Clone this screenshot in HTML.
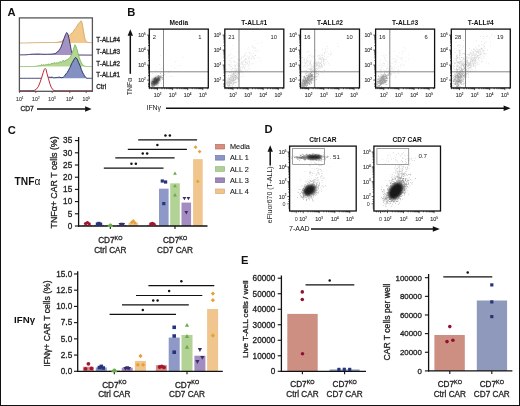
<!DOCTYPE html>
<html><head><meta charset="utf-8"><title>Figure</title><style>html,body{margin:0;padding:0;background:#fff;width:520px;height:406px;overflow:hidden}svg{display:block;will-change:transform;font-family:"Liberation Sans",sans-serif}text{stroke:#222;stroke-width:0.3px}text[font-weight="bold"],text.t{stroke:none}text.p{stroke:#333;stroke-width:0.12px}text.q{stroke-width:0.12px}</style></head><body>
<svg width="520" height="406" viewBox="0 0 520 406" font-family='"Liberation Sans", sans-serif'><defs><filter id="blur1" x="-50%" y="-50%" width="200%" height="200%"><feGaussianBlur stdDeviation="1.3"/></filter></defs><rect x="0.50" y="0.50" width="519.00" height="405.00" fill="#fff" stroke="#111" stroke-width="1" />
<text x="7.60" y="15.80" font-size="11.2" text-anchor="start" font-weight="bold" fill="#111" >A</text>
<clipPath id="clipA"><rect x="19.4" y="17.9" width="73.0" height="73.4"/></clipPath>
<g clip-path="url(#clipA)">
<path d="M18.40,43.10 L19.40,43.10 L20.22,43.08 L21.05,43.06 L21.87,43.04 L22.70,43.02 L23.52,43.00 L24.34,42.98 L25.17,42.96 L25.99,42.94 L26.82,42.92 L27.64,42.90 L28.46,42.88 L29.29,42.86 L30.11,42.84 L30.94,42.82 L31.76,42.80 L32.58,42.78 L33.41,42.76 L34.23,42.74 L35.06,42.72 L35.88,42.70 L36.70,42.68 L37.53,42.66 L38.35,42.64 L39.18,42.62 L40.00,42.60 L40.83,42.59 L41.67,42.59 L42.50,42.58 L43.33,42.58 L44.17,42.57 L45.00,42.57 L45.83,42.56 L46.67,42.56 L47.50,42.55 L48.33,42.54 L49.17,42.54 L50.00,42.53 L50.83,42.53 L51.67,42.52 L52.50,42.52 L53.33,42.51 L54.17,42.51 L55.00,42.50 L56.00,42.40 L57.00,42.30 L58.00,42.20 L59.00,41.97 L60.00,41.48 L61.00,41.74 L61.83,41.18 L62.67,40.33 L63.50,40.00 L64.33,39.23 L65.17,38.64 L66.00,38.00 L66.83,36.85 L67.67,36.14 L68.50,36.04 L69.50,35.15 L70.50,34.78 L71.50,33.20 L72.50,32.46 L73.50,31.16 L74.50,29.31 L75.50,28.46 L76.50,27.08 L77.50,25.07 L78.50,23.67 L79.35,22.78 L80.20,21.81 L81.00,20.72 L81.80,21.80 L82.60,25.45 L83.50,30.67 L84.40,36.31 L85.30,39.96 L86.50,41.80 L88.00,42.50 L88.88,42.54 L89.76,42.58 L90.64,42.62 L91.52,42.66 L92.40,42.70 L93.40,43.10 Z" fill="#f3c98a" stroke="none"/>
<path d="M18.40,43.10 L19.40,43.10 L20.22,43.08 L21.05,43.06 L21.87,43.04 L22.70,43.02 L23.52,43.00 L24.34,42.98 L25.17,42.96 L25.99,42.94 L26.82,42.92 L27.64,42.90 L28.46,42.88 L29.29,42.86 L30.11,42.84 L30.94,42.82 L31.76,42.80 L32.58,42.78 L33.41,42.76 L34.23,42.74 L35.06,42.72 L35.88,42.70 L36.70,42.68 L37.53,42.66 L38.35,42.64 L39.18,42.62 L40.00,42.60 L40.83,42.59 L41.67,42.59 L42.50,42.58 L43.33,42.58 L44.17,42.57 L45.00,42.57 L45.83,42.56 L46.67,42.56 L47.50,42.55 L48.33,42.54 L49.17,42.54 L50.00,42.53 L50.83,42.53 L51.67,42.52 L52.50,42.52 L53.33,42.51 L54.17,42.51 L55.00,42.50 L56.00,42.40 L57.00,42.30 L58.00,42.20 L59.00,41.97 L60.00,41.48 L61.00,41.74 L61.83,41.18 L62.67,40.33 L63.50,40.00 L64.33,39.23 L65.17,38.64 L66.00,38.00 L66.83,36.85 L67.67,36.14 L68.50,36.04 L69.50,35.15 L70.50,34.78 L71.50,33.20 L72.50,32.46 L73.50,31.16 L74.50,29.31 L75.50,28.46 L76.50,27.08 L77.50,25.07 L78.50,23.67 L79.35,22.78 L80.20,21.81 L81.00,20.72 L81.80,21.80 L82.60,25.45 L83.50,30.67 L84.40,36.31 L85.30,39.96 L86.50,41.80 L88.00,42.50 L88.88,42.54 L89.76,42.58 L90.64,42.62 L91.52,42.66 L92.40,42.70 L93.40,43.10" fill="none" stroke="#c9a266" stroke-width="0.8" stroke-linejoin="round"/>
<path d="M18.40,55.10 L19.40,54.90 L20.22,54.89 L21.05,54.88 L21.88,54.86 L22.70,54.85 L23.52,54.84 L24.35,54.83 L25.18,54.81 L26.00,54.80 L26.86,54.71 L27.71,54.63 L28.57,54.54 L29.43,54.46 L30.29,54.37 L31.14,54.29 L32.00,54.20 L32.86,54.17 L33.71,54.14 L34.57,54.11 L35.43,54.09 L36.29,54.06 L37.14,54.03 L38.00,54.00 L38.86,54.04 L39.71,54.09 L40.57,54.13 L41.43,54.17 L42.29,54.21 L43.14,54.26 L44.00,54.30 L44.86,54.29 L45.71,54.27 L46.57,54.26 L47.43,54.24 L48.29,54.23 L49.14,54.21 L50.00,54.20 L50.80,54.12 L51.60,54.04 L52.40,53.96 L53.20,53.88 L54.00,53.80 L55.00,53.64 L56.00,53.20 L57.00,52.23 L58.00,51.25 L59.00,50.70 L60.00,48.89 L61.00,47.10 L62.50,42.88 L64.00,38.56 L65.50,34.56 L66.70,32.55 L67.80,33.80 L69.00,38.46 L70.20,44.44 L71.20,50.13 L72.20,53.60 L73.50,54.60 L74.33,54.73 L75.17,54.87 L76.00,55.00 L93.40,55.10 Z" fill="#a393c4" stroke="none"/>
<path d="M18.40,55.10 L19.40,54.90 L20.22,54.89 L21.05,54.88 L21.88,54.86 L22.70,54.85 L23.52,54.84 L24.35,54.83 L25.18,54.81 L26.00,54.80 L26.86,54.71 L27.71,54.63 L28.57,54.54 L29.43,54.46 L30.29,54.37 L31.14,54.29 L32.00,54.20 L32.86,54.17 L33.71,54.14 L34.57,54.11 L35.43,54.09 L36.29,54.06 L37.14,54.03 L38.00,54.00 L38.86,54.04 L39.71,54.09 L40.57,54.13 L41.43,54.17 L42.29,54.21 L43.14,54.26 L44.00,54.30 L44.86,54.29 L45.71,54.27 L46.57,54.26 L47.43,54.24 L48.29,54.23 L49.14,54.21 L50.00,54.20 L50.80,54.12 L51.60,54.04 L52.40,53.96 L53.20,53.88 L54.00,53.80 L55.00,53.64 L56.00,53.20 L57.00,52.23 L58.00,51.25 L59.00,50.70 L60.00,48.89 L61.00,47.10 L62.50,42.88 L64.00,38.56 L65.50,34.56 L66.70,32.55 L67.80,33.80 L69.00,38.46 L70.20,44.44 L71.20,50.13 L72.20,53.60 L73.50,54.60 L74.33,54.73 L75.17,54.87 L76.00,55.00 L93.40,55.10" fill="none" stroke="#342a60" stroke-width="0.9" stroke-linejoin="round"/>
<path d="M18.40,66.60 L19.40,66.60 L20.01,66.60 L20.62,66.59 L21.22,66.59 L21.83,66.58 L22.44,66.58 L23.05,66.57 L23.66,66.57 L24.27,66.57 L24.88,66.56 L25.48,66.56 L26.09,66.55 L26.70,66.55 L27.31,66.55 L27.92,66.54 L28.52,66.54 L29.13,66.53 L29.74,66.53 L30.35,66.53 L30.96,66.52 L31.57,66.52 L32.17,66.51 L32.78,66.51 L33.39,66.50 L34.00,66.50 L34.67,66.42 L35.33,66.33 L36.00,66.25 L36.67,66.17 L37.33,66.08 L38.00,65.63 L38.67,65.95 L39.33,65.58 L40.00,65.80 L40.67,65.71 L41.33,64.81 L42.00,64.62 L42.67,65.66 L43.33,64.73 L44.00,64.58 L44.67,65.53 L45.33,64.68 L46.00,65.07 L46.67,64.45 L47.33,64.56 L48.00,63.76 L48.67,64.32 L49.33,64.53 L50.00,63.93 L50.67,64.12 L51.33,63.91 L52.00,62.94 L52.67,63.79 L53.33,63.44 L54.00,62.92 L54.67,62.41 L55.33,63.45 L56.00,62.76 L56.67,62.97 L57.33,63.06 L58.00,62.70 L58.67,62.84 L59.33,61.95 L60.00,62.37 L60.67,61.72 L61.33,62.26 L62.00,62.03 L62.60,60.78 L63.20,60.67 L63.80,60.62 L64.40,61.51 L65.00,60.61 L65.62,60.60 L66.25,59.87 L66.88,59.89 L67.50,59.44 L68.17,58.86 L68.83,58.65 L69.50,58.12 L70.35,57.07 L71.20,55.25 L72.00,53.40 L72.80,51.10 L73.40,49.49 L74.00,47.24 L74.90,44.73 L75.90,46.20 L76.55,48.10 L77.20,50.00 L77.90,52.80 L78.60,55.60 L79.30,57.70 L80.00,59.80 L80.80,61.50 L81.60,63.20 L82.40,64.25 L83.20,65.30 L84.10,65.85 L85.00,66.40 L85.62,66.42 L86.23,66.43 L86.85,66.45 L87.47,66.47 L88.08,66.48 L88.70,66.50 L89.32,66.52 L89.93,66.53 L90.55,66.55 L91.17,66.57 L91.78,66.58 L92.40,66.60 L93.40,66.60 Z" fill="#b3d793" stroke="none"/>
<path d="M18.40,66.60 L19.40,66.60 L20.01,66.60 L20.62,66.59 L21.22,66.59 L21.83,66.58 L22.44,66.58 L23.05,66.57 L23.66,66.57 L24.27,66.57 L24.88,66.56 L25.48,66.56 L26.09,66.55 L26.70,66.55 L27.31,66.55 L27.92,66.54 L28.52,66.54 L29.13,66.53 L29.74,66.53 L30.35,66.53 L30.96,66.52 L31.57,66.52 L32.17,66.51 L32.78,66.51 L33.39,66.50 L34.00,66.50 L34.67,66.42 L35.33,66.33 L36.00,66.25 L36.67,66.17 L37.33,66.08 L38.00,65.63 L38.67,65.95 L39.33,65.58 L40.00,65.80 L40.67,65.71 L41.33,64.81 L42.00,64.62 L42.67,65.66 L43.33,64.73 L44.00,64.58 L44.67,65.53 L45.33,64.68 L46.00,65.07 L46.67,64.45 L47.33,64.56 L48.00,63.76 L48.67,64.32 L49.33,64.53 L50.00,63.93 L50.67,64.12 L51.33,63.91 L52.00,62.94 L52.67,63.79 L53.33,63.44 L54.00,62.92 L54.67,62.41 L55.33,63.45 L56.00,62.76 L56.67,62.97 L57.33,63.06 L58.00,62.70 L58.67,62.84 L59.33,61.95 L60.00,62.37 L60.67,61.72 L61.33,62.26 L62.00,62.03 L62.60,60.78 L63.20,60.67 L63.80,60.62 L64.40,61.51 L65.00,60.61 L65.62,60.60 L66.25,59.87 L66.88,59.89 L67.50,59.44 L68.17,58.86 L68.83,58.65 L69.50,58.12 L70.35,57.07 L71.20,55.25 L72.00,53.40 L72.80,51.10 L73.40,49.49 L74.00,47.24 L74.90,44.73 L75.90,46.20 L76.55,48.10 L77.20,50.00 L77.90,52.80 L78.60,55.60 L79.30,57.70 L80.00,59.80 L80.80,61.50 L81.60,63.20 L82.40,64.25 L83.20,65.30 L84.10,65.85 L85.00,66.40 L85.62,66.42 L86.23,66.43 L86.85,66.45 L87.47,66.47 L88.08,66.48 L88.70,66.50 L89.32,66.52 L89.93,66.53 L90.55,66.55 L91.17,66.57 L91.78,66.58 L92.40,66.60 L93.40,66.60" fill="none" stroke="#72b050" stroke-width="0.8" stroke-linejoin="round"/>
<path d="M18.40,78.30 L19.40,78.30 L20.20,78.30 L21.01,78.30 L21.81,78.30 L22.61,78.30 L23.41,78.30 L24.22,78.30 L25.02,78.30 L25.82,78.30 L26.63,78.30 L27.43,78.30 L28.23,78.30 L29.03,78.30 L29.84,78.30 L30.64,78.30 L31.44,78.30 L32.25,78.30 L33.05,78.30 L33.85,78.30 L34.65,78.30 L35.46,78.30 L36.26,78.30 L37.06,78.30 L37.87,78.30 L38.67,78.30 L39.47,78.30 L40.27,78.30 L41.08,78.30 L41.88,78.30 L42.68,78.30 L43.49,78.30 L44.29,78.30 L45.09,78.30 L45.89,78.30 L46.70,78.30 L47.50,78.30 L48.60,77.34 L49.45,77.24 L50.30,77.39 L51.15,77.22 L52.00,77.14 L52.80,77.38 L53.60,77.73 L54.40,77.70 L55.20,77.72 L56.00,77.43 L56.80,77.58 L57.60,77.39 L58.40,77.28 L59.20,77.20 L60.00,77.23 L61.00,77.71 L62.00,77.70 L63.20,77.28 L64.60,75.88 L66.00,73.82 L67.20,72.59 L68.10,70.98 L69.00,69.24 L69.85,67.66 L70.70,66.03 L71.55,63.80 L72.40,62.36 L74.00,59.40 L75.50,57.50 L77.00,58.81 L78.50,62.28 L80.00,65.55 L81.40,69.56 L82.80,72.92 L83.65,74.28 L84.50,75.80 L85.80,77.60 L87.00,78.30 L87.90,78.30 L88.80,78.30 L89.70,78.30 L90.60,78.30 L91.50,78.30 L92.40,78.30 L93.40,78.30 Z" fill="#8590c2" stroke="none"/>
<path d="M18.40,78.30 L19.40,78.30 L20.20,78.30 L21.01,78.30 L21.81,78.30 L22.61,78.30 L23.41,78.30 L24.22,78.30 L25.02,78.30 L25.82,78.30 L26.63,78.30 L27.43,78.30 L28.23,78.30 L29.03,78.30 L29.84,78.30 L30.64,78.30 L31.44,78.30 L32.25,78.30 L33.05,78.30 L33.85,78.30 L34.65,78.30 L35.46,78.30 L36.26,78.30 L37.06,78.30 L37.87,78.30 L38.67,78.30 L39.47,78.30 L40.27,78.30 L41.08,78.30 L41.88,78.30 L42.68,78.30 L43.49,78.30 L44.29,78.30 L45.09,78.30 L45.89,78.30 L46.70,78.30 L47.50,78.30 L48.60,77.34 L49.45,77.24 L50.30,77.39 L51.15,77.22 L52.00,77.14 L52.80,77.38 L53.60,77.73 L54.40,77.70 L55.20,77.72 L56.00,77.43 L56.80,77.58 L57.60,77.39 L58.40,77.28 L59.20,77.20 L60.00,77.23 L61.00,77.71 L62.00,77.70 L63.20,77.28 L64.60,75.88 L66.00,73.82 L67.20,72.59 L68.10,70.98 L69.00,69.24 L69.85,67.66 L70.70,66.03 L71.55,63.80 L72.40,62.36 L74.00,59.40 L75.50,57.50 L77.00,58.81 L78.50,62.28 L80.00,65.55 L81.40,69.56 L82.80,72.92 L83.65,74.28 L84.50,75.80 L85.80,77.60 L87.00,78.30 L87.90,78.30 L88.80,78.30 L89.70,78.30 L90.60,78.30 L91.50,78.30 L92.40,78.30 L93.40,78.30" fill="none" stroke="#1c2862" stroke-width="0.9" stroke-linejoin="round"/>
<path d="M18.40,90.80 L19.40,90.80 L33.00,90.70 L34.80,90.20 L36.60,88.90 L38.30,86.70 L39.80,83.00 L41.50,78.20 L43.20,72.60 L44.30,69.40 L45.10,68.40 L46.00,69.40 L47.00,73.60 L48.40,78.40 L49.80,83.50 L51.20,87.20 L52.60,89.40 L54.00,90.50 L56.00,90.80 L92.40,90.80 L93.40,90.80 Z" fill="#ffffff" stroke="none"/>
<path d="M18.40,90.80 L19.40,90.80 L33.00,90.70 L34.80,90.20 L36.60,88.90 L38.30,86.70 L39.80,83.00 L41.50,78.20 L43.20,72.60 L44.30,69.40 L45.10,68.40 L46.00,69.40 L47.00,73.60 L48.40,78.40 L49.80,83.50 L51.20,87.20 L52.60,89.40 L54.00,90.50 L56.00,90.80 L92.40,90.80 L93.40,90.80" fill="none" stroke="#b82a3a" stroke-width="1.0" stroke-linejoin="round"/>
</g>
<rect x="19.40" y="17.90" width="73.00" height="73.40" fill="none" stroke="#555" stroke-width="1.3" />
<line x1="19.60" y1="91.30" x2="19.60" y2="93.10" stroke="#444" stroke-width="0.8" />
<line x1="35.80" y1="91.30" x2="35.80" y2="93.10" stroke="#444" stroke-width="0.8" />
<line x1="52.20" y1="91.30" x2="52.20" y2="93.10" stroke="#444" stroke-width="0.8" />
<line x1="69.80" y1="91.30" x2="69.80" y2="93.10" stroke="#444" stroke-width="0.8" />
<line x1="86.20" y1="91.30" x2="86.20" y2="93.10" stroke="#444" stroke-width="0.8" />
<text class="p" x="19.80" y="101.00" font-size="5.2" text-anchor="middle" fill="#444">10<tspan font-size="2.86" dy="-2.34">1</tspan></text>
<text class="p" x="35.80" y="101.00" font-size="5.2" text-anchor="middle" fill="#444">10<tspan font-size="2.86" dy="-2.34">2</tspan></text>
<text class="p" x="52.00" y="101.00" font-size="5.2" text-anchor="middle" fill="#444">10<tspan font-size="2.86" dy="-2.34">3</tspan></text>
<text class="p" x="69.60" y="101.00" font-size="5.2" text-anchor="middle" fill="#444">10<tspan font-size="2.86" dy="-2.34">4</tspan></text>
<text class="p" x="86.20" y="101.00" font-size="5.2" text-anchor="middle" fill="#444">10<tspan font-size="2.86" dy="-2.34">5</tspan></text>
<text x="96.30" y="41.80" font-size="6.3" text-anchor="start" font-weight="normal" fill="#333" >T-ALL#4</text>
<text x="96.30" y="53.60" font-size="6.3" text-anchor="start" font-weight="normal" fill="#333" >T-ALL#3</text>
<text x="96.30" y="66.00" font-size="6.3" text-anchor="start" font-weight="normal" fill="#333" >T-ALL#2</text>
<text x="96.30" y="77.40" font-size="6.3" text-anchor="start" font-weight="normal" fill="#333" >T-ALL#1</text>
<text x="96.30" y="88.80" font-size="6.3" text-anchor="start" font-weight="normal" fill="#333" >Ctrl</text>
<text x="20.40" y="111.40" font-size="6.7" text-anchor="start" font-weight="normal" fill="#333" >CD7</text>
<line x1="37.00" y1="109.00" x2="85.60" y2="109.00" stroke="#111" stroke-width="1.5" />
<path d="M91.60,109.00 L85.10,106.30 L85.10,111.70 Z" fill="#111"/>
<text x="127.20" y="16.10" font-size="11.2" text-anchor="start" font-weight="bold" fill="#111" >B</text>
<line x1="130.30" y1="73.80" x2="130.30" y2="35.30" stroke="#111" stroke-width="1.5" />
<path d="M130.30,29.30 L127.60,35.80 L133.00,35.80 Z" fill="#111"/>
<text class="t" transform="translate(131.7,95.2) rotate(-90)" font-size="6.9" fill="#222">TNF&#945;</text>
<text x="146.50" y="109.60" font-size="6.9" text-anchor="start" font-weight="normal" fill="#222" class="t">IFN&#947;</text>
<line x1="166.00" y1="108.20" x2="504.10" y2="108.20" stroke="#111" stroke-width="1.5" />
<path d="M510.60,108.20 L503.60,105.40 L503.60,111.00 Z" fill="#111"/>
<ellipse cx="155.5" cy="81.10000000000001" rx="5.2" ry="3.2" transform="rotate(-45 155.5 81.10000000000001)" fill="#222" opacity="0.75" filter="url(#blur1)"/>
<path fill="#222" fill-opacity="0.5" d="M152.6 83.9h0.7v0.7h-0.7zM158.4 78.1h0.7v0.7h-0.7zM152.3 83.4h0.7v0.7h-0.7zM157.0 81.9h0.7v0.7h-0.7zM152.6 81.0h0.7v0.7h-0.7zM157.6 80.3h0.7v0.7h-0.7zM159.8 79.6h0.7v0.7h-0.7zM155.5 80.6h0.7v0.7h-0.7zM162.5 75.4h0.7v0.7h-0.7zM153.8 80.5h0.7v0.7h-0.7zM156.0 81.0h0.7v0.7h-0.7zM154.9 81.5h0.7v0.7h-0.7zM156.5 81.6h0.7v0.7h-0.7zM158.7 79.1h0.7v0.7h-0.7zM151.1 85.6h0.7v0.7h-0.7zM152.1 83.4h0.7v0.7h-0.7zM152.0 83.8h0.7v0.7h-0.7zM153.8 82.8h0.7v0.7h-0.7zM164.4 74.4h0.7v0.7h-0.7zM158.0 77.0h0.7v0.7h-0.7zM155.1 82.6h0.7v0.7h-0.7zM155.6 81.7h0.7v0.7h-0.7zM156.1 79.0h0.7v0.7h-0.7zM157.3 78.4h0.7v0.7h-0.7zM160.7 76.4h0.7v0.7h-0.7zM157.6 79.6h0.7v0.7h-0.7zM158.3 78.0h0.7v0.7h-0.7zM158.4 78.7h0.7v0.7h-0.7zM159.1 79.5h0.7v0.7h-0.7zM156.2 79.3h0.7v0.7h-0.7zM157.8 80.2h0.7v0.7h-0.7zM160.1 77.0h0.7v0.7h-0.7zM157.2 80.7h0.7v0.7h-0.7zM156.5 80.7h0.7v0.7h-0.7zM156.3 79.5h0.7v0.7h-0.7zM153.2 82.2h0.7v0.7h-0.7zM157.3 82.3h0.7v0.7h-0.7zM158.3 80.8h0.7v0.7h-0.7zM157.8 80.6h0.7v0.7h-0.7zM156.3 81.9h0.7v0.7h-0.7zM160.4 76.9h0.7v0.7h-0.7zM154.0 85.6h0.7v0.7h-0.7zM156.4 82.1h0.7v0.7h-0.7zM158.1 77.2h0.7v0.7h-0.7zM162.1 79.2h0.7v0.7h-0.7zM156.3 81.8h0.7v0.7h-0.7zM156.1 79.1h0.7v0.7h-0.7zM155.5 81.8h0.7v0.7h-0.7zM158.7 79.9h0.7v0.7h-0.7zM156.0 83.1h0.7v0.7h-0.7zM153.8 83.7h0.7v0.7h-0.7zM158.7 78.2h0.7v0.7h-0.7zM151.1 82.8h0.7v0.7h-0.7zM156.4 81.3h0.7v0.7h-0.7zM159.8 76.2h0.7v0.7h-0.7zM155.8 82.0h0.7v0.7h-0.7zM155.4 77.1h0.7v0.7h-0.7zM157.9 83.3h0.7v0.7h-0.7zM158.4 77.4h0.7v0.7h-0.7zM154.7 82.1h0.7v0.7h-0.7zM162.3 77.1h0.7v0.7h-0.7zM156.1 83.4h0.7v0.7h-0.7zM155.6 84.3h0.7v0.7h-0.7zM154.0 81.4h0.7v0.7h-0.7zM157.7 81.9h0.7v0.7h-0.7zM157.5 80.1h0.7v0.7h-0.7zM151.1 83.2h0.7v0.7h-0.7zM154.2 81.2h0.7v0.7h-0.7zM157.3 79.2h0.7v0.7h-0.7zM157.8 79.5h0.7v0.7h-0.7zM154.9 81.8h0.7v0.7h-0.7zM156.9 81.5h0.7v0.7h-0.7zM154.6 81.4h0.7v0.7h-0.7zM152.3 86.3h0.7v0.7h-0.7zM159.6 77.8h0.7v0.7h-0.7zM154.6 79.7h0.7v0.7h-0.7zM156.2 80.9h0.7v0.7h-0.7zM161.5 77.1h0.7v0.7h-0.7zM153.8 78.2h0.7v0.7h-0.7zM159.5 78.5h0.7v0.7h-0.7zM151.6 84.3h0.7v0.7h-0.7zM158.7 79.7h0.7v0.7h-0.7zM155.3 77.6h0.7v0.7h-0.7zM155.5 78.5h0.7v0.7h-0.7zM157.4 76.1h0.7v0.7h-0.7zM153.4 84.8h0.7v0.7h-0.7zM160.1 75.7h0.7v0.7h-0.7zM151.8 85.4h0.7v0.7h-0.7zM158.0 77.5h0.7v0.7h-0.7zM154.0 81.1h0.7v0.7h-0.7zM152.7 82.0h0.7v0.7h-0.7zM159.1 79.6h0.7v0.7h-0.7zM161.1 76.7h0.7v0.7h-0.7zM155.4 79.5h0.7v0.7h-0.7zM155.5 78.9h0.7v0.7h-0.7zM151.2 85.6h0.7v0.7h-0.7zM159.5 79.5h0.7v0.7h-0.7zM159.3 78.7h0.7v0.7h-0.7zM153.9 82.4h0.7v0.7h-0.7zM154.8 79.7h0.7v0.7h-0.7zM151.4 81.7h0.7v0.7h-0.7zM155.8 81.2h0.7v0.7h-0.7zM154.6 84.3h0.7v0.7h-0.7zM156.3 81.6h0.7v0.7h-0.7zM159.0 77.1h0.7v0.7h-0.7zM150.7 86.0h0.7v0.7h-0.7zM154.0 84.5h0.7v0.7h-0.7zM156.7 82.0h0.7v0.7h-0.7zM157.8 75.8h0.7v0.7h-0.7zM157.7 78.3h0.7v0.7h-0.7zM153.8 81.6h0.7v0.7h-0.7zM157.8 80.9h0.7v0.7h-0.7zM158.4 76.1h0.7v0.7h-0.7zM154.3 78.0h0.7v0.7h-0.7zM155.5 82.1h0.7v0.7h-0.7zM153.8 82.8h0.7v0.7h-0.7zM156.4 82.2h0.7v0.7h-0.7zM153.7 81.1h0.7v0.7h-0.7zM153.8 85.4h0.7v0.7h-0.7zM158.6 78.6h0.7v0.7h-0.7zM156.4 80.7h0.7v0.7h-0.7zM156.3 80.1h0.7v0.7h-0.7zM154.9 79.4h0.7v0.7h-0.7zM154.1 85.0h0.7v0.7h-0.7zM157.2 80.0h0.7v0.7h-0.7zM155.2 81.4h0.7v0.7h-0.7zM156.7 79.1h0.7v0.7h-0.7zM156.3 80.9h0.7v0.7h-0.7zM153.9 81.0h0.7v0.7h-0.7zM153.2 81.0h0.7v0.7h-0.7zM158.1 75.1h0.7v0.7h-0.7zM155.1 80.4h0.7v0.7h-0.7zM154.2 82.3h0.7v0.7h-0.7zM158.7 78.8h0.7v0.7h-0.7zM155.4 80.1h0.7v0.7h-0.7zM155.5 82.7h0.7v0.7h-0.7zM154.8 79.7h0.7v0.7h-0.7zM152.5 81.5h0.7v0.7h-0.7zM152.2 85.5h0.7v0.7h-0.7zM156.7 79.8h0.7v0.7h-0.7zM159.6 76.9h0.7v0.7h-0.7zM157.8 80.8h0.7v0.7h-0.7zM151.8 81.2h0.7v0.7h-0.7zM153.4 84.3h0.7v0.7h-0.7zM159.2 76.3h0.7v0.7h-0.7zM158.5 78.2h0.7v0.7h-0.7zM154.8 80.7h0.7v0.7h-0.7zM155.0 78.4h0.7v0.7h-0.7zM153.2 80.7h0.7v0.7h-0.7zM157.1 83.5h0.7v0.7h-0.7zM162.9 75.0h0.7v0.7h-0.7zM151.3 83.6h0.7v0.7h-0.7zM153.4 86.1h0.7v0.7h-0.7zM157.3 78.5h0.7v0.7h-0.7zM158.2 80.0h0.7v0.7h-0.7zM151.6 83.2h0.7v0.7h-0.7zM155.2 81.4h0.7v0.7h-0.7zM156.1 80.1h0.7v0.7h-0.7zM156.3 79.5h0.7v0.7h-0.7zM153.5 85.3h0.7v0.7h-0.7zM156.7 81.0h0.7v0.7h-0.7zM151.7 83.7h0.7v0.7h-0.7zM157.9 77.1h0.7v0.7h-0.7zM158.7 78.1h0.7v0.7h-0.7zM156.8 79.9h0.7v0.7h-0.7zM156.4 82.5h0.7v0.7h-0.7zM154.8 84.4h0.7v0.7h-0.7zM153.8 80.8h0.7v0.7h-0.7zM157.6 77.7h0.7v0.7h-0.7zM154.8 83.2h0.7v0.7h-0.7zM158.9 75.5h0.7v0.7h-0.7zM157.1 83.2h0.7v0.7h-0.7zM158.9 78.2h0.7v0.7h-0.7zM154.2 81.6h0.7v0.7h-0.7zM152.8 82.7h0.7v0.7h-0.7zM155.3 81.0h0.7v0.7h-0.7zM158.9 78.2h0.7v0.7h-0.7zM152.0 85.6h0.7v0.7h-0.7zM153.0 82.2h0.7v0.7h-0.7zM155.5 80.6h0.7v0.7h-0.7zM153.2 82.4h0.7v0.7h-0.7zM161.5 75.6h0.7v0.7h-0.7zM155.4 83.1h0.7v0.7h-0.7zM157.7 80.8h0.7v0.7h-0.7zM158.0 75.8h0.7v0.7h-0.7zM153.6 82.8h0.7v0.7h-0.7zM157.1 82.2h0.7v0.7h-0.7zM157.0 79.6h0.7v0.7h-0.7zM155.9 80.5h0.7v0.7h-0.7zM156.4 81.6h0.7v0.7h-0.7zM154.9 80.2h0.7v0.7h-0.7zM153.6 84.5h0.7v0.7h-0.7zM159.1 80.1h0.7v0.7h-0.7zM158.0 80.7h0.7v0.7h-0.7zM155.8 82.0h0.7v0.7h-0.7zM153.1 82.6h0.7v0.7h-0.7zM153.9 83.6h0.7v0.7h-0.7zM154.3 81.8h0.7v0.7h-0.7zM156.8 82.4h0.7v0.7h-0.7zM153.7 80.8h0.7v0.7h-0.7zM157.9 77.4h0.7v0.7h-0.7zM157.0 79.0h0.7v0.7h-0.7zM155.5 78.0h0.7v0.7h-0.7zM157.7 78.6h0.7v0.7h-0.7zM153.5 86.2h0.7v0.7h-0.7zM157.7 85.5h0.7v0.7h-0.7zM156.9 79.5h0.7v0.7h-0.7zM156.1 83.5h0.7v0.7h-0.7zM155.7 81.7h0.7v0.7h-0.7zM157.1 78.3h0.7v0.7h-0.7zM156.1 79.8h0.7v0.7h-0.7zM152.6 84.8h0.7v0.7h-0.7zM157.5 79.7h0.7v0.7h-0.7zM153.4 79.2h0.7v0.7h-0.7zM157.1 79.8h0.7v0.7h-0.7zM151.4 84.1h0.7v0.7h-0.7zM151.8 83.8h0.7v0.7h-0.7zM156.2 81.2h0.7v0.7h-0.7zM156.4 80.8h0.7v0.7h-0.7zM152.8 82.5h0.7v0.7h-0.7zM154.5 81.5h0.7v0.7h-0.7zM156.5 81.4h0.7v0.7h-0.7zM160.1 73.3h0.7v0.7h-0.7zM156.8 79.8h0.7v0.7h-0.7zM161.7 78.1h0.7v0.7h-0.7zM151.5 84.8h0.7v0.7h-0.7zM154.4 83.6h0.7v0.7h-0.7zM153.1 82.8h0.7v0.7h-0.7zM155.5 81.0h0.7v0.7h-0.7zM154.3 78.9h0.7v0.7h-0.7zM157.0 81.7h0.7v0.7h-0.7zM155.6 79.3h0.7v0.7h-0.7zM156.3 81.5h0.7v0.7h-0.7zM155.3 81.2h0.7v0.7h-0.7zM159.5 76.2h0.7v0.7h-0.7zM154.3 78.7h0.7v0.7h-0.7zM154.0 81.0h0.7v0.7h-0.7zM153.3 81.6h0.7v0.7h-0.7zM160.5 77.1h0.7v0.7h-0.7zM155.5 84.9h0.7v0.7h-0.7zM155.6 78.0h0.7v0.7h-0.7zM156.8 78.5h0.7v0.7h-0.7zM160.1 75.6h0.7v0.7h-0.7zM154.3 79.3h0.7v0.7h-0.7zM156.1 79.0h0.7v0.7h-0.7zM155.6 80.4h0.7v0.7h-0.7zM154.2 83.7h0.7v0.7h-0.7zM158.2 79.2h0.7v0.7h-0.7zM153.5 80.8h0.7v0.7h-0.7zM156.5 84.5h0.7v0.7h-0.7zM154.6 80.4h0.7v0.7h-0.7zM154.0 80.4h0.7v0.7h-0.7zM153.3 82.4h0.7v0.7h-0.7zM159.5 78.1h0.7v0.7h-0.7zM154.5 79.1h0.7v0.7h-0.7zM156.4 80.4h0.7v0.7h-0.7zM152.6 81.4h0.7v0.7h-0.7zM155.7 82.7h0.7v0.7h-0.7zM157.4 80.0h0.7v0.7h-0.7z"/>
<path fill="#777" fill-opacity="0.25" d="M151.7 78.3h0.7v0.7h-0.7zM161.1 68.2h0.7v0.7h-0.7zM171.0 65.7h0.7v0.7h-0.7zM161.1 82.8h0.7v0.7h-0.7zM159.3 64.2h0.7v0.7h-0.7zM152.3 73.1h0.7v0.7h-0.7zM168.6 72.2h0.7v0.7h-0.7zM172.4 76.3h0.7v0.7h-0.7zM177.1 65.9h0.7v0.7h-0.7zM174.2 67.8h0.7v0.7h-0.7zM159.1 78.0h0.7v0.7h-0.7zM164.2 68.4h0.7v0.7h-0.7zM179.8 65.3h0.7v0.7h-0.7zM159.8 71.8h0.7v0.7h-0.7zM182.6 57.1h0.7v0.7h-0.7zM169.7 70.4h0.7v0.7h-0.7zM167.9 71.3h0.7v0.7h-0.7zM159.8 69.3h0.7v0.7h-0.7zM162.4 68.4h0.7v0.7h-0.7zM170.3 76.1h0.7v0.7h-0.7zM156.5 77.9h0.7v0.7h-0.7zM155.8 70.3h0.7v0.7h-0.7zM161.8 71.9h0.7v0.7h-0.7zM160.2 55.2h0.7v0.7h-0.7zM175.0 61.5h0.7v0.7h-0.7z"/>
<line x1="163.50" y1="29.10" x2="163.50" y2="87.90" stroke="#666" stroke-width="0.8" />
<line x1="149.30" y1="71.80" x2="208.30" y2="71.80" stroke="#666" stroke-width="0.8" />
<rect x="149.30" y="29.10" width="59.00" height="58.80" fill="none" stroke="#111" stroke-width="1.3" />
<text class="p" x="141.90" y="37.10" font-size="5.3" text-anchor="middle" fill="#333">10<tspan font-size="2.92" dy="-2.38">5</tspan></text>
<text class="p" x="141.90" y="52.10" font-size="5.3" text-anchor="middle" fill="#333">10<tspan font-size="2.92" dy="-2.38">4</tspan></text>
<text class="p" x="141.90" y="67.10" font-size="5.3" text-anchor="middle" fill="#333">10<tspan font-size="2.92" dy="-2.38">3</tspan></text>
<text class="p" x="141.90" y="82.10" font-size="5.3" text-anchor="middle" fill="#333">10<tspan font-size="2.92" dy="-2.38">2</tspan></text>
<text class="p" x="157.50" y="97.30" font-size="5.4" text-anchor="middle" fill="#333">10<tspan font-size="2.97" dy="-2.43">2</tspan></text>
<text class="p" x="172.60" y="97.30" font-size="5.4" text-anchor="middle" fill="#333">10<tspan font-size="2.97" dy="-2.43">3</tspan></text>
<text class="p" x="187.70" y="97.30" font-size="5.4" text-anchor="middle" fill="#333">10<tspan font-size="2.97" dy="-2.43">4</tspan></text>
<text class="p" x="202.80" y="97.30" font-size="5.4" text-anchor="middle" fill="#333">10<tspan font-size="2.97" dy="-2.43">5</tspan></text>
<text x="178.80" y="24.80" font-size="6.6" text-anchor="middle" font-weight="bold" fill="#111" >Media</text>
<text x="152.80" y="38.90" font-size="5.8" text-anchor="start" font-weight="normal" fill="#222" class="t">2</text>
<text x="201.50" y="38.90" font-size="5.8" text-anchor="end" font-weight="normal" fill="#222" class="t">1</text>
<path fill="#444" fill-opacity="0.3" d="M234.6 82.1h0.7v0.7h-0.7zM229.1 79.0h0.7v0.7h-0.7zM233.2 84.3h0.7v0.7h-0.7zM233.3 75.5h0.7v0.7h-0.7zM229.2 81.5h0.7v0.7h-0.7zM235.3 77.8h0.7v0.7h-0.7zM230.6 80.1h0.7v0.7h-0.7zM232.5 77.3h0.7v0.7h-0.7zM231.9 80.7h0.7v0.7h-0.7zM237.7 76.1h0.7v0.7h-0.7zM235.3 74.7h0.7v0.7h-0.7zM234.9 78.5h0.7v0.7h-0.7zM230.0 81.1h0.7v0.7h-0.7zM235.1 76.9h0.7v0.7h-0.7zM235.5 82.2h0.7v0.7h-0.7zM237.6 81.1h0.7v0.7h-0.7zM227.4 83.8h0.7v0.7h-0.7zM229.5 84.3h0.7v0.7h-0.7zM232.2 80.4h0.7v0.7h-0.7zM233.6 77.1h0.7v0.7h-0.7zM232.3 77.6h0.7v0.7h-0.7zM239.3 73.9h0.7v0.7h-0.7zM232.0 74.6h0.7v0.7h-0.7zM226.7 80.7h0.7v0.7h-0.7zM234.7 80.4h0.7v0.7h-0.7zM232.9 77.4h0.7v0.7h-0.7zM238.5 72.7h0.7v0.7h-0.7zM228.9 83.3h0.7v0.7h-0.7zM228.4 83.0h0.7v0.7h-0.7zM235.4 77.5h0.7v0.7h-0.7zM233.4 79.1h0.7v0.7h-0.7zM229.5 72.0h0.7v0.7h-0.7zM227.6 82.6h0.7v0.7h-0.7zM226.1 81.9h0.7v0.7h-0.7zM232.7 83.5h0.7v0.7h-0.7zM227.1 81.4h0.7v0.7h-0.7zM232.7 81.0h0.7v0.7h-0.7zM229.0 85.0h0.7v0.7h-0.7zM231.2 81.6h0.7v0.7h-0.7zM237.8 78.3h0.7v0.7h-0.7zM232.4 76.6h0.7v0.7h-0.7zM229.6 77.1h0.7v0.7h-0.7zM239.1 70.7h0.7v0.7h-0.7zM236.5 76.0h0.7v0.7h-0.7zM234.9 75.6h0.7v0.7h-0.7zM229.9 82.7h0.7v0.7h-0.7zM233.3 77.7h0.7v0.7h-0.7zM237.7 78.5h0.7v0.7h-0.7zM232.4 76.1h0.7v0.7h-0.7zM232.4 78.7h0.7v0.7h-0.7zM231.7 82.5h0.7v0.7h-0.7zM229.9 82.0h0.7v0.7h-0.7zM234.8 79.2h0.7v0.7h-0.7zM240.1 69.5h0.7v0.7h-0.7zM231.7 76.5h0.7v0.7h-0.7zM226.1 82.7h0.7v0.7h-0.7zM234.2 78.7h0.7v0.7h-0.7zM235.2 73.2h0.7v0.7h-0.7zM235.4 74.8h0.7v0.7h-0.7zM227.6 84.4h0.7v0.7h-0.7zM233.6 76.6h0.7v0.7h-0.7zM229.0 81.2h0.7v0.7h-0.7zM231.9 79.4h0.7v0.7h-0.7zM228.3 75.2h0.7v0.7h-0.7zM236.6 77.5h0.7v0.7h-0.7zM227.4 78.0h0.7v0.7h-0.7zM229.4 80.2h0.7v0.7h-0.7zM233.4 78.0h0.7v0.7h-0.7zM233.1 79.8h0.7v0.7h-0.7zM235.7 78.0h0.7v0.7h-0.7zM236.4 81.7h0.7v0.7h-0.7zM230.8 79.3h0.7v0.7h-0.7zM228.7 81.2h0.7v0.7h-0.7zM229.3 81.6h0.7v0.7h-0.7zM233.0 80.8h0.7v0.7h-0.7zM227.7 85.8h0.7v0.7h-0.7zM230.7 80.3h0.7v0.7h-0.7zM230.0 75.0h0.7v0.7h-0.7zM232.8 74.0h0.7v0.7h-0.7zM235.8 77.5h0.7v0.7h-0.7zM237.4 78.3h0.7v0.7h-0.7zM234.4 82.5h0.7v0.7h-0.7zM231.7 84.7h0.7v0.7h-0.7zM231.4 81.0h0.7v0.7h-0.7zM229.4 83.1h0.7v0.7h-0.7zM234.2 76.9h0.7v0.7h-0.7zM227.3 82.7h0.7v0.7h-0.7zM233.4 78.5h0.7v0.7h-0.7zM228.3 79.9h0.7v0.7h-0.7zM230.9 72.6h0.7v0.7h-0.7zM229.7 85.6h0.7v0.7h-0.7zM227.2 82.2h0.7v0.7h-0.7zM237.9 78.2h0.7v0.7h-0.7zM235.1 77.4h0.7v0.7h-0.7zM232.9 79.9h0.7v0.7h-0.7zM237.7 78.6h0.7v0.7h-0.7zM232.0 76.4h0.7v0.7h-0.7zM231.3 79.8h0.7v0.7h-0.7zM229.4 78.8h0.7v0.7h-0.7zM228.2 81.8h0.7v0.7h-0.7zM229.7 82.5h0.7v0.7h-0.7zM235.5 78.6h0.7v0.7h-0.7zM231.9 84.6h0.7v0.7h-0.7zM234.2 74.0h0.7v0.7h-0.7zM229.3 82.1h0.7v0.7h-0.7zM228.7 84.2h0.7v0.7h-0.7zM235.3 79.4h0.7v0.7h-0.7zM226.1 83.8h0.7v0.7h-0.7zM236.6 73.5h0.7v0.7h-0.7zM227.6 78.9h0.7v0.7h-0.7zM228.3 76.9h0.7v0.7h-0.7zM230.1 76.6h0.7v0.7h-0.7zM232.0 86.5h0.7v0.7h-0.7zM228.1 85.0h0.7v0.7h-0.7zM236.0 70.3h0.7v0.7h-0.7zM232.2 79.6h0.7v0.7h-0.7zM230.6 83.1h0.7v0.7h-0.7zM230.2 82.0h0.7v0.7h-0.7zM230.4 80.4h0.7v0.7h-0.7zM231.6 76.6h0.7v0.7h-0.7zM238.8 80.2h0.7v0.7h-0.7zM231.1 78.4h0.7v0.7h-0.7zM229.2 85.3h0.7v0.7h-0.7zM230.6 78.5h0.7v0.7h-0.7zM234.8 77.2h0.7v0.7h-0.7zM231.6 85.9h0.7v0.7h-0.7zM234.9 81.7h0.7v0.7h-0.7zM233.3 82.8h0.7v0.7h-0.7zM231.2 83.2h0.7v0.7h-0.7zM235.6 76.3h0.7v0.7h-0.7zM227.2 84.4h0.7v0.7h-0.7zM231.4 82.0h0.7v0.7h-0.7zM229.7 82.9h0.7v0.7h-0.7zM235.3 84.9h0.7v0.7h-0.7zM238.2 77.0h0.7v0.7h-0.7zM237.0 74.7h0.7v0.7h-0.7zM236.0 77.7h0.7v0.7h-0.7zM236.6 77.9h0.7v0.7h-0.7zM231.0 78.3h0.7v0.7h-0.7zM236.3 77.2h0.7v0.7h-0.7zM234.4 79.7h0.7v0.7h-0.7zM230.5 81.9h0.7v0.7h-0.7zM233.5 73.3h0.7v0.7h-0.7zM230.7 80.4h0.7v0.7h-0.7zM233.2 81.9h0.7v0.7h-0.7zM229.4 80.7h0.7v0.7h-0.7zM234.0 72.9h0.7v0.7h-0.7zM238.5 72.8h0.7v0.7h-0.7zM236.5 77.3h0.7v0.7h-0.7zM238.6 78.8h0.7v0.7h-0.7zM231.7 74.8h0.7v0.7h-0.7zM232.3 80.6h0.7v0.7h-0.7zM233.8 74.9h0.7v0.7h-0.7zM228.8 79.4h0.7v0.7h-0.7zM232.8 76.6h0.7v0.7h-0.7zM231.4 83.0h0.7v0.7h-0.7zM230.3 84.9h0.7v0.7h-0.7zM232.9 78.5h0.7v0.7h-0.7zM235.7 78.9h0.7v0.7h-0.7zM230.8 78.8h0.7v0.7h-0.7zM231.6 81.0h0.7v0.7h-0.7zM235.9 78.1h0.7v0.7h-0.7zM229.6 77.3h0.7v0.7h-0.7zM232.7 80.5h0.7v0.7h-0.7zM235.9 75.7h0.7v0.7h-0.7zM227.2 85.4h0.7v0.7h-0.7zM231.2 76.6h0.7v0.7h-0.7zM237.7 78.8h0.7v0.7h-0.7zM232.0 80.6h0.7v0.7h-0.7zM229.1 84.6h0.7v0.7h-0.7zM230.3 79.5h0.7v0.7h-0.7zM230.7 77.1h0.7v0.7h-0.7zM235.5 82.6h0.7v0.7h-0.7zM234.5 72.0h0.7v0.7h-0.7zM230.7 78.7h0.7v0.7h-0.7zM233.1 72.6h0.7v0.7h-0.7zM235.3 77.1h0.7v0.7h-0.7zM239.7 72.3h0.7v0.7h-0.7zM231.9 79.4h0.7v0.7h-0.7zM228.8 85.1h0.7v0.7h-0.7zM227.1 79.7h0.7v0.7h-0.7zM230.5 79.3h0.7v0.7h-0.7zM235.8 75.7h0.7v0.7h-0.7zM233.6 77.4h0.7v0.7h-0.7zM236.4 77.0h0.7v0.7h-0.7zM232.7 74.4h0.7v0.7h-0.7zM234.3 76.4h0.7v0.7h-0.7zM235.0 79.4h0.7v0.7h-0.7zM233.8 82.1h0.7v0.7h-0.7zM233.2 76.4h0.7v0.7h-0.7zM232.4 80.1h0.7v0.7h-0.7zM227.6 84.4h0.7v0.7h-0.7zM237.1 77.3h0.7v0.7h-0.7zM232.2 81.0h0.7v0.7h-0.7zM235.7 75.8h0.7v0.7h-0.7zM235.2 75.5h0.7v0.7h-0.7zM233.7 80.3h0.7v0.7h-0.7zM227.2 84.8h0.7v0.7h-0.7zM232.6 74.4h0.7v0.7h-0.7zM230.2 79.0h0.7v0.7h-0.7zM228.6 83.2h0.7v0.7h-0.7zM229.0 81.8h0.7v0.7h-0.7zM227.9 81.6h0.7v0.7h-0.7zM238.3 77.0h0.7v0.7h-0.7zM226.2 80.6h0.7v0.7h-0.7zM231.3 75.3h0.7v0.7h-0.7zM235.3 77.6h0.7v0.7h-0.7zM231.6 80.2h0.7v0.7h-0.7zM229.4 78.0h0.7v0.7h-0.7zM232.6 81.4h0.7v0.7h-0.7z"/>
<path fill="#666" fill-opacity="0.22" d="M236.8 72.0h0.7v0.7h-0.7zM249.2 68.1h0.7v0.7h-0.7zM230.7 71.4h0.7v0.7h-0.7zM233.8 70.6h0.7v0.7h-0.7zM239.7 60.3h0.7v0.7h-0.7zM243.0 56.6h0.7v0.7h-0.7zM245.1 57.4h0.7v0.7h-0.7zM243.2 66.1h0.7v0.7h-0.7zM240.0 63.5h0.7v0.7h-0.7zM234.9 65.4h0.7v0.7h-0.7zM253.0 58.1h0.7v0.7h-0.7zM255.5 54.6h0.7v0.7h-0.7zM243.6 60.3h0.7v0.7h-0.7zM239.0 59.4h0.7v0.7h-0.7zM248.7 64.1h0.7v0.7h-0.7zM252.6 63.1h0.7v0.7h-0.7zM232.9 59.8h0.7v0.7h-0.7zM247.0 61.8h0.7v0.7h-0.7zM233.3 67.9h0.7v0.7h-0.7zM247.3 69.7h0.7v0.7h-0.7zM244.4 59.1h0.7v0.7h-0.7zM247.6 65.8h0.7v0.7h-0.7zM231.6 78.4h0.7v0.7h-0.7zM233.3 72.9h0.7v0.7h-0.7zM244.8 62.6h0.7v0.7h-0.7zM229.1 78.6h0.7v0.7h-0.7zM229.7 79.7h0.7v0.7h-0.7zM225.8 76.9h0.7v0.7h-0.7zM237.1 65.5h0.7v0.7h-0.7zM242.6 65.7h0.7v0.7h-0.7zM255.3 55.3h0.7v0.7h-0.7zM249.6 51.9h0.7v0.7h-0.7zM249.3 62.9h0.7v0.7h-0.7zM251.7 63.7h0.7v0.7h-0.7zM233.8 65.2h0.7v0.7h-0.7zM234.8 68.0h0.7v0.7h-0.7zM251.9 45.2h0.7v0.7h-0.7zM241.2 71.0h0.7v0.7h-0.7zM239.6 59.3h0.7v0.7h-0.7zM233.9 75.2h0.7v0.7h-0.7zM246.7 59.7h0.7v0.7h-0.7zM243.5 71.0h0.7v0.7h-0.7zM238.1 79.1h0.7v0.7h-0.7zM233.0 83.3h0.7v0.7h-0.7zM229.4 83.5h0.7v0.7h-0.7zM240.9 57.5h0.7v0.7h-0.7zM241.8 68.0h0.7v0.7h-0.7zM245.4 62.3h0.7v0.7h-0.7zM239.4 65.5h0.7v0.7h-0.7zM241.6 71.8h0.7v0.7h-0.7zM244.6 66.3h0.7v0.7h-0.7zM242.3 72.1h0.7v0.7h-0.7zM259.9 60.6h0.7v0.7h-0.7zM231.2 70.0h0.7v0.7h-0.7zM232.5 71.5h0.7v0.7h-0.7zM256.4 49.8h0.7v0.7h-0.7zM241.6 64.0h0.7v0.7h-0.7zM225.7 73.1h0.7v0.7h-0.7zM235.0 66.5h0.7v0.7h-0.7zM238.0 65.8h0.7v0.7h-0.7zM239.0 58.7h0.7v0.7h-0.7zM248.9 61.2h0.7v0.7h-0.7zM235.0 68.5h0.7v0.7h-0.7zM233.8 61.8h0.7v0.7h-0.7zM246.1 58.6h0.7v0.7h-0.7zM249.3 66.3h0.7v0.7h-0.7zM230.0 69.4h0.7v0.7h-0.7zM244.9 59.1h0.7v0.7h-0.7zM235.4 68.6h0.7v0.7h-0.7zM244.2 55.4h0.7v0.7h-0.7zM241.4 71.3h0.7v0.7h-0.7zM236.3 67.9h0.7v0.7h-0.7zM244.3 68.0h0.7v0.7h-0.7zM248.7 61.4h0.7v0.7h-0.7zM253.8 50.6h0.7v0.7h-0.7zM254.0 57.1h0.7v0.7h-0.7zM238.3 60.3h0.7v0.7h-0.7zM253.3 56.0h0.7v0.7h-0.7zM245.3 70.4h0.7v0.7h-0.7zM237.6 73.1h0.7v0.7h-0.7zM247.9 68.5h0.7v0.7h-0.7zM243.5 73.7h0.7v0.7h-0.7zM236.6 69.5h0.7v0.7h-0.7zM235.6 65.4h0.7v0.7h-0.7zM254.6 55.0h0.7v0.7h-0.7zM240.6 67.2h0.7v0.7h-0.7zM242.0 56.6h0.7v0.7h-0.7zM237.2 71.3h0.7v0.7h-0.7zM231.0 73.7h0.7v0.7h-0.7zM237.6 63.3h0.7v0.7h-0.7zM229.9 72.4h0.7v0.7h-0.7zM242.6 67.3h0.7v0.7h-0.7zM228.3 78.1h0.7v0.7h-0.7zM245.6 52.1h0.7v0.7h-0.7zM229.8 78.9h0.7v0.7h-0.7zM246.6 63.7h0.7v0.7h-0.7zM253.8 58.1h0.7v0.7h-0.7zM252.0 55.8h0.7v0.7h-0.7zM240.9 60.9h0.7v0.7h-0.7zM241.7 63.0h0.7v0.7h-0.7zM236.0 73.7h0.7v0.7h-0.7zM243.8 60.8h0.7v0.7h-0.7zM242.6 66.2h0.7v0.7h-0.7zM244.4 58.9h0.7v0.7h-0.7zM246.1 58.5h0.7v0.7h-0.7zM243.4 60.7h0.7v0.7h-0.7zM257.3 43.0h0.7v0.7h-0.7zM249.1 53.0h0.7v0.7h-0.7zM254.0 47.1h0.7v0.7h-0.7zM246.7 59.7h0.7v0.7h-0.7zM248.5 51.8h0.7v0.7h-0.7zM238.2 70.8h0.7v0.7h-0.7zM247.7 56.3h0.7v0.7h-0.7zM235.1 71.5h0.7v0.7h-0.7zM237.2 63.4h0.7v0.7h-0.7zM239.2 75.1h0.7v0.7h-0.7zM245.4 59.5h0.7v0.7h-0.7zM245.6 53.6h0.7v0.7h-0.7zM235.9 69.8h0.7v0.7h-0.7zM237.7 65.1h0.7v0.7h-0.7zM240.7 76.0h0.7v0.7h-0.7zM240.4 68.5h0.7v0.7h-0.7zM254.5 39.8h0.7v0.7h-0.7zM238.2 73.1h0.7v0.7h-0.7zM228.7 74.5h0.7v0.7h-0.7zM251.6 56.7h0.7v0.7h-0.7zM242.6 76.0h0.7v0.7h-0.7zM230.4 77.6h0.7v0.7h-0.7zM245.7 62.3h0.7v0.7h-0.7zM238.7 72.5h0.7v0.7h-0.7zM244.4 67.3h0.7v0.7h-0.7zM249.0 61.9h0.7v0.7h-0.7zM255.2 50.5h0.7v0.7h-0.7zM239.4 60.0h0.7v0.7h-0.7zM237.8 69.2h0.7v0.7h-0.7zM253.3 47.8h0.7v0.7h-0.7zM244.7 55.1h0.7v0.7h-0.7zM248.1 47.4h0.7v0.7h-0.7zM253.5 52.9h0.7v0.7h-0.7zM258.9 50.7h0.7v0.7h-0.7zM233.3 70.4h0.7v0.7h-0.7zM235.4 72.5h0.7v0.7h-0.7zM251.0 58.2h0.7v0.7h-0.7zM238.4 66.6h0.7v0.7h-0.7zM255.2 47.8h0.7v0.7h-0.7zM246.9 55.6h0.7v0.7h-0.7zM234.5 75.5h0.7v0.7h-0.7zM227.9 86.8h0.7v0.7h-0.7zM254.8 47.9h0.7v0.7h-0.7zM231.9 73.2h0.7v0.7h-0.7zM238.4 64.2h0.7v0.7h-0.7zM249.5 71.5h0.7v0.7h-0.7zM240.1 70.6h0.7v0.7h-0.7zM237.6 68.9h0.7v0.7h-0.7zM236.4 69.4h0.7v0.7h-0.7zM242.3 62.7h0.7v0.7h-0.7zM242.7 60.4h0.7v0.7h-0.7zM244.0 54.1h0.7v0.7h-0.7zM245.3 61.0h0.7v0.7h-0.7zM245.0 61.8h0.7v0.7h-0.7zM240.3 66.9h0.7v0.7h-0.7zM237.7 68.8h0.7v0.7h-0.7zM242.9 56.7h0.7v0.7h-0.7zM259.3 57.2h0.7v0.7h-0.7zM228.7 86.2h0.7v0.7h-0.7zM244.7 65.8h0.7v0.7h-0.7zM252.6 52.5h0.7v0.7h-0.7zM244.0 68.2h0.7v0.7h-0.7zM235.3 69.9h0.7v0.7h-0.7zM241.4 67.4h0.7v0.7h-0.7zM233.0 72.6h0.7v0.7h-0.7zM235.8 75.2h0.7v0.7h-0.7zM236.6 73.9h0.7v0.7h-0.7zM241.2 62.7h0.7v0.7h-0.7zM247.5 62.9h0.7v0.7h-0.7zM238.7 73.4h0.7v0.7h-0.7zM252.3 45.9h0.7v0.7h-0.7zM247.7 49.2h0.7v0.7h-0.7zM241.6 69.8h0.7v0.7h-0.7zM245.5 64.3h0.7v0.7h-0.7zM240.4 70.0h0.7v0.7h-0.7zM231.9 84.5h0.7v0.7h-0.7zM228.5 75.6h0.7v0.7h-0.7zM236.0 64.3h0.7v0.7h-0.7zM249.8 54.6h0.7v0.7h-0.7zM235.4 70.7h0.7v0.7h-0.7zM247.3 63.2h0.7v0.7h-0.7zM237.5 70.4h0.7v0.7h-0.7zM242.2 64.4h0.7v0.7h-0.7zM235.5 72.1h0.7v0.7h-0.7zM228.8 82.0h0.7v0.7h-0.7zM248.2 58.1h0.7v0.7h-0.7zM237.1 58.8h0.7v0.7h-0.7zM238.9 72.6h0.7v0.7h-0.7zM227.7 81.7h0.7v0.7h-0.7zM235.6 80.9h0.7v0.7h-0.7zM245.3 68.9h0.7v0.7h-0.7zM239.5 66.1h0.7v0.7h-0.7zM234.2 80.5h0.7v0.7h-0.7zM238.7 68.8h0.7v0.7h-0.7zM231.6 75.4h0.7v0.7h-0.7zM233.1 73.9h0.7v0.7h-0.7zM251.1 53.6h0.7v0.7h-0.7zM233.1 74.8h0.7v0.7h-0.7zM241.5 61.5h0.7v0.7h-0.7zM228.2 78.3h0.7v0.7h-0.7zM244.4 64.2h0.7v0.7h-0.7zM251.4 58.7h0.7v0.7h-0.7zM244.2 55.7h0.7v0.7h-0.7zM239.4 66.3h0.7v0.7h-0.7zM235.3 75.2h0.7v0.7h-0.7zM237.8 71.9h0.7v0.7h-0.7zM237.1 71.9h0.7v0.7h-0.7zM249.6 60.7h0.7v0.7h-0.7zM248.7 59.6h0.7v0.7h-0.7zM229.7 81.4h0.7v0.7h-0.7zM238.5 62.5h0.7v0.7h-0.7zM252.6 55.5h0.7v0.7h-0.7zM239.0 60.3h0.7v0.7h-0.7zM249.5 57.7h0.7v0.7h-0.7zM233.4 76.4h0.7v0.7h-0.7zM249.1 62.7h0.7v0.7h-0.7zM248.3 64.7h0.7v0.7h-0.7zM232.1 68.8h0.7v0.7h-0.7zM245.5 69.0h0.7v0.7h-0.7zM261.3 42.1h0.7v0.7h-0.7zM241.2 62.5h0.7v0.7h-0.7zM241.5 62.1h0.7v0.7h-0.7zM242.7 64.0h0.7v0.7h-0.7zM248.4 59.6h0.7v0.7h-0.7zM257.1 57.0h0.7v0.7h-0.7zM246.1 59.4h0.7v0.7h-0.7zM245.6 58.1h0.7v0.7h-0.7zM242.4 62.1h0.7v0.7h-0.7zM248.4 57.0h0.7v0.7h-0.7zM241.5 70.8h0.7v0.7h-0.7zM242.9 64.0h0.7v0.7h-0.7zM230.8 76.0h0.7v0.7h-0.7zM249.9 57.5h0.7v0.7h-0.7zM237.8 72.0h0.7v0.7h-0.7zM257.4 52.4h0.7v0.7h-0.7zM239.0 63.8h0.7v0.7h-0.7zM241.3 57.7h0.7v0.7h-0.7zM235.5 66.4h0.7v0.7h-0.7zM252.5 46.8h0.7v0.7h-0.7zM241.0 62.4h0.7v0.7h-0.7zM230.6 77.5h0.7v0.7h-0.7zM249.3 56.4h0.7v0.7h-0.7zM238.0 68.7h0.7v0.7h-0.7zM246.3 62.5h0.7v0.7h-0.7zM238.5 64.8h0.7v0.7h-0.7zM241.1 58.3h0.7v0.7h-0.7zM238.7 73.8h0.7v0.7h-0.7zM241.8 63.9h0.7v0.7h-0.7zM232.0 67.8h0.7v0.7h-0.7z"/>
<path fill="#777" fill-opacity="0.2" d="M228.0 64.3h0.7v0.7h-0.7zM232.8 57.4h0.7v0.7h-0.7zM229.8 75.0h0.7v0.7h-0.7zM229.0 64.6h0.7v0.7h-0.7zM229.6 67.9h0.7v0.7h-0.7zM233.9 73.7h0.7v0.7h-0.7zM235.4 56.3h0.7v0.7h-0.7zM230.0 58.5h0.7v0.7h-0.7zM230.3 65.7h0.7v0.7h-0.7zM231.5 57.3h0.7v0.7h-0.7zM229.6 85.6h0.7v0.7h-0.7zM227.3 82.6h0.7v0.7h-0.7zM228.1 54.8h0.7v0.7h-0.7zM230.5 60.3h0.7v0.7h-0.7zM231.3 57.9h0.7v0.7h-0.7zM230.5 66.2h0.7v0.7h-0.7zM234.5 66.6h0.7v0.7h-0.7zM234.7 64.6h0.7v0.7h-0.7zM238.2 40.6h0.7v0.7h-0.7zM230.5 65.7h0.7v0.7h-0.7zM231.2 66.3h0.7v0.7h-0.7zM232.6 74.8h0.7v0.7h-0.7zM231.2 62.5h0.7v0.7h-0.7zM228.7 64.6h0.7v0.7h-0.7zM230.5 66.5h0.7v0.7h-0.7zM230.7 66.2h0.7v0.7h-0.7zM230.1 53.2h0.7v0.7h-0.7zM229.7 58.0h0.7v0.7h-0.7zM234.6 61.8h0.7v0.7h-0.7zM232.6 71.3h0.7v0.7h-0.7zM233.3 61.5h0.7v0.7h-0.7zM232.4 45.1h0.7v0.7h-0.7zM233.8 56.7h0.7v0.7h-0.7zM226.0 68.9h0.7v0.7h-0.7zM230.5 49.8h0.7v0.7h-0.7zM233.6 73.8h0.7v0.7h-0.7zM231.6 58.0h0.7v0.7h-0.7zM233.3 78.7h0.7v0.7h-0.7zM229.0 60.5h0.7v0.7h-0.7zM229.5 64.4h0.7v0.7h-0.7zM231.8 67.7h0.7v0.7h-0.7zM230.4 66.5h0.7v0.7h-0.7zM237.8 51.8h0.7v0.7h-0.7zM230.7 62.0h0.7v0.7h-0.7zM230.4 61.2h0.7v0.7h-0.7zM230.7 66.9h0.7v0.7h-0.7zM230.6 64.0h0.7v0.7h-0.7zM231.4 69.6h0.7v0.7h-0.7zM227.2 57.3h0.7v0.7h-0.7zM231.2 54.2h0.7v0.7h-0.7zM232.7 65.0h0.7v0.7h-0.7zM234.2 71.1h0.7v0.7h-0.7zM228.1 79.5h0.7v0.7h-0.7zM232.3 67.9h0.7v0.7h-0.7zM229.2 55.4h0.7v0.7h-0.7zM234.4 66.3h0.7v0.7h-0.7zM226.6 69.0h0.7v0.7h-0.7zM232.9 47.9h0.7v0.7h-0.7zM229.4 65.1h0.7v0.7h-0.7zM235.4 75.5h0.7v0.7h-0.7zM229.4 54.9h0.7v0.7h-0.7zM236.0 62.4h0.7v0.7h-0.7zM230.1 75.4h0.7v0.7h-0.7zM233.5 61.6h0.7v0.7h-0.7zM234.7 61.0h0.7v0.7h-0.7zM234.5 70.1h0.7v0.7h-0.7zM232.5 54.8h0.7v0.7h-0.7zM231.2 77.5h0.7v0.7h-0.7zM235.4 71.0h0.7v0.7h-0.7zM229.1 72.3h0.7v0.7h-0.7zM229.4 63.6h0.7v0.7h-0.7zM233.3 78.1h0.7v0.7h-0.7zM229.4 65.6h0.7v0.7h-0.7zM227.5 56.4h0.7v0.7h-0.7zM234.6 68.6h0.7v0.7h-0.7zM234.8 75.1h0.7v0.7h-0.7zM237.2 68.2h0.7v0.7h-0.7zM228.4 60.4h0.7v0.7h-0.7z"/>
<line x1="239.00" y1="29.10" x2="239.00" y2="87.90" stroke="#666" stroke-width="0.8" />
<line x1="224.80" y1="71.80" x2="283.80" y2="71.80" stroke="#666" stroke-width="0.8" />
<rect x="224.80" y="29.10" width="59.00" height="58.80" fill="none" stroke="#111" stroke-width="1.3" />
<text class="p" x="217.40" y="37.10" font-size="5.3" text-anchor="middle" fill="#333">10<tspan font-size="2.92" dy="-2.38">5</tspan></text>
<text class="p" x="217.40" y="52.10" font-size="5.3" text-anchor="middle" fill="#333">10<tspan font-size="2.92" dy="-2.38">4</tspan></text>
<text class="p" x="217.40" y="67.10" font-size="5.3" text-anchor="middle" fill="#333">10<tspan font-size="2.92" dy="-2.38">3</tspan></text>
<text class="p" x="217.40" y="82.10" font-size="5.3" text-anchor="middle" fill="#333">10<tspan font-size="2.92" dy="-2.38">2</tspan></text>
<text class="p" x="233.00" y="97.30" font-size="5.4" text-anchor="middle" fill="#333">10<tspan font-size="2.97" dy="-2.43">2</tspan></text>
<text class="p" x="248.10" y="97.30" font-size="5.4" text-anchor="middle" fill="#333">10<tspan font-size="2.97" dy="-2.43">3</tspan></text>
<text class="p" x="263.20" y="97.30" font-size="5.4" text-anchor="middle" fill="#333">10<tspan font-size="2.97" dy="-2.43">4</tspan></text>
<text class="p" x="278.30" y="97.30" font-size="5.4" text-anchor="middle" fill="#333">10<tspan font-size="2.97" dy="-2.43">5</tspan></text>
<text x="254.30" y="24.80" font-size="6.6" text-anchor="middle" font-weight="bold" fill="#111" >T-ALL#1</text>
<text x="228.30" y="38.90" font-size="5.8" text-anchor="start" font-weight="normal" fill="#222" class="t">21</text>
<text x="277.00" y="38.90" font-size="5.8" text-anchor="end" font-weight="normal" fill="#222" class="t">10</text>
<path fill="#222" fill-opacity="0.45" d="M308.3 78.8h0.7v0.7h-0.7zM318.4 74.2h0.7v0.7h-0.7zM307.2 81.3h0.7v0.7h-0.7zM304.7 79.4h0.7v0.7h-0.7zM308.3 77.9h0.7v0.7h-0.7zM309.3 77.9h0.7v0.7h-0.7zM303.5 76.3h0.7v0.7h-0.7zM306.2 79.7h0.7v0.7h-0.7zM309.7 75.7h0.7v0.7h-0.7zM305.7 82.7h0.7v0.7h-0.7zM309.1 75.6h0.7v0.7h-0.7zM311.8 75.1h0.7v0.7h-0.7zM310.6 76.8h0.7v0.7h-0.7zM305.1 77.6h0.7v0.7h-0.7zM304.3 86.5h0.7v0.7h-0.7zM311.1 76.2h0.7v0.7h-0.7zM310.4 82.1h0.7v0.7h-0.7zM305.5 79.5h0.7v0.7h-0.7zM310.4 78.9h0.7v0.7h-0.7zM313.9 76.9h0.7v0.7h-0.7zM302.5 82.9h0.7v0.7h-0.7zM302.4 85.4h0.7v0.7h-0.7zM308.9 77.6h0.7v0.7h-0.7zM303.4 85.1h0.7v0.7h-0.7zM305.2 85.0h0.7v0.7h-0.7zM303.1 81.8h0.7v0.7h-0.7zM304.6 78.5h0.7v0.7h-0.7zM315.9 79.3h0.7v0.7h-0.7zM304.3 84.2h0.7v0.7h-0.7zM310.3 76.9h0.7v0.7h-0.7zM305.3 81.9h0.7v0.7h-0.7zM308.1 78.3h0.7v0.7h-0.7zM303.6 81.5h0.7v0.7h-0.7zM305.0 83.7h0.7v0.7h-0.7zM306.8 80.9h0.7v0.7h-0.7zM305.2 79.7h0.7v0.7h-0.7zM306.1 79.8h0.7v0.7h-0.7zM309.7 76.8h0.7v0.7h-0.7zM308.7 76.2h0.7v0.7h-0.7zM302.2 82.7h0.7v0.7h-0.7zM311.9 76.6h0.7v0.7h-0.7zM304.6 79.5h0.7v0.7h-0.7zM307.8 74.3h0.7v0.7h-0.7zM310.4 78.3h0.7v0.7h-0.7zM304.5 79.7h0.7v0.7h-0.7zM308.9 82.7h0.7v0.7h-0.7zM304.1 82.9h0.7v0.7h-0.7zM314.8 76.9h0.7v0.7h-0.7zM305.5 82.2h0.7v0.7h-0.7zM307.0 82.2h0.7v0.7h-0.7zM307.9 78.1h0.7v0.7h-0.7zM306.3 81.8h0.7v0.7h-0.7zM304.3 82.2h0.7v0.7h-0.7zM303.5 86.3h0.7v0.7h-0.7zM312.1 74.3h0.7v0.7h-0.7zM309.6 79.0h0.7v0.7h-0.7zM307.0 79.5h0.7v0.7h-0.7zM307.6 82.9h0.7v0.7h-0.7zM302.4 86.3h0.7v0.7h-0.7zM305.8 77.7h0.7v0.7h-0.7zM306.5 82.5h0.7v0.7h-0.7zM306.4 81.5h0.7v0.7h-0.7zM305.5 79.6h0.7v0.7h-0.7zM310.2 75.4h0.7v0.7h-0.7zM310.1 79.2h0.7v0.7h-0.7zM305.7 80.4h0.7v0.7h-0.7zM305.7 81.0h0.7v0.7h-0.7zM306.5 80.1h0.7v0.7h-0.7zM307.9 77.8h0.7v0.7h-0.7zM304.7 81.2h0.7v0.7h-0.7zM306.7 79.9h0.7v0.7h-0.7zM303.1 85.5h0.7v0.7h-0.7zM309.2 83.3h0.7v0.7h-0.7zM309.8 76.0h0.7v0.7h-0.7zM304.4 81.6h0.7v0.7h-0.7zM306.2 82.3h0.7v0.7h-0.7zM308.6 76.1h0.7v0.7h-0.7zM304.5 76.7h0.7v0.7h-0.7zM308.6 78.7h0.7v0.7h-0.7zM306.7 77.4h0.7v0.7h-0.7zM305.3 79.6h0.7v0.7h-0.7zM307.1 80.8h0.7v0.7h-0.7zM304.7 83.0h0.7v0.7h-0.7zM308.9 81.8h0.7v0.7h-0.7zM309.4 75.6h0.7v0.7h-0.7zM314.5 76.1h0.7v0.7h-0.7zM304.2 77.1h0.7v0.7h-0.7zM307.2 78.8h0.7v0.7h-0.7zM308.4 79.9h0.7v0.7h-0.7zM309.4 76.9h0.7v0.7h-0.7zM302.6 79.7h0.7v0.7h-0.7zM311.5 75.5h0.7v0.7h-0.7zM311.3 74.2h0.7v0.7h-0.7zM304.8 79.4h0.7v0.7h-0.7zM306.0 82.8h0.7v0.7h-0.7zM313.5 78.1h0.7v0.7h-0.7zM306.3 81.1h0.7v0.7h-0.7zM305.9 82.0h0.7v0.7h-0.7zM303.7 83.1h0.7v0.7h-0.7zM308.2 82.2h0.7v0.7h-0.7zM303.8 83.5h0.7v0.7h-0.7zM307.6 77.4h0.7v0.7h-0.7zM309.6 77.7h0.7v0.7h-0.7zM314.3 77.1h0.7v0.7h-0.7zM304.2 81.7h0.7v0.7h-0.7zM308.2 80.8h0.7v0.7h-0.7zM305.8 82.3h0.7v0.7h-0.7zM316.6 76.6h0.7v0.7h-0.7zM307.2 78.7h0.7v0.7h-0.7zM305.3 81.2h0.7v0.7h-0.7zM304.8 83.9h0.7v0.7h-0.7zM310.2 76.0h0.7v0.7h-0.7zM302.0 84.4h0.7v0.7h-0.7zM311.3 78.6h0.7v0.7h-0.7zM308.3 75.2h0.7v0.7h-0.7zM304.8 83.4h0.7v0.7h-0.7zM307.9 79.6h0.7v0.7h-0.7zM308.5 81.7h0.7v0.7h-0.7zM306.9 78.1h0.7v0.7h-0.7zM301.9 84.1h0.7v0.7h-0.7zM306.0 80.3h0.7v0.7h-0.7zM310.3 76.1h0.7v0.7h-0.7zM305.7 82.9h0.7v0.7h-0.7zM303.6 76.1h0.7v0.7h-0.7zM304.8 84.0h0.7v0.7h-0.7zM304.6 81.0h0.7v0.7h-0.7zM306.0 86.5h0.7v0.7h-0.7zM307.0 78.1h0.7v0.7h-0.7zM301.6 82.8h0.7v0.7h-0.7zM302.5 81.3h0.7v0.7h-0.7zM306.8 83.9h0.7v0.7h-0.7zM302.9 86.8h0.7v0.7h-0.7zM304.4 80.8h0.7v0.7h-0.7zM305.0 82.1h0.7v0.7h-0.7zM306.4 79.6h0.7v0.7h-0.7zM304.3 80.4h0.7v0.7h-0.7zM306.8 78.7h0.7v0.7h-0.7zM304.3 77.7h0.7v0.7h-0.7zM306.7 81.8h0.7v0.7h-0.7zM303.2 85.6h0.7v0.7h-0.7zM306.5 80.8h0.7v0.7h-0.7zM310.8 83.3h0.7v0.7h-0.7zM304.6 81.6h0.7v0.7h-0.7zM309.1 80.3h0.7v0.7h-0.7zM304.5 82.0h0.7v0.7h-0.7zM309.9 79.9h0.7v0.7h-0.7zM306.4 83.6h0.7v0.7h-0.7zM301.6 84.9h0.7v0.7h-0.7zM304.4 80.8h0.7v0.7h-0.7zM309.3 83.7h0.7v0.7h-0.7zM308.1 79.8h0.7v0.7h-0.7zM312.1 79.0h0.7v0.7h-0.7zM304.4 79.9h0.7v0.7h-0.7zM301.6 85.6h0.7v0.7h-0.7zM307.2 85.1h0.7v0.7h-0.7zM305.7 81.4h0.7v0.7h-0.7zM304.2 85.0h0.7v0.7h-0.7zM310.8 82.5h0.7v0.7h-0.7zM310.0 76.5h0.7v0.7h-0.7zM310.7 75.2h0.7v0.7h-0.7zM304.6 81.2h0.7v0.7h-0.7zM313.6 73.9h0.7v0.7h-0.7zM303.4 83.3h0.7v0.7h-0.7zM310.6 79.5h0.7v0.7h-0.7zM308.5 76.8h0.7v0.7h-0.7zM305.4 85.0h0.7v0.7h-0.7zM307.0 78.4h0.7v0.7h-0.7zM305.5 85.1h0.7v0.7h-0.7zM312.4 77.9h0.7v0.7h-0.7zM304.0 87.0h0.7v0.7h-0.7zM304.6 82.1h0.7v0.7h-0.7zM308.1 79.5h0.7v0.7h-0.7zM306.1 85.5h0.7v0.7h-0.7zM307.8 75.7h0.7v0.7h-0.7zM304.8 85.5h0.7v0.7h-0.7zM306.2 77.9h0.7v0.7h-0.7zM309.7 79.9h0.7v0.7h-0.7zM306.9 82.0h0.7v0.7h-0.7zM305.5 81.8h0.7v0.7h-0.7zM308.6 77.6h0.7v0.7h-0.7zM310.8 74.8h0.7v0.7h-0.7zM313.6 76.2h0.7v0.7h-0.7zM308.0 76.2h0.7v0.7h-0.7zM309.3 76.4h0.7v0.7h-0.7zM308.4 79.4h0.7v0.7h-0.7zM307.3 78.6h0.7v0.7h-0.7zM305.6 82.2h0.7v0.7h-0.7zM306.9 82.8h0.7v0.7h-0.7zM304.9 82.3h0.7v0.7h-0.7zM305.2 79.5h0.7v0.7h-0.7zM309.4 76.4h0.7v0.7h-0.7zM301.4 85.8h0.7v0.7h-0.7zM305.1 83.2h0.7v0.7h-0.7zM308.5 80.8h0.7v0.7h-0.7zM307.0 84.7h0.7v0.7h-0.7zM303.3 86.0h0.7v0.7h-0.7zM306.3 81.6h0.7v0.7h-0.7zM305.4 83.8h0.7v0.7h-0.7zM308.4 78.2h0.7v0.7h-0.7zM307.0 81.7h0.7v0.7h-0.7zM308.7 78.1h0.7v0.7h-0.7zM310.1 79.1h0.7v0.7h-0.7zM305.1 80.6h0.7v0.7h-0.7zM301.6 86.0h0.7v0.7h-0.7zM311.8 77.0h0.7v0.7h-0.7zM304.2 77.3h0.7v0.7h-0.7zM302.8 83.1h0.7v0.7h-0.7zM304.7 81.4h0.7v0.7h-0.7zM304.1 81.8h0.7v0.7h-0.7zM306.1 81.5h0.7v0.7h-0.7zM307.1 80.8h0.7v0.7h-0.7zM304.2 81.4h0.7v0.7h-0.7zM302.8 81.6h0.7v0.7h-0.7zM306.7 81.8h0.7v0.7h-0.7zM302.4 80.6h0.7v0.7h-0.7zM305.1 78.2h0.7v0.7h-0.7zM305.9 80.5h0.7v0.7h-0.7zM304.4 86.6h0.7v0.7h-0.7zM305.4 82.1h0.7v0.7h-0.7zM307.8 80.4h0.7v0.7h-0.7zM304.6 83.0h0.7v0.7h-0.7zM306.7 79.0h0.7v0.7h-0.7zM305.2 85.0h0.7v0.7h-0.7zM310.3 73.2h0.7v0.7h-0.7zM305.3 83.2h0.7v0.7h-0.7zM305.4 82.2h0.7v0.7h-0.7zM305.7 85.8h0.7v0.7h-0.7zM309.1 78.4h0.7v0.7h-0.7zM311.4 79.3h0.7v0.7h-0.7zM312.2 75.6h0.7v0.7h-0.7zM301.9 85.9h0.7v0.7h-0.7zM306.9 75.4h0.7v0.7h-0.7zM307.0 78.0h0.7v0.7h-0.7zM305.2 81.8h0.7v0.7h-0.7zM302.2 87.0h0.7v0.7h-0.7zM302.5 83.3h0.7v0.7h-0.7zM306.8 79.0h0.7v0.7h-0.7zM304.2 84.5h0.7v0.7h-0.7zM301.5 83.8h0.7v0.7h-0.7zM312.0 74.8h0.7v0.7h-0.7zM301.7 82.3h0.7v0.7h-0.7zM302.9 80.6h0.7v0.7h-0.7zM303.8 84.0h0.7v0.7h-0.7zM306.8 77.4h0.7v0.7h-0.7zM310.9 74.9h0.7v0.7h-0.7zM311.5 75.9h0.7v0.7h-0.7zM303.6 81.1h0.7v0.7h-0.7zM311.3 77.7h0.7v0.7h-0.7zM306.5 75.8h0.7v0.7h-0.7zM306.6 79.6h0.7v0.7h-0.7zM305.4 79.0h0.7v0.7h-0.7zM303.4 84.2h0.7v0.7h-0.7zM308.5 79.7h0.7v0.7h-0.7zM307.1 82.0h0.7v0.7h-0.7zM305.5 80.9h0.7v0.7h-0.7zM307.7 80.3h0.7v0.7h-0.7zM305.6 73.4h0.7v0.7h-0.7zM306.5 76.9h0.7v0.7h-0.7zM310.4 81.5h0.7v0.7h-0.7zM307.4 80.6h0.7v0.7h-0.7zM306.0 75.0h0.7v0.7h-0.7zM312.6 75.9h0.7v0.7h-0.7zM307.8 82.8h0.7v0.7h-0.7zM301.4 82.4h0.7v0.7h-0.7zM307.1 83.8h0.7v0.7h-0.7zM306.1 82.5h0.7v0.7h-0.7zM303.6 81.4h0.7v0.7h-0.7zM307.0 82.8h0.7v0.7h-0.7zM304.4 83.1h0.7v0.7h-0.7zM305.6 82.9h0.7v0.7h-0.7zM305.2 85.4h0.7v0.7h-0.7zM303.2 79.7h0.7v0.7h-0.7zM310.8 75.6h0.7v0.7h-0.7zM308.8 81.0h0.7v0.7h-0.7zM305.1 81.1h0.7v0.7h-0.7zM301.7 84.1h0.7v0.7h-0.7zM307.3 76.8h0.7v0.7h-0.7zM306.7 81.0h0.7v0.7h-0.7zM309.6 80.6h0.7v0.7h-0.7zM303.0 80.6h0.7v0.7h-0.7zM306.7 81.5h0.7v0.7h-0.7zM309.3 78.9h0.7v0.7h-0.7zM309.2 76.8h0.7v0.7h-0.7zM312.6 75.9h0.7v0.7h-0.7zM303.4 80.9h0.7v0.7h-0.7zM305.5 82.5h0.7v0.7h-0.7zM310.2 75.5h0.7v0.7h-0.7zM304.1 84.0h0.7v0.7h-0.7zM309.9 80.4h0.7v0.7h-0.7zM307.4 76.5h0.7v0.7h-0.7zM304.7 77.1h0.7v0.7h-0.7zM304.2 85.5h0.7v0.7h-0.7zM311.7 76.2h0.7v0.7h-0.7zM308.5 83.0h0.7v0.7h-0.7zM303.0 78.8h0.7v0.7h-0.7zM304.3 75.7h0.7v0.7h-0.7zM308.7 78.6h0.7v0.7h-0.7zM305.5 81.2h0.7v0.7h-0.7zM308.1 79.3h0.7v0.7h-0.7zM302.4 84.9h0.7v0.7h-0.7zM304.7 82.4h0.7v0.7h-0.7zM304.2 81.9h0.7v0.7h-0.7zM305.4 84.1h0.7v0.7h-0.7zM303.8 79.6h0.7v0.7h-0.7zM308.7 73.2h0.7v0.7h-0.7zM308.4 78.8h0.7v0.7h-0.7zM304.9 81.6h0.7v0.7h-0.7zM305.4 78.3h0.7v0.7h-0.7zM308.7 76.3h0.7v0.7h-0.7zM306.7 79.6h0.7v0.7h-0.7zM303.9 80.2h0.7v0.7h-0.7zM307.3 78.7h0.7v0.7h-0.7zM310.8 79.9h0.7v0.7h-0.7zM304.9 84.2h0.7v0.7h-0.7zM302.1 79.5h0.7v0.7h-0.7zM310.0 73.3h0.7v0.7h-0.7zM303.9 82.9h0.7v0.7h-0.7zM309.3 76.4h0.7v0.7h-0.7zM311.2 74.6h0.7v0.7h-0.7zM311.0 78.5h0.7v0.7h-0.7zM306.8 79.4h0.7v0.7h-0.7zM303.1 85.5h0.7v0.7h-0.7zM302.4 82.9h0.7v0.7h-0.7zM308.7 80.2h0.7v0.7h-0.7zM308.6 77.1h0.7v0.7h-0.7zM302.1 83.8h0.7v0.7h-0.7zM305.8 83.8h0.7v0.7h-0.7zM307.6 78.2h0.7v0.7h-0.7zM309.7 76.1h0.7v0.7h-0.7zM303.3 79.5h0.7v0.7h-0.7zM303.0 77.4h0.7v0.7h-0.7zM316.6 73.0h0.7v0.7h-0.7zM310.2 81.2h0.7v0.7h-0.7zM304.5 83.2h0.7v0.7h-0.7zM312.4 80.3h0.7v0.7h-0.7zM309.7 76.1h0.7v0.7h-0.7zM304.3 81.9h0.7v0.7h-0.7zM311.5 75.0h0.7v0.7h-0.7zM308.6 82.3h0.7v0.7h-0.7zM309.1 78.7h0.7v0.7h-0.7zM304.3 83.8h0.7v0.7h-0.7zM305.4 82.2h0.7v0.7h-0.7zM304.8 80.0h0.7v0.7h-0.7zM304.9 78.5h0.7v0.7h-0.7zM309.5 74.4h0.7v0.7h-0.7zM307.7 78.3h0.7v0.7h-0.7zM308.1 74.6h0.7v0.7h-0.7zM306.5 80.5h0.7v0.7h-0.7zM311.1 80.3h0.7v0.7h-0.7zM307.7 79.4h0.7v0.7h-0.7zM306.6 83.2h0.7v0.7h-0.7zM310.8 79.3h0.7v0.7h-0.7zM310.5 73.5h0.7v0.7h-0.7zM309.6 84.0h0.7v0.7h-0.7zM306.9 78.5h0.7v0.7h-0.7zM311.1 72.1h0.7v0.7h-0.7zM310.5 74.5h0.7v0.7h-0.7zM308.2 76.1h0.7v0.7h-0.7zM311.5 77.4h0.7v0.7h-0.7zM304.6 81.6h0.7v0.7h-0.7zM311.1 81.8h0.7v0.7h-0.7zM307.4 79.3h0.7v0.7h-0.7zM311.6 77.6h0.7v0.7h-0.7zM301.4 84.8h0.7v0.7h-0.7zM312.0 78.3h0.7v0.7h-0.7zM307.6 82.6h0.7v0.7h-0.7zM303.6 82.5h0.7v0.7h-0.7zM306.7 83.4h0.7v0.7h-0.7zM308.3 79.7h0.7v0.7h-0.7zM310.9 81.6h0.7v0.7h-0.7zM308.1 78.3h0.7v0.7h-0.7zM312.5 69.8h0.7v0.7h-0.7zM303.0 83.9h0.7v0.7h-0.7zM304.7 78.6h0.7v0.7h-0.7zM306.1 85.3h0.7v0.7h-0.7zM307.1 82.8h0.7v0.7h-0.7zM309.4 78.9h0.7v0.7h-0.7z"/>
<path fill="#555" fill-opacity="0.25" d="M313.5 69.0h0.7v0.7h-0.7zM313.7 73.2h0.7v0.7h-0.7zM313.6 62.1h0.7v0.7h-0.7zM316.8 65.3h0.7v0.7h-0.7zM313.0 71.0h0.7v0.7h-0.7zM316.1 73.3h0.7v0.7h-0.7zM319.1 65.0h0.7v0.7h-0.7zM309.3 68.7h0.7v0.7h-0.7zM316.2 73.9h0.7v0.7h-0.7zM314.8 68.1h0.7v0.7h-0.7zM318.2 57.9h0.7v0.7h-0.7zM312.3 73.5h0.7v0.7h-0.7zM320.6 61.7h0.7v0.7h-0.7zM317.1 67.6h0.7v0.7h-0.7zM320.0 57.9h0.7v0.7h-0.7zM318.5 57.3h0.7v0.7h-0.7zM308.1 79.6h0.7v0.7h-0.7zM319.1 58.2h0.7v0.7h-0.7zM320.4 58.0h0.7v0.7h-0.7zM313.9 68.0h0.7v0.7h-0.7zM315.3 72.3h0.7v0.7h-0.7zM319.0 66.3h0.7v0.7h-0.7zM319.0 66.9h0.7v0.7h-0.7zM310.1 69.5h0.7v0.7h-0.7zM311.2 74.6h0.7v0.7h-0.7zM312.7 82.5h0.7v0.7h-0.7zM308.8 68.9h0.7v0.7h-0.7zM319.9 70.9h0.7v0.7h-0.7zM318.0 69.7h0.7v0.7h-0.7zM324.5 58.7h0.7v0.7h-0.7zM304.5 75.9h0.7v0.7h-0.7zM321.2 55.1h0.7v0.7h-0.7zM314.7 70.0h0.7v0.7h-0.7zM312.3 74.7h0.7v0.7h-0.7zM318.6 76.8h0.7v0.7h-0.7zM318.8 61.6h0.7v0.7h-0.7zM310.6 68.5h0.7v0.7h-0.7zM321.2 59.5h0.7v0.7h-0.7zM314.0 73.2h0.7v0.7h-0.7zM309.4 72.3h0.7v0.7h-0.7zM301.6 75.9h0.7v0.7h-0.7zM310.5 74.9h0.7v0.7h-0.7zM322.9 60.7h0.7v0.7h-0.7zM316.3 68.0h0.7v0.7h-0.7zM322.1 66.1h0.7v0.7h-0.7zM316.4 61.9h0.7v0.7h-0.7zM320.8 64.7h0.7v0.7h-0.7zM323.1 60.4h0.7v0.7h-0.7zM328.2 53.8h0.7v0.7h-0.7zM325.7 58.7h0.7v0.7h-0.7zM310.9 66.7h0.7v0.7h-0.7zM313.4 77.2h0.7v0.7h-0.7zM320.2 66.9h0.7v0.7h-0.7zM318.4 62.3h0.7v0.7h-0.7zM310.1 73.2h0.7v0.7h-0.7zM326.6 51.8h0.7v0.7h-0.7zM311.5 78.8h0.7v0.7h-0.7zM311.4 70.1h0.7v0.7h-0.7zM315.2 61.9h0.7v0.7h-0.7zM316.0 61.2h0.7v0.7h-0.7zM320.7 62.9h0.7v0.7h-0.7zM330.5 54.8h0.7v0.7h-0.7zM324.1 53.0h0.7v0.7h-0.7zM313.6 71.4h0.7v0.7h-0.7zM326.7 48.5h0.7v0.7h-0.7zM321.4 65.2h0.7v0.7h-0.7zM325.2 62.1h0.7v0.7h-0.7zM314.9 65.9h0.7v0.7h-0.7zM305.8 78.4h0.7v0.7h-0.7zM313.2 80.5h0.7v0.7h-0.7zM310.2 74.7h0.7v0.7h-0.7zM303.5 77.6h0.7v0.7h-0.7zM316.3 71.3h0.7v0.7h-0.7zM324.6 58.8h0.7v0.7h-0.7zM306.7 78.8h0.7v0.7h-0.7zM318.1 67.9h0.7v0.7h-0.7zM309.6 79.4h0.7v0.7h-0.7zM315.1 71.9h0.7v0.7h-0.7zM323.4 63.3h0.7v0.7h-0.7zM316.5 77.9h0.7v0.7h-0.7zM316.2 65.7h0.7v0.7h-0.7zM315.3 75.7h0.7v0.7h-0.7zM315.3 70.7h0.7v0.7h-0.7zM322.9 58.2h0.7v0.7h-0.7zM302.4 82.2h0.7v0.7h-0.7zM316.1 64.2h0.7v0.7h-0.7zM320.6 66.1h0.7v0.7h-0.7zM307.5 78.3h0.7v0.7h-0.7zM313.1 62.7h0.7v0.7h-0.7zM317.7 65.6h0.7v0.7h-0.7zM309.3 76.6h0.7v0.7h-0.7zM317.9 62.6h0.7v0.7h-0.7zM317.3 71.4h0.7v0.7h-0.7zM309.5 75.7h0.7v0.7h-0.7zM314.5 80.4h0.7v0.7h-0.7zM301.5 85.1h0.7v0.7h-0.7zM312.4 70.5h0.7v0.7h-0.7zM327.8 55.9h0.7v0.7h-0.7zM330.2 51.4h0.7v0.7h-0.7zM317.0 64.0h0.7v0.7h-0.7zM309.7 73.9h0.7v0.7h-0.7zM312.5 71.9h0.7v0.7h-0.7zM313.3 78.9h0.7v0.7h-0.7zM307.5 77.2h0.7v0.7h-0.7zM336.7 42.9h0.7v0.7h-0.7zM304.0 76.3h0.7v0.7h-0.7zM317.8 69.2h0.7v0.7h-0.7zM323.5 58.8h0.7v0.7h-0.7zM303.3 77.6h0.7v0.7h-0.7zM323.2 62.8h0.7v0.7h-0.7zM324.3 70.2h0.7v0.7h-0.7zM318.4 66.7h0.7v0.7h-0.7zM305.8 73.0h0.7v0.7h-0.7zM314.8 71.1h0.7v0.7h-0.7zM318.6 62.5h0.7v0.7h-0.7zM306.4 72.8h0.7v0.7h-0.7zM306.4 80.0h0.7v0.7h-0.7zM317.6 73.6h0.7v0.7h-0.7zM315.0 73.5h0.7v0.7h-0.7zM311.7 67.8h0.7v0.7h-0.7zM309.8 81.3h0.7v0.7h-0.7zM321.5 64.6h0.7v0.7h-0.7zM337.8 46.1h0.7v0.7h-0.7zM318.8 66.3h0.7v0.7h-0.7zM312.9 82.2h0.7v0.7h-0.7zM325.0 51.5h0.7v0.7h-0.7zM311.7 73.8h0.7v0.7h-0.7zM320.0 56.7h0.7v0.7h-0.7zM314.0 68.9h0.7v0.7h-0.7zM316.9 62.6h0.7v0.7h-0.7zM305.9 66.9h0.7v0.7h-0.7zM316.8 68.5h0.7v0.7h-0.7zM321.5 66.2h0.7v0.7h-0.7zM313.2 77.1h0.7v0.7h-0.7zM313.5 66.5h0.7v0.7h-0.7zM310.9 69.5h0.7v0.7h-0.7zM316.2 65.4h0.7v0.7h-0.7zM309.5 75.7h0.7v0.7h-0.7zM326.5 57.4h0.7v0.7h-0.7zM310.9 69.3h0.7v0.7h-0.7zM314.0 62.9h0.7v0.7h-0.7zM313.6 70.1h0.7v0.7h-0.7zM327.4 61.2h0.7v0.7h-0.7zM321.7 58.2h0.7v0.7h-0.7zM319.2 58.5h0.7v0.7h-0.7zM316.7 68.9h0.7v0.7h-0.7zM309.1 84.3h0.7v0.7h-0.7zM318.5 55.3h0.7v0.7h-0.7zM318.4 63.1h0.7v0.7h-0.7zM314.5 71.3h0.7v0.7h-0.7zM317.2 55.8h0.7v0.7h-0.7zM306.4 80.7h0.7v0.7h-0.7zM323.6 69.8h0.7v0.7h-0.7zM327.1 46.2h0.7v0.7h-0.7zM319.9 53.9h0.7v0.7h-0.7zM325.8 59.2h0.7v0.7h-0.7zM306.5 86.9h0.7v0.7h-0.7zM319.0 54.9h0.7v0.7h-0.7zM316.6 63.2h0.7v0.7h-0.7zM315.3 65.8h0.7v0.7h-0.7zM324.1 52.3h0.7v0.7h-0.7zM316.7 76.0h0.7v0.7h-0.7zM308.7 75.6h0.7v0.7h-0.7zM315.9 64.0h0.7v0.7h-0.7zM319.0 65.0h0.7v0.7h-0.7zM307.9 84.3h0.7v0.7h-0.7zM320.0 62.7h0.7v0.7h-0.7zM310.0 69.2h0.7v0.7h-0.7zM323.1 59.8h0.7v0.7h-0.7zM317.7 64.8h0.7v0.7h-0.7zM318.8 64.1h0.7v0.7h-0.7zM319.8 62.8h0.7v0.7h-0.7zM320.3 66.7h0.7v0.7h-0.7zM313.7 65.3h0.7v0.7h-0.7zM307.9 71.5h0.7v0.7h-0.7zM307.6 80.0h0.7v0.7h-0.7zM314.2 77.2h0.7v0.7h-0.7zM330.5 53.5h0.7v0.7h-0.7zM303.7 77.5h0.7v0.7h-0.7zM314.0 61.8h0.7v0.7h-0.7zM312.7 72.1h0.7v0.7h-0.7zM311.3 68.1h0.7v0.7h-0.7zM309.2 83.2h0.7v0.7h-0.7zM313.4 65.8h0.7v0.7h-0.7zM311.9 76.3h0.7v0.7h-0.7zM309.7 76.0h0.7v0.7h-0.7zM319.6 67.8h0.7v0.7h-0.7zM324.3 56.6h0.7v0.7h-0.7zM322.4 57.2h0.7v0.7h-0.7zM311.7 77.7h0.7v0.7h-0.7zM320.3 63.3h0.7v0.7h-0.7zM306.2 79.9h0.7v0.7h-0.7zM310.1 68.5h0.7v0.7h-0.7zM310.0 74.6h0.7v0.7h-0.7zM315.7 64.7h0.7v0.7h-0.7zM321.8 65.0h0.7v0.7h-0.7zM310.3 69.6h0.7v0.7h-0.7zM319.4 56.4h0.7v0.7h-0.7zM312.2 67.9h0.7v0.7h-0.7zM315.0 69.5h0.7v0.7h-0.7zM314.8 74.4h0.7v0.7h-0.7zM316.1 65.7h0.7v0.7h-0.7zM306.0 80.8h0.7v0.7h-0.7zM318.2 72.7h0.7v0.7h-0.7zM309.3 74.1h0.7v0.7h-0.7zM314.1 68.9h0.7v0.7h-0.7zM314.6 60.1h0.7v0.7h-0.7zM320.3 66.6h0.7v0.7h-0.7zM322.4 72.7h0.7v0.7h-0.7zM312.3 70.9h0.7v0.7h-0.7zM314.6 78.7h0.7v0.7h-0.7zM302.4 83.1h0.7v0.7h-0.7zM304.2 65.7h0.7v0.7h-0.7zM322.0 57.2h0.7v0.7h-0.7zM312.9 64.5h0.7v0.7h-0.7zM318.8 59.1h0.7v0.7h-0.7zM323.7 54.9h0.7v0.7h-0.7zM309.1 74.7h0.7v0.7h-0.7zM314.7 76.0h0.7v0.7h-0.7zM315.3 61.9h0.7v0.7h-0.7zM310.6 69.8h0.7v0.7h-0.7zM319.6 65.9h0.7v0.7h-0.7zM313.7 74.1h0.7v0.7h-0.7zM310.8 71.8h0.7v0.7h-0.7zM315.8 75.5h0.7v0.7h-0.7zM313.8 67.8h0.7v0.7h-0.7zM307.2 79.5h0.7v0.7h-0.7zM310.4 74.6h0.7v0.7h-0.7zM305.2 74.0h0.7v0.7h-0.7zM321.9 54.9h0.7v0.7h-0.7zM313.9 69.8h0.7v0.7h-0.7zM307.5 82.5h0.7v0.7h-0.7zM325.0 48.7h0.7v0.7h-0.7zM304.4 82.9h0.7v0.7h-0.7zM305.4 75.8h0.7v0.7h-0.7zM315.4 71.5h0.7v0.7h-0.7zM312.9 70.9h0.7v0.7h-0.7zM309.1 80.8h0.7v0.7h-0.7zM311.0 74.0h0.7v0.7h-0.7zM310.9 72.9h0.7v0.7h-0.7zM313.3 69.2h0.7v0.7h-0.7zM307.4 79.9h0.7v0.7h-0.7zM324.4 60.5h0.7v0.7h-0.7zM319.6 68.2h0.7v0.7h-0.7zM321.0 64.1h0.7v0.7h-0.7zM316.0 71.9h0.7v0.7h-0.7zM315.0 63.5h0.7v0.7h-0.7zM314.7 59.1h0.7v0.7h-0.7zM314.5 71.0h0.7v0.7h-0.7zM323.2 61.3h0.7v0.7h-0.7zM321.0 62.6h0.7v0.7h-0.7zM307.3 68.7h0.7v0.7h-0.7zM307.7 68.5h0.7v0.7h-0.7zM318.9 63.5h0.7v0.7h-0.7zM318.5 65.4h0.7v0.7h-0.7zM321.8 67.2h0.7v0.7h-0.7zM310.0 71.9h0.7v0.7h-0.7zM310.8 64.3h0.7v0.7h-0.7zM319.2 70.4h0.7v0.7h-0.7zM314.5 66.4h0.7v0.7h-0.7zM322.1 49.5h0.7v0.7h-0.7zM315.7 68.4h0.7v0.7h-0.7zM310.5 79.9h0.7v0.7h-0.7zM321.3 61.0h0.7v0.7h-0.7zM313.9 67.5h0.7v0.7h-0.7zM310.9 65.7h0.7v0.7h-0.7zM324.2 64.8h0.7v0.7h-0.7zM320.1 57.9h0.7v0.7h-0.7zM329.1 64.8h0.7v0.7h-0.7zM315.8 63.0h0.7v0.7h-0.7zM308.4 76.9h0.7v0.7h-0.7zM308.1 74.9h0.7v0.7h-0.7zM322.1 53.8h0.7v0.7h-0.7zM328.5 63.3h0.7v0.7h-0.7zM305.8 70.1h0.7v0.7h-0.7zM312.5 65.6h0.7v0.7h-0.7zM312.7 57.5h0.7v0.7h-0.7zM312.9 79.6h0.7v0.7h-0.7zM306.7 75.1h0.7v0.7h-0.7zM304.1 82.3h0.7v0.7h-0.7zM312.9 80.3h0.7v0.7h-0.7zM315.9 65.6h0.7v0.7h-0.7zM318.4 62.6h0.7v0.7h-0.7zM305.1 79.5h0.7v0.7h-0.7zM313.3 70.9h0.7v0.7h-0.7zM317.1 63.7h0.7v0.7h-0.7zM317.5 74.9h0.7v0.7h-0.7zM306.7 85.3h0.7v0.7h-0.7zM312.8 66.6h0.7v0.7h-0.7zM331.5 53.2h0.7v0.7h-0.7zM324.1 63.8h0.7v0.7h-0.7zM302.7 80.9h0.7v0.7h-0.7zM310.8 65.6h0.7v0.7h-0.7zM302.1 81.5h0.7v0.7h-0.7zM318.6 66.9h0.7v0.7h-0.7zM312.4 66.9h0.7v0.7h-0.7zM307.6 72.8h0.7v0.7h-0.7zM307.3 74.9h0.7v0.7h-0.7zM314.3 64.5h0.7v0.7h-0.7zM312.9 66.6h0.7v0.7h-0.7zM314.5 71.5h0.7v0.7h-0.7zM315.7 70.1h0.7v0.7h-0.7zM302.9 78.2h0.7v0.7h-0.7zM316.4 70.3h0.7v0.7h-0.7zM303.3 80.6h0.7v0.7h-0.7zM322.9 59.8h0.7v0.7h-0.7zM313.8 71.8h0.7v0.7h-0.7zM316.2 70.7h0.7v0.7h-0.7zM315.0 69.2h0.7v0.7h-0.7zM309.0 73.4h0.7v0.7h-0.7zM323.3 59.3h0.7v0.7h-0.7zM313.3 67.5h0.7v0.7h-0.7zM320.0 59.2h0.7v0.7h-0.7zM320.9 57.9h0.7v0.7h-0.7zM307.1 77.1h0.7v0.7h-0.7zM315.4 69.5h0.7v0.7h-0.7zM321.9 59.6h0.7v0.7h-0.7zM317.6 61.2h0.7v0.7h-0.7zM323.3 63.6h0.7v0.7h-0.7zM318.3 66.2h0.7v0.7h-0.7z"/>
<path fill="#666" fill-opacity="0.22" d="M309.2 61.7h0.7v0.7h-0.7zM309.7 62.8h0.7v0.7h-0.7zM305.3 71.4h0.7v0.7h-0.7zM311.5 81.2h0.7v0.7h-0.7zM309.3 63.4h0.7v0.7h-0.7zM309.9 70.2h0.7v0.7h-0.7zM302.4 62.3h0.7v0.7h-0.7zM305.3 72.8h0.7v0.7h-0.7zM308.6 68.6h0.7v0.7h-0.7zM310.8 68.7h0.7v0.7h-0.7zM303.7 59.6h0.7v0.7h-0.7zM309.9 61.2h0.7v0.7h-0.7zM305.7 71.4h0.7v0.7h-0.7zM309.9 61.6h0.7v0.7h-0.7zM306.7 72.1h0.7v0.7h-0.7zM306.6 57.9h0.7v0.7h-0.7zM309.8 75.4h0.7v0.7h-0.7zM304.0 59.1h0.7v0.7h-0.7zM309.8 64.4h0.7v0.7h-0.7zM309.8 68.4h0.7v0.7h-0.7zM315.0 50.5h0.7v0.7h-0.7zM309.1 57.6h0.7v0.7h-0.7zM301.6 57.1h0.7v0.7h-0.7zM305.8 70.6h0.7v0.7h-0.7zM306.9 56.8h0.7v0.7h-0.7zM304.7 65.1h0.7v0.7h-0.7zM309.1 55.2h0.7v0.7h-0.7zM307.9 64.7h0.7v0.7h-0.7zM306.6 60.8h0.7v0.7h-0.7zM306.5 58.9h0.7v0.7h-0.7zM304.8 62.5h0.7v0.7h-0.7zM306.6 60.4h0.7v0.7h-0.7zM303.8 70.2h0.7v0.7h-0.7zM315.4 62.8h0.7v0.7h-0.7zM314.0 56.0h0.7v0.7h-0.7zM302.3 57.3h0.7v0.7h-0.7zM306.6 65.5h0.7v0.7h-0.7zM313.5 55.8h0.7v0.7h-0.7zM307.4 71.7h0.7v0.7h-0.7zM308.0 76.5h0.7v0.7h-0.7zM310.2 76.7h0.7v0.7h-0.7zM310.5 65.8h0.7v0.7h-0.7zM308.2 54.9h0.7v0.7h-0.7zM308.0 65.4h0.7v0.7h-0.7zM307.0 61.0h0.7v0.7h-0.7zM306.7 74.5h0.7v0.7h-0.7zM307.2 65.9h0.7v0.7h-0.7zM308.8 51.6h0.7v0.7h-0.7zM306.4 61.5h0.7v0.7h-0.7zM305.2 63.5h0.7v0.7h-0.7zM310.1 61.0h0.7v0.7h-0.7zM305.7 63.2h0.7v0.7h-0.7zM310.4 54.7h0.7v0.7h-0.7zM304.1 62.1h0.7v0.7h-0.7zM305.7 71.4h0.7v0.7h-0.7zM306.9 63.8h0.7v0.7h-0.7zM306.3 50.9h0.7v0.7h-0.7zM309.1 64.7h0.7v0.7h-0.7zM306.9 56.7h0.7v0.7h-0.7zM310.4 73.5h0.7v0.7h-0.7zM310.3 63.1h0.7v0.7h-0.7zM304.3 58.4h0.7v0.7h-0.7zM303.7 60.2h0.7v0.7h-0.7zM312.6 55.7h0.7v0.7h-0.7zM311.0 56.0h0.7v0.7h-0.7zM307.9 50.5h0.7v0.7h-0.7zM307.3 51.8h0.7v0.7h-0.7zM307.6 61.1h0.7v0.7h-0.7zM309.6 74.0h0.7v0.7h-0.7zM305.6 66.6h0.7v0.7h-0.7zM306.3 59.6h0.7v0.7h-0.7zM307.6 56.9h0.7v0.7h-0.7zM309.8 60.4h0.7v0.7h-0.7zM310.1 62.3h0.7v0.7h-0.7zM307.8 59.7h0.7v0.7h-0.7zM304.7 63.7h0.7v0.7h-0.7zM310.6 54.3h0.7v0.7h-0.7zM306.2 62.2h0.7v0.7h-0.7zM305.3 63.1h0.7v0.7h-0.7zM311.3 71.3h0.7v0.7h-0.7zM308.0 61.9h0.7v0.7h-0.7zM311.0 60.5h0.7v0.7h-0.7zM310.1 63.5h0.7v0.7h-0.7zM303.0 66.3h0.7v0.7h-0.7zM307.4 72.1h0.7v0.7h-0.7zM306.1 70.1h0.7v0.7h-0.7z"/>
<line x1="314.70" y1="29.10" x2="314.70" y2="87.90" stroke="#666" stroke-width="0.8" />
<line x1="300.50" y1="71.80" x2="359.50" y2="71.80" stroke="#666" stroke-width="0.8" />
<rect x="300.50" y="29.10" width="59.00" height="58.80" fill="none" stroke="#111" stroke-width="1.3" />
<text class="p" x="293.10" y="37.10" font-size="5.3" text-anchor="middle" fill="#333">10<tspan font-size="2.92" dy="-2.38">5</tspan></text>
<text class="p" x="293.10" y="52.10" font-size="5.3" text-anchor="middle" fill="#333">10<tspan font-size="2.92" dy="-2.38">4</tspan></text>
<text class="p" x="293.10" y="67.10" font-size="5.3" text-anchor="middle" fill="#333">10<tspan font-size="2.92" dy="-2.38">3</tspan></text>
<text class="p" x="293.10" y="82.10" font-size="5.3" text-anchor="middle" fill="#333">10<tspan font-size="2.92" dy="-2.38">2</tspan></text>
<text class="p" x="308.70" y="97.30" font-size="5.4" text-anchor="middle" fill="#333">10<tspan font-size="2.97" dy="-2.43">2</tspan></text>
<text class="p" x="323.80" y="97.30" font-size="5.4" text-anchor="middle" fill="#333">10<tspan font-size="2.97" dy="-2.43">3</tspan></text>
<text class="p" x="338.90" y="97.30" font-size="5.4" text-anchor="middle" fill="#333">10<tspan font-size="2.97" dy="-2.43">4</tspan></text>
<text class="p" x="354.00" y="97.30" font-size="5.4" text-anchor="middle" fill="#333">10<tspan font-size="2.97" dy="-2.43">5</tspan></text>
<text x="330.00" y="24.80" font-size="6.6" text-anchor="middle" font-weight="bold" fill="#111" >T-ALL#2</text>
<text x="304.00" y="38.90" font-size="5.8" text-anchor="start" font-weight="normal" fill="#222" class="t">16</text>
<text x="352.70" y="38.90" font-size="5.8" text-anchor="end" font-weight="normal" fill="#222" class="t">10</text>
<path fill="#222" fill-opacity="0.42" d="M388.5 73.0h0.7v0.7h-0.7zM382.6 79.0h0.7v0.7h-0.7zM378.8 80.6h0.7v0.7h-0.7zM379.9 81.2h0.7v0.7h-0.7zM382.8 82.4h0.7v0.7h-0.7zM382.2 82.9h0.7v0.7h-0.7zM382.9 79.7h0.7v0.7h-0.7zM380.8 78.2h0.7v0.7h-0.7zM376.4 83.4h0.7v0.7h-0.7zM380.9 81.6h0.7v0.7h-0.7zM382.5 76.3h0.7v0.7h-0.7zM379.2 78.8h0.7v0.7h-0.7zM384.6 78.0h0.7v0.7h-0.7zM381.8 77.7h0.7v0.7h-0.7zM377.4 81.3h0.7v0.7h-0.7zM381.1 81.8h0.7v0.7h-0.7zM376.6 84.3h0.7v0.7h-0.7zM378.7 80.7h0.7v0.7h-0.7zM380.3 79.9h0.7v0.7h-0.7zM382.8 81.8h0.7v0.7h-0.7zM382.4 78.2h0.7v0.7h-0.7zM382.7 80.5h0.7v0.7h-0.7zM384.1 79.3h0.7v0.7h-0.7zM380.1 83.6h0.7v0.7h-0.7zM380.9 83.1h0.7v0.7h-0.7zM382.3 76.6h0.7v0.7h-0.7zM381.5 81.7h0.7v0.7h-0.7zM382.7 75.6h0.7v0.7h-0.7zM382.7 77.9h0.7v0.7h-0.7zM385.9 84.1h0.7v0.7h-0.7zM384.7 79.4h0.7v0.7h-0.7zM387.4 77.4h0.7v0.7h-0.7zM378.3 75.7h0.7v0.7h-0.7zM384.2 72.5h0.7v0.7h-0.7zM381.6 77.9h0.7v0.7h-0.7zM384.7 78.0h0.7v0.7h-0.7zM382.0 81.1h0.7v0.7h-0.7zM379.5 82.1h0.7v0.7h-0.7zM388.8 73.1h0.7v0.7h-0.7zM381.9 81.4h0.7v0.7h-0.7zM379.7 81.3h0.7v0.7h-0.7zM381.5 83.3h0.7v0.7h-0.7zM384.4 76.9h0.7v0.7h-0.7zM384.3 73.4h0.7v0.7h-0.7zM380.3 78.6h0.7v0.7h-0.7zM379.5 77.0h0.7v0.7h-0.7zM380.1 79.8h0.7v0.7h-0.7zM380.7 83.7h0.7v0.7h-0.7zM382.2 76.6h0.7v0.7h-0.7zM385.1 80.6h0.7v0.7h-0.7zM379.6 84.7h0.7v0.7h-0.7zM382.8 77.8h0.7v0.7h-0.7zM382.8 79.3h0.7v0.7h-0.7zM377.9 81.5h0.7v0.7h-0.7zM382.0 83.6h0.7v0.7h-0.7zM378.2 83.1h0.7v0.7h-0.7zM381.5 80.2h0.7v0.7h-0.7zM377.6 86.3h0.7v0.7h-0.7zM385.6 82.1h0.7v0.7h-0.7zM383.0 83.5h0.7v0.7h-0.7zM383.2 82.0h0.7v0.7h-0.7zM380.4 81.7h0.7v0.7h-0.7zM380.5 78.2h0.7v0.7h-0.7zM380.1 78.2h0.7v0.7h-0.7zM377.9 81.6h0.7v0.7h-0.7zM387.2 79.7h0.7v0.7h-0.7zM384.1 76.4h0.7v0.7h-0.7zM382.4 75.9h0.7v0.7h-0.7zM379.5 80.4h0.7v0.7h-0.7zM380.3 83.5h0.7v0.7h-0.7zM379.9 83.8h0.7v0.7h-0.7zM376.4 86.1h0.7v0.7h-0.7zM377.6 83.4h0.7v0.7h-0.7zM381.5 82.7h0.7v0.7h-0.7zM383.5 80.2h0.7v0.7h-0.7zM381.1 86.0h0.7v0.7h-0.7zM380.1 81.4h0.7v0.7h-0.7zM380.0 81.7h0.7v0.7h-0.7zM378.4 81.2h0.7v0.7h-0.7zM383.2 77.8h0.7v0.7h-0.7zM383.0 77.8h0.7v0.7h-0.7zM386.1 77.1h0.7v0.7h-0.7zM387.2 78.1h0.7v0.7h-0.7zM381.1 83.3h0.7v0.7h-0.7zM385.3 82.2h0.7v0.7h-0.7zM386.0 80.0h0.7v0.7h-0.7zM377.8 85.3h0.7v0.7h-0.7zM381.3 81.7h0.7v0.7h-0.7zM385.6 75.8h0.7v0.7h-0.7zM385.8 84.2h0.7v0.7h-0.7zM383.3 78.4h0.7v0.7h-0.7zM386.0 78.1h0.7v0.7h-0.7zM384.9 81.7h0.7v0.7h-0.7zM376.7 84.4h0.7v0.7h-0.7zM376.6 81.6h0.7v0.7h-0.7zM383.5 75.9h0.7v0.7h-0.7zM379.2 80.6h0.7v0.7h-0.7zM382.5 80.7h0.7v0.7h-0.7zM383.0 78.1h0.7v0.7h-0.7zM379.1 83.1h0.7v0.7h-0.7zM378.7 79.9h0.7v0.7h-0.7zM383.8 76.8h0.7v0.7h-0.7zM378.6 85.3h0.7v0.7h-0.7zM381.4 74.4h0.7v0.7h-0.7zM390.6 73.7h0.7v0.7h-0.7zM383.8 81.0h0.7v0.7h-0.7zM382.5 74.8h0.7v0.7h-0.7zM384.7 79.1h0.7v0.7h-0.7zM380.7 76.4h0.7v0.7h-0.7zM379.5 81.4h0.7v0.7h-0.7zM380.7 81.5h0.7v0.7h-0.7zM380.2 83.9h0.7v0.7h-0.7zM383.5 75.9h0.7v0.7h-0.7zM379.5 82.8h0.7v0.7h-0.7zM379.7 85.3h0.7v0.7h-0.7zM379.7 82.1h0.7v0.7h-0.7zM383.4 76.0h0.7v0.7h-0.7zM385.5 77.2h0.7v0.7h-0.7zM379.2 79.9h0.7v0.7h-0.7zM386.3 77.0h0.7v0.7h-0.7zM380.6 81.5h0.7v0.7h-0.7zM383.3 77.0h0.7v0.7h-0.7zM380.8 81.5h0.7v0.7h-0.7zM384.7 79.0h0.7v0.7h-0.7zM386.8 76.4h0.7v0.7h-0.7zM380.4 77.3h0.7v0.7h-0.7zM381.3 82.2h0.7v0.7h-0.7zM380.7 80.4h0.7v0.7h-0.7zM378.3 80.8h0.7v0.7h-0.7zM380.0 81.0h0.7v0.7h-0.7zM384.9 79.6h0.7v0.7h-0.7zM384.4 81.7h0.7v0.7h-0.7zM380.0 85.0h0.7v0.7h-0.7zM381.6 76.7h0.7v0.7h-0.7zM379.5 81.4h0.7v0.7h-0.7zM381.3 82.8h0.7v0.7h-0.7zM377.6 83.1h0.7v0.7h-0.7zM382.3 77.8h0.7v0.7h-0.7zM382.3 79.8h0.7v0.7h-0.7zM382.6 76.3h0.7v0.7h-0.7zM383.1 78.5h0.7v0.7h-0.7zM378.7 76.1h0.7v0.7h-0.7zM380.8 79.7h0.7v0.7h-0.7zM389.0 72.2h0.7v0.7h-0.7zM386.2 80.7h0.7v0.7h-0.7zM382.8 80.2h0.7v0.7h-0.7zM383.0 75.3h0.7v0.7h-0.7zM386.0 76.6h0.7v0.7h-0.7zM379.1 81.9h0.7v0.7h-0.7zM377.7 78.5h0.7v0.7h-0.7zM383.3 83.5h0.7v0.7h-0.7zM381.5 79.5h0.7v0.7h-0.7zM382.5 78.3h0.7v0.7h-0.7zM381.8 81.2h0.7v0.7h-0.7zM380.7 79.7h0.7v0.7h-0.7zM381.6 80.4h0.7v0.7h-0.7zM383.6 74.9h0.7v0.7h-0.7zM377.8 81.3h0.7v0.7h-0.7zM383.0 75.8h0.7v0.7h-0.7zM385.3 81.8h0.7v0.7h-0.7zM379.0 84.9h0.7v0.7h-0.7zM384.1 80.0h0.7v0.7h-0.7zM379.5 78.5h0.7v0.7h-0.7zM382.7 78.1h0.7v0.7h-0.7zM383.5 74.6h0.7v0.7h-0.7zM382.7 80.9h0.7v0.7h-0.7zM379.0 80.1h0.7v0.7h-0.7zM377.7 82.4h0.7v0.7h-0.7zM383.5 74.2h0.7v0.7h-0.7zM381.2 84.3h0.7v0.7h-0.7zM383.9 75.1h0.7v0.7h-0.7zM388.4 74.3h0.7v0.7h-0.7zM384.3 81.0h0.7v0.7h-0.7zM380.2 82.7h0.7v0.7h-0.7zM381.8 79.1h0.7v0.7h-0.7zM381.6 83.0h0.7v0.7h-0.7zM384.3 76.7h0.7v0.7h-0.7zM383.8 81.9h0.7v0.7h-0.7zM381.6 81.2h0.7v0.7h-0.7zM382.4 75.5h0.7v0.7h-0.7zM384.0 81.8h0.7v0.7h-0.7zM378.1 79.2h0.7v0.7h-0.7zM380.6 81.3h0.7v0.7h-0.7zM383.9 78.0h0.7v0.7h-0.7zM381.3 77.5h0.7v0.7h-0.7zM382.1 77.6h0.7v0.7h-0.7zM384.4 80.2h0.7v0.7h-0.7zM377.7 85.2h0.7v0.7h-0.7zM377.9 85.9h0.7v0.7h-0.7zM384.6 83.5h0.7v0.7h-0.7zM382.3 79.8h0.7v0.7h-0.7zM385.1 74.5h0.7v0.7h-0.7zM381.1 79.5h0.7v0.7h-0.7zM381.0 76.1h0.7v0.7h-0.7zM385.9 76.4h0.7v0.7h-0.7zM383.2 78.7h0.7v0.7h-0.7zM380.4 84.3h0.7v0.7h-0.7zM378.7 79.4h0.7v0.7h-0.7zM377.3 85.7h0.7v0.7h-0.7zM379.0 80.4h0.7v0.7h-0.7zM380.6 82.4h0.7v0.7h-0.7zM384.5 78.7h0.7v0.7h-0.7zM381.2 81.7h0.7v0.7h-0.7zM378.6 82.5h0.7v0.7h-0.7zM386.6 75.1h0.7v0.7h-0.7zM378.4 77.9h0.7v0.7h-0.7zM381.4 81.9h0.7v0.7h-0.7zM379.8 80.3h0.7v0.7h-0.7zM385.0 78.0h0.7v0.7h-0.7zM383.4 77.9h0.7v0.7h-0.7zM385.3 80.1h0.7v0.7h-0.7zM380.7 79.0h0.7v0.7h-0.7zM389.3 72.2h0.7v0.7h-0.7zM378.1 75.5h0.7v0.7h-0.7zM383.4 79.1h0.7v0.7h-0.7zM380.9 76.3h0.7v0.7h-0.7zM381.3 78.1h0.7v0.7h-0.7zM377.5 82.0h0.7v0.7h-0.7zM382.2 79.3h0.7v0.7h-0.7zM379.6 83.3h0.7v0.7h-0.7zM382.0 78.8h0.7v0.7h-0.7zM383.1 80.0h0.7v0.7h-0.7zM384.2 80.7h0.7v0.7h-0.7zM383.6 77.2h0.7v0.7h-0.7zM385.4 80.4h0.7v0.7h-0.7zM379.5 84.8h0.7v0.7h-0.7zM381.5 77.4h0.7v0.7h-0.7zM381.1 76.9h0.7v0.7h-0.7zM384.8 74.6h0.7v0.7h-0.7zM385.9 75.0h0.7v0.7h-0.7zM380.8 84.0h0.7v0.7h-0.7zM382.4 75.2h0.7v0.7h-0.7zM380.8 75.7h0.7v0.7h-0.7zM383.4 76.2h0.7v0.7h-0.7zM381.0 80.2h0.7v0.7h-0.7zM376.5 84.3h0.7v0.7h-0.7zM386.9 74.3h0.7v0.7h-0.7zM379.5 82.5h0.7v0.7h-0.7zM385.1 75.5h0.7v0.7h-0.7zM381.9 80.9h0.7v0.7h-0.7zM384.6 76.0h0.7v0.7h-0.7zM389.1 80.9h0.7v0.7h-0.7zM377.0 80.9h0.7v0.7h-0.7zM382.5 77.9h0.7v0.7h-0.7zM379.7 81.4h0.7v0.7h-0.7zM379.0 80.2h0.7v0.7h-0.7zM382.0 78.8h0.7v0.7h-0.7zM382.5 82.4h0.7v0.7h-0.7zM384.9 78.3h0.7v0.7h-0.7zM387.8 75.2h0.7v0.7h-0.7zM384.2 83.4h0.7v0.7h-0.7zM382.0 82.2h0.7v0.7h-0.7zM379.9 79.8h0.7v0.7h-0.7zM382.0 81.2h0.7v0.7h-0.7zM382.5 81.4h0.7v0.7h-0.7zM382.4 79.5h0.7v0.7h-0.7zM379.5 81.3h0.7v0.7h-0.7zM381.6 80.2h0.7v0.7h-0.7zM378.0 85.9h0.7v0.7h-0.7zM384.9 78.8h0.7v0.7h-0.7zM379.9 84.3h0.7v0.7h-0.7zM380.7 80.2h0.7v0.7h-0.7zM383.3 77.7h0.7v0.7h-0.7zM381.8 78.8h0.7v0.7h-0.7zM383.3 80.3h0.7v0.7h-0.7zM383.7 80.1h0.7v0.7h-0.7zM382.5 80.7h0.7v0.7h-0.7zM383.9 76.2h0.7v0.7h-0.7zM377.8 82.9h0.7v0.7h-0.7zM382.0 79.4h0.7v0.7h-0.7zM386.1 78.6h0.7v0.7h-0.7zM385.4 78.1h0.7v0.7h-0.7zM377.2 79.5h0.7v0.7h-0.7zM384.8 78.3h0.7v0.7h-0.7zM380.0 84.7h0.7v0.7h-0.7zM386.8 78.0h0.7v0.7h-0.7zM385.5 77.0h0.7v0.7h-0.7zM378.5 77.9h0.7v0.7h-0.7zM384.9 74.1h0.7v0.7h-0.7zM380.2 81.4h0.7v0.7h-0.7zM383.3 74.3h0.7v0.7h-0.7zM380.8 78.7h0.7v0.7h-0.7zM386.0 77.0h0.7v0.7h-0.7zM379.5 86.2h0.7v0.7h-0.7zM382.0 82.1h0.7v0.7h-0.7zM382.5 79.3h0.7v0.7h-0.7zM383.8 77.0h0.7v0.7h-0.7zM377.2 81.4h0.7v0.7h-0.7zM383.4 78.1h0.7v0.7h-0.7zM384.8 80.2h0.7v0.7h-0.7zM382.1 82.9h0.7v0.7h-0.7zM382.7 80.5h0.7v0.7h-0.7zM380.6 80.6h0.7v0.7h-0.7zM381.3 83.3h0.7v0.7h-0.7zM386.4 80.1h0.7v0.7h-0.7zM382.3 79.6h0.7v0.7h-0.7zM382.3 78.4h0.7v0.7h-0.7zM381.5 79.5h0.7v0.7h-0.7zM381.4 74.2h0.7v0.7h-0.7zM381.5 82.1h0.7v0.7h-0.7zM382.0 78.6h0.7v0.7h-0.7zM385.9 75.1h0.7v0.7h-0.7zM389.9 73.2h0.7v0.7h-0.7zM384.4 82.3h0.7v0.7h-0.7zM383.7 79.4h0.7v0.7h-0.7zM379.3 81.4h0.7v0.7h-0.7zM382.2 82.5h0.7v0.7h-0.7zM378.0 81.0h0.7v0.7h-0.7zM381.2 78.9h0.7v0.7h-0.7zM383.4 74.9h0.7v0.7h-0.7zM383.0 76.8h0.7v0.7h-0.7zM380.4 80.9h0.7v0.7h-0.7zM377.2 84.2h0.7v0.7h-0.7zM388.1 74.5h0.7v0.7h-0.7zM378.7 86.1h0.7v0.7h-0.7zM386.6 71.7h0.7v0.7h-0.7zM380.4 79.0h0.7v0.7h-0.7zM382.0 79.8h0.7v0.7h-0.7zM378.4 81.2h0.7v0.7h-0.7zM384.9 75.7h0.7v0.7h-0.7zM382.2 81.6h0.7v0.7h-0.7zM386.8 78.1h0.7v0.7h-0.7zM382.2 77.4h0.7v0.7h-0.7zM382.3 83.4h0.7v0.7h-0.7zM382.9 82.7h0.7v0.7h-0.7zM380.0 83.4h0.7v0.7h-0.7zM380.7 79.0h0.7v0.7h-0.7zM379.6 84.7h0.7v0.7h-0.7zM383.3 78.8h0.7v0.7h-0.7zM380.7 83.0h0.7v0.7h-0.7zM380.1 84.2h0.7v0.7h-0.7zM382.5 78.3h0.7v0.7h-0.7zM380.9 78.0h0.7v0.7h-0.7zM378.2 81.2h0.7v0.7h-0.7zM380.0 80.4h0.7v0.7h-0.7zM379.2 80.1h0.7v0.7h-0.7zM382.5 76.2h0.7v0.7h-0.7zM381.8 80.7h0.7v0.7h-0.7zM385.1 81.1h0.7v0.7h-0.7zM386.0 80.0h0.7v0.7h-0.7zM383.9 80.1h0.7v0.7h-0.7zM381.1 80.3h0.7v0.7h-0.7zM381.2 78.0h0.7v0.7h-0.7zM385.1 76.3h0.7v0.7h-0.7zM382.7 77.4h0.7v0.7h-0.7zM377.9 85.6h0.7v0.7h-0.7zM381.9 76.0h0.7v0.7h-0.7zM383.6 81.5h0.7v0.7h-0.7zM380.6 82.8h0.7v0.7h-0.7zM385.6 80.9h0.7v0.7h-0.7zM383.5 81.2h0.7v0.7h-0.7zM386.6 77.7h0.7v0.7h-0.7z"/>
<path fill="#666" fill-opacity="0.2" d="M402.6 60.4h0.7v0.7h-0.7zM396.1 68.4h0.7v0.7h-0.7zM383.9 64.5h0.7v0.7h-0.7zM381.6 77.0h0.7v0.7h-0.7zM399.1 61.9h0.7v0.7h-0.7zM379.7 84.5h0.7v0.7h-0.7zM377.8 75.4h0.7v0.7h-0.7zM386.0 72.9h0.7v0.7h-0.7zM399.4 52.5h0.7v0.7h-0.7zM388.0 71.7h0.7v0.7h-0.7zM381.3 74.8h0.7v0.7h-0.7zM392.1 59.2h0.7v0.7h-0.7zM380.1 75.9h0.7v0.7h-0.7zM388.8 70.6h0.7v0.7h-0.7zM408.3 58.8h0.7v0.7h-0.7zM394.2 61.1h0.7v0.7h-0.7zM398.0 57.6h0.7v0.7h-0.7zM403.2 64.6h0.7v0.7h-0.7zM389.1 66.9h0.7v0.7h-0.7zM380.5 69.0h0.7v0.7h-0.7zM396.4 60.3h0.7v0.7h-0.7zM378.4 76.1h0.7v0.7h-0.7zM398.4 71.2h0.7v0.7h-0.7zM391.1 65.7h0.7v0.7h-0.7zM384.2 70.1h0.7v0.7h-0.7zM394.9 71.5h0.7v0.7h-0.7zM400.5 58.6h0.7v0.7h-0.7zM397.7 66.6h0.7v0.7h-0.7zM394.2 51.2h0.7v0.7h-0.7zM390.1 66.7h0.7v0.7h-0.7zM401.2 57.8h0.7v0.7h-0.7zM394.2 66.5h0.7v0.7h-0.7zM400.7 64.1h0.7v0.7h-0.7zM398.8 69.8h0.7v0.7h-0.7zM398.3 66.2h0.7v0.7h-0.7zM388.5 70.1h0.7v0.7h-0.7zM407.9 54.3h0.7v0.7h-0.7zM394.7 64.2h0.7v0.7h-0.7zM388.3 52.9h0.7v0.7h-0.7zM404.3 50.3h0.7v0.7h-0.7zM383.9 80.8h0.7v0.7h-0.7zM386.1 61.1h0.7v0.7h-0.7zM395.5 59.6h0.7v0.7h-0.7zM389.8 66.1h0.7v0.7h-0.7zM395.7 76.5h0.7v0.7h-0.7zM380.6 80.7h0.7v0.7h-0.7zM385.1 70.3h0.7v0.7h-0.7zM387.2 75.2h0.7v0.7h-0.7zM392.6 69.6h0.7v0.7h-0.7zM396.4 55.5h0.7v0.7h-0.7zM402.2 56.8h0.7v0.7h-0.7zM396.1 62.5h0.7v0.7h-0.7zM392.7 69.8h0.7v0.7h-0.7zM392.0 72.9h0.7v0.7h-0.7zM392.3 67.0h0.7v0.7h-0.7zM380.0 74.1h0.7v0.7h-0.7zM403.2 47.3h0.7v0.7h-0.7zM385.1 70.2h0.7v0.7h-0.7zM399.9 67.4h0.7v0.7h-0.7zM391.1 68.0h0.7v0.7h-0.7zM389.3 66.2h0.7v0.7h-0.7zM386.7 68.3h0.7v0.7h-0.7zM389.4 69.3h0.7v0.7h-0.7zM385.5 75.5h0.7v0.7h-0.7zM390.3 71.1h0.7v0.7h-0.7zM379.7 72.7h0.7v0.7h-0.7zM391.3 68.9h0.7v0.7h-0.7zM389.2 77.7h0.7v0.7h-0.7zM388.9 77.3h0.7v0.7h-0.7zM401.8 62.9h0.7v0.7h-0.7zM394.2 68.2h0.7v0.7h-0.7zM389.4 62.5h0.7v0.7h-0.7zM386.4 67.7h0.7v0.7h-0.7zM387.3 66.4h0.7v0.7h-0.7zM382.0 75.5h0.7v0.7h-0.7zM402.0 53.9h0.7v0.7h-0.7zM380.7 70.0h0.7v0.7h-0.7zM380.2 75.4h0.7v0.7h-0.7zM394.8 77.2h0.7v0.7h-0.7zM381.1 67.5h0.7v0.7h-0.7zM389.2 68.2h0.7v0.7h-0.7zM403.5 65.0h0.7v0.7h-0.7zM385.2 60.6h0.7v0.7h-0.7zM395.2 61.7h0.7v0.7h-0.7zM401.5 58.5h0.7v0.7h-0.7zM389.4 62.1h0.7v0.7h-0.7zM390.2 74.7h0.7v0.7h-0.7zM384.1 74.2h0.7v0.7h-0.7zM385.9 76.8h0.7v0.7h-0.7zM390.1 71.3h0.7v0.7h-0.7zM393.1 60.9h0.7v0.7h-0.7zM381.4 82.6h0.7v0.7h-0.7zM387.8 64.3h0.7v0.7h-0.7zM385.4 81.4h0.7v0.7h-0.7zM391.3 73.6h0.7v0.7h-0.7zM391.3 74.9h0.7v0.7h-0.7zM388.1 69.6h0.7v0.7h-0.7zM397.6 73.0h0.7v0.7h-0.7zM391.9 63.1h0.7v0.7h-0.7zM398.8 73.3h0.7v0.7h-0.7zM379.8 71.8h0.7v0.7h-0.7zM395.8 61.4h0.7v0.7h-0.7zM393.0 70.0h0.7v0.7h-0.7zM401.9 51.6h0.7v0.7h-0.7zM386.3 71.0h0.7v0.7h-0.7zM394.0 61.0h0.7v0.7h-0.7zM390.9 63.4h0.7v0.7h-0.7zM397.6 69.5h0.7v0.7h-0.7zM384.5 76.1h0.7v0.7h-0.7zM382.4 76.8h0.7v0.7h-0.7zM379.2 78.4h0.7v0.7h-0.7zM400.0 65.6h0.7v0.7h-0.7zM387.8 78.2h0.7v0.7h-0.7zM394.0 73.6h0.7v0.7h-0.7zM386.4 64.9h0.7v0.7h-0.7zM388.5 71.4h0.7v0.7h-0.7zM389.4 70.3h0.7v0.7h-0.7zM402.4 51.8h0.7v0.7h-0.7zM395.1 71.6h0.7v0.7h-0.7zM395.0 75.0h0.7v0.7h-0.7zM388.2 70.8h0.7v0.7h-0.7zM388.4 67.9h0.7v0.7h-0.7zM405.1 48.4h0.7v0.7h-0.7zM386.1 68.7h0.7v0.7h-0.7zM390.9 66.0h0.7v0.7h-0.7zM395.8 66.8h0.7v0.7h-0.7zM405.2 61.3h0.7v0.7h-0.7zM383.5 64.7h0.7v0.7h-0.7zM387.5 67.1h0.7v0.7h-0.7zM388.7 77.0h0.7v0.7h-0.7zM393.5 58.0h0.7v0.7h-0.7zM384.4 81.9h0.7v0.7h-0.7zM381.1 79.7h0.7v0.7h-0.7zM397.5 55.7h0.7v0.7h-0.7zM380.3 78.0h0.7v0.7h-0.7zM393.0 71.7h0.7v0.7h-0.7zM395.2 58.6h0.7v0.7h-0.7zM405.2 57.4h0.7v0.7h-0.7zM391.8 68.2h0.7v0.7h-0.7zM378.6 72.9h0.7v0.7h-0.7z"/>
<path fill="#777" fill-opacity="0.2" d="M380.2 66.2h0.7v0.7h-0.7zM385.5 58.9h0.7v0.7h-0.7zM386.9 70.8h0.7v0.7h-0.7zM384.4 66.4h0.7v0.7h-0.7zM386.4 68.9h0.7v0.7h-0.7zM384.9 54.7h0.7v0.7h-0.7zM383.6 79.1h0.7v0.7h-0.7zM384.5 58.7h0.7v0.7h-0.7zM381.9 75.7h0.7v0.7h-0.7zM389.1 60.9h0.7v0.7h-0.7zM386.0 55.0h0.7v0.7h-0.7zM383.2 74.8h0.7v0.7h-0.7zM378.8 68.9h0.7v0.7h-0.7zM380.6 64.3h0.7v0.7h-0.7zM383.2 62.6h0.7v0.7h-0.7zM381.1 69.9h0.7v0.7h-0.7zM384.1 63.1h0.7v0.7h-0.7zM377.3 52.1h0.7v0.7h-0.7zM380.1 69.2h0.7v0.7h-0.7zM380.6 69.5h0.7v0.7h-0.7zM381.9 66.5h0.7v0.7h-0.7zM387.5 62.7h0.7v0.7h-0.7zM381.0 55.0h0.7v0.7h-0.7zM383.3 69.3h0.7v0.7h-0.7zM388.1 60.9h0.7v0.7h-0.7zM377.8 67.5h0.7v0.7h-0.7zM383.5 63.3h0.7v0.7h-0.7zM380.6 70.0h0.7v0.7h-0.7zM380.6 72.3h0.7v0.7h-0.7zM382.2 67.8h0.7v0.7h-0.7zM384.7 57.8h0.7v0.7h-0.7zM383.1 59.9h0.7v0.7h-0.7zM381.4 72.6h0.7v0.7h-0.7zM385.6 65.8h0.7v0.7h-0.7zM383.9 71.1h0.7v0.7h-0.7zM381.2 77.3h0.7v0.7h-0.7zM380.3 63.6h0.7v0.7h-0.7zM379.7 59.1h0.7v0.7h-0.7zM383.5 77.6h0.7v0.7h-0.7zM382.2 63.3h0.7v0.7h-0.7zM379.7 61.9h0.7v0.7h-0.7zM389.4 74.9h0.7v0.7h-0.7zM379.4 65.2h0.7v0.7h-0.7zM385.0 73.8h0.7v0.7h-0.7zM380.7 64.4h0.7v0.7h-0.7zM384.7 54.9h0.7v0.7h-0.7zM389.8 75.4h0.7v0.7h-0.7zM376.7 72.8h0.7v0.7h-0.7zM381.8 65.3h0.7v0.7h-0.7zM379.7 61.4h0.7v0.7h-0.7zM383.3 54.7h0.7v0.7h-0.7zM380.5 69.9h0.7v0.7h-0.7zM377.8 65.4h0.7v0.7h-0.7zM383.6 56.3h0.7v0.7h-0.7zM382.9 64.9h0.7v0.7h-0.7zM380.8 60.4h0.7v0.7h-0.7zM384.5 57.1h0.7v0.7h-0.7zM383.8 63.1h0.7v0.7h-0.7z"/>
<line x1="389.80" y1="29.10" x2="389.80" y2="87.90" stroke="#666" stroke-width="0.8" />
<line x1="375.60" y1="71.80" x2="434.60" y2="71.80" stroke="#666" stroke-width="0.8" />
<rect x="375.60" y="29.10" width="59.00" height="58.80" fill="none" stroke="#111" stroke-width="1.3" />
<text class="p" x="368.20" y="37.10" font-size="5.3" text-anchor="middle" fill="#333">10<tspan font-size="2.92" dy="-2.38">5</tspan></text>
<text class="p" x="368.20" y="52.10" font-size="5.3" text-anchor="middle" fill="#333">10<tspan font-size="2.92" dy="-2.38">4</tspan></text>
<text class="p" x="368.20" y="67.10" font-size="5.3" text-anchor="middle" fill="#333">10<tspan font-size="2.92" dy="-2.38">3</tspan></text>
<text class="p" x="368.20" y="82.10" font-size="5.3" text-anchor="middle" fill="#333">10<tspan font-size="2.92" dy="-2.38">2</tspan></text>
<text class="p" x="383.80" y="97.30" font-size="5.4" text-anchor="middle" fill="#333">10<tspan font-size="2.97" dy="-2.43">2</tspan></text>
<text class="p" x="398.90" y="97.30" font-size="5.4" text-anchor="middle" fill="#333">10<tspan font-size="2.97" dy="-2.43">3</tspan></text>
<text class="p" x="414.00" y="97.30" font-size="5.4" text-anchor="middle" fill="#333">10<tspan font-size="2.97" dy="-2.43">4</tspan></text>
<text class="p" x="429.10" y="97.30" font-size="5.4" text-anchor="middle" fill="#333">10<tspan font-size="2.97" dy="-2.43">5</tspan></text>
<text x="405.10" y="24.80" font-size="6.6" text-anchor="middle" font-weight="bold" fill="#111" >T-ALL#3</text>
<text x="379.10" y="38.90" font-size="5.8" text-anchor="start" font-weight="normal" fill="#222" class="t">16</text>
<text x="427.80" y="38.90" font-size="5.8" text-anchor="end" font-weight="normal" fill="#222" class="t">6</text>
<path fill="#333" fill-opacity="0.4" d="M456.2 72.0h0.7v0.7h-0.7zM459.6 83.7h0.7v0.7h-0.7zM462.9 79.3h0.7v0.7h-0.7zM461.1 82.1h0.7v0.7h-0.7zM456.8 72.3h0.7v0.7h-0.7zM459.6 77.5h0.7v0.7h-0.7zM457.5 74.4h0.7v0.7h-0.7zM463.0 79.0h0.7v0.7h-0.7zM459.0 76.0h0.7v0.7h-0.7zM456.4 83.2h0.7v0.7h-0.7zM454.5 80.1h0.7v0.7h-0.7zM464.2 68.3h0.7v0.7h-0.7zM459.3 78.7h0.7v0.7h-0.7zM454.5 74.5h0.7v0.7h-0.7zM462.5 63.4h0.7v0.7h-0.7zM459.6 75.0h0.7v0.7h-0.7zM457.4 69.3h0.7v0.7h-0.7zM461.3 79.3h0.7v0.7h-0.7zM458.9 80.1h0.7v0.7h-0.7zM452.5 83.4h0.7v0.7h-0.7zM459.7 77.2h0.7v0.7h-0.7zM458.2 73.3h0.7v0.7h-0.7zM458.0 84.8h0.7v0.7h-0.7zM457.4 85.4h0.7v0.7h-0.7zM455.7 76.9h0.7v0.7h-0.7zM458.8 74.0h0.7v0.7h-0.7zM457.8 81.7h0.7v0.7h-0.7zM454.4 79.2h0.7v0.7h-0.7zM459.7 75.2h0.7v0.7h-0.7zM456.9 80.6h0.7v0.7h-0.7zM454.8 82.1h0.7v0.7h-0.7zM468.3 74.6h0.7v0.7h-0.7zM456.2 72.3h0.7v0.7h-0.7zM453.2 80.7h0.7v0.7h-0.7zM454.8 83.4h0.7v0.7h-0.7zM458.4 82.1h0.7v0.7h-0.7zM456.9 83.3h0.7v0.7h-0.7zM463.2 70.9h0.7v0.7h-0.7zM457.4 78.6h0.7v0.7h-0.7zM457.5 84.5h0.7v0.7h-0.7zM456.5 75.6h0.7v0.7h-0.7zM452.5 75.6h0.7v0.7h-0.7zM457.4 83.4h0.7v0.7h-0.7zM458.0 75.0h0.7v0.7h-0.7zM457.2 75.1h0.7v0.7h-0.7zM461.8 76.7h0.7v0.7h-0.7zM463.5 78.1h0.7v0.7h-0.7zM460.3 72.8h0.7v0.7h-0.7zM459.8 75.7h0.7v0.7h-0.7zM455.7 81.3h0.7v0.7h-0.7zM464.2 76.9h0.7v0.7h-0.7zM465.8 76.6h0.7v0.7h-0.7zM452.6 80.2h0.7v0.7h-0.7zM465.3 76.6h0.7v0.7h-0.7zM458.3 76.6h0.7v0.7h-0.7zM458.6 80.5h0.7v0.7h-0.7zM456.3 79.9h0.7v0.7h-0.7zM459.1 73.2h0.7v0.7h-0.7zM457.0 76.3h0.7v0.7h-0.7zM455.6 76.5h0.7v0.7h-0.7zM455.6 76.9h0.7v0.7h-0.7zM464.8 73.5h0.7v0.7h-0.7zM459.4 74.3h0.7v0.7h-0.7zM458.6 80.7h0.7v0.7h-0.7zM464.2 82.8h0.7v0.7h-0.7zM458.4 84.5h0.7v0.7h-0.7zM457.8 82.6h0.7v0.7h-0.7zM457.7 73.0h0.7v0.7h-0.7zM460.3 76.1h0.7v0.7h-0.7zM457.6 80.6h0.7v0.7h-0.7zM454.0 79.6h0.7v0.7h-0.7zM457.0 77.1h0.7v0.7h-0.7zM459.9 78.2h0.7v0.7h-0.7zM460.2 70.8h0.7v0.7h-0.7zM458.2 81.8h0.7v0.7h-0.7zM455.9 86.3h0.7v0.7h-0.7zM457.8 75.7h0.7v0.7h-0.7zM456.5 82.6h0.7v0.7h-0.7zM462.1 74.1h0.7v0.7h-0.7zM460.3 76.0h0.7v0.7h-0.7zM454.7 76.9h0.7v0.7h-0.7zM460.9 75.0h0.7v0.7h-0.7zM458.7 86.2h0.7v0.7h-0.7zM461.9 74.5h0.7v0.7h-0.7zM457.0 81.0h0.7v0.7h-0.7zM455.3 84.3h0.7v0.7h-0.7zM455.4 79.3h0.7v0.7h-0.7zM461.2 79.9h0.7v0.7h-0.7zM464.9 72.1h0.7v0.7h-0.7zM460.1 72.3h0.7v0.7h-0.7zM456.3 82.2h0.7v0.7h-0.7zM456.2 73.7h0.7v0.7h-0.7zM458.2 80.9h0.7v0.7h-0.7zM462.9 80.7h0.7v0.7h-0.7zM461.1 73.2h0.7v0.7h-0.7zM453.5 77.5h0.7v0.7h-0.7zM460.2 81.6h0.7v0.7h-0.7zM461.4 83.6h0.7v0.7h-0.7zM460.9 81.4h0.7v0.7h-0.7zM458.9 77.0h0.7v0.7h-0.7zM457.5 79.2h0.7v0.7h-0.7zM453.7 81.5h0.7v0.7h-0.7zM461.8 74.9h0.7v0.7h-0.7zM462.7 71.7h0.7v0.7h-0.7zM459.6 74.3h0.7v0.7h-0.7zM462.0 79.5h0.7v0.7h-0.7zM461.6 80.2h0.7v0.7h-0.7zM459.9 82.8h0.7v0.7h-0.7zM458.7 67.3h0.7v0.7h-0.7zM458.5 81.0h0.7v0.7h-0.7zM457.7 83.9h0.7v0.7h-0.7zM456.9 80.6h0.7v0.7h-0.7zM454.8 80.1h0.7v0.7h-0.7zM456.5 77.0h0.7v0.7h-0.7zM455.1 76.5h0.7v0.7h-0.7zM457.8 78.5h0.7v0.7h-0.7zM456.8 86.0h0.7v0.7h-0.7zM453.8 79.9h0.7v0.7h-0.7zM452.9 81.2h0.7v0.7h-0.7zM457.2 71.1h0.7v0.7h-0.7zM459.2 68.7h0.7v0.7h-0.7zM455.8 79.0h0.7v0.7h-0.7zM458.5 72.5h0.7v0.7h-0.7zM459.3 79.7h0.7v0.7h-0.7zM455.7 76.6h0.7v0.7h-0.7zM461.4 87.0h0.7v0.7h-0.7zM458.2 75.8h0.7v0.7h-0.7zM458.8 86.8h0.7v0.7h-0.7zM453.9 83.7h0.7v0.7h-0.7zM457.7 73.1h0.7v0.7h-0.7zM457.0 74.3h0.7v0.7h-0.7zM456.9 86.4h0.7v0.7h-0.7zM461.9 81.0h0.7v0.7h-0.7zM458.4 76.2h0.7v0.7h-0.7zM465.8 73.5h0.7v0.7h-0.7zM459.5 82.6h0.7v0.7h-0.7zM457.3 81.5h0.7v0.7h-0.7zM457.7 80.6h0.7v0.7h-0.7zM461.3 70.4h0.7v0.7h-0.7zM458.2 76.2h0.7v0.7h-0.7zM457.1 81.2h0.7v0.7h-0.7zM463.5 65.4h0.7v0.7h-0.7zM464.4 71.7h0.7v0.7h-0.7zM454.6 77.8h0.7v0.7h-0.7zM458.5 79.2h0.7v0.7h-0.7zM461.5 75.8h0.7v0.7h-0.7zM456.6 86.6h0.7v0.7h-0.7zM454.7 78.3h0.7v0.7h-0.7zM456.2 81.7h0.7v0.7h-0.7zM459.6 80.5h0.7v0.7h-0.7zM464.4 73.7h0.7v0.7h-0.7zM463.8 75.1h0.7v0.7h-0.7zM460.8 81.2h0.7v0.7h-0.7zM464.7 69.6h0.7v0.7h-0.7zM466.4 64.1h0.7v0.7h-0.7zM457.2 78.5h0.7v0.7h-0.7zM457.7 85.4h0.7v0.7h-0.7zM461.4 84.3h0.7v0.7h-0.7zM453.5 79.1h0.7v0.7h-0.7zM460.2 80.0h0.7v0.7h-0.7zM455.6 74.8h0.7v0.7h-0.7zM457.0 75.6h0.7v0.7h-0.7zM455.6 75.6h0.7v0.7h-0.7zM464.8 72.2h0.7v0.7h-0.7zM456.0 68.4h0.7v0.7h-0.7zM454.4 79.1h0.7v0.7h-0.7zM456.9 80.3h0.7v0.7h-0.7zM465.2 66.2h0.7v0.7h-0.7zM460.5 80.5h0.7v0.7h-0.7zM462.9 75.1h0.7v0.7h-0.7zM460.6 82.1h0.7v0.7h-0.7zM463.5 76.1h0.7v0.7h-0.7zM453.4 78.7h0.7v0.7h-0.7zM457.1 77.7h0.7v0.7h-0.7zM462.3 70.8h0.7v0.7h-0.7zM459.8 75.5h0.7v0.7h-0.7zM458.6 85.2h0.7v0.7h-0.7zM461.9 73.4h0.7v0.7h-0.7zM458.0 83.5h0.7v0.7h-0.7zM458.0 83.7h0.7v0.7h-0.7zM463.0 73.6h0.7v0.7h-0.7zM460.1 86.5h0.7v0.7h-0.7zM460.4 74.0h0.7v0.7h-0.7zM463.1 75.2h0.7v0.7h-0.7zM457.0 81.5h0.7v0.7h-0.7zM460.9 74.4h0.7v0.7h-0.7zM459.3 80.9h0.7v0.7h-0.7zM461.1 76.5h0.7v0.7h-0.7zM455.1 81.4h0.7v0.7h-0.7zM459.5 78.9h0.7v0.7h-0.7zM461.5 78.1h0.7v0.7h-0.7zM452.7 85.3h0.7v0.7h-0.7zM461.5 68.7h0.7v0.7h-0.7zM460.7 81.1h0.7v0.7h-0.7zM459.7 80.4h0.7v0.7h-0.7zM455.1 83.6h0.7v0.7h-0.7zM459.9 73.7h0.7v0.7h-0.7zM460.4 82.0h0.7v0.7h-0.7zM459.4 79.3h0.7v0.7h-0.7zM460.6 78.4h0.7v0.7h-0.7zM458.1 77.0h0.7v0.7h-0.7zM458.5 85.5h0.7v0.7h-0.7zM456.3 69.0h0.7v0.7h-0.7zM460.8 71.9h0.7v0.7h-0.7zM454.7 82.9h0.7v0.7h-0.7zM458.7 79.3h0.7v0.7h-0.7zM456.0 77.4h0.7v0.7h-0.7zM460.1 81.4h0.7v0.7h-0.7zM460.9 81.6h0.7v0.7h-0.7zM461.1 75.3h0.7v0.7h-0.7zM459.9 78.0h0.7v0.7h-0.7zM462.4 73.7h0.7v0.7h-0.7zM456.5 81.0h0.7v0.7h-0.7zM458.2 77.8h0.7v0.7h-0.7zM457.4 86.2h0.7v0.7h-0.7zM457.0 76.9h0.7v0.7h-0.7zM463.0 74.9h0.7v0.7h-0.7zM456.8 76.7h0.7v0.7h-0.7zM458.0 77.8h0.7v0.7h-0.7zM457.2 78.8h0.7v0.7h-0.7zM458.9 72.5h0.7v0.7h-0.7zM454.6 79.3h0.7v0.7h-0.7zM458.0 77.6h0.7v0.7h-0.7zM458.1 79.2h0.7v0.7h-0.7zM456.9 78.4h0.7v0.7h-0.7zM464.8 74.4h0.7v0.7h-0.7zM456.4 83.6h0.7v0.7h-0.7zM459.5 74.1h0.7v0.7h-0.7zM463.7 63.8h0.7v0.7h-0.7zM459.9 79.4h0.7v0.7h-0.7zM460.6 77.2h0.7v0.7h-0.7zM459.4 71.1h0.7v0.7h-0.7zM462.8 83.3h0.7v0.7h-0.7zM452.1 85.9h0.7v0.7h-0.7zM455.5 82.8h0.7v0.7h-0.7zM461.3 71.6h0.7v0.7h-0.7zM454.6 83.9h0.7v0.7h-0.7zM457.5 74.8h0.7v0.7h-0.7zM453.6 80.9h0.7v0.7h-0.7zM455.1 83.2h0.7v0.7h-0.7zM457.5 86.8h0.7v0.7h-0.7zM456.6 77.5h0.7v0.7h-0.7zM459.6 81.4h0.7v0.7h-0.7zM454.3 78.5h0.7v0.7h-0.7zM454.4 75.9h0.7v0.7h-0.7zM457.4 80.7h0.7v0.7h-0.7zM455.4 76.1h0.7v0.7h-0.7zM458.9 79.8h0.7v0.7h-0.7zM455.3 77.5h0.7v0.7h-0.7zM456.9 78.0h0.7v0.7h-0.7zM452.8 82.9h0.7v0.7h-0.7zM456.0 81.2h0.7v0.7h-0.7zM460.5 78.8h0.7v0.7h-0.7zM463.3 78.1h0.7v0.7h-0.7zM462.0 74.5h0.7v0.7h-0.7zM460.3 82.4h0.7v0.7h-0.7zM461.1 74.6h0.7v0.7h-0.7zM457.4 76.2h0.7v0.7h-0.7zM457.6 83.1h0.7v0.7h-0.7zM458.4 79.6h0.7v0.7h-0.7zM457.6 85.2h0.7v0.7h-0.7zM456.0 75.3h0.7v0.7h-0.7zM457.1 74.5h0.7v0.7h-0.7zM462.8 84.5h0.7v0.7h-0.7zM457.6 79.5h0.7v0.7h-0.7zM459.1 80.9h0.7v0.7h-0.7zM457.2 75.8h0.7v0.7h-0.7zM460.3 83.0h0.7v0.7h-0.7zM454.9 75.6h0.7v0.7h-0.7zM455.3 76.8h0.7v0.7h-0.7zM460.1 75.7h0.7v0.7h-0.7zM456.4 85.3h0.7v0.7h-0.7zM453.8 79.1h0.7v0.7h-0.7zM462.8 79.5h0.7v0.7h-0.7zM461.2 76.0h0.7v0.7h-0.7zM458.7 76.3h0.7v0.7h-0.7zM461.5 80.0h0.7v0.7h-0.7zM462.1 73.7h0.7v0.7h-0.7zM458.0 81.2h0.7v0.7h-0.7zM462.6 72.1h0.7v0.7h-0.7zM460.6 76.7h0.7v0.7h-0.7zM457.9 76.2h0.7v0.7h-0.7zM460.3 80.2h0.7v0.7h-0.7zM455.0 82.6h0.7v0.7h-0.7zM463.2 69.4h0.7v0.7h-0.7zM460.5 78.8h0.7v0.7h-0.7zM460.8 73.2h0.7v0.7h-0.7zM459.7 79.5h0.7v0.7h-0.7zM460.5 74.3h0.7v0.7h-0.7zM467.7 71.6h0.7v0.7h-0.7zM461.7 78.0h0.7v0.7h-0.7zM460.6 77.3h0.7v0.7h-0.7zM462.5 73.3h0.7v0.7h-0.7zM464.4 76.7h0.7v0.7h-0.7zM464.1 66.9h0.7v0.7h-0.7zM455.9 81.1h0.7v0.7h-0.7zM458.4 72.7h0.7v0.7h-0.7zM461.8 77.6h0.7v0.7h-0.7zM453.2 77.2h0.7v0.7h-0.7zM455.6 77.8h0.7v0.7h-0.7zM458.8 78.9h0.7v0.7h-0.7zM460.5 80.0h0.7v0.7h-0.7zM455.4 74.5h0.7v0.7h-0.7zM461.7 69.0h0.7v0.7h-0.7zM456.3 75.2h0.7v0.7h-0.7zM459.4 75.1h0.7v0.7h-0.7zM457.7 81.2h0.7v0.7h-0.7zM458.4 80.4h0.7v0.7h-0.7zM459.0 81.5h0.7v0.7h-0.7zM454.8 68.9h0.7v0.7h-0.7zM454.2 76.1h0.7v0.7h-0.7zM455.8 79.7h0.7v0.7h-0.7zM457.1 73.7h0.7v0.7h-0.7zM459.9 76.6h0.7v0.7h-0.7zM461.3 77.0h0.7v0.7h-0.7zM454.0 79.2h0.7v0.7h-0.7zM457.0 82.6h0.7v0.7h-0.7zM456.3 80.6h0.7v0.7h-0.7zM462.3 70.6h0.7v0.7h-0.7zM459.3 81.8h0.7v0.7h-0.7zM459.6 79.6h0.7v0.7h-0.7zM459.1 78.4h0.7v0.7h-0.7zM457.3 75.9h0.7v0.7h-0.7zM455.9 75.8h0.7v0.7h-0.7zM457.6 85.4h0.7v0.7h-0.7zM455.4 80.7h0.7v0.7h-0.7zM457.2 84.4h0.7v0.7h-0.7zM458.1 83.7h0.7v0.7h-0.7zM461.5 82.6h0.7v0.7h-0.7zM458.3 79.6h0.7v0.7h-0.7zM460.9 70.4h0.7v0.7h-0.7zM456.9 83.6h0.7v0.7h-0.7zM461.7 69.9h0.7v0.7h-0.7zM460.9 75.5h0.7v0.7h-0.7zM457.0 69.8h0.7v0.7h-0.7z"/>
<path fill="#555" fill-opacity="0.28" d="M460.4 75.4h0.7v0.7h-0.7zM472.7 56.9h0.7v0.7h-0.7zM469.6 64.0h0.7v0.7h-0.7zM470.1 62.6h0.7v0.7h-0.7zM474.9 63.2h0.7v0.7h-0.7zM482.3 49.7h0.7v0.7h-0.7zM463.0 73.0h0.7v0.7h-0.7zM466.6 60.8h0.7v0.7h-0.7zM483.9 53.7h0.7v0.7h-0.7zM466.2 64.0h0.7v0.7h-0.7zM472.7 60.7h0.7v0.7h-0.7zM473.2 58.4h0.7v0.7h-0.7zM453.4 67.5h0.7v0.7h-0.7zM477.5 56.2h0.7v0.7h-0.7zM471.8 64.6h0.7v0.7h-0.7zM469.3 64.7h0.7v0.7h-0.7zM462.1 60.5h0.7v0.7h-0.7zM467.1 65.6h0.7v0.7h-0.7zM466.1 56.8h0.7v0.7h-0.7zM465.0 62.9h0.7v0.7h-0.7zM475.1 50.2h0.7v0.7h-0.7zM460.3 67.7h0.7v0.7h-0.7zM470.3 68.2h0.7v0.7h-0.7zM472.8 51.1h0.7v0.7h-0.7zM460.4 80.2h0.7v0.7h-0.7zM470.7 60.1h0.7v0.7h-0.7zM472.6 63.1h0.7v0.7h-0.7zM483.5 50.1h0.7v0.7h-0.7zM462.9 63.4h0.7v0.7h-0.7zM477.3 55.0h0.7v0.7h-0.7zM470.6 64.3h0.7v0.7h-0.7zM460.6 80.5h0.7v0.7h-0.7zM467.0 63.9h0.7v0.7h-0.7zM466.9 66.0h0.7v0.7h-0.7zM466.2 63.9h0.7v0.7h-0.7zM474.5 65.3h0.7v0.7h-0.7zM475.4 50.2h0.7v0.7h-0.7zM466.0 74.0h0.7v0.7h-0.7zM469.2 63.7h0.7v0.7h-0.7zM467.4 73.4h0.7v0.7h-0.7zM465.4 64.0h0.7v0.7h-0.7zM477.9 45.5h0.7v0.7h-0.7zM465.3 81.1h0.7v0.7h-0.7zM469.1 65.2h0.7v0.7h-0.7zM452.3 78.4h0.7v0.7h-0.7zM460.6 67.0h0.7v0.7h-0.7zM462.4 69.9h0.7v0.7h-0.7zM466.6 71.0h0.7v0.7h-0.7zM475.1 59.2h0.7v0.7h-0.7zM481.0 48.7h0.7v0.7h-0.7zM477.5 57.8h0.7v0.7h-0.7zM458.4 63.2h0.7v0.7h-0.7zM485.1 53.9h0.7v0.7h-0.7zM470.2 57.5h0.7v0.7h-0.7zM453.8 75.7h0.7v0.7h-0.7zM469.9 71.2h0.7v0.7h-0.7zM466.2 65.0h0.7v0.7h-0.7zM468.1 69.9h0.7v0.7h-0.7zM482.3 60.9h0.7v0.7h-0.7zM469.3 67.1h0.7v0.7h-0.7zM460.8 67.1h0.7v0.7h-0.7zM466.1 70.6h0.7v0.7h-0.7zM485.8 53.0h0.7v0.7h-0.7zM481.2 48.1h0.7v0.7h-0.7zM472.0 55.0h0.7v0.7h-0.7zM482.9 47.6h0.7v0.7h-0.7zM465.7 60.6h0.7v0.7h-0.7zM471.7 69.2h0.7v0.7h-0.7zM469.2 62.4h0.7v0.7h-0.7zM465.3 73.3h0.7v0.7h-0.7zM470.4 64.8h0.7v0.7h-0.7zM469.9 63.3h0.7v0.7h-0.7zM475.5 60.9h0.7v0.7h-0.7zM457.2 74.5h0.7v0.7h-0.7zM467.7 67.2h0.7v0.7h-0.7zM479.8 48.8h0.7v0.7h-0.7zM463.7 60.4h0.7v0.7h-0.7zM464.3 74.6h0.7v0.7h-0.7zM464.1 75.5h0.7v0.7h-0.7zM469.9 61.3h0.7v0.7h-0.7zM470.5 59.0h0.7v0.7h-0.7zM472.6 59.9h0.7v0.7h-0.7zM453.8 73.5h0.7v0.7h-0.7zM473.7 57.1h0.7v0.7h-0.7zM481.4 44.3h0.7v0.7h-0.7zM469.4 67.4h0.7v0.7h-0.7zM473.2 62.7h0.7v0.7h-0.7zM456.8 80.8h0.7v0.7h-0.7zM466.5 62.6h0.7v0.7h-0.7zM473.3 64.7h0.7v0.7h-0.7zM476.7 51.6h0.7v0.7h-0.7zM472.5 51.4h0.7v0.7h-0.7zM476.5 51.3h0.7v0.7h-0.7zM462.5 73.8h0.7v0.7h-0.7zM471.5 56.4h0.7v0.7h-0.7zM474.9 67.7h0.7v0.7h-0.7zM457.2 75.6h0.7v0.7h-0.7zM470.4 63.3h0.7v0.7h-0.7zM470.7 67.5h0.7v0.7h-0.7zM475.9 57.4h0.7v0.7h-0.7zM477.8 52.5h0.7v0.7h-0.7zM484.6 48.4h0.7v0.7h-0.7zM467.6 67.9h0.7v0.7h-0.7zM461.2 64.3h0.7v0.7h-0.7zM463.3 76.8h0.7v0.7h-0.7zM474.8 53.9h0.7v0.7h-0.7zM468.4 63.8h0.7v0.7h-0.7zM463.4 66.0h0.7v0.7h-0.7zM461.1 63.0h0.7v0.7h-0.7zM462.5 76.6h0.7v0.7h-0.7zM474.1 57.0h0.7v0.7h-0.7zM472.1 53.9h0.7v0.7h-0.7zM472.4 59.1h0.7v0.7h-0.7zM465.5 68.8h0.7v0.7h-0.7zM468.3 75.9h0.7v0.7h-0.7zM461.4 69.4h0.7v0.7h-0.7zM472.0 59.8h0.7v0.7h-0.7zM483.7 50.1h0.7v0.7h-0.7zM454.3 73.5h0.7v0.7h-0.7zM466.3 69.4h0.7v0.7h-0.7zM477.1 50.6h0.7v0.7h-0.7zM470.5 61.9h0.7v0.7h-0.7zM483.0 50.6h0.7v0.7h-0.7zM466.6 63.3h0.7v0.7h-0.7zM473.5 49.3h0.7v0.7h-0.7zM461.7 64.7h0.7v0.7h-0.7zM457.4 78.0h0.7v0.7h-0.7zM454.4 85.7h0.7v0.7h-0.7zM458.6 68.6h0.7v0.7h-0.7zM491.0 34.6h0.7v0.7h-0.7zM465.2 66.2h0.7v0.7h-0.7zM471.0 65.5h0.7v0.7h-0.7zM468.3 67.9h0.7v0.7h-0.7zM473.3 52.5h0.7v0.7h-0.7zM478.0 58.0h0.7v0.7h-0.7zM468.6 62.3h0.7v0.7h-0.7zM469.8 63.3h0.7v0.7h-0.7zM466.4 60.2h0.7v0.7h-0.7zM475.7 57.1h0.7v0.7h-0.7zM473.2 66.1h0.7v0.7h-0.7zM461.3 73.2h0.7v0.7h-0.7zM468.2 65.4h0.7v0.7h-0.7zM463.7 75.5h0.7v0.7h-0.7zM458.3 71.7h0.7v0.7h-0.7zM470.6 63.0h0.7v0.7h-0.7zM470.4 52.9h0.7v0.7h-0.7zM457.4 62.1h0.7v0.7h-0.7zM464.5 76.2h0.7v0.7h-0.7zM466.6 73.1h0.7v0.7h-0.7zM477.1 51.9h0.7v0.7h-0.7zM463.0 69.2h0.7v0.7h-0.7zM481.5 48.7h0.7v0.7h-0.7zM466.2 70.0h0.7v0.7h-0.7zM472.9 59.8h0.7v0.7h-0.7zM480.1 51.5h0.7v0.7h-0.7zM470.4 57.6h0.7v0.7h-0.7zM476.5 48.4h0.7v0.7h-0.7zM476.2 51.6h0.7v0.7h-0.7zM478.9 50.0h0.7v0.7h-0.7zM480.8 61.7h0.7v0.7h-0.7zM463.2 81.1h0.7v0.7h-0.7zM461.1 69.0h0.7v0.7h-0.7zM461.2 70.1h0.7v0.7h-0.7zM471.6 61.5h0.7v0.7h-0.7zM485.1 53.9h0.7v0.7h-0.7zM468.2 64.9h0.7v0.7h-0.7zM459.5 77.1h0.7v0.7h-0.7zM456.8 65.5h0.7v0.7h-0.7zM456.8 86.4h0.7v0.7h-0.7zM474.3 58.3h0.7v0.7h-0.7zM457.1 75.2h0.7v0.7h-0.7zM456.4 80.4h0.7v0.7h-0.7zM469.2 63.0h0.7v0.7h-0.7zM459.9 77.2h0.7v0.7h-0.7zM469.0 66.8h0.7v0.7h-0.7zM463.4 63.6h0.7v0.7h-0.7zM490.2 41.7h0.7v0.7h-0.7zM468.5 65.0h0.7v0.7h-0.7zM473.3 64.6h0.7v0.7h-0.7zM461.3 73.4h0.7v0.7h-0.7zM475.5 59.4h0.7v0.7h-0.7zM457.3 79.6h0.7v0.7h-0.7zM478.3 59.6h0.7v0.7h-0.7zM458.6 80.0h0.7v0.7h-0.7zM467.0 61.8h0.7v0.7h-0.7zM467.1 59.8h0.7v0.7h-0.7zM470.2 61.1h0.7v0.7h-0.7zM465.3 73.1h0.7v0.7h-0.7zM467.0 70.6h0.7v0.7h-0.7zM463.7 66.3h0.7v0.7h-0.7zM473.7 55.0h0.7v0.7h-0.7zM461.4 57.0h0.7v0.7h-0.7zM483.4 56.1h0.7v0.7h-0.7zM473.5 64.5h0.7v0.7h-0.7zM483.7 57.9h0.7v0.7h-0.7zM465.5 72.9h0.7v0.7h-0.7zM474.0 57.8h0.7v0.7h-0.7zM480.8 55.9h0.7v0.7h-0.7zM473.5 59.7h0.7v0.7h-0.7zM469.3 63.8h0.7v0.7h-0.7zM467.7 66.1h0.7v0.7h-0.7zM478.5 51.1h0.7v0.7h-0.7zM483.2 51.4h0.7v0.7h-0.7zM470.6 73.4h0.7v0.7h-0.7zM473.5 59.5h0.7v0.7h-0.7zM458.4 81.2h0.7v0.7h-0.7zM489.4 37.5h0.7v0.7h-0.7zM471.5 66.1h0.7v0.7h-0.7zM478.7 45.5h0.7v0.7h-0.7zM472.6 58.9h0.7v0.7h-0.7zM477.7 56.2h0.7v0.7h-0.7zM476.5 48.7h0.7v0.7h-0.7zM458.2 78.0h0.7v0.7h-0.7zM454.2 81.2h0.7v0.7h-0.7zM466.0 75.4h0.7v0.7h-0.7zM475.8 62.8h0.7v0.7h-0.7zM466.3 70.6h0.7v0.7h-0.7zM469.1 64.6h0.7v0.7h-0.7zM479.8 57.5h0.7v0.7h-0.7zM463.0 61.7h0.7v0.7h-0.7zM459.0 76.0h0.7v0.7h-0.7zM476.1 40.5h0.7v0.7h-0.7zM458.4 79.4h0.7v0.7h-0.7zM475.5 46.7h0.7v0.7h-0.7zM466.3 62.1h0.7v0.7h-0.7zM473.4 52.1h0.7v0.7h-0.7zM468.5 54.2h0.7v0.7h-0.7zM470.2 64.2h0.7v0.7h-0.7zM471.7 52.2h0.7v0.7h-0.7zM471.9 60.6h0.7v0.7h-0.7zM458.4 77.3h0.7v0.7h-0.7zM478.7 60.0h0.7v0.7h-0.7zM462.5 76.4h0.7v0.7h-0.7zM468.4 67.9h0.7v0.7h-0.7zM477.1 62.4h0.7v0.7h-0.7zM467.0 63.6h0.7v0.7h-0.7zM481.5 58.2h0.7v0.7h-0.7zM468.0 77.3h0.7v0.7h-0.7zM484.6 46.6h0.7v0.7h-0.7zM471.9 62.5h0.7v0.7h-0.7zM473.5 53.6h0.7v0.7h-0.7zM473.2 59.7h0.7v0.7h-0.7zM467.9 68.5h0.7v0.7h-0.7zM482.5 52.3h0.7v0.7h-0.7zM475.8 58.3h0.7v0.7h-0.7zM464.8 58.2h0.7v0.7h-0.7zM470.9 57.3h0.7v0.7h-0.7zM475.0 64.4h0.7v0.7h-0.7zM474.1 49.5h0.7v0.7h-0.7zM468.8 57.5h0.7v0.7h-0.7zM465.5 54.3h0.7v0.7h-0.7zM465.7 64.2h0.7v0.7h-0.7zM470.3 60.5h0.7v0.7h-0.7zM476.4 56.3h0.7v0.7h-0.7zM468.5 57.6h0.7v0.7h-0.7zM461.4 67.9h0.7v0.7h-0.7zM478.8 49.0h0.7v0.7h-0.7zM456.3 85.6h0.7v0.7h-0.7zM472.8 54.1h0.7v0.7h-0.7zM472.1 59.7h0.7v0.7h-0.7zM475.9 52.1h0.7v0.7h-0.7zM461.3 73.5h0.7v0.7h-0.7zM470.3 70.6h0.7v0.7h-0.7zM466.7 57.0h0.7v0.7h-0.7zM478.6 63.7h0.7v0.7h-0.7zM465.1 67.1h0.7v0.7h-0.7zM470.5 64.6h0.7v0.7h-0.7zM475.7 62.2h0.7v0.7h-0.7zM469.5 53.9h0.7v0.7h-0.7zM494.1 35.8h0.7v0.7h-0.7zM457.3 66.6h0.7v0.7h-0.7zM478.0 51.0h0.7v0.7h-0.7zM475.2 51.0h0.7v0.7h-0.7zM469.9 52.0h0.7v0.7h-0.7zM477.8 51.0h0.7v0.7h-0.7zM471.9 61.3h0.7v0.7h-0.7zM466.2 58.3h0.7v0.7h-0.7zM472.3 57.1h0.7v0.7h-0.7zM480.2 36.2h0.7v0.7h-0.7zM465.6 66.8h0.7v0.7h-0.7zM468.0 62.0h0.7v0.7h-0.7zM473.6 48.7h0.7v0.7h-0.7zM455.9 84.3h0.7v0.7h-0.7zM458.0 81.3h0.7v0.7h-0.7zM465.6 75.3h0.7v0.7h-0.7zM475.2 60.5h0.7v0.7h-0.7zM455.2 83.8h0.7v0.7h-0.7zM471.1 58.8h0.7v0.7h-0.7zM453.4 81.0h0.7v0.7h-0.7zM478.7 53.1h0.7v0.7h-0.7zM477.2 63.8h0.7v0.7h-0.7zM473.4 66.2h0.7v0.7h-0.7zM468.1 66.1h0.7v0.7h-0.7zM478.0 55.3h0.7v0.7h-0.7zM480.9 54.0h0.7v0.7h-0.7zM468.9 54.0h0.7v0.7h-0.7zM457.4 74.4h0.7v0.7h-0.7zM474.2 54.4h0.7v0.7h-0.7zM465.2 64.8h0.7v0.7h-0.7zM457.2 56.7h0.7v0.7h-0.7zM462.9 76.6h0.7v0.7h-0.7zM488.2 63.6h0.7v0.7h-0.7zM475.3 58.8h0.7v0.7h-0.7zM457.0 79.8h0.7v0.7h-0.7zM465.8 65.6h0.7v0.7h-0.7zM467.2 63.2h0.7v0.7h-0.7zM458.4 85.9h0.7v0.7h-0.7zM468.4 63.7h0.7v0.7h-0.7zM469.8 67.0h0.7v0.7h-0.7zM475.8 65.2h0.7v0.7h-0.7zM467.8 72.8h0.7v0.7h-0.7zM452.9 75.0h0.7v0.7h-0.7zM469.0 63.5h0.7v0.7h-0.7zM462.4 63.9h0.7v0.7h-0.7zM478.8 55.2h0.7v0.7h-0.7zM485.8 62.4h0.7v0.7h-0.7zM454.9 72.9h0.7v0.7h-0.7zM461.5 64.7h0.7v0.7h-0.7zM470.5 60.7h0.7v0.7h-0.7zM462.2 76.6h0.7v0.7h-0.7zM460.6 82.2h0.7v0.7h-0.7zM465.3 75.4h0.7v0.7h-0.7zM459.2 71.1h0.7v0.7h-0.7zM483.2 38.3h0.7v0.7h-0.7zM476.9 54.9h0.7v0.7h-0.7zM464.7 66.6h0.7v0.7h-0.7zM471.5 53.0h0.7v0.7h-0.7zM459.1 73.4h0.7v0.7h-0.7zM465.5 69.4h0.7v0.7h-0.7zM456.7 77.4h0.7v0.7h-0.7zM474.9 59.5h0.7v0.7h-0.7zM465.6 75.9h0.7v0.7h-0.7zM465.1 69.1h0.7v0.7h-0.7zM468.9 64.6h0.7v0.7h-0.7zM459.9 72.2h0.7v0.7h-0.7zM459.3 77.4h0.7v0.7h-0.7zM462.9 66.3h0.7v0.7h-0.7zM467.5 61.6h0.7v0.7h-0.7zM464.8 62.3h0.7v0.7h-0.7zM471.4 50.0h0.7v0.7h-0.7zM465.4 66.9h0.7v0.7h-0.7zM468.7 62.9h0.7v0.7h-0.7zM474.5 59.5h0.7v0.7h-0.7zM471.5 55.4h0.7v0.7h-0.7zM466.7 58.9h0.7v0.7h-0.7zM468.3 63.4h0.7v0.7h-0.7zM477.7 52.4h0.7v0.7h-0.7zM478.9 57.2h0.7v0.7h-0.7zM475.9 51.9h0.7v0.7h-0.7zM467.0 63.1h0.7v0.7h-0.7zM473.0 63.8h0.7v0.7h-0.7zM480.7 53.8h0.7v0.7h-0.7zM478.8 54.0h0.7v0.7h-0.7zM467.2 62.0h0.7v0.7h-0.7zM480.7 51.8h0.7v0.7h-0.7zM469.4 53.7h0.7v0.7h-0.7zM461.6 68.1h0.7v0.7h-0.7zM458.9 67.4h0.7v0.7h-0.7zM468.6 64.2h0.7v0.7h-0.7zM475.5 55.0h0.7v0.7h-0.7zM487.0 49.7h0.7v0.7h-0.7zM459.7 81.6h0.7v0.7h-0.7zM470.4 57.4h0.7v0.7h-0.7zM470.4 59.4h0.7v0.7h-0.7zM478.6 49.5h0.7v0.7h-0.7zM478.7 53.0h0.7v0.7h-0.7zM467.3 60.3h0.7v0.7h-0.7zM469.0 64.8h0.7v0.7h-0.7zM465.6 51.8h0.7v0.7h-0.7zM466.7 66.4h0.7v0.7h-0.7zM474.3 59.9h0.7v0.7h-0.7zM468.9 58.4h0.7v0.7h-0.7zM452.9 81.3h0.7v0.7h-0.7zM468.2 62.4h0.7v0.7h-0.7zM481.1 47.9h0.7v0.7h-0.7zM470.7 63.0h0.7v0.7h-0.7zM474.5 55.0h0.7v0.7h-0.7zM462.3 69.3h0.7v0.7h-0.7zM468.8 57.4h0.7v0.7h-0.7zM460.7 60.0h0.7v0.7h-0.7zM475.6 60.3h0.7v0.7h-0.7zM467.3 54.1h0.7v0.7h-0.7zM474.8 53.2h0.7v0.7h-0.7zM464.3 61.0h0.7v0.7h-0.7zM472.5 57.1h0.7v0.7h-0.7zM473.9 60.0h0.7v0.7h-0.7zM463.7 76.8h0.7v0.7h-0.7zM464.1 64.8h0.7v0.7h-0.7zM477.5 56.6h0.7v0.7h-0.7zM472.8 59.1h0.7v0.7h-0.7zM476.5 52.9h0.7v0.7h-0.7zM463.1 65.4h0.7v0.7h-0.7zM483.8 45.5h0.7v0.7h-0.7zM464.5 61.6h0.7v0.7h-0.7zM463.9 66.0h0.7v0.7h-0.7zM456.6 66.2h0.7v0.7h-0.7zM477.9 57.4h0.7v0.7h-0.7zM458.9 73.2h0.7v0.7h-0.7zM480.5 51.6h0.7v0.7h-0.7zM465.8 66.9h0.7v0.7h-0.7zM464.4 78.9h0.7v0.7h-0.7zM459.2 65.9h0.7v0.7h-0.7zM485.2 41.8h0.7v0.7h-0.7zM487.4 35.5h0.7v0.7h-0.7zM480.7 47.7h0.7v0.7h-0.7zM466.9 65.1h0.7v0.7h-0.7zM478.2 51.8h0.7v0.7h-0.7zM466.6 70.6h0.7v0.7h-0.7zM469.7 52.7h0.7v0.7h-0.7zM468.0 67.4h0.7v0.7h-0.7zM465.7 68.1h0.7v0.7h-0.7zM456.2 68.5h0.7v0.7h-0.7zM465.4 68.5h0.7v0.7h-0.7zM474.2 56.9h0.7v0.7h-0.7zM473.4 65.4h0.7v0.7h-0.7zM465.9 61.4h0.7v0.7h-0.7zM474.6 61.1h0.7v0.7h-0.7zM485.8 36.1h0.7v0.7h-0.7zM469.8 71.3h0.7v0.7h-0.7zM473.1 48.8h0.7v0.7h-0.7zM471.4 61.0h0.7v0.7h-0.7zM478.8 57.5h0.7v0.7h-0.7zM474.9 69.7h0.7v0.7h-0.7zM469.5 69.0h0.7v0.7h-0.7zM481.4 60.5h0.7v0.7h-0.7zM470.4 66.3h0.7v0.7h-0.7zM467.5 68.3h0.7v0.7h-0.7zM482.5 55.4h0.7v0.7h-0.7zM475.4 59.6h0.7v0.7h-0.7zM479.9 53.8h0.7v0.7h-0.7zM490.0 45.4h0.7v0.7h-0.7zM474.9 61.3h0.7v0.7h-0.7zM484.1 43.0h0.7v0.7h-0.7zM473.7 56.7h0.7v0.7h-0.7zM473.9 62.7h0.7v0.7h-0.7zM463.6 75.1h0.7v0.7h-0.7zM480.1 54.5h0.7v0.7h-0.7zM476.8 55.8h0.7v0.7h-0.7zM463.0 67.6h0.7v0.7h-0.7zM466.5 56.2h0.7v0.7h-0.7zM462.6 65.0h0.7v0.7h-0.7zM460.6 74.9h0.7v0.7h-0.7zM472.6 70.7h0.7v0.7h-0.7zM469.5 55.6h0.7v0.7h-0.7zM455.6 79.4h0.7v0.7h-0.7zM479.5 52.1h0.7v0.7h-0.7zM480.6 53.3h0.7v0.7h-0.7zM470.7 64.2h0.7v0.7h-0.7zM463.4 66.4h0.7v0.7h-0.7zM470.7 55.8h0.7v0.7h-0.7zM471.3 59.4h0.7v0.7h-0.7zM481.8 48.6h0.7v0.7h-0.7zM475.9 57.7h0.7v0.7h-0.7zM483.4 44.9h0.7v0.7h-0.7zM483.3 53.1h0.7v0.7h-0.7zM461.1 73.5h0.7v0.7h-0.7zM470.9 58.1h0.7v0.7h-0.7zM464.3 64.2h0.7v0.7h-0.7zM481.4 41.0h0.7v0.7h-0.7zM474.2 56.6h0.7v0.7h-0.7zM477.5 57.7h0.7v0.7h-0.7zM473.5 61.8h0.7v0.7h-0.7zM455.6 73.4h0.7v0.7h-0.7zM469.1 48.0h0.7v0.7h-0.7zM463.5 64.8h0.7v0.7h-0.7zM480.3 50.4h0.7v0.7h-0.7zM466.0 63.8h0.7v0.7h-0.7zM470.0 62.6h0.7v0.7h-0.7zM474.0 61.8h0.7v0.7h-0.7zM460.2 78.3h0.7v0.7h-0.7zM463.0 72.5h0.7v0.7h-0.7zM458.8 75.8h0.7v0.7h-0.7zM483.1 36.0h0.7v0.7h-0.7zM470.5 67.4h0.7v0.7h-0.7zM458.6 77.0h0.7v0.7h-0.7zM466.0 69.1h0.7v0.7h-0.7zM475.9 54.0h0.7v0.7h-0.7zM468.6 55.3h0.7v0.7h-0.7zM475.8 57.6h0.7v0.7h-0.7zM455.8 73.6h0.7v0.7h-0.7zM475.0 56.8h0.7v0.7h-0.7zM483.9 52.8h0.7v0.7h-0.7zM472.6 58.3h0.7v0.7h-0.7zM464.3 70.2h0.7v0.7h-0.7zM467.6 69.6h0.7v0.7h-0.7zM461.5 73.2h0.7v0.7h-0.7zM469.3 67.4h0.7v0.7h-0.7zM461.0 67.7h0.7v0.7h-0.7zM464.3 67.8h0.7v0.7h-0.7zM453.4 79.8h0.7v0.7h-0.7zM470.2 65.3h0.7v0.7h-0.7zM464.5 68.9h0.7v0.7h-0.7zM470.0 66.7h0.7v0.7h-0.7zM481.2 48.8h0.7v0.7h-0.7zM458.9 76.1h0.7v0.7h-0.7zM458.2 76.1h0.7v0.7h-0.7zM465.0 63.2h0.7v0.7h-0.7zM471.0 54.3h0.7v0.7h-0.7zM465.7 62.1h0.7v0.7h-0.7zM475.3 66.5h0.7v0.7h-0.7zM464.8 73.5h0.7v0.7h-0.7zM477.2 49.4h0.7v0.7h-0.7zM458.8 72.5h0.7v0.7h-0.7zM465.3 76.1h0.7v0.7h-0.7zM465.1 75.9h0.7v0.7h-0.7z"/>
<path fill="#555" fill-opacity="0.28" d="M454.3 62.8h0.7v0.7h-0.7zM452.9 72.4h0.7v0.7h-0.7zM468.2 63.7h0.7v0.7h-0.7zM457.2 45.3h0.7v0.7h-0.7zM459.5 55.2h0.7v0.7h-0.7zM460.8 49.0h0.7v0.7h-0.7zM462.6 75.2h0.7v0.7h-0.7zM454.0 66.2h0.7v0.7h-0.7zM463.0 67.7h0.7v0.7h-0.7zM460.0 61.0h0.7v0.7h-0.7zM459.6 62.6h0.7v0.7h-0.7zM456.9 57.5h0.7v0.7h-0.7zM460.7 76.5h0.7v0.7h-0.7zM459.2 51.9h0.7v0.7h-0.7zM460.0 75.3h0.7v0.7h-0.7zM455.9 58.3h0.7v0.7h-0.7zM457.7 68.9h0.7v0.7h-0.7zM456.8 61.4h0.7v0.7h-0.7zM462.4 61.0h0.7v0.7h-0.7zM459.0 63.9h0.7v0.7h-0.7zM457.9 74.1h0.7v0.7h-0.7zM459.2 59.0h0.7v0.7h-0.7zM459.7 53.7h0.7v0.7h-0.7zM463.0 46.2h0.7v0.7h-0.7zM457.4 73.2h0.7v0.7h-0.7zM456.7 58.1h0.7v0.7h-0.7zM463.3 57.8h0.7v0.7h-0.7zM460.5 59.3h0.7v0.7h-0.7zM458.4 81.2h0.7v0.7h-0.7zM457.8 69.2h0.7v0.7h-0.7zM457.9 77.6h0.7v0.7h-0.7zM458.3 65.4h0.7v0.7h-0.7zM464.3 73.9h0.7v0.7h-0.7zM460.6 62.8h0.7v0.7h-0.7zM456.8 70.9h0.7v0.7h-0.7zM463.0 40.2h0.7v0.7h-0.7zM454.1 63.2h0.7v0.7h-0.7zM457.2 70.8h0.7v0.7h-0.7zM464.0 64.4h0.7v0.7h-0.7zM454.1 57.9h0.7v0.7h-0.7zM462.1 46.9h0.7v0.7h-0.7zM463.9 59.2h0.7v0.7h-0.7zM461.0 66.0h0.7v0.7h-0.7zM457.6 57.6h0.7v0.7h-0.7zM456.4 66.5h0.7v0.7h-0.7zM461.0 68.0h0.7v0.7h-0.7zM455.6 42.2h0.7v0.7h-0.7zM456.4 50.4h0.7v0.7h-0.7zM463.1 83.6h0.7v0.7h-0.7zM459.3 47.2h0.7v0.7h-0.7zM454.7 62.6h0.7v0.7h-0.7zM461.1 64.7h0.7v0.7h-0.7zM468.3 65.2h0.7v0.7h-0.7zM455.8 70.9h0.7v0.7h-0.7zM458.9 50.8h0.7v0.7h-0.7zM467.7 57.6h0.7v0.7h-0.7zM457.8 61.1h0.7v0.7h-0.7zM459.6 50.3h0.7v0.7h-0.7zM463.9 62.9h0.7v0.7h-0.7zM456.1 55.6h0.7v0.7h-0.7zM460.2 64.4h0.7v0.7h-0.7zM458.3 43.9h0.7v0.7h-0.7zM456.4 70.3h0.7v0.7h-0.7zM458.8 61.4h0.7v0.7h-0.7zM459.1 65.9h0.7v0.7h-0.7zM459.4 57.5h0.7v0.7h-0.7zM459.7 70.0h0.7v0.7h-0.7zM461.0 57.1h0.7v0.7h-0.7zM456.8 74.9h0.7v0.7h-0.7zM456.2 60.3h0.7v0.7h-0.7zM462.3 53.4h0.7v0.7h-0.7zM453.0 65.5h0.7v0.7h-0.7zM457.8 66.2h0.7v0.7h-0.7zM459.5 67.6h0.7v0.7h-0.7zM460.5 45.1h0.7v0.7h-0.7zM459.2 63.0h0.7v0.7h-0.7zM459.0 62.0h0.7v0.7h-0.7zM456.4 56.5h0.7v0.7h-0.7zM457.5 56.8h0.7v0.7h-0.7zM455.8 48.4h0.7v0.7h-0.7zM456.7 84.4h0.7v0.7h-0.7zM465.7 58.7h0.7v0.7h-0.7zM453.7 68.7h0.7v0.7h-0.7zM461.5 57.3h0.7v0.7h-0.7zM459.1 52.6h0.7v0.7h-0.7zM458.8 79.8h0.7v0.7h-0.7zM457.6 46.2h0.7v0.7h-0.7zM461.8 65.0h0.7v0.7h-0.7zM462.5 63.4h0.7v0.7h-0.7zM455.8 57.8h0.7v0.7h-0.7zM455.4 63.1h0.7v0.7h-0.7zM461.9 62.3h0.7v0.7h-0.7zM458.5 50.0h0.7v0.7h-0.7zM461.0 61.3h0.7v0.7h-0.7zM459.0 62.8h0.7v0.7h-0.7zM457.0 65.2h0.7v0.7h-0.7zM453.9 66.3h0.7v0.7h-0.7zM462.8 58.8h0.7v0.7h-0.7zM463.0 76.2h0.7v0.7h-0.7zM463.7 53.7h0.7v0.7h-0.7zM459.2 71.8h0.7v0.7h-0.7zM458.9 74.1h0.7v0.7h-0.7zM462.9 53.1h0.7v0.7h-0.7zM453.8 59.7h0.7v0.7h-0.7zM460.5 69.2h0.7v0.7h-0.7zM459.9 62.0h0.7v0.7h-0.7zM462.0 64.5h0.7v0.7h-0.7zM457.8 76.7h0.7v0.7h-0.7zM460.3 70.5h0.7v0.7h-0.7zM456.0 59.5h0.7v0.7h-0.7zM457.6 68.7h0.7v0.7h-0.7zM454.1 47.9h0.7v0.7h-0.7zM462.4 71.7h0.7v0.7h-0.7zM454.7 52.3h0.7v0.7h-0.7zM460.2 62.9h0.7v0.7h-0.7zM460.8 61.0h0.7v0.7h-0.7zM453.3 61.8h0.7v0.7h-0.7zM459.5 61.1h0.7v0.7h-0.7zM455.2 71.6h0.7v0.7h-0.7zM462.2 70.7h0.7v0.7h-0.7zM463.3 58.3h0.7v0.7h-0.7zM460.1 51.5h0.7v0.7h-0.7zM464.9 53.6h0.7v0.7h-0.7zM461.5 54.6h0.7v0.7h-0.7zM456.5 54.8h0.7v0.7h-0.7zM460.3 81.0h0.7v0.7h-0.7zM457.0 63.4h0.7v0.7h-0.7zM464.1 68.3h0.7v0.7h-0.7zM458.2 62.4h0.7v0.7h-0.7zM455.6 59.1h0.7v0.7h-0.7zM456.0 61.8h0.7v0.7h-0.7zM455.1 62.6h0.7v0.7h-0.7zM457.2 64.2h0.7v0.7h-0.7zM462.7 64.0h0.7v0.7h-0.7zM457.7 61.7h0.7v0.7h-0.7zM461.6 62.2h0.7v0.7h-0.7zM460.3 65.5h0.7v0.7h-0.7zM454.2 63.0h0.7v0.7h-0.7zM463.1 65.4h0.7v0.7h-0.7zM457.2 55.4h0.7v0.7h-0.7zM463.6 58.7h0.7v0.7h-0.7zM455.8 64.7h0.7v0.7h-0.7zM454.5 36.7h0.7v0.7h-0.7zM454.2 63.6h0.7v0.7h-0.7zM458.4 65.2h0.7v0.7h-0.7zM460.3 66.0h0.7v0.7h-0.7zM458.8 54.6h0.7v0.7h-0.7zM460.6 67.5h0.7v0.7h-0.7zM460.2 38.2h0.7v0.7h-0.7zM463.9 56.8h0.7v0.7h-0.7zM464.5 53.9h0.7v0.7h-0.7zM459.2 58.4h0.7v0.7h-0.7zM457.8 62.0h0.7v0.7h-0.7zM459.2 49.9h0.7v0.7h-0.7zM458.8 72.6h0.7v0.7h-0.7zM458.9 44.7h0.7v0.7h-0.7zM459.2 50.7h0.7v0.7h-0.7zM459.8 53.1h0.7v0.7h-0.7zM457.5 57.5h0.7v0.7h-0.7zM456.2 55.9h0.7v0.7h-0.7zM457.5 62.3h0.7v0.7h-0.7zM459.5 56.8h0.7v0.7h-0.7zM458.4 49.6h0.7v0.7h-0.7zM466.7 60.7h0.7v0.7h-0.7zM464.0 53.1h0.7v0.7h-0.7zM464.2 67.1h0.7v0.7h-0.7zM460.3 61.4h0.7v0.7h-0.7zM459.0 55.3h0.7v0.7h-0.7zM459.4 63.5h0.7v0.7h-0.7zM458.5 65.4h0.7v0.7h-0.7zM452.3 62.7h0.7v0.7h-0.7z"/>
<line x1="465.50" y1="29.10" x2="465.50" y2="87.90" stroke="#666" stroke-width="0.8" />
<line x1="451.30" y1="71.80" x2="510.30" y2="71.80" stroke="#666" stroke-width="0.8" />
<rect x="451.30" y="29.10" width="59.00" height="58.80" fill="none" stroke="#111" stroke-width="1.3" />
<text class="p" x="443.90" y="37.10" font-size="5.3" text-anchor="middle" fill="#333">10<tspan font-size="2.92" dy="-2.38">5</tspan></text>
<text class="p" x="443.90" y="52.10" font-size="5.3" text-anchor="middle" fill="#333">10<tspan font-size="2.92" dy="-2.38">4</tspan></text>
<text class="p" x="443.90" y="67.10" font-size="5.3" text-anchor="middle" fill="#333">10<tspan font-size="2.92" dy="-2.38">3</tspan></text>
<text class="p" x="443.90" y="82.10" font-size="5.3" text-anchor="middle" fill="#333">10<tspan font-size="2.92" dy="-2.38">2</tspan></text>
<text class="p" x="459.50" y="97.30" font-size="5.4" text-anchor="middle" fill="#333">10<tspan font-size="2.97" dy="-2.43">2</tspan></text>
<text class="p" x="474.60" y="97.30" font-size="5.4" text-anchor="middle" fill="#333">10<tspan font-size="2.97" dy="-2.43">3</tspan></text>
<text class="p" x="489.70" y="97.30" font-size="5.4" text-anchor="middle" fill="#333">10<tspan font-size="2.97" dy="-2.43">4</tspan></text>
<text class="p" x="504.80" y="97.30" font-size="5.4" text-anchor="middle" fill="#333">10<tspan font-size="2.97" dy="-2.43">5</tspan></text>
<text x="480.80" y="24.80" font-size="6.6" text-anchor="middle" font-weight="bold" fill="#111" >T-ALL#4</text>
<text x="454.80" y="38.90" font-size="5.8" text-anchor="start" font-weight="normal" fill="#222" class="t">28</text>
<text x="503.50" y="38.90" font-size="5.8" text-anchor="end" font-weight="normal" fill="#222" class="t">19</text>
<text x="7.80" y="133.60" font-size="11.2" text-anchor="start" font-weight="bold" fill="#111" >C</text>
<text x="14.60" y="184.80" font-size="10.2" text-anchor="start" font-weight="bold" fill="#111" >TNF<tspan font-weight="normal">&#945;</tspan></text>
<text x="14.10" y="323.30" font-size="9.7" text-anchor="start" font-weight="bold" fill="#111" >IFN&#947;</text>
<line x1="78.60" y1="137.00" x2="78.60" y2="226.60" stroke="#111" stroke-width="1.3" />
<line x1="74.90" y1="226.00" x2="78.60" y2="226.00" stroke="#111" stroke-width="1.1" />
<text x="72.20" y="228.80" font-size="8.2" text-anchor="end" font-weight="normal" fill="#222" >0</text>
<line x1="74.90" y1="213.80" x2="78.60" y2="213.80" stroke="#111" stroke-width="1.1" />
<text x="72.20" y="216.60" font-size="8.2" text-anchor="end" font-weight="normal" fill="#222" >5</text>
<line x1="74.90" y1="201.60" x2="78.60" y2="201.60" stroke="#111" stroke-width="1.1" />
<text x="72.20" y="204.40" font-size="8.2" text-anchor="end" font-weight="normal" fill="#222" >10</text>
<line x1="74.90" y1="189.40" x2="78.60" y2="189.40" stroke="#111" stroke-width="1.1" />
<text x="72.20" y="192.20" font-size="8.2" text-anchor="end" font-weight="normal" fill="#222" >15</text>
<line x1="74.90" y1="177.20" x2="78.60" y2="177.20" stroke="#111" stroke-width="1.1" />
<text x="72.20" y="180.00" font-size="8.2" text-anchor="end" font-weight="normal" fill="#222" >20</text>
<line x1="74.90" y1="165.00" x2="78.60" y2="165.00" stroke="#111" stroke-width="1.1" />
<text x="72.20" y="167.80" font-size="8.2" text-anchor="end" font-weight="normal" fill="#222" >25</text>
<line x1="74.90" y1="152.80" x2="78.60" y2="152.80" stroke="#111" stroke-width="1.1" />
<text x="72.20" y="155.60" font-size="8.2" text-anchor="end" font-weight="normal" fill="#222" >30</text>
<line x1="74.90" y1="140.60" x2="78.60" y2="140.60" stroke="#111" stroke-width="1.1" />
<text x="72.20" y="143.40" font-size="8.2" text-anchor="end" font-weight="normal" fill="#222" >35</text>
<text transform="translate(56.9,182.4) rotate(-90)" font-size="8.8" text-anchor="middle" fill="#222">TNF&#945;+ CAR T cells (%)</text>
<rect x="82.60" y="225.02" width="9.60" height="0.98" fill="#da8f88" stroke="none" stroke-width="1" />
<rect x="147.60" y="224.78" width="9.60" height="1.22" fill="#da8f88" stroke="none" stroke-width="1" />
<rect x="94.20" y="224.90" width="9.60" height="1.10" fill="#8e99c7" stroke="none" stroke-width="1" />
<rect x="159.00" y="188.67" width="9.60" height="37.33" fill="#8e99c7" stroke="none" stroke-width="1" />
<rect x="105.50" y="225.39" width="9.60" height="0.61" fill="#b2d395" stroke="none" stroke-width="1" />
<rect x="170.20" y="183.30" width="9.60" height="42.70" fill="#b2d395" stroke="none" stroke-width="1" />
<rect x="117.00" y="225.02" width="9.60" height="0.98" fill="#a38dc0" stroke="none" stroke-width="1" />
<rect x="181.50" y="202.58" width="9.60" height="23.42" fill="#a38dc0" stroke="none" stroke-width="1" />
<rect x="128.50" y="222.58" width="9.60" height="3.42" fill="#f0c68e" stroke="none" stroke-width="1" />
<rect x="193.10" y="159.14" width="9.60" height="66.86" fill="#f0c68e" stroke="none" stroke-width="1" />
<line x1="78.00" y1="226.00" x2="207.50" y2="226.00" stroke="#111" stroke-width="1.3" />
<line x1="110.30" y1="226.00" x2="110.30" y2="229.00" stroke="#111" stroke-width="1.1" />
<line x1="175.00" y1="226.00" x2="175.00" y2="229.00" stroke="#111" stroke-width="1.1" />
<circle cx="85.60" cy="223.60" r="1.70" fill="#a1182f"/>
<circle cx="87.40" cy="222.60" r="1.70" fill="#a1182f"/>
<circle cx="89.20" cy="224.00" r="1.70" fill="#a1182f"/>
<rect x="95.80" y="222.40" width="3.20" height="3.20" fill="#26357a"/>
<rect x="97.40" y="221.80" width="3.20" height="3.20" fill="#26357a"/>
<rect x="99.00" y="222.60" width="3.20" height="3.20" fill="#26357a"/>
<path d="M109.20,223.50 L111.10,226.92 L107.30,226.92 Z" fill="#6aaa4b"/>
<path d="M110.30,223.10 L112.20,226.52 L108.40,226.52 Z" fill="#6aaa4b"/>
<path d="M111.40,223.50 L113.30,226.92 L109.50,226.92 Z" fill="#6aaa4b"/>
<path d="M120.40,226.50 L122.30,223.08 L118.50,223.08 Z" fill="#3f2b6c"/>
<path d="M121.80,226.20 L123.70,222.78 L119.90,222.78 Z" fill="#3f2b6c"/>
<path d="M123.20,226.50 L125.10,223.08 L121.30,223.08 Z" fill="#3f2b6c"/>
<path d="M131.70,220.50 L133.60,222.40 L131.70,224.30 L129.80,222.40 Z" fill="#e5a23a"/>
<path d="M133.30,219.10 L135.20,221.00 L133.30,222.90 L131.40,221.00 Z" fill="#e5a23a"/>
<path d="M134.90,220.90 L136.80,222.80 L134.90,224.70 L133.00,222.80 Z" fill="#e5a23a"/>
<circle cx="150.80" cy="224.00" r="1.70" fill="#a1182f"/>
<circle cx="152.40" cy="223.40" r="1.70" fill="#a1182f"/>
<circle cx="154.00" cy="224.20" r="1.70" fill="#a1182f"/>
<rect x="160.70" y="179.40" width="3.20" height="3.20" fill="#26357a"/>
<rect x="164.00" y="180.40" width="3.20" height="3.20" fill="#26357a"/>
<rect x="162.20" y="202.00" width="3.20" height="3.20" fill="#26357a"/>
<path d="M175.00,171.40 L176.90,174.82 L173.10,174.82 Z" fill="#6aaa4b"/>
<path d="M175.00,183.90 L176.90,187.32 L173.10,187.32 Z" fill="#6aaa4b"/>
<path d="M175.00,193.10 L176.90,196.52 L173.10,196.52 Z" fill="#6aaa4b"/>
<path d="M184.40,200.30 L186.30,196.88 L182.50,196.88 Z" fill="#3f2b6c"/>
<path d="M188.40,200.30 L190.30,196.88 L186.50,196.88 Z" fill="#3f2b6c"/>
<path d="M186.30,214.40 L188.20,210.98 L184.40,210.98 Z" fill="#3f2b6c"/>
<path d="M195.60,145.30 L197.50,147.20 L195.60,149.10 L193.70,147.20 Z" fill="#e5a23a"/>
<path d="M199.60,149.70 L201.50,151.60 L199.60,153.50 L197.70,151.60 Z" fill="#e5a23a"/>
<path d="M197.80,179.50 L199.70,181.40 L197.80,183.30 L195.90,181.40 Z" fill="#e5a23a"/>
<line x1="103.80" y1="168.10" x2="163.50" y2="168.10" stroke="#111" stroke-width="1.2" />
<circle cx="131.45" cy="163.70" r="1.25" fill="#111"/>
<circle cx="135.85" cy="163.70" r="1.25" fill="#111"/>
<line x1="115.30" y1="157.80" x2="174.60" y2="157.80" stroke="#111" stroke-width="1.2" />
<circle cx="142.75" cy="153.40" r="1.25" fill="#111"/>
<circle cx="147.15" cy="153.40" r="1.25" fill="#111"/>
<line x1="127.80" y1="149.30" x2="186.90" y2="149.30" stroke="#111" stroke-width="1.2" />
<circle cx="157.35" cy="144.90" r="1.25" fill="#111"/>
<line x1="138.20" y1="139.80" x2="197.10" y2="139.80" stroke="#111" stroke-width="1.2" />
<circle cx="165.45" cy="135.40" r="1.25" fill="#111"/>
<circle cx="169.85" cy="135.40" r="1.25" fill="#111"/>
<rect x="215.60" y="144.40" width="9.00" height="4.60" fill="#d98d80" stroke="#b86f62" stroke-width="0.7" />
<text x="230.00" y="149.30" font-size="7.3" text-anchor="start" font-weight="normal" fill="#222" class="q">Media</text>
<rect x="215.60" y="155.50" width="9.00" height="4.60" fill="#8c96c6" stroke="#6c77aa" stroke-width="0.7" />
<text x="230.00" y="160.40" font-size="7.3" text-anchor="start" font-weight="normal" fill="#222" class="q">ALL 1</text>
<rect x="215.60" y="166.70" width="9.00" height="4.60" fill="#b0d098" stroke="#8fb877" stroke-width="0.7" />
<text x="230.00" y="171.60" font-size="7.3" text-anchor="start" font-weight="normal" fill="#222" class="q">ALL 2</text>
<rect x="215.60" y="177.90" width="9.00" height="4.60" fill="#9c88ba" stroke="#7a6699" stroke-width="0.7" />
<text x="230.00" y="182.80" font-size="7.3" text-anchor="start" font-weight="normal" fill="#222" class="q">ALL 3</text>
<rect x="215.60" y="189.00" width="9.00" height="4.60" fill="#f0c490" stroke="#e0a970" stroke-width="0.7" />
<text x="230.00" y="193.90" font-size="7.3" text-anchor="start" font-weight="normal" fill="#222" class="q">ALL 4</text>
<text x="110.30" y="242.90" font-size="8.2" text-anchor="middle" fill="#222">CD7<tspan font-size="5.41" dy="-3.12">KO</tspan></text>
<text x="110.30" y="252.90" font-size="8.2" text-anchor="middle" font-weight="normal" fill="#333" >Ctrl CAR</text>
<text x="175.00" y="242.90" font-size="8.2" text-anchor="middle" fill="#222">CD7<tspan font-size="5.41" dy="-3.12">KO</tspan></text>
<text x="175.00" y="252.90" font-size="8.2" text-anchor="middle" font-weight="normal" fill="#333" >CD7 CAR</text>
<line x1="77.70" y1="271.20" x2="77.70" y2="371.90" stroke="#111" stroke-width="1.3" />
<line x1="74.00" y1="371.30" x2="77.70" y2="371.30" stroke="#111" stroke-width="1.1" />
<text x="72.20" y="374.10" font-size="8.2" text-anchor="end" font-weight="normal" fill="#222" >0.0</text>
<line x1="74.00" y1="355.07" x2="77.70" y2="355.07" stroke="#111" stroke-width="1.1" />
<text x="72.20" y="357.88" font-size="8.2" text-anchor="end" font-weight="normal" fill="#222" >2.5</text>
<line x1="74.00" y1="338.85" x2="77.70" y2="338.85" stroke="#111" stroke-width="1.1" />
<text x="72.20" y="341.65" font-size="8.2" text-anchor="end" font-weight="normal" fill="#222" >5.0</text>
<line x1="74.00" y1="322.62" x2="77.70" y2="322.62" stroke="#111" stroke-width="1.1" />
<text x="72.20" y="325.43" font-size="8.2" text-anchor="end" font-weight="normal" fill="#222" >7.5</text>
<line x1="74.00" y1="306.40" x2="77.70" y2="306.40" stroke="#111" stroke-width="1.1" />
<text x="72.20" y="309.20" font-size="8.2" text-anchor="end" font-weight="normal" fill="#222" >10.0</text>
<line x1="74.00" y1="290.18" x2="77.70" y2="290.18" stroke="#111" stroke-width="1.1" />
<text x="72.20" y="292.98" font-size="8.2" text-anchor="end" font-weight="normal" fill="#222" >12.5</text>
<line x1="74.00" y1="273.95" x2="77.70" y2="273.95" stroke="#111" stroke-width="1.1" />
<text x="72.20" y="276.75" font-size="8.2" text-anchor="end" font-weight="normal" fill="#222" >15.0</text>
<text transform="translate(49.8,323.6) rotate(-90)" font-size="8.6" text-anchor="middle" fill="#222">IFN&#947;+ CAR T cells (%)</text>
<rect x="82.90" y="366.76" width="11.00" height="4.54" fill="#da8f88" stroke="none" stroke-width="1" />
<rect x="155.90" y="365.13" width="11.00" height="6.17" fill="#da8f88" stroke="none" stroke-width="1" />
<rect x="95.80" y="367.41" width="11.00" height="3.89" fill="#8e99c7" stroke="none" stroke-width="1" />
<rect x="168.70" y="337.55" width="11.00" height="33.75" fill="#8e99c7" stroke="none" stroke-width="1" />
<rect x="108.80" y="370.33" width="11.00" height="0.97" fill="#b2d395" stroke="none" stroke-width="1" />
<rect x="181.50" y="334.96" width="11.00" height="36.34" fill="#b2d395" stroke="none" stroke-width="1" />
<rect x="121.70" y="367.73" width="11.00" height="3.57" fill="#a38dc0" stroke="none" stroke-width="1" />
<rect x="194.40" y="355.72" width="11.00" height="15.58" fill="#a38dc0" stroke="none" stroke-width="1" />
<rect x="134.90" y="360.92" width="11.00" height="10.38" fill="#f0c68e" stroke="none" stroke-width="1" />
<rect x="207.10" y="309.00" width="11.00" height="62.30" fill="#f0c68e" stroke="none" stroke-width="1" />
<line x1="77.10" y1="371.30" x2="222.80" y2="371.30" stroke="#111" stroke-width="1.3" />
<line x1="114.30" y1="371.30" x2="114.30" y2="374.30" stroke="#111" stroke-width="1.1" />
<line x1="187.00" y1="371.30" x2="187.00" y2="374.30" stroke="#111" stroke-width="1.1" />
<circle cx="88.40" cy="363.80" r="1.90" fill="#a1182f"/>
<circle cx="85.60" cy="368.80" r="1.90" fill="#a1182f"/>
<circle cx="91.40" cy="368.40" r="1.90" fill="#a1182f"/>
<rect x="97.61" y="365.81" width="3.58" height="3.58" fill="#26357a"/>
<rect x="99.51" y="364.61" width="3.58" height="3.58" fill="#26357a"/>
<rect x="101.41" y="366.21" width="3.58" height="3.58" fill="#26357a"/>
<path d="M113.20,368.47 L115.33,372.30 L111.07,372.30 Z" fill="#6aaa4b"/>
<path d="M114.30,368.07 L116.43,371.90 L112.17,371.90 Z" fill="#6aaa4b"/>
<path d="M115.40,368.47 L117.53,372.30 L113.27,372.30 Z" fill="#6aaa4b"/>
<path d="M125.40,370.73 L127.53,366.90 L123.27,366.90 Z" fill="#3f2b6c"/>
<path d="M127.20,370.13 L129.33,366.30 L125.07,366.30 Z" fill="#3f2b6c"/>
<path d="M129.00,370.73 L131.13,366.90 L126.87,366.90 Z" fill="#3f2b6c"/>
<path d="M140.50,353.87 L142.63,356.00 L140.50,358.13 L138.37,356.00 Z" fill="#e5a23a"/>
<path d="M137.80,362.67 L139.93,364.80 L137.80,366.93 L135.67,364.80 Z" fill="#e5a23a"/>
<path d="M143.10,362.67 L145.23,364.80 L143.10,366.93 L140.97,364.80 Z" fill="#e5a23a"/>
<circle cx="159.60" cy="367.00" r="1.90" fill="#a1182f"/>
<circle cx="161.80" cy="366.40" r="1.90" fill="#a1182f"/>
<circle cx="164.00" cy="367.40" r="1.90" fill="#a1182f"/>
<rect x="172.41" y="325.51" width="3.58" height="3.58" fill="#26357a"/>
<rect x="172.41" y="334.21" width="3.58" height="3.58" fill="#26357a"/>
<rect x="172.41" y="350.41" width="3.58" height="3.58" fill="#26357a"/>
<path d="M187.00,322.97 L189.13,326.80 L184.87,326.80 Z" fill="#6aaa4b"/>
<path d="M187.00,334.07 L189.13,337.90 L184.87,337.90 Z" fill="#6aaa4b"/>
<path d="M187.00,344.87 L189.13,348.70 L184.87,348.70 Z" fill="#6aaa4b"/>
<path d="M199.90,351.93 L202.03,348.10 L197.77,348.10 Z" fill="#3f2b6c"/>
<path d="M197.40,363.93 L199.53,360.10 L195.27,360.10 Z" fill="#3f2b6c"/>
<path d="M202.30,359.73 L204.43,355.90 L200.17,355.90 Z" fill="#3f2b6c"/>
<path d="M212.90,291.47 L215.03,293.60 L212.90,295.73 L210.77,293.60 Z" fill="#e5a23a"/>
<path d="M212.90,298.07 L215.03,300.20 L212.90,302.33 L210.77,300.20 Z" fill="#e5a23a"/>
<path d="M212.90,333.37 L215.03,335.50 L212.90,337.63 L210.77,335.50 Z" fill="#e5a23a"/>
<line x1="109.60" y1="314.40" x2="176.00" y2="314.40" stroke="#111" stroke-width="1.2" />
<circle cx="142.80" cy="310.00" r="1.25" fill="#111"/>
<line x1="122.00" y1="304.90" x2="188.80" y2="304.90" stroke="#111" stroke-width="1.2" />
<circle cx="153.20" cy="300.50" r="1.25" fill="#111"/>
<circle cx="157.60" cy="300.50" r="1.25" fill="#111"/>
<line x1="136.00" y1="295.50" x2="202.30" y2="295.50" stroke="#111" stroke-width="1.2" />
<circle cx="169.15" cy="291.10" r="1.25" fill="#111"/>
<line x1="148.40" y1="285.60" x2="214.30" y2="285.60" stroke="#111" stroke-width="1.2" />
<circle cx="181.35" cy="281.20" r="1.25" fill="#111"/>
<text x="114.30" y="387.50" font-size="8.2" text-anchor="middle" fill="#222">CD7<tspan font-size="5.41" dy="-3.12">KO</tspan></text>
<text x="114.30" y="397.30" font-size="8.2" text-anchor="middle" font-weight="normal" fill="#333" >Ctrl CAR</text>
<text x="187.00" y="387.50" font-size="8.2" text-anchor="middle" fill="#222">CD7<tspan font-size="5.41" dy="-3.12">KO</tspan></text>
<text x="187.00" y="397.30" font-size="8.2" text-anchor="middle" font-weight="normal" fill="#333" >CD7 CAR</text>
<text x="264.60" y="133.40" font-size="11.2" text-anchor="start" font-weight="bold" fill="#111" >D</text>
<line x1="270.20" y1="165.60" x2="270.20" y2="151.20" stroke="#111" stroke-width="1.5" />
<path d="M270.20,145.20 L267.50,151.70 L272.90,151.70 Z" fill="#111"/>
<text class="t" transform="translate(272.1,223.2) rotate(-90)" font-size="7.0" fill="#222">eFluor670 (T-ALL)</text>
<text x="289.00" y="231.00" font-size="7.0" text-anchor="start" font-weight="normal" fill="#111" class="t">7-AAD</text>
<line x1="311.00" y1="229.00" x2="433.30" y2="229.00" stroke="#111" stroke-width="1.5" />
<path d="M439.80,229.00 L432.80,226.20 L432.80,231.80 Z" fill="#111"/>
<ellipse cx="314.1" cy="157.0" rx="7.5" ry="2.0" fill="#000" opacity="0.85" filter="url(#blur1)"/>
<path fill="#111" fill-opacity="0.45" d="M308.7 156.6h0.7v0.7h-0.7zM325.4 156.4h0.7v0.7h-0.7zM303.4 157.4h0.7v0.7h-0.7zM313.0 157.9h0.7v0.7h-0.7zM309.9 158.9h0.7v0.7h-0.7zM315.8 160.4h0.7v0.7h-0.7zM315.7 157.4h0.7v0.7h-0.7zM320.8 158.2h0.7v0.7h-0.7zM307.6 158.1h0.7v0.7h-0.7zM308.2 158.6h0.7v0.7h-0.7zM308.7 157.5h0.7v0.7h-0.7zM307.5 157.5h0.7v0.7h-0.7zM320.7 158.6h0.7v0.7h-0.7zM308.3 155.3h0.7v0.7h-0.7zM316.5 156.1h0.7v0.7h-0.7zM307.5 157.9h0.7v0.7h-0.7zM304.7 158.1h0.7v0.7h-0.7zM318.8 157.1h0.7v0.7h-0.7zM306.7 156.7h0.7v0.7h-0.7zM321.4 157.3h0.7v0.7h-0.7zM319.8 157.1h0.7v0.7h-0.7zM313.0 157.3h0.7v0.7h-0.7zM313.0 157.4h0.7v0.7h-0.7zM317.4 158.6h0.7v0.7h-0.7zM311.3 155.8h0.7v0.7h-0.7zM308.2 155.8h0.7v0.7h-0.7zM299.8 157.0h0.7v0.7h-0.7zM307.5 159.4h0.7v0.7h-0.7zM308.8 155.2h0.7v0.7h-0.7zM314.6 157.0h0.7v0.7h-0.7zM317.5 157.2h0.7v0.7h-0.7zM323.7 156.1h0.7v0.7h-0.7zM313.7 156.4h0.7v0.7h-0.7zM309.3 154.8h0.7v0.7h-0.7zM316.0 154.9h0.7v0.7h-0.7zM314.5 157.6h0.7v0.7h-0.7zM314.7 154.9h0.7v0.7h-0.7zM317.2 156.1h0.7v0.7h-0.7zM314.6 156.5h0.7v0.7h-0.7zM324.1 156.3h0.7v0.7h-0.7zM310.9 157.4h0.7v0.7h-0.7zM303.4 156.4h0.7v0.7h-0.7zM310.9 157.4h0.7v0.7h-0.7zM310.1 159.4h0.7v0.7h-0.7zM324.0 158.6h0.7v0.7h-0.7zM312.1 157.9h0.7v0.7h-0.7zM325.0 159.4h0.7v0.7h-0.7zM316.4 156.3h0.7v0.7h-0.7zM319.3 158.1h0.7v0.7h-0.7zM312.8 156.9h0.7v0.7h-0.7zM304.2 155.1h0.7v0.7h-0.7zM304.6 157.4h0.7v0.7h-0.7zM313.6 156.1h0.7v0.7h-0.7zM310.8 158.9h0.7v0.7h-0.7zM305.1 156.5h0.7v0.7h-0.7zM305.0 159.6h0.7v0.7h-0.7zM310.0 158.9h0.7v0.7h-0.7zM316.9 156.2h0.7v0.7h-0.7zM316.1 157.3h0.7v0.7h-0.7zM315.2 157.3h0.7v0.7h-0.7zM316.1 157.8h0.7v0.7h-0.7zM307.6 158.0h0.7v0.7h-0.7zM307.5 155.3h0.7v0.7h-0.7zM309.9 155.9h0.7v0.7h-0.7zM308.2 155.6h0.7v0.7h-0.7zM317.3 158.2h0.7v0.7h-0.7zM308.3 158.8h0.7v0.7h-0.7zM311.7 156.0h0.7v0.7h-0.7zM306.0 157.6h0.7v0.7h-0.7zM311.6 157.4h0.7v0.7h-0.7zM330.0 158.3h0.7v0.7h-0.7zM311.7 155.6h0.7v0.7h-0.7zM309.7 156.1h0.7v0.7h-0.7zM308.5 153.9h0.7v0.7h-0.7zM313.1 155.6h0.7v0.7h-0.7zM325.6 156.7h0.7v0.7h-0.7zM317.9 157.5h0.7v0.7h-0.7zM307.5 157.3h0.7v0.7h-0.7zM309.6 156.5h0.7v0.7h-0.7zM311.9 154.4h0.7v0.7h-0.7zM320.6 157.8h0.7v0.7h-0.7zM311.2 158.8h0.7v0.7h-0.7zM306.2 153.7h0.7v0.7h-0.7zM313.7 155.9h0.7v0.7h-0.7zM311.7 156.3h0.7v0.7h-0.7zM310.7 155.7h0.7v0.7h-0.7zM311.7 158.0h0.7v0.7h-0.7zM314.3 159.3h0.7v0.7h-0.7zM315.7 157.5h0.7v0.7h-0.7zM313.3 157.7h0.7v0.7h-0.7zM311.1 155.3h0.7v0.7h-0.7zM305.5 154.6h0.7v0.7h-0.7zM310.5 157.1h0.7v0.7h-0.7zM314.8 158.5h0.7v0.7h-0.7zM309.2 154.2h0.7v0.7h-0.7zM307.8 156.9h0.7v0.7h-0.7zM300.4 155.3h0.7v0.7h-0.7zM305.2 159.6h0.7v0.7h-0.7zM318.6 156.0h0.7v0.7h-0.7zM309.0 157.1h0.7v0.7h-0.7zM313.4 157.2h0.7v0.7h-0.7zM304.9 155.7h0.7v0.7h-0.7zM320.2 156.9h0.7v0.7h-0.7zM318.2 156.9h0.7v0.7h-0.7zM313.5 157.3h0.7v0.7h-0.7zM310.3 158.6h0.7v0.7h-0.7zM317.1 156.9h0.7v0.7h-0.7zM313.0 159.1h0.7v0.7h-0.7zM306.2 158.1h0.7v0.7h-0.7zM318.9 159.1h0.7v0.7h-0.7zM320.9 155.9h0.7v0.7h-0.7zM317.1 156.5h0.7v0.7h-0.7zM317.1 157.2h0.7v0.7h-0.7zM317.5 156.1h0.7v0.7h-0.7zM313.2 157.7h0.7v0.7h-0.7zM315.4 158.2h0.7v0.7h-0.7zM323.2 155.8h0.7v0.7h-0.7zM312.6 154.8h0.7v0.7h-0.7zM315.9 159.1h0.7v0.7h-0.7zM313.3 158.6h0.7v0.7h-0.7zM324.5 157.6h0.7v0.7h-0.7zM317.7 158.3h0.7v0.7h-0.7zM307.6 155.4h0.7v0.7h-0.7zM309.7 155.9h0.7v0.7h-0.7zM315.8 154.0h0.7v0.7h-0.7zM299.7 154.6h0.7v0.7h-0.7zM313.3 156.6h0.7v0.7h-0.7zM310.9 156.5h0.7v0.7h-0.7zM309.0 155.9h0.7v0.7h-0.7zM313.2 156.7h0.7v0.7h-0.7zM313.8 156.9h0.7v0.7h-0.7zM312.5 157.0h0.7v0.7h-0.7zM324.5 159.7h0.7v0.7h-0.7zM318.9 154.5h0.7v0.7h-0.7zM315.7 158.8h0.7v0.7h-0.7zM314.8 155.0h0.7v0.7h-0.7zM310.1 160.4h0.7v0.7h-0.7zM310.9 155.0h0.7v0.7h-0.7zM310.8 158.3h0.7v0.7h-0.7zM312.5 155.4h0.7v0.7h-0.7zM298.7 157.2h0.7v0.7h-0.7zM301.7 158.2h0.7v0.7h-0.7zM319.2 157.5h0.7v0.7h-0.7zM311.9 156.8h0.7v0.7h-0.7zM310.5 156.0h0.7v0.7h-0.7zM306.2 155.7h0.7v0.7h-0.7zM321.5 159.4h0.7v0.7h-0.7zM312.3 157.7h0.7v0.7h-0.7zM310.1 157.2h0.7v0.7h-0.7zM320.3 158.3h0.7v0.7h-0.7zM318.2 157.9h0.7v0.7h-0.7zM317.1 156.1h0.7v0.7h-0.7zM316.6 154.7h0.7v0.7h-0.7zM313.3 157.4h0.7v0.7h-0.7zM314.7 154.5h0.7v0.7h-0.7zM317.8 155.4h0.7v0.7h-0.7zM297.0 156.8h0.7v0.7h-0.7zM311.5 154.8h0.7v0.7h-0.7zM313.8 156.8h0.7v0.7h-0.7zM311.7 155.3h0.7v0.7h-0.7zM316.7 157.1h0.7v0.7h-0.7zM310.5 155.4h0.7v0.7h-0.7zM307.5 156.6h0.7v0.7h-0.7zM300.8 155.9h0.7v0.7h-0.7zM319.6 156.8h0.7v0.7h-0.7zM311.8 156.4h0.7v0.7h-0.7zM317.0 158.3h0.7v0.7h-0.7zM313.5 156.4h0.7v0.7h-0.7zM316.3 158.2h0.7v0.7h-0.7zM311.0 157.7h0.7v0.7h-0.7zM315.5 158.1h0.7v0.7h-0.7zM313.1 156.2h0.7v0.7h-0.7zM312.9 156.5h0.7v0.7h-0.7zM312.1 158.9h0.7v0.7h-0.7zM317.4 157.1h0.7v0.7h-0.7zM314.6 157.8h0.7v0.7h-0.7zM314.8 156.5h0.7v0.7h-0.7zM309.6 154.2h0.7v0.7h-0.7zM312.4 159.6h0.7v0.7h-0.7zM307.7 159.0h0.7v0.7h-0.7zM307.2 156.4h0.7v0.7h-0.7zM319.1 155.7h0.7v0.7h-0.7zM308.8 158.5h0.7v0.7h-0.7zM310.7 158.0h0.7v0.7h-0.7zM327.2 155.7h0.7v0.7h-0.7zM319.4 159.4h0.7v0.7h-0.7zM311.9 156.8h0.7v0.7h-0.7zM317.1 157.9h0.7v0.7h-0.7zM321.4 155.3h0.7v0.7h-0.7zM312.1 158.4h0.7v0.7h-0.7zM315.8 156.6h0.7v0.7h-0.7zM317.0 157.8h0.7v0.7h-0.7zM307.0 154.6h0.7v0.7h-0.7zM312.8 156.9h0.7v0.7h-0.7zM313.5 157.6h0.7v0.7h-0.7zM307.1 156.2h0.7v0.7h-0.7zM319.4 156.2h0.7v0.7h-0.7zM305.2 155.7h0.7v0.7h-0.7zM315.7 159.6h0.7v0.7h-0.7zM319.3 155.1h0.7v0.7h-0.7zM312.8 156.2h0.7v0.7h-0.7zM317.5 157.4h0.7v0.7h-0.7zM311.3 156.1h0.7v0.7h-0.7zM320.1 155.1h0.7v0.7h-0.7zM309.8 155.6h0.7v0.7h-0.7zM318.5 158.9h0.7v0.7h-0.7zM315.4 158.3h0.7v0.7h-0.7zM312.6 155.2h0.7v0.7h-0.7zM313.2 159.7h0.7v0.7h-0.7zM309.4 158.2h0.7v0.7h-0.7zM303.5 157.8h0.7v0.7h-0.7zM320.4 157.4h0.7v0.7h-0.7zM301.4 157.2h0.7v0.7h-0.7zM306.9 158.3h0.7v0.7h-0.7zM314.1 156.9h0.7v0.7h-0.7zM313.9 155.6h0.7v0.7h-0.7zM310.6 158.0h0.7v0.7h-0.7zM314.4 159.5h0.7v0.7h-0.7zM316.6 160.2h0.7v0.7h-0.7zM307.2 156.9h0.7v0.7h-0.7zM313.7 155.3h0.7v0.7h-0.7zM314.6 156.5h0.7v0.7h-0.7zM311.6 156.7h0.7v0.7h-0.7zM314.6 158.2h0.7v0.7h-0.7zM310.2 158.0h0.7v0.7h-0.7zM303.1 156.1h0.7v0.7h-0.7zM305.9 157.8h0.7v0.7h-0.7zM313.0 156.1h0.7v0.7h-0.7zM313.4 157.0h0.7v0.7h-0.7zM304.4 158.8h0.7v0.7h-0.7zM312.6 158.2h0.7v0.7h-0.7zM319.8 160.1h0.7v0.7h-0.7zM313.9 156.6h0.7v0.7h-0.7zM308.8 156.8h0.7v0.7h-0.7zM316.3 157.1h0.7v0.7h-0.7zM309.9 155.5h0.7v0.7h-0.7zM310.3 158.7h0.7v0.7h-0.7zM316.9 157.6h0.7v0.7h-0.7zM321.2 158.4h0.7v0.7h-0.7zM305.1 158.4h0.7v0.7h-0.7zM308.9 158.2h0.7v0.7h-0.7zM308.0 156.5h0.7v0.7h-0.7zM302.2 156.3h0.7v0.7h-0.7zM315.7 157.4h0.7v0.7h-0.7zM319.0 157.2h0.7v0.7h-0.7zM317.7 158.0h0.7v0.7h-0.7zM316.0 158.3h0.7v0.7h-0.7zM310.1 159.1h0.7v0.7h-0.7zM318.2 154.0h0.7v0.7h-0.7zM299.8 157.6h0.7v0.7h-0.7zM315.6 156.1h0.7v0.7h-0.7zM327.1 156.6h0.7v0.7h-0.7zM317.6 158.8h0.7v0.7h-0.7zM308.9 155.3h0.7v0.7h-0.7zM310.9 156.0h0.7v0.7h-0.7zM316.9 155.2h0.7v0.7h-0.7zM318.4 160.1h0.7v0.7h-0.7zM311.9 156.6h0.7v0.7h-0.7zM315.7 157.2h0.7v0.7h-0.7zM307.1 155.2h0.7v0.7h-0.7zM323.4 155.9h0.7v0.7h-0.7zM313.2 157.8h0.7v0.7h-0.7zM317.2 157.7h0.7v0.7h-0.7zM306.9 157.6h0.7v0.7h-0.7zM315.7 155.4h0.7v0.7h-0.7zM316.1 154.6h0.7v0.7h-0.7zM312.8 155.4h0.7v0.7h-0.7zM305.8 157.9h0.7v0.7h-0.7zM303.5 157.5h0.7v0.7h-0.7zM317.5 155.4h0.7v0.7h-0.7zM311.9 158.7h0.7v0.7h-0.7zM309.1 157.2h0.7v0.7h-0.7zM317.3 157.9h0.7v0.7h-0.7zM320.8 156.3h0.7v0.7h-0.7zM324.7 158.0h0.7v0.7h-0.7zM310.8 155.3h0.7v0.7h-0.7zM317.3 157.0h0.7v0.7h-0.7zM308.6 158.3h0.7v0.7h-0.7zM318.2 158.3h0.7v0.7h-0.7zM305.5 155.8h0.7v0.7h-0.7zM304.4 157.1h0.7v0.7h-0.7zM320.6 158.6h0.7v0.7h-0.7zM320.0 155.1h0.7v0.7h-0.7zM312.6 156.0h0.7v0.7h-0.7zM311.6 157.4h0.7v0.7h-0.7zM314.7 154.5h0.7v0.7h-0.7zM319.6 156.3h0.7v0.7h-0.7zM315.6 154.6h0.7v0.7h-0.7zM313.7 157.3h0.7v0.7h-0.7zM323.5 154.6h0.7v0.7h-0.7zM310.3 155.2h0.7v0.7h-0.7zM302.7 158.6h0.7v0.7h-0.7zM311.7 157.4h0.7v0.7h-0.7zM312.8 156.6h0.7v0.7h-0.7zM310.3 155.2h0.7v0.7h-0.7zM317.0 157.9h0.7v0.7h-0.7zM310.6 159.3h0.7v0.7h-0.7zM313.0 155.9h0.7v0.7h-0.7zM315.2 158.0h0.7v0.7h-0.7zM304.5 157.7h0.7v0.7h-0.7zM317.1 156.6h0.7v0.7h-0.7zM317.1 158.5h0.7v0.7h-0.7zM303.3 158.0h0.7v0.7h-0.7zM308.1 155.6h0.7v0.7h-0.7zM313.7 156.2h0.7v0.7h-0.7zM312.9 156.2h0.7v0.7h-0.7zM304.5 157.2h0.7v0.7h-0.7zM309.3 156.8h0.7v0.7h-0.7zM307.4 157.3h0.7v0.7h-0.7zM311.1 158.3h0.7v0.7h-0.7zM308.6 157.5h0.7v0.7h-0.7zM306.6 154.2h0.7v0.7h-0.7zM315.7 156.7h0.7v0.7h-0.7zM312.8 158.3h0.7v0.7h-0.7zM304.5 155.9h0.7v0.7h-0.7zM306.2 156.2h0.7v0.7h-0.7zM327.4 157.0h0.7v0.7h-0.7zM313.6 156.1h0.7v0.7h-0.7zM312.3 156.6h0.7v0.7h-0.7zM320.9 156.3h0.7v0.7h-0.7zM317.7 156.4h0.7v0.7h-0.7zM311.0 156.0h0.7v0.7h-0.7zM315.5 156.6h0.7v0.7h-0.7zM317.0 157.1h0.7v0.7h-0.7zM308.3 155.6h0.7v0.7h-0.7zM315.3 155.2h0.7v0.7h-0.7zM314.8 154.0h0.7v0.7h-0.7zM314.7 157.2h0.7v0.7h-0.7zM311.3 157.7h0.7v0.7h-0.7zM303.0 156.3h0.7v0.7h-0.7zM315.0 158.4h0.7v0.7h-0.7zM312.1 157.2h0.7v0.7h-0.7zM311.7 158.0h0.7v0.7h-0.7zM306.1 153.8h0.7v0.7h-0.7zM318.4 157.6h0.7v0.7h-0.7zM303.9 157.4h0.7v0.7h-0.7zM321.0 159.6h0.7v0.7h-0.7zM310.8 158.7h0.7v0.7h-0.7zM305.6 157.9h0.7v0.7h-0.7zM318.2 155.8h0.7v0.7h-0.7zM304.1 159.7h0.7v0.7h-0.7zM318.9 159.9h0.7v0.7h-0.7zM310.0 156.1h0.7v0.7h-0.7zM324.1 156.8h0.7v0.7h-0.7zM301.2 156.9h0.7v0.7h-0.7zM316.1 157.6h0.7v0.7h-0.7zM297.8 157.4h0.7v0.7h-0.7zM299.4 160.0h0.7v0.7h-0.7zM303.7 156.0h0.7v0.7h-0.7zM312.7 156.3h0.7v0.7h-0.7zM319.1 156.1h0.7v0.7h-0.7zM314.6 157.5h0.7v0.7h-0.7zM314.4 155.4h0.7v0.7h-0.7zM322.8 155.9h0.7v0.7h-0.7zM306.1 156.6h0.7v0.7h-0.7zM313.3 153.4h0.7v0.7h-0.7zM309.6 158.5h0.7v0.7h-0.7zM313.4 157.3h0.7v0.7h-0.7zM317.5 157.5h0.7v0.7h-0.7zM303.2 155.3h0.7v0.7h-0.7zM312.1 153.6h0.7v0.7h-0.7zM311.7 159.5h0.7v0.7h-0.7zM309.6 158.1h0.7v0.7h-0.7zM292.7 155.8h0.7v0.7h-0.7zM310.1 157.1h0.7v0.7h-0.7zM306.9 158.3h0.7v0.7h-0.7zM310.7 156.3h0.7v0.7h-0.7zM311.3 157.8h0.7v0.7h-0.7zM306.1 156.9h0.7v0.7h-0.7zM309.1 158.4h0.7v0.7h-0.7zM312.3 155.2h0.7v0.7h-0.7zM311.5 155.7h0.7v0.7h-0.7zM314.8 156.7h0.7v0.7h-0.7zM314.5 157.3h0.7v0.7h-0.7zM306.8 157.1h0.7v0.7h-0.7zM312.3 157.1h0.7v0.7h-0.7zM312.6 156.6h0.7v0.7h-0.7zM301.5 154.5h0.7v0.7h-0.7zM312.0 158.7h0.7v0.7h-0.7zM316.9 156.1h0.7v0.7h-0.7zM313.5 156.8h0.7v0.7h-0.7zM302.7 156.0h0.7v0.7h-0.7zM300.8 157.1h0.7v0.7h-0.7zM323.5 156.7h0.7v0.7h-0.7zM303.0 157.3h0.7v0.7h-0.7zM317.9 155.7h0.7v0.7h-0.7zM316.0 157.3h0.7v0.7h-0.7zM309.8 156.6h0.7v0.7h-0.7zM320.8 159.9h0.7v0.7h-0.7zM294.1 157.0h0.7v0.7h-0.7zM317.6 155.1h0.7v0.7h-0.7zM308.3 157.5h0.7v0.7h-0.7zM316.0 157.4h0.7v0.7h-0.7zM303.9 157.0h0.7v0.7h-0.7zM316.0 158.2h0.7v0.7h-0.7zM303.8 159.0h0.7v0.7h-0.7zM308.7 159.4h0.7v0.7h-0.7zM303.4 154.6h0.7v0.7h-0.7zM311.2 158.0h0.7v0.7h-0.7zM307.5 157.1h0.7v0.7h-0.7zM300.2 155.1h0.7v0.7h-0.7zM308.2 156.8h0.7v0.7h-0.7zM320.1 157.6h0.7v0.7h-0.7zM311.3 157.1h0.7v0.7h-0.7zM304.9 158.7h0.7v0.7h-0.7zM308.3 156.2h0.7v0.7h-0.7zM328.5 156.1h0.7v0.7h-0.7zM316.3 157.2h0.7v0.7h-0.7zM307.9 156.2h0.7v0.7h-0.7zM314.6 159.3h0.7v0.7h-0.7zM317.8 156.1h0.7v0.7h-0.7zM319.8 156.6h0.7v0.7h-0.7zM307.1 155.9h0.7v0.7h-0.7zM315.8 154.3h0.7v0.7h-0.7zM305.3 157.0h0.7v0.7h-0.7zM315.2 154.6h0.7v0.7h-0.7zM310.2 156.4h0.7v0.7h-0.7zM316.0 157.9h0.7v0.7h-0.7zM317.5 157.3h0.7v0.7h-0.7zM310.1 157.5h0.7v0.7h-0.7zM317.4 158.5h0.7v0.7h-0.7zM315.4 156.4h0.7v0.7h-0.7zM311.0 155.7h0.7v0.7h-0.7zM326.0 157.2h0.7v0.7h-0.7zM317.4 158.0h0.7v0.7h-0.7zM317.0 157.1h0.7v0.7h-0.7zM308.6 158.0h0.7v0.7h-0.7zM296.5 156.6h0.7v0.7h-0.7zM307.1 156.1h0.7v0.7h-0.7zM315.4 155.8h0.7v0.7h-0.7zM310.1 155.7h0.7v0.7h-0.7zM312.1 156.4h0.7v0.7h-0.7zM316.4 158.8h0.7v0.7h-0.7zM311.8 155.8h0.7v0.7h-0.7zM320.1 157.5h0.7v0.7h-0.7zM316.8 157.8h0.7v0.7h-0.7zM315.9 154.8h0.7v0.7h-0.7zM313.3 156.4h0.7v0.7h-0.7zM311.9 156.7h0.7v0.7h-0.7zM321.9 156.8h0.7v0.7h-0.7zM313.8 154.5h0.7v0.7h-0.7zM316.5 155.0h0.7v0.7h-0.7zM314.1 156.8h0.7v0.7h-0.7zM320.3 158.0h0.7v0.7h-0.7zM320.1 158.6h0.7v0.7h-0.7zM303.4 158.1h0.7v0.7h-0.7zM318.1 158.0h0.7v0.7h-0.7zM310.2 154.9h0.7v0.7h-0.7zM314.0 157.9h0.7v0.7h-0.7zM318.2 155.1h0.7v0.7h-0.7zM310.9 157.0h0.7v0.7h-0.7zM310.1 154.9h0.7v0.7h-0.7zM302.5 154.2h0.7v0.7h-0.7zM304.7 155.2h0.7v0.7h-0.7zM312.2 158.1h0.7v0.7h-0.7zM334.4 156.4h0.7v0.7h-0.7zM318.6 158.1h0.7v0.7h-0.7zM308.9 155.4h0.7v0.7h-0.7zM307.8 157.8h0.7v0.7h-0.7zM315.0 156.7h0.7v0.7h-0.7zM320.5 158.1h0.7v0.7h-0.7zM318.0 157.1h0.7v0.7h-0.7zM303.7 156.3h0.7v0.7h-0.7zM311.7 158.8h0.7v0.7h-0.7zM305.9 155.0h0.7v0.7h-0.7zM298.4 157.5h0.7v0.7h-0.7zM299.4 157.9h0.7v0.7h-0.7zM304.4 158.3h0.7v0.7h-0.7zM309.9 158.8h0.7v0.7h-0.7zM312.1 156.5h0.7v0.7h-0.7zM312.5 156.5h0.7v0.7h-0.7zM312.9 156.3h0.7v0.7h-0.7zM312.4 158.1h0.7v0.7h-0.7zM311.4 158.8h0.7v0.7h-0.7zM305.6 159.0h0.7v0.7h-0.7zM304.5 158.5h0.7v0.7h-0.7zM309.1 158.5h0.7v0.7h-0.7zM307.3 156.4h0.7v0.7h-0.7zM314.0 155.2h0.7v0.7h-0.7zM303.8 156.4h0.7v0.7h-0.7zM312.8 158.1h0.7v0.7h-0.7zM318.6 155.6h0.7v0.7h-0.7zM291.5 158.0h0.7v0.7h-0.7zM320.9 156.3h0.7v0.7h-0.7zM316.4 157.9h0.7v0.7h-0.7zM306.1 158.0h0.7v0.7h-0.7zM310.2 158.4h0.7v0.7h-0.7zM314.3 156.6h0.7v0.7h-0.7zM318.4 157.8h0.7v0.7h-0.7zM317.8 157.1h0.7v0.7h-0.7zM312.2 159.2h0.7v0.7h-0.7zM315.0 158.5h0.7v0.7h-0.7zM318.2 155.6h0.7v0.7h-0.7zM309.1 157.5h0.7v0.7h-0.7zM321.8 156.3h0.7v0.7h-0.7zM310.4 156.1h0.7v0.7h-0.7zM312.8 159.6h0.7v0.7h-0.7zM317.6 154.9h0.7v0.7h-0.7zM308.9 158.9h0.7v0.7h-0.7zM317.1 154.5h0.7v0.7h-0.7zM311.6 156.5h0.7v0.7h-0.7zM316.7 157.3h0.7v0.7h-0.7zM313.7 155.9h0.7v0.7h-0.7zM318.5 157.4h0.7v0.7h-0.7zM315.3 158.1h0.7v0.7h-0.7zM310.2 155.5h0.7v0.7h-0.7zM305.2 156.6h0.7v0.7h-0.7zM325.5 156.3h0.7v0.7h-0.7zM309.1 157.0h0.7v0.7h-0.7zM311.0 156.3h0.7v0.7h-0.7zM314.8 157.0h0.7v0.7h-0.7zM301.1 157.9h0.7v0.7h-0.7zM301.7 157.0h0.7v0.7h-0.7zM302.7 156.6h0.7v0.7h-0.7zM302.4 156.7h0.7v0.7h-0.7zM309.2 157.8h0.7v0.7h-0.7zM315.1 154.8h0.7v0.7h-0.7zM314.4 155.1h0.7v0.7h-0.7zM314.2 155.4h0.7v0.7h-0.7zM307.3 155.3h0.7v0.7h-0.7zM310.7 157.2h0.7v0.7h-0.7zM320.5 155.0h0.7v0.7h-0.7zM309.2 158.2h0.7v0.7h-0.7zM322.8 159.0h0.7v0.7h-0.7zM317.8 157.6h0.7v0.7h-0.7zM323.9 157.4h0.7v0.7h-0.7zM308.8 154.9h0.7v0.7h-0.7zM304.0 156.1h0.7v0.7h-0.7zM314.2 156.7h0.7v0.7h-0.7zM311.7 157.6h0.7v0.7h-0.7zM309.8 157.1h0.7v0.7h-0.7zM306.8 155.6h0.7v0.7h-0.7zM310.0 154.6h0.7v0.7h-0.7zM313.7 157.1h0.7v0.7h-0.7zM305.3 157.5h0.7v0.7h-0.7zM310.8 155.9h0.7v0.7h-0.7zM318.9 156.4h0.7v0.7h-0.7zM303.1 157.1h0.7v0.7h-0.7zM320.4 155.9h0.7v0.7h-0.7zM315.0 156.5h0.7v0.7h-0.7zM313.1 157.2h0.7v0.7h-0.7zM304.3 155.8h0.7v0.7h-0.7zM314.9 158.7h0.7v0.7h-0.7zM314.2 158.7h0.7v0.7h-0.7zM324.2 156.7h0.7v0.7h-0.7zM311.7 157.5h0.7v0.7h-0.7zM312.4 158.6h0.7v0.7h-0.7zM308.6 158.2h0.7v0.7h-0.7zM298.9 156.7h0.7v0.7h-0.7zM308.4 158.1h0.7v0.7h-0.7z"/>
<path fill="#222" fill-opacity="0.4" d="M306.5 157.0h0.7v0.7h-0.7zM299.3 156.8h0.7v0.7h-0.7zM296.9 158.5h0.7v0.7h-0.7zM299.8 157.3h0.7v0.7h-0.7zM303.3 158.9h0.7v0.7h-0.7zM303.4 158.2h0.7v0.7h-0.7zM297.2 158.4h0.7v0.7h-0.7zM302.6 156.6h0.7v0.7h-0.7zM297.2 157.8h0.7v0.7h-0.7zM296.0 156.6h0.7v0.7h-0.7zM296.3 157.9h0.7v0.7h-0.7zM297.0 157.3h0.7v0.7h-0.7zM301.5 158.3h0.7v0.7h-0.7zM303.4 158.0h0.7v0.7h-0.7zM301.7 156.0h0.7v0.7h-0.7zM299.5 158.2h0.7v0.7h-0.7zM302.5 157.1h0.7v0.7h-0.7zM301.9 157.4h0.7v0.7h-0.7zM300.1 157.2h0.7v0.7h-0.7zM296.5 156.1h0.7v0.7h-0.7zM294.9 157.1h0.7v0.7h-0.7zM309.6 156.0h0.7v0.7h-0.7zM301.4 158.3h0.7v0.7h-0.7zM302.9 157.6h0.7v0.7h-0.7zM300.9 157.8h0.7v0.7h-0.7zM298.6 157.2h0.7v0.7h-0.7zM299.9 157.5h0.7v0.7h-0.7zM300.6 156.8h0.7v0.7h-0.7zM304.0 157.9h0.7v0.7h-0.7zM298.6 156.3h0.7v0.7h-0.7zM295.5 157.1h0.7v0.7h-0.7zM299.0 156.7h0.7v0.7h-0.7zM302.6 156.4h0.7v0.7h-0.7zM304.2 156.1h0.7v0.7h-0.7zM301.9 156.6h0.7v0.7h-0.7zM294.0 157.2h0.7v0.7h-0.7zM298.9 157.3h0.7v0.7h-0.7zM301.6 157.1h0.7v0.7h-0.7zM295.8 157.5h0.7v0.7h-0.7zM303.4 158.0h0.7v0.7h-0.7zM294.2 156.6h0.7v0.7h-0.7zM297.3 157.0h0.7v0.7h-0.7zM291.5 156.6h0.7v0.7h-0.7zM295.2 156.2h0.7v0.7h-0.7zM304.9 157.5h0.7v0.7h-0.7zM300.1 157.9h0.7v0.7h-0.7zM298.5 157.8h0.7v0.7h-0.7zM301.7 157.7h0.7v0.7h-0.7zM299.9 158.0h0.7v0.7h-0.7zM300.0 157.1h0.7v0.7h-0.7zM300.0 157.7h0.7v0.7h-0.7zM297.1 157.4h0.7v0.7h-0.7zM297.1 157.3h0.7v0.7h-0.7zM300.9 158.3h0.7v0.7h-0.7zM306.1 158.1h0.7v0.7h-0.7zM296.4 157.1h0.7v0.7h-0.7zM291.5 156.8h0.7v0.7h-0.7zM296.1 157.4h0.7v0.7h-0.7zM300.3 158.2h0.7v0.7h-0.7zM300.3 156.3h0.7v0.7h-0.7zM298.4 159.1h0.7v0.7h-0.7zM301.8 158.0h0.7v0.7h-0.7zM300.9 155.6h0.7v0.7h-0.7zM299.1 157.4h0.7v0.7h-0.7zM296.2 157.1h0.7v0.7h-0.7zM302.8 157.5h0.7v0.7h-0.7zM300.3 157.3h0.7v0.7h-0.7zM300.5 157.8h0.7v0.7h-0.7zM300.5 156.7h0.7v0.7h-0.7zM297.5 156.3h0.7v0.7h-0.7zM303.3 157.5h0.7v0.7h-0.7zM304.2 158.4h0.7v0.7h-0.7zM296.3 157.5h0.7v0.7h-0.7zM302.1 156.0h0.7v0.7h-0.7zM301.0 157.5h0.7v0.7h-0.7zM298.3 158.0h0.7v0.7h-0.7zM296.2 157.7h0.7v0.7h-0.7zM304.7 157.2h0.7v0.7h-0.7zM304.3 157.1h0.7v0.7h-0.7zM300.1 158.4h0.7v0.7h-0.7zM302.1 158.3h0.7v0.7h-0.7zM304.6 158.8h0.7v0.7h-0.7zM297.2 159.0h0.7v0.7h-0.7zM300.0 157.9h0.7v0.7h-0.7zM299.8 158.9h0.7v0.7h-0.7zM302.3 156.2h0.7v0.7h-0.7zM297.8 157.2h0.7v0.7h-0.7zM299.7 157.6h0.7v0.7h-0.7zM301.3 157.2h0.7v0.7h-0.7zM299.6 157.4h0.7v0.7h-0.7z"/>
<path fill="#444" fill-opacity="0.3" d="M319.1 182.0h0.7v0.7h-0.7zM318.8 184.2h0.7v0.7h-0.7zM310.4 173.5h0.7v0.7h-0.7zM309.3 172.2h0.7v0.7h-0.7zM321.1 175.2h0.7v0.7h-0.7zM309.7 172.3h0.7v0.7h-0.7zM321.1 164.3h0.7v0.7h-0.7zM311.8 181.2h0.7v0.7h-0.7zM321.6 182.3h0.7v0.7h-0.7zM311.8 167.9h0.7v0.7h-0.7zM308.5 182.2h0.7v0.7h-0.7zM315.8 184.5h0.7v0.7h-0.7zM319.3 181.9h0.7v0.7h-0.7zM309.0 170.7h0.7v0.7h-0.7zM314.7 179.3h0.7v0.7h-0.7zM310.4 188.0h0.7v0.7h-0.7zM305.5 179.9h0.7v0.7h-0.7zM309.6 181.7h0.7v0.7h-0.7zM317.4 172.1h0.7v0.7h-0.7zM316.5 184.6h0.7v0.7h-0.7zM310.6 172.2h0.7v0.7h-0.7zM309.1 175.9h0.7v0.7h-0.7zM309.0 165.2h0.7v0.7h-0.7zM318.2 164.7h0.7v0.7h-0.7zM301.5 186.1h0.7v0.7h-0.7zM307.3 183.1h0.7v0.7h-0.7zM320.3 164.8h0.7v0.7h-0.7zM307.6 187.4h0.7v0.7h-0.7zM304.7 171.2h0.7v0.7h-0.7zM309.7 172.0h0.7v0.7h-0.7zM321.2 171.1h0.7v0.7h-0.7zM304.2 191.8h0.7v0.7h-0.7zM317.8 172.8h0.7v0.7h-0.7zM324.4 177.5h0.7v0.7h-0.7zM318.6 169.0h0.7v0.7h-0.7zM314.4 187.5h0.7v0.7h-0.7zM318.1 172.3h0.7v0.7h-0.7zM306.9 183.5h0.7v0.7h-0.7zM315.6 183.1h0.7v0.7h-0.7zM318.5 180.7h0.7v0.7h-0.7zM314.9 178.9h0.7v0.7h-0.7zM312.2 180.0h0.7v0.7h-0.7zM316.9 177.7h0.7v0.7h-0.7zM310.4 181.4h0.7v0.7h-0.7zM313.8 168.7h0.7v0.7h-0.7zM314.8 180.8h0.7v0.7h-0.7zM312.0 189.2h0.7v0.7h-0.7zM316.4 183.1h0.7v0.7h-0.7zM318.2 160.9h0.7v0.7h-0.7zM304.3 184.6h0.7v0.7h-0.7zM312.1 173.1h0.7v0.7h-0.7zM317.4 177.1h0.7v0.7h-0.7zM316.0 168.1h0.7v0.7h-0.7zM322.1 155.4h0.7v0.7h-0.7zM320.0 169.2h0.7v0.7h-0.7zM319.0 174.0h0.7v0.7h-0.7zM316.1 185.9h0.7v0.7h-0.7zM310.9 161.7h0.7v0.7h-0.7zM310.7 159.7h0.7v0.7h-0.7zM310.6 171.6h0.7v0.7h-0.7zM316.9 169.7h0.7v0.7h-0.7zM316.2 163.3h0.7v0.7h-0.7zM315.9 173.4h0.7v0.7h-0.7zM319.7 190.4h0.7v0.7h-0.7zM318.4 180.5h0.7v0.7h-0.7zM309.5 173.4h0.7v0.7h-0.7zM324.6 158.1h0.7v0.7h-0.7zM313.0 180.2h0.7v0.7h-0.7zM319.8 169.1h0.7v0.7h-0.7zM314.6 180.1h0.7v0.7h-0.7zM321.9 172.9h0.7v0.7h-0.7zM313.2 186.1h0.7v0.7h-0.7zM320.2 169.2h0.7v0.7h-0.7zM316.6 174.2h0.7v0.7h-0.7zM315.1 163.2h0.7v0.7h-0.7zM315.9 174.8h0.7v0.7h-0.7zM307.6 179.2h0.7v0.7h-0.7zM309.5 173.7h0.7v0.7h-0.7zM312.9 192.9h0.7v0.7h-0.7zM320.8 164.8h0.7v0.7h-0.7zM321.4 170.1h0.7v0.7h-0.7zM322.0 177.7h0.7v0.7h-0.7zM321.8 180.0h0.7v0.7h-0.7zM312.4 173.0h0.7v0.7h-0.7zM315.8 177.7h0.7v0.7h-0.7zM321.3 191.1h0.7v0.7h-0.7zM316.2 190.6h0.7v0.7h-0.7zM317.9 179.4h0.7v0.7h-0.7zM309.5 179.8h0.7v0.7h-0.7zM318.6 172.7h0.7v0.7h-0.7zM310.9 178.4h0.7v0.7h-0.7zM321.1 179.9h0.7v0.7h-0.7zM311.2 185.1h0.7v0.7h-0.7zM313.8 173.4h0.7v0.7h-0.7zM322.5 175.8h0.7v0.7h-0.7zM315.7 175.4h0.7v0.7h-0.7zM297.6 191.8h0.7v0.7h-0.7zM322.9 152.2h0.7v0.7h-0.7zM300.2 179.7h0.7v0.7h-0.7zM320.4 175.9h0.7v0.7h-0.7zM317.8 168.3h0.7v0.7h-0.7zM309.0 181.8h0.7v0.7h-0.7zM307.3 189.1h0.7v0.7h-0.7zM318.5 173.1h0.7v0.7h-0.7zM310.2 190.4h0.7v0.7h-0.7zM314.2 162.5h0.7v0.7h-0.7zM309.5 163.4h0.7v0.7h-0.7zM319.0 165.0h0.7v0.7h-0.7zM314.1 179.3h0.7v0.7h-0.7zM321.5 161.1h0.7v0.7h-0.7zM318.0 170.6h0.7v0.7h-0.7zM313.7 159.2h0.7v0.7h-0.7zM314.9 177.4h0.7v0.7h-0.7zM316.4 179.8h0.7v0.7h-0.7zM310.3 165.6h0.7v0.7h-0.7zM318.1 163.8h0.7v0.7h-0.7zM329.2 165.9h0.7v0.7h-0.7zM303.1 188.1h0.7v0.7h-0.7zM313.8 170.9h0.7v0.7h-0.7zM311.7 175.1h0.7v0.7h-0.7zM306.5 188.2h0.7v0.7h-0.7zM321.4 173.1h0.7v0.7h-0.7zM310.5 180.5h0.7v0.7h-0.7zM320.8 176.5h0.7v0.7h-0.7zM313.4 179.6h0.7v0.7h-0.7zM307.8 186.0h0.7v0.7h-0.7zM323.1 178.0h0.7v0.7h-0.7zM320.0 177.5h0.7v0.7h-0.7zM307.3 190.7h0.7v0.7h-0.7zM321.6 164.8h0.7v0.7h-0.7z"/>
<ellipse cx="309.40000000000003" cy="190.2" rx="6.4" ry="4.6" transform="rotate(-35 309.40000000000003 190.2)" fill="#000" opacity="0.85" filter="url(#blur1)"/>
<path fill="#111" fill-opacity="0.4" d="M314.0 188.0h0.7v0.7h-0.7zM308.1 185.1h0.7v0.7h-0.7zM309.8 191.4h0.7v0.7h-0.7zM307.7 189.8h0.7v0.7h-0.7zM302.9 197.5h0.7v0.7h-0.7zM310.9 188.4h0.7v0.7h-0.7zM312.0 190.5h0.7v0.7h-0.7zM309.8 189.4h0.7v0.7h-0.7zM309.7 191.7h0.7v0.7h-0.7zM313.0 192.0h0.7v0.7h-0.7zM311.2 192.8h0.7v0.7h-0.7zM308.7 184.9h0.7v0.7h-0.7zM303.0 195.6h0.7v0.7h-0.7zM302.3 189.9h0.7v0.7h-0.7zM309.4 193.5h0.7v0.7h-0.7zM300.5 189.3h0.7v0.7h-0.7zM305.9 188.8h0.7v0.7h-0.7zM309.4 193.0h0.7v0.7h-0.7zM312.0 199.2h0.7v0.7h-0.7zM316.1 182.9h0.7v0.7h-0.7zM302.9 191.6h0.7v0.7h-0.7zM308.0 194.5h0.7v0.7h-0.7zM312.1 192.1h0.7v0.7h-0.7zM309.4 191.8h0.7v0.7h-0.7zM311.1 188.8h0.7v0.7h-0.7zM311.9 184.3h0.7v0.7h-0.7zM313.5 190.9h0.7v0.7h-0.7zM321.8 185.5h0.7v0.7h-0.7zM302.7 190.3h0.7v0.7h-0.7zM308.5 187.7h0.7v0.7h-0.7zM304.0 190.7h0.7v0.7h-0.7zM303.3 196.4h0.7v0.7h-0.7zM302.8 194.6h0.7v0.7h-0.7zM313.6 190.2h0.7v0.7h-0.7zM315.2 189.5h0.7v0.7h-0.7zM313.1 185.7h0.7v0.7h-0.7zM304.0 190.2h0.7v0.7h-0.7zM309.9 193.4h0.7v0.7h-0.7zM304.1 189.8h0.7v0.7h-0.7zM305.9 194.2h0.7v0.7h-0.7zM306.8 195.0h0.7v0.7h-0.7zM307.7 188.0h0.7v0.7h-0.7zM306.2 185.2h0.7v0.7h-0.7zM297.9 192.1h0.7v0.7h-0.7zM306.0 198.7h0.7v0.7h-0.7zM311.1 192.6h0.7v0.7h-0.7zM309.8 189.2h0.7v0.7h-0.7zM303.0 187.9h0.7v0.7h-0.7zM315.4 186.2h0.7v0.7h-0.7zM307.3 193.6h0.7v0.7h-0.7zM308.3 189.6h0.7v0.7h-0.7zM317.9 188.4h0.7v0.7h-0.7zM307.7 189.3h0.7v0.7h-0.7zM306.3 192.6h0.7v0.7h-0.7zM311.7 187.3h0.7v0.7h-0.7zM308.3 184.9h0.7v0.7h-0.7zM308.1 193.1h0.7v0.7h-0.7zM305.2 191.3h0.7v0.7h-0.7zM306.3 189.6h0.7v0.7h-0.7zM310.6 186.3h0.7v0.7h-0.7zM314.2 193.0h0.7v0.7h-0.7zM314.4 185.2h0.7v0.7h-0.7zM301.2 191.1h0.7v0.7h-0.7zM309.9 189.8h0.7v0.7h-0.7zM308.6 190.5h0.7v0.7h-0.7zM307.8 193.0h0.7v0.7h-0.7zM303.3 193.7h0.7v0.7h-0.7zM311.5 187.4h0.7v0.7h-0.7zM325.0 185.5h0.7v0.7h-0.7zM310.5 185.5h0.7v0.7h-0.7zM310.4 190.6h0.7v0.7h-0.7zM314.1 186.8h0.7v0.7h-0.7zM314.1 183.8h0.7v0.7h-0.7zM309.5 183.9h0.7v0.7h-0.7zM309.3 192.8h0.7v0.7h-0.7zM302.8 195.0h0.7v0.7h-0.7zM311.3 183.9h0.7v0.7h-0.7zM305.2 189.8h0.7v0.7h-0.7zM311.5 194.3h0.7v0.7h-0.7zM306.5 187.8h0.7v0.7h-0.7zM307.7 181.2h0.7v0.7h-0.7zM311.3 188.9h0.7v0.7h-0.7zM308.1 195.4h0.7v0.7h-0.7zM308.1 188.0h0.7v0.7h-0.7zM313.6 187.0h0.7v0.7h-0.7zM309.5 189.0h0.7v0.7h-0.7zM309.2 191.0h0.7v0.7h-0.7zM310.7 185.6h0.7v0.7h-0.7zM314.9 186.8h0.7v0.7h-0.7zM307.6 193.8h0.7v0.7h-0.7zM307.4 192.6h0.7v0.7h-0.7zM314.1 191.6h0.7v0.7h-0.7zM307.6 194.4h0.7v0.7h-0.7zM308.5 187.8h0.7v0.7h-0.7zM305.9 192.6h0.7v0.7h-0.7zM306.6 195.8h0.7v0.7h-0.7zM312.9 191.0h0.7v0.7h-0.7zM314.2 191.8h0.7v0.7h-0.7zM306.2 200.0h0.7v0.7h-0.7zM303.3 193.0h0.7v0.7h-0.7zM301.7 192.0h0.7v0.7h-0.7zM307.6 186.1h0.7v0.7h-0.7zM311.7 189.8h0.7v0.7h-0.7zM309.4 186.6h0.7v0.7h-0.7zM315.3 187.3h0.7v0.7h-0.7zM312.5 183.9h0.7v0.7h-0.7zM315.4 186.9h0.7v0.7h-0.7zM313.5 187.3h0.7v0.7h-0.7zM309.2 192.0h0.7v0.7h-0.7zM309.3 197.6h0.7v0.7h-0.7zM308.7 189.6h0.7v0.7h-0.7zM314.0 189.2h0.7v0.7h-0.7zM305.6 190.7h0.7v0.7h-0.7zM312.6 189.4h0.7v0.7h-0.7zM314.2 184.5h0.7v0.7h-0.7zM310.8 187.2h0.7v0.7h-0.7zM308.0 188.7h0.7v0.7h-0.7zM306.0 199.7h0.7v0.7h-0.7zM310.2 192.7h0.7v0.7h-0.7zM311.1 196.5h0.7v0.7h-0.7zM307.2 186.7h0.7v0.7h-0.7zM312.2 186.1h0.7v0.7h-0.7zM315.7 184.9h0.7v0.7h-0.7zM308.5 193.0h0.7v0.7h-0.7zM305.0 190.9h0.7v0.7h-0.7zM310.9 184.7h0.7v0.7h-0.7zM309.1 185.6h0.7v0.7h-0.7zM308.8 196.1h0.7v0.7h-0.7zM315.3 187.5h0.7v0.7h-0.7zM308.7 188.0h0.7v0.7h-0.7zM312.8 191.5h0.7v0.7h-0.7zM303.8 189.1h0.7v0.7h-0.7zM304.2 192.8h0.7v0.7h-0.7zM310.5 190.4h0.7v0.7h-0.7zM312.1 191.4h0.7v0.7h-0.7zM309.5 192.1h0.7v0.7h-0.7zM307.4 193.6h0.7v0.7h-0.7zM313.8 181.3h0.7v0.7h-0.7zM316.3 187.5h0.7v0.7h-0.7zM312.5 189.3h0.7v0.7h-0.7zM315.9 187.8h0.7v0.7h-0.7zM311.2 187.8h0.7v0.7h-0.7zM309.5 191.7h0.7v0.7h-0.7zM305.4 191.1h0.7v0.7h-0.7zM307.1 191.4h0.7v0.7h-0.7zM313.5 189.3h0.7v0.7h-0.7zM314.9 186.0h0.7v0.7h-0.7zM308.0 190.1h0.7v0.7h-0.7zM305.7 192.9h0.7v0.7h-0.7zM306.5 188.7h0.7v0.7h-0.7zM310.5 187.2h0.7v0.7h-0.7zM309.3 189.9h0.7v0.7h-0.7zM313.9 193.5h0.7v0.7h-0.7zM311.6 187.1h0.7v0.7h-0.7zM312.8 197.4h0.7v0.7h-0.7zM307.9 189.9h0.7v0.7h-0.7zM314.8 187.9h0.7v0.7h-0.7zM307.9 194.7h0.7v0.7h-0.7zM305.6 194.9h0.7v0.7h-0.7zM305.9 193.2h0.7v0.7h-0.7zM309.0 187.4h0.7v0.7h-0.7zM312.8 183.9h0.7v0.7h-0.7zM311.7 188.7h0.7v0.7h-0.7zM313.7 184.4h0.7v0.7h-0.7zM313.2 195.8h0.7v0.7h-0.7zM306.8 191.1h0.7v0.7h-0.7zM313.3 201.4h0.7v0.7h-0.7zM310.4 187.4h0.7v0.7h-0.7zM310.3 189.3h0.7v0.7h-0.7zM307.4 186.3h0.7v0.7h-0.7zM315.7 182.4h0.7v0.7h-0.7zM308.5 183.9h0.7v0.7h-0.7zM299.9 195.5h0.7v0.7h-0.7zM303.3 194.8h0.7v0.7h-0.7zM309.4 186.6h0.7v0.7h-0.7zM312.2 184.2h0.7v0.7h-0.7zM312.4 193.0h0.7v0.7h-0.7zM303.8 192.7h0.7v0.7h-0.7zM315.8 188.9h0.7v0.7h-0.7zM303.9 195.6h0.7v0.7h-0.7zM309.4 190.9h0.7v0.7h-0.7zM303.5 193.4h0.7v0.7h-0.7zM310.3 185.6h0.7v0.7h-0.7zM311.2 188.1h0.7v0.7h-0.7zM312.4 191.6h0.7v0.7h-0.7zM305.5 186.7h0.7v0.7h-0.7zM314.6 190.2h0.7v0.7h-0.7zM306.4 194.8h0.7v0.7h-0.7zM311.4 190.7h0.7v0.7h-0.7zM306.9 188.7h0.7v0.7h-0.7zM314.3 187.8h0.7v0.7h-0.7zM307.8 192.6h0.7v0.7h-0.7zM304.4 191.3h0.7v0.7h-0.7zM309.0 199.5h0.7v0.7h-0.7zM302.2 192.5h0.7v0.7h-0.7zM306.2 185.3h0.7v0.7h-0.7zM318.0 192.5h0.7v0.7h-0.7zM307.3 189.7h0.7v0.7h-0.7zM308.2 190.0h0.7v0.7h-0.7zM307.7 191.5h0.7v0.7h-0.7zM313.8 189.8h0.7v0.7h-0.7zM313.2 183.9h0.7v0.7h-0.7zM316.1 185.4h0.7v0.7h-0.7zM305.2 188.5h0.7v0.7h-0.7zM311.5 189.0h0.7v0.7h-0.7zM304.2 191.5h0.7v0.7h-0.7zM317.9 187.7h0.7v0.7h-0.7zM307.8 187.9h0.7v0.7h-0.7zM310.7 185.9h0.7v0.7h-0.7zM308.6 186.1h0.7v0.7h-0.7zM312.6 185.9h0.7v0.7h-0.7zM315.4 191.2h0.7v0.7h-0.7zM310.1 194.5h0.7v0.7h-0.7zM315.6 185.7h0.7v0.7h-0.7zM316.7 190.4h0.7v0.7h-0.7zM314.0 187.7h0.7v0.7h-0.7zM309.3 194.1h0.7v0.7h-0.7zM308.1 190.4h0.7v0.7h-0.7zM312.9 184.9h0.7v0.7h-0.7zM303.2 196.2h0.7v0.7h-0.7zM313.5 195.2h0.7v0.7h-0.7zM312.4 186.0h0.7v0.7h-0.7zM312.9 191.4h0.7v0.7h-0.7zM313.6 191.4h0.7v0.7h-0.7zM312.6 192.3h0.7v0.7h-0.7zM306.3 193.0h0.7v0.7h-0.7zM304.9 189.7h0.7v0.7h-0.7zM312.8 186.4h0.7v0.7h-0.7zM303.4 189.9h0.7v0.7h-0.7zM312.1 192.9h0.7v0.7h-0.7zM311.5 193.1h0.7v0.7h-0.7zM300.3 193.1h0.7v0.7h-0.7zM312.9 188.2h0.7v0.7h-0.7zM311.9 186.6h0.7v0.7h-0.7zM309.4 194.9h0.7v0.7h-0.7zM306.1 199.4h0.7v0.7h-0.7zM310.3 189.4h0.7v0.7h-0.7zM318.2 186.3h0.7v0.7h-0.7zM313.4 192.6h0.7v0.7h-0.7zM307.1 190.3h0.7v0.7h-0.7zM309.2 189.8h0.7v0.7h-0.7zM306.6 194.6h0.7v0.7h-0.7zM310.8 186.3h0.7v0.7h-0.7zM308.3 194.4h0.7v0.7h-0.7zM305.3 190.8h0.7v0.7h-0.7zM316.0 191.6h0.7v0.7h-0.7zM310.1 192.1h0.7v0.7h-0.7zM311.6 198.2h0.7v0.7h-0.7zM314.6 190.6h0.7v0.7h-0.7zM306.7 190.1h0.7v0.7h-0.7zM310.0 187.9h0.7v0.7h-0.7zM310.1 190.5h0.7v0.7h-0.7zM308.7 189.5h0.7v0.7h-0.7zM304.8 188.5h0.7v0.7h-0.7zM318.2 192.5h0.7v0.7h-0.7zM311.8 191.7h0.7v0.7h-0.7zM310.4 187.2h0.7v0.7h-0.7zM310.6 184.5h0.7v0.7h-0.7zM309.6 186.7h0.7v0.7h-0.7zM308.7 194.3h0.7v0.7h-0.7zM308.8 189.9h0.7v0.7h-0.7zM312.2 190.7h0.7v0.7h-0.7zM316.1 189.6h0.7v0.7h-0.7zM314.4 187.7h0.7v0.7h-0.7zM307.2 194.2h0.7v0.7h-0.7zM314.2 184.5h0.7v0.7h-0.7zM303.8 190.4h0.7v0.7h-0.7zM314.4 185.9h0.7v0.7h-0.7zM311.5 196.5h0.7v0.7h-0.7zM311.6 189.9h0.7v0.7h-0.7zM310.8 192.9h0.7v0.7h-0.7zM302.4 189.7h0.7v0.7h-0.7zM309.2 197.4h0.7v0.7h-0.7zM317.9 186.9h0.7v0.7h-0.7zM311.5 185.3h0.7v0.7h-0.7zM307.1 191.6h0.7v0.7h-0.7zM307.2 192.7h0.7v0.7h-0.7zM308.4 191.6h0.7v0.7h-0.7zM313.7 187.8h0.7v0.7h-0.7zM311.2 190.5h0.7v0.7h-0.7zM307.8 191.2h0.7v0.7h-0.7zM307.7 188.2h0.7v0.7h-0.7zM307.0 188.6h0.7v0.7h-0.7zM302.8 197.2h0.7v0.7h-0.7zM300.5 195.5h0.7v0.7h-0.7zM306.3 186.2h0.7v0.7h-0.7zM308.8 186.0h0.7v0.7h-0.7zM306.9 195.9h0.7v0.7h-0.7zM312.5 189.7h0.7v0.7h-0.7zM312.1 182.9h0.7v0.7h-0.7zM316.7 188.4h0.7v0.7h-0.7zM306.6 191.9h0.7v0.7h-0.7zM314.2 186.2h0.7v0.7h-0.7zM309.5 197.9h0.7v0.7h-0.7zM315.4 190.2h0.7v0.7h-0.7zM308.4 184.9h0.7v0.7h-0.7zM305.9 192.0h0.7v0.7h-0.7zM310.7 195.5h0.7v0.7h-0.7zM308.4 190.6h0.7v0.7h-0.7zM307.1 185.8h0.7v0.7h-0.7zM310.6 185.9h0.7v0.7h-0.7zM307.0 186.7h0.7v0.7h-0.7zM310.3 187.2h0.7v0.7h-0.7zM311.0 196.2h0.7v0.7h-0.7zM309.3 190.9h0.7v0.7h-0.7zM306.3 185.8h0.7v0.7h-0.7zM317.4 179.8h0.7v0.7h-0.7zM318.4 190.8h0.7v0.7h-0.7zM308.9 192.2h0.7v0.7h-0.7zM309.0 191.8h0.7v0.7h-0.7zM311.8 189.4h0.7v0.7h-0.7zM308.0 190.3h0.7v0.7h-0.7zM309.4 190.0h0.7v0.7h-0.7zM309.9 192.1h0.7v0.7h-0.7zM309.5 190.2h0.7v0.7h-0.7zM307.8 190.7h0.7v0.7h-0.7zM309.6 190.3h0.7v0.7h-0.7zM310.6 188.0h0.7v0.7h-0.7zM303.3 195.6h0.7v0.7h-0.7zM311.8 191.9h0.7v0.7h-0.7zM312.4 184.9h0.7v0.7h-0.7zM312.8 192.2h0.7v0.7h-0.7zM312.1 185.5h0.7v0.7h-0.7zM309.0 192.7h0.7v0.7h-0.7zM312.9 187.0h0.7v0.7h-0.7zM310.5 192.4h0.7v0.7h-0.7zM302.6 188.7h0.7v0.7h-0.7zM306.3 187.3h0.7v0.7h-0.7zM307.6 192.9h0.7v0.7h-0.7zM307.6 187.9h0.7v0.7h-0.7zM307.3 196.4h0.7v0.7h-0.7zM316.5 184.3h0.7v0.7h-0.7zM314.6 192.4h0.7v0.7h-0.7zM307.9 190.4h0.7v0.7h-0.7zM311.3 185.4h0.7v0.7h-0.7zM307.8 190.9h0.7v0.7h-0.7zM304.9 190.5h0.7v0.7h-0.7zM313.6 181.9h0.7v0.7h-0.7zM315.6 193.6h0.7v0.7h-0.7zM308.8 190.8h0.7v0.7h-0.7zM309.5 183.8h0.7v0.7h-0.7zM310.1 188.0h0.7v0.7h-0.7zM308.7 182.5h0.7v0.7h-0.7zM313.2 187.9h0.7v0.7h-0.7zM310.5 188.4h0.7v0.7h-0.7zM313.6 185.6h0.7v0.7h-0.7zM305.6 186.6h0.7v0.7h-0.7zM309.2 192.8h0.7v0.7h-0.7zM315.5 190.1h0.7v0.7h-0.7zM310.3 190.0h0.7v0.7h-0.7zM306.6 187.9h0.7v0.7h-0.7zM311.7 189.3h0.7v0.7h-0.7zM306.7 190.7h0.7v0.7h-0.7zM312.8 180.8h0.7v0.7h-0.7zM311.4 189.1h0.7v0.7h-0.7zM308.8 186.1h0.7v0.7h-0.7zM313.0 191.1h0.7v0.7h-0.7zM308.4 185.1h0.7v0.7h-0.7zM307.7 191.2h0.7v0.7h-0.7zM306.7 193.3h0.7v0.7h-0.7zM303.3 199.3h0.7v0.7h-0.7zM305.0 188.5h0.7v0.7h-0.7zM313.2 188.9h0.7v0.7h-0.7zM309.7 188.1h0.7v0.7h-0.7zM312.8 189.3h0.7v0.7h-0.7zM312.9 192.4h0.7v0.7h-0.7zM305.9 197.3h0.7v0.7h-0.7zM310.2 186.6h0.7v0.7h-0.7zM316.7 184.0h0.7v0.7h-0.7zM319.3 183.3h0.7v0.7h-0.7zM317.2 182.3h0.7v0.7h-0.7zM297.1 197.2h0.7v0.7h-0.7zM308.6 195.6h0.7v0.7h-0.7zM322.9 186.5h0.7v0.7h-0.7zM308.8 189.4h0.7v0.7h-0.7zM315.2 187.0h0.7v0.7h-0.7zM305.4 194.0h0.7v0.7h-0.7zM318.5 185.1h0.7v0.7h-0.7zM311.6 191.3h0.7v0.7h-0.7zM309.9 190.8h0.7v0.7h-0.7zM312.9 192.5h0.7v0.7h-0.7zM305.1 186.9h0.7v0.7h-0.7zM312.6 184.3h0.7v0.7h-0.7zM310.2 189.6h0.7v0.7h-0.7zM313.9 187.9h0.7v0.7h-0.7zM309.8 185.4h0.7v0.7h-0.7zM310.1 184.8h0.7v0.7h-0.7zM312.3 192.7h0.7v0.7h-0.7zM317.6 189.3h0.7v0.7h-0.7zM309.2 187.3h0.7v0.7h-0.7zM307.7 193.6h0.7v0.7h-0.7zM313.2 191.8h0.7v0.7h-0.7zM308.3 187.5h0.7v0.7h-0.7zM301.8 195.9h0.7v0.7h-0.7zM308.7 188.6h0.7v0.7h-0.7zM310.8 197.1h0.7v0.7h-0.7zM307.8 189.3h0.7v0.7h-0.7zM305.4 192.3h0.7v0.7h-0.7zM303.0 188.2h0.7v0.7h-0.7zM310.4 187.0h0.7v0.7h-0.7zM309.5 191.8h0.7v0.7h-0.7zM308.6 195.5h0.7v0.7h-0.7zM306.7 187.6h0.7v0.7h-0.7zM309.4 188.6h0.7v0.7h-0.7zM310.7 191.6h0.7v0.7h-0.7zM307.9 185.8h0.7v0.7h-0.7zM303.5 197.3h0.7v0.7h-0.7zM307.6 198.6h0.7v0.7h-0.7zM311.5 188.2h0.7v0.7h-0.7zM306.8 186.7h0.7v0.7h-0.7zM309.3 192.9h0.7v0.7h-0.7zM312.4 191.5h0.7v0.7h-0.7zM309.9 186.9h0.7v0.7h-0.7zM310.3 186.6h0.7v0.7h-0.7zM307.8 187.9h0.7v0.7h-0.7zM304.7 188.7h0.7v0.7h-0.7zM306.0 191.6h0.7v0.7h-0.7zM311.6 190.5h0.7v0.7h-0.7zM305.0 189.7h0.7v0.7h-0.7zM315.4 190.1h0.7v0.7h-0.7zM311.4 190.4h0.7v0.7h-0.7zM312.6 186.6h0.7v0.7h-0.7zM304.3 194.7h0.7v0.7h-0.7zM305.7 191.8h0.7v0.7h-0.7zM315.3 186.8h0.7v0.7h-0.7zM304.9 191.8h0.7v0.7h-0.7zM302.6 189.5h0.7v0.7h-0.7zM307.1 192.6h0.7v0.7h-0.7zM316.5 192.1h0.7v0.7h-0.7zM317.0 187.1h0.7v0.7h-0.7zM304.3 189.2h0.7v0.7h-0.7zM308.5 189.5h0.7v0.7h-0.7zM307.8 193.9h0.7v0.7h-0.7zM311.2 193.6h0.7v0.7h-0.7zM315.9 185.2h0.7v0.7h-0.7zM306.8 194.3h0.7v0.7h-0.7zM313.8 186.0h0.7v0.7h-0.7zM308.0 195.4h0.7v0.7h-0.7zM313.4 194.1h0.7v0.7h-0.7zM306.4 193.5h0.7v0.7h-0.7zM310.2 188.0h0.7v0.7h-0.7zM307.2 191.2h0.7v0.7h-0.7zM306.8 193.5h0.7v0.7h-0.7zM316.4 186.9h0.7v0.7h-0.7zM310.0 191.8h0.7v0.7h-0.7zM311.7 192.7h0.7v0.7h-0.7zM304.4 185.6h0.7v0.7h-0.7zM307.0 191.2h0.7v0.7h-0.7zM314.3 190.7h0.7v0.7h-0.7zM306.9 184.9h0.7v0.7h-0.7zM310.5 191.0h0.7v0.7h-0.7zM313.3 191.3h0.7v0.7h-0.7zM310.5 186.7h0.7v0.7h-0.7zM309.6 192.0h0.7v0.7h-0.7zM306.0 191.6h0.7v0.7h-0.7zM306.7 188.0h0.7v0.7h-0.7zM307.9 189.2h0.7v0.7h-0.7zM304.7 190.2h0.7v0.7h-0.7zM307.9 188.3h0.7v0.7h-0.7zM311.0 191.5h0.7v0.7h-0.7zM303.7 186.8h0.7v0.7h-0.7zM304.4 190.8h0.7v0.7h-0.7zM299.6 193.5h0.7v0.7h-0.7zM308.9 191.1h0.7v0.7h-0.7zM307.3 193.3h0.7v0.7h-0.7zM310.6 192.9h0.7v0.7h-0.7zM305.7 181.6h0.7v0.7h-0.7zM311.8 189.4h0.7v0.7h-0.7zM310.2 195.7h0.7v0.7h-0.7zM308.4 193.5h0.7v0.7h-0.7zM306.9 190.3h0.7v0.7h-0.7zM308.4 190.5h0.7v0.7h-0.7zM308.0 197.5h0.7v0.7h-0.7zM303.5 192.0h0.7v0.7h-0.7zM308.9 192.3h0.7v0.7h-0.7zM311.6 185.8h0.7v0.7h-0.7zM306.7 195.2h0.7v0.7h-0.7zM310.7 184.2h0.7v0.7h-0.7zM309.9 197.5h0.7v0.7h-0.7zM306.3 193.1h0.7v0.7h-0.7zM317.4 192.7h0.7v0.7h-0.7zM304.4 190.6h0.7v0.7h-0.7zM310.9 189.0h0.7v0.7h-0.7zM309.0 191.6h0.7v0.7h-0.7zM308.5 190.6h0.7v0.7h-0.7zM313.8 186.7h0.7v0.7h-0.7zM313.0 182.7h0.7v0.7h-0.7zM312.5 187.6h0.7v0.7h-0.7zM305.4 187.8h0.7v0.7h-0.7zM312.6 187.9h0.7v0.7h-0.7zM305.2 186.6h0.7v0.7h-0.7zM307.9 190.4h0.7v0.7h-0.7zM309.8 189.1h0.7v0.7h-0.7zM306.3 192.7h0.7v0.7h-0.7zM301.3 196.0h0.7v0.7h-0.7zM317.9 185.1h0.7v0.7h-0.7zM309.9 189.3h0.7v0.7h-0.7zM304.9 189.6h0.7v0.7h-0.7zM307.1 187.9h0.7v0.7h-0.7zM309.7 189.0h0.7v0.7h-0.7zM313.0 182.3h0.7v0.7h-0.7zM304.2 192.8h0.7v0.7h-0.7zM316.7 189.9h0.7v0.7h-0.7zM310.3 188.4h0.7v0.7h-0.7zM307.0 191.1h0.7v0.7h-0.7zM316.2 186.8h0.7v0.7h-0.7zM312.7 185.7h0.7v0.7h-0.7zM310.3 187.5h0.7v0.7h-0.7zM303.8 192.9h0.7v0.7h-0.7zM311.9 186.8h0.7v0.7h-0.7zM314.1 188.8h0.7v0.7h-0.7zM309.8 192.3h0.7v0.7h-0.7zM311.5 196.2h0.7v0.7h-0.7zM306.0 192.8h0.7v0.7h-0.7zM307.3 195.3h0.7v0.7h-0.7zM303.3 192.4h0.7v0.7h-0.7zM310.7 183.2h0.7v0.7h-0.7zM306.2 194.5h0.7v0.7h-0.7zM312.5 183.9h0.7v0.7h-0.7zM312.6 192.3h0.7v0.7h-0.7zM304.9 194.9h0.7v0.7h-0.7zM309.1 195.2h0.7v0.7h-0.7zM303.8 190.7h0.7v0.7h-0.7zM307.7 187.9h0.7v0.7h-0.7zM309.3 191.7h0.7v0.7h-0.7zM304.5 186.2h0.7v0.7h-0.7zM310.3 193.1h0.7v0.7h-0.7zM314.5 194.0h0.7v0.7h-0.7zM305.1 184.1h0.7v0.7h-0.7zM306.1 191.6h0.7v0.7h-0.7zM305.7 191.4h0.7v0.7h-0.7zM304.6 196.2h0.7v0.7h-0.7zM306.7 190.7h0.7v0.7h-0.7zM305.7 197.1h0.7v0.7h-0.7zM302.9 188.2h0.7v0.7h-0.7zM309.7 189.1h0.7v0.7h-0.7zM306.9 196.1h0.7v0.7h-0.7zM306.1 194.1h0.7v0.7h-0.7zM308.9 187.7h0.7v0.7h-0.7zM312.0 190.1h0.7v0.7h-0.7zM305.1 194.6h0.7v0.7h-0.7zM311.5 189.9h0.7v0.7h-0.7zM306.7 185.9h0.7v0.7h-0.7zM304.4 188.7h0.7v0.7h-0.7zM302.1 197.2h0.7v0.7h-0.7zM314.3 193.1h0.7v0.7h-0.7zM307.8 185.0h0.7v0.7h-0.7zM312.7 188.5h0.7v0.7h-0.7zM306.7 194.4h0.7v0.7h-0.7zM310.7 193.4h0.7v0.7h-0.7zM305.5 191.7h0.7v0.7h-0.7zM310.7 187.5h0.7v0.7h-0.7zM307.9 185.5h0.7v0.7h-0.7zM302.7 197.7h0.7v0.7h-0.7zM310.6 188.7h0.7v0.7h-0.7zM308.1 195.0h0.7v0.7h-0.7zM312.9 184.0h0.7v0.7h-0.7zM306.3 186.4h0.7v0.7h-0.7zM300.3 193.0h0.7v0.7h-0.7zM314.8 190.6h0.7v0.7h-0.7zM304.5 191.0h0.7v0.7h-0.7zM311.1 189.8h0.7v0.7h-0.7zM307.7 186.3h0.7v0.7h-0.7zM304.2 191.5h0.7v0.7h-0.7zM314.7 188.5h0.7v0.7h-0.7zM315.1 187.3h0.7v0.7h-0.7zM309.8 189.9h0.7v0.7h-0.7zM313.6 186.6h0.7v0.7h-0.7zM302.1 190.2h0.7v0.7h-0.7zM308.9 195.4h0.7v0.7h-0.7zM311.3 181.2h0.7v0.7h-0.7zM306.0 190.5h0.7v0.7h-0.7zM309.6 190.8h0.7v0.7h-0.7zM309.5 190.7h0.7v0.7h-0.7zM315.6 185.3h0.7v0.7h-0.7zM315.5 187.7h0.7v0.7h-0.7zM309.7 192.5h0.7v0.7h-0.7zM313.3 182.7h0.7v0.7h-0.7zM314.1 192.1h0.7v0.7h-0.7zM308.4 191.9h0.7v0.7h-0.7zM310.3 193.3h0.7v0.7h-0.7zM316.1 192.2h0.7v0.7h-0.7zM311.8 185.3h0.7v0.7h-0.7zM312.1 194.2h0.7v0.7h-0.7zM303.0 190.0h0.7v0.7h-0.7zM316.2 185.3h0.7v0.7h-0.7zM312.0 183.6h0.7v0.7h-0.7zM310.5 187.8h0.7v0.7h-0.7zM305.7 189.5h0.7v0.7h-0.7zM312.5 193.2h0.7v0.7h-0.7zM312.2 184.3h0.7v0.7h-0.7zM311.9 190.9h0.7v0.7h-0.7zM311.1 188.8h0.7v0.7h-0.7zM306.5 192.2h0.7v0.7h-0.7zM313.1 194.3h0.7v0.7h-0.7zM315.5 192.1h0.7v0.7h-0.7zM305.2 195.2h0.7v0.7h-0.7zM308.5 196.2h0.7v0.7h-0.7zM302.2 193.6h0.7v0.7h-0.7zM302.1 188.9h0.7v0.7h-0.7zM306.9 192.2h0.7v0.7h-0.7zM314.8 189.5h0.7v0.7h-0.7zM306.5 187.2h0.7v0.7h-0.7zM316.0 187.9h0.7v0.7h-0.7zM313.5 186.9h0.7v0.7h-0.7zM308.4 191.3h0.7v0.7h-0.7zM313.2 188.1h0.7v0.7h-0.7zM312.5 189.3h0.7v0.7h-0.7zM315.9 194.5h0.7v0.7h-0.7zM313.9 182.1h0.7v0.7h-0.7zM309.6 191.4h0.7v0.7h-0.7zM309.6 195.4h0.7v0.7h-0.7zM309.7 193.4h0.7v0.7h-0.7zM306.3 188.4h0.7v0.7h-0.7zM312.0 191.2h0.7v0.7h-0.7zM309.5 194.4h0.7v0.7h-0.7zM311.9 190.3h0.7v0.7h-0.7zM310.9 192.0h0.7v0.7h-0.7zM307.9 192.2h0.7v0.7h-0.7zM309.3 194.4h0.7v0.7h-0.7zM301.2 192.4h0.7v0.7h-0.7zM312.6 187.7h0.7v0.7h-0.7zM307.9 195.1h0.7v0.7h-0.7zM309.6 191.7h0.7v0.7h-0.7zM309.8 189.7h0.7v0.7h-0.7zM315.1 193.4h0.7v0.7h-0.7zM307.6 185.6h0.7v0.7h-0.7zM304.0 192.6h0.7v0.7h-0.7zM308.1 186.7h0.7v0.7h-0.7zM317.2 186.6h0.7v0.7h-0.7zM308.2 197.7h0.7v0.7h-0.7zM305.3 191.4h0.7v0.7h-0.7zM298.8 189.0h0.7v0.7h-0.7zM309.0 186.6h0.7v0.7h-0.7zM305.5 191.1h0.7v0.7h-0.7zM310.7 186.8h0.7v0.7h-0.7zM311.1 186.6h0.7v0.7h-0.7zM316.9 186.4h0.7v0.7h-0.7zM311.4 191.9h0.7v0.7h-0.7zM305.1 193.3h0.7v0.7h-0.7zM304.1 191.1h0.7v0.7h-0.7zM310.5 186.2h0.7v0.7h-0.7zM314.4 192.2h0.7v0.7h-0.7zM313.4 189.0h0.7v0.7h-0.7zM319.9 186.9h0.7v0.7h-0.7zM306.6 189.0h0.7v0.7h-0.7zM307.2 191.3h0.7v0.7h-0.7zM311.4 190.2h0.7v0.7h-0.7zM313.1 190.2h0.7v0.7h-0.7zM303.2 193.8h0.7v0.7h-0.7zM300.7 196.9h0.7v0.7h-0.7zM310.0 192.3h0.7v0.7h-0.7zM304.2 189.9h0.7v0.7h-0.7zM307.9 192.6h0.7v0.7h-0.7zM311.2 187.7h0.7v0.7h-0.7zM307.5 196.4h0.7v0.7h-0.7zM314.6 187.8h0.7v0.7h-0.7zM307.2 188.2h0.7v0.7h-0.7zM314.8 195.2h0.7v0.7h-0.7zM308.8 186.3h0.7v0.7h-0.7zM314.6 187.6h0.7v0.7h-0.7zM306.9 192.5h0.7v0.7h-0.7zM312.7 194.4h0.7v0.7h-0.7zM311.5 188.7h0.7v0.7h-0.7zM314.5 193.1h0.7v0.7h-0.7zM313.9 191.5h0.7v0.7h-0.7zM311.1 189.3h0.7v0.7h-0.7zM315.4 191.7h0.7v0.7h-0.7zM310.6 193.2h0.7v0.7h-0.7zM312.1 186.0h0.7v0.7h-0.7zM321.0 188.9h0.7v0.7h-0.7zM309.0 190.1h0.7v0.7h-0.7zM312.5 188.4h0.7v0.7h-0.7zM302.2 197.6h0.7v0.7h-0.7zM312.8 180.7h0.7v0.7h-0.7zM301.7 185.4h0.7v0.7h-0.7zM313.1 192.7h0.7v0.7h-0.7zM304.5 191.4h0.7v0.7h-0.7zM313.7 182.1h0.7v0.7h-0.7zM314.3 191.6h0.7v0.7h-0.7zM307.9 193.0h0.7v0.7h-0.7zM306.5 192.3h0.7v0.7h-0.7zM315.8 185.2h0.7v0.7h-0.7zM312.0 187.7h0.7v0.7h-0.7zM305.6 192.2h0.7v0.7h-0.7zM309.2 187.5h0.7v0.7h-0.7zM309.1 185.5h0.7v0.7h-0.7zM301.5 196.9h0.7v0.7h-0.7zM309.9 180.2h0.7v0.7h-0.7zM307.6 183.8h0.7v0.7h-0.7zM312.5 200.0h0.7v0.7h-0.7zM305.2 197.1h0.7v0.7h-0.7zM308.1 195.3h0.7v0.7h-0.7zM303.9 197.5h0.7v0.7h-0.7zM312.0 189.0h0.7v0.7h-0.7zM319.3 184.8h0.7v0.7h-0.7zM312.4 188.3h0.7v0.7h-0.7zM312.6 195.0h0.7v0.7h-0.7zM303.7 191.6h0.7v0.7h-0.7zM310.6 187.2h0.7v0.7h-0.7z"/>
<rect x="292.60" y="148.40" width="31.80" height="16.00" fill="none" stroke="#888" stroke-width="0.8" />
<rect x="289.60" y="146.10" width="66.60" height="64.90" fill="none" stroke="#111" stroke-width="1.3" />
<text class="p" x="282.60" y="154.10" font-size="5.4" text-anchor="middle" fill="#333">10<tspan font-size="2.97" dy="-2.43">5</tspan></text>
<text class="p" x="282.60" y="169.00" font-size="5.4" text-anchor="middle" fill="#333">10<tspan font-size="2.97" dy="-2.43">4</tspan></text>
<text class="p" x="282.60" y="183.80" font-size="5.4" text-anchor="middle" fill="#333">10<tspan font-size="2.97" dy="-2.43">3</tspan></text>
<text class="p" x="282.60" y="198.70" font-size="5.4" text-anchor="middle" fill="#333">10<tspan font-size="2.97" dy="-2.43">2</tspan></text>
<text x="285.40" y="205.80" font-size="5.4" text-anchor="end" font-weight="normal" fill="#333" class="t">0</text>
<text class="p" x="303.20" y="221.10" font-size="5.4" text-anchor="middle" fill="#333">10<tspan font-size="2.97" dy="-2.43">2</tspan></text>
<text class="p" x="319.20" y="221.10" font-size="5.4" text-anchor="middle" fill="#333">10<tspan font-size="2.97" dy="-2.43">3</tspan></text>
<text class="p" x="334.80" y="221.10" font-size="5.4" text-anchor="middle" fill="#333">10<tspan font-size="2.97" dy="-2.43">4</tspan></text>
<text class="p" x="349.80" y="221.10" font-size="5.4" text-anchor="middle" fill="#333">10<tspan font-size="2.97" dy="-2.43">5</tspan></text>
<text x="296.20" y="221.10" font-size="5.4" text-anchor="middle" font-weight="normal" fill="#333" class="t">0</text>
<text x="322.90" y="141.80" font-size="6.6" text-anchor="middle" font-weight="bold" fill="#111" >Ctrl CAR</text>
<ellipse cx="395.7" cy="191" rx="9" ry="6" transform="rotate(-55 395.7 191)" fill="#000" opacity="0.88" filter="url(#blur1)"/>
<path fill="#111" fill-opacity="0.42" d="M399.9 189.2h0.7v0.7h-0.7zM400.0 187.6h0.7v0.7h-0.7zM396.0 182.7h0.7v0.7h-0.7zM387.7 196.5h0.7v0.7h-0.7zM386.4 198.7h0.7v0.7h-0.7zM393.8 189.7h0.7v0.7h-0.7zM390.7 191.0h0.7v0.7h-0.7zM392.5 191.4h0.7v0.7h-0.7zM394.8 187.8h0.7v0.7h-0.7zM394.8 194.0h0.7v0.7h-0.7zM395.6 193.1h0.7v0.7h-0.7zM396.0 183.0h0.7v0.7h-0.7zM402.3 187.2h0.7v0.7h-0.7zM402.2 189.3h0.7v0.7h-0.7zM390.7 196.4h0.7v0.7h-0.7zM396.5 181.5h0.7v0.7h-0.7zM394.2 187.5h0.7v0.7h-0.7zM401.4 190.1h0.7v0.7h-0.7zM385.6 194.2h0.7v0.7h-0.7zM398.3 186.5h0.7v0.7h-0.7zM389.2 198.0h0.7v0.7h-0.7zM384.5 202.9h0.7v0.7h-0.7zM401.0 187.2h0.7v0.7h-0.7zM402.6 176.4h0.7v0.7h-0.7zM392.1 192.2h0.7v0.7h-0.7zM392.2 190.0h0.7v0.7h-0.7zM394.4 186.9h0.7v0.7h-0.7zM398.3 194.4h0.7v0.7h-0.7zM396.7 184.1h0.7v0.7h-0.7zM390.5 190.0h0.7v0.7h-0.7zM395.4 190.3h0.7v0.7h-0.7zM388.8 201.2h0.7v0.7h-0.7zM387.2 194.8h0.7v0.7h-0.7zM397.2 188.8h0.7v0.7h-0.7zM395.1 185.1h0.7v0.7h-0.7zM399.4 187.9h0.7v0.7h-0.7zM390.3 193.6h0.7v0.7h-0.7zM399.1 184.8h0.7v0.7h-0.7zM397.1 184.6h0.7v0.7h-0.7zM408.8 177.6h0.7v0.7h-0.7zM400.8 194.3h0.7v0.7h-0.7zM399.3 190.6h0.7v0.7h-0.7zM399.9 184.2h0.7v0.7h-0.7zM396.4 189.8h0.7v0.7h-0.7zM405.8 183.2h0.7v0.7h-0.7zM400.3 186.3h0.7v0.7h-0.7zM393.3 198.3h0.7v0.7h-0.7zM402.3 188.0h0.7v0.7h-0.7zM397.7 191.3h0.7v0.7h-0.7zM396.1 186.5h0.7v0.7h-0.7zM403.3 184.9h0.7v0.7h-0.7zM390.1 189.6h0.7v0.7h-0.7zM396.7 201.2h0.7v0.7h-0.7zM406.5 186.0h0.7v0.7h-0.7zM389.3 192.8h0.7v0.7h-0.7zM391.1 191.7h0.7v0.7h-0.7zM398.2 192.3h0.7v0.7h-0.7zM393.2 188.6h0.7v0.7h-0.7zM398.1 181.8h0.7v0.7h-0.7zM398.1 189.0h0.7v0.7h-0.7zM399.4 183.1h0.7v0.7h-0.7zM400.0 191.7h0.7v0.7h-0.7zM388.4 192.4h0.7v0.7h-0.7zM384.5 198.6h0.7v0.7h-0.7zM406.3 184.5h0.7v0.7h-0.7zM394.6 186.4h0.7v0.7h-0.7zM398.1 190.2h0.7v0.7h-0.7zM393.8 184.7h0.7v0.7h-0.7zM393.9 190.9h0.7v0.7h-0.7zM400.5 190.3h0.7v0.7h-0.7zM399.2 190.4h0.7v0.7h-0.7zM399.4 188.4h0.7v0.7h-0.7zM387.3 192.6h0.7v0.7h-0.7zM400.1 187.8h0.7v0.7h-0.7zM394.2 193.9h0.7v0.7h-0.7zM395.7 190.2h0.7v0.7h-0.7zM397.4 192.5h0.7v0.7h-0.7zM398.5 185.3h0.7v0.7h-0.7zM392.8 184.5h0.7v0.7h-0.7zM394.1 186.5h0.7v0.7h-0.7zM393.5 196.7h0.7v0.7h-0.7zM393.2 194.8h0.7v0.7h-0.7zM394.7 191.9h0.7v0.7h-0.7zM391.9 189.6h0.7v0.7h-0.7zM400.1 189.0h0.7v0.7h-0.7zM401.3 188.8h0.7v0.7h-0.7zM383.2 194.0h0.7v0.7h-0.7zM399.7 192.6h0.7v0.7h-0.7zM396.9 186.0h0.7v0.7h-0.7zM389.6 195.7h0.7v0.7h-0.7zM400.1 190.7h0.7v0.7h-0.7zM404.9 178.6h0.7v0.7h-0.7zM396.6 189.2h0.7v0.7h-0.7zM391.9 185.8h0.7v0.7h-0.7zM394.4 194.1h0.7v0.7h-0.7zM393.8 187.4h0.7v0.7h-0.7zM399.7 185.6h0.7v0.7h-0.7zM401.1 181.4h0.7v0.7h-0.7zM390.0 198.5h0.7v0.7h-0.7zM402.4 181.6h0.7v0.7h-0.7zM395.4 192.6h0.7v0.7h-0.7zM388.9 189.9h0.7v0.7h-0.7zM393.1 189.5h0.7v0.7h-0.7zM391.5 186.7h0.7v0.7h-0.7zM389.9 198.2h0.7v0.7h-0.7zM390.0 183.1h0.7v0.7h-0.7zM408.2 183.8h0.7v0.7h-0.7zM395.5 187.8h0.7v0.7h-0.7zM398.4 192.4h0.7v0.7h-0.7zM390.9 189.0h0.7v0.7h-0.7zM387.4 199.9h0.7v0.7h-0.7zM389.2 193.1h0.7v0.7h-0.7zM393.0 183.3h0.7v0.7h-0.7zM397.0 190.9h0.7v0.7h-0.7zM386.6 197.3h0.7v0.7h-0.7zM400.8 183.4h0.7v0.7h-0.7zM400.1 192.8h0.7v0.7h-0.7zM400.8 180.7h0.7v0.7h-0.7zM396.6 190.9h0.7v0.7h-0.7zM392.3 193.0h0.7v0.7h-0.7zM392.3 199.2h0.7v0.7h-0.7zM396.6 183.5h0.7v0.7h-0.7zM402.7 182.1h0.7v0.7h-0.7zM398.7 192.3h0.7v0.7h-0.7zM391.4 205.7h0.7v0.7h-0.7zM392.4 193.9h0.7v0.7h-0.7zM403.4 176.1h0.7v0.7h-0.7zM393.2 194.6h0.7v0.7h-0.7zM395.3 191.7h0.7v0.7h-0.7zM395.2 189.6h0.7v0.7h-0.7zM405.1 184.0h0.7v0.7h-0.7zM390.9 197.2h0.7v0.7h-0.7zM397.2 187.2h0.7v0.7h-0.7zM391.6 184.3h0.7v0.7h-0.7zM385.7 195.4h0.7v0.7h-0.7zM395.9 190.3h0.7v0.7h-0.7zM397.9 204.2h0.7v0.7h-0.7zM393.5 195.0h0.7v0.7h-0.7zM400.4 189.2h0.7v0.7h-0.7zM396.0 195.4h0.7v0.7h-0.7zM398.3 189.0h0.7v0.7h-0.7zM407.4 184.1h0.7v0.7h-0.7zM396.4 186.5h0.7v0.7h-0.7zM394.9 193.9h0.7v0.7h-0.7zM389.9 193.8h0.7v0.7h-0.7zM394.7 184.3h0.7v0.7h-0.7zM402.3 187.6h0.7v0.7h-0.7zM401.1 187.8h0.7v0.7h-0.7zM400.4 188.8h0.7v0.7h-0.7zM400.4 193.1h0.7v0.7h-0.7zM388.7 198.8h0.7v0.7h-0.7zM399.2 189.6h0.7v0.7h-0.7zM390.2 193.7h0.7v0.7h-0.7zM401.3 190.8h0.7v0.7h-0.7zM386.8 192.6h0.7v0.7h-0.7zM404.3 183.5h0.7v0.7h-0.7zM394.9 197.2h0.7v0.7h-0.7zM394.6 191.0h0.7v0.7h-0.7zM392.8 189.6h0.7v0.7h-0.7zM396.8 196.0h0.7v0.7h-0.7zM397.7 199.6h0.7v0.7h-0.7zM398.5 186.7h0.7v0.7h-0.7zM399.0 187.7h0.7v0.7h-0.7zM388.6 187.2h0.7v0.7h-0.7zM391.7 199.8h0.7v0.7h-0.7zM392.4 192.4h0.7v0.7h-0.7zM398.1 183.5h0.7v0.7h-0.7zM397.5 179.0h0.7v0.7h-0.7zM382.8 205.4h0.7v0.7h-0.7zM395.5 182.9h0.7v0.7h-0.7zM387.7 192.3h0.7v0.7h-0.7zM397.8 190.6h0.7v0.7h-0.7zM399.9 178.5h0.7v0.7h-0.7zM391.7 184.0h0.7v0.7h-0.7zM405.1 178.8h0.7v0.7h-0.7zM400.2 184.9h0.7v0.7h-0.7zM400.5 188.4h0.7v0.7h-0.7zM400.2 181.9h0.7v0.7h-0.7zM398.2 191.3h0.7v0.7h-0.7zM394.6 191.6h0.7v0.7h-0.7zM394.4 185.6h0.7v0.7h-0.7zM403.7 182.2h0.7v0.7h-0.7zM393.0 192.8h0.7v0.7h-0.7zM382.0 191.0h0.7v0.7h-0.7zM396.1 186.9h0.7v0.7h-0.7zM397.8 190.8h0.7v0.7h-0.7zM394.0 191.0h0.7v0.7h-0.7zM400.8 184.0h0.7v0.7h-0.7zM388.8 192.8h0.7v0.7h-0.7zM390.2 196.8h0.7v0.7h-0.7zM407.1 186.5h0.7v0.7h-0.7zM408.1 181.7h0.7v0.7h-0.7zM394.0 191.7h0.7v0.7h-0.7zM400.8 190.7h0.7v0.7h-0.7zM390.7 196.2h0.7v0.7h-0.7zM399.5 177.0h0.7v0.7h-0.7zM392.2 185.3h0.7v0.7h-0.7zM390.8 189.6h0.7v0.7h-0.7zM393.1 194.7h0.7v0.7h-0.7zM404.2 183.3h0.7v0.7h-0.7zM395.1 189.3h0.7v0.7h-0.7zM397.2 185.2h0.7v0.7h-0.7zM392.6 195.7h0.7v0.7h-0.7zM396.1 186.7h0.7v0.7h-0.7zM394.1 190.4h0.7v0.7h-0.7zM395.9 186.7h0.7v0.7h-0.7zM397.0 185.8h0.7v0.7h-0.7zM395.4 190.3h0.7v0.7h-0.7zM395.9 191.5h0.7v0.7h-0.7zM397.4 193.7h0.7v0.7h-0.7zM401.4 187.4h0.7v0.7h-0.7zM399.2 190.9h0.7v0.7h-0.7zM401.1 188.5h0.7v0.7h-0.7zM391.8 195.6h0.7v0.7h-0.7zM393.7 190.3h0.7v0.7h-0.7zM398.8 186.4h0.7v0.7h-0.7zM403.9 185.5h0.7v0.7h-0.7zM398.3 184.0h0.7v0.7h-0.7zM402.5 185.4h0.7v0.7h-0.7zM396.0 191.3h0.7v0.7h-0.7zM394.2 183.8h0.7v0.7h-0.7zM399.4 186.1h0.7v0.7h-0.7zM406.1 183.7h0.7v0.7h-0.7zM391.3 193.3h0.7v0.7h-0.7zM398.2 194.8h0.7v0.7h-0.7zM386.3 195.3h0.7v0.7h-0.7zM398.7 193.6h0.7v0.7h-0.7zM394.3 190.7h0.7v0.7h-0.7zM403.3 186.5h0.7v0.7h-0.7zM400.5 183.9h0.7v0.7h-0.7zM404.8 192.6h0.7v0.7h-0.7zM393.4 195.2h0.7v0.7h-0.7zM395.6 194.2h0.7v0.7h-0.7zM392.7 187.5h0.7v0.7h-0.7zM392.0 186.8h0.7v0.7h-0.7zM394.5 187.2h0.7v0.7h-0.7zM396.4 188.9h0.7v0.7h-0.7zM393.2 197.1h0.7v0.7h-0.7zM403.7 180.9h0.7v0.7h-0.7zM397.1 189.1h0.7v0.7h-0.7zM390.6 199.8h0.7v0.7h-0.7zM389.5 191.6h0.7v0.7h-0.7zM404.5 184.4h0.7v0.7h-0.7zM396.5 191.2h0.7v0.7h-0.7zM386.6 193.8h0.7v0.7h-0.7zM390.7 201.2h0.7v0.7h-0.7zM396.3 191.1h0.7v0.7h-0.7zM395.9 191.9h0.7v0.7h-0.7zM393.5 184.7h0.7v0.7h-0.7zM386.8 199.0h0.7v0.7h-0.7zM395.6 189.2h0.7v0.7h-0.7zM393.3 193.2h0.7v0.7h-0.7zM396.0 193.5h0.7v0.7h-0.7zM393.9 198.2h0.7v0.7h-0.7zM399.8 187.4h0.7v0.7h-0.7zM390.0 191.6h0.7v0.7h-0.7zM390.4 194.2h0.7v0.7h-0.7zM391.7 197.0h0.7v0.7h-0.7zM397.3 187.1h0.7v0.7h-0.7zM399.8 188.0h0.7v0.7h-0.7zM394.6 189.0h0.7v0.7h-0.7zM390.8 192.2h0.7v0.7h-0.7zM400.4 193.3h0.7v0.7h-0.7zM399.0 178.0h0.7v0.7h-0.7zM389.1 192.1h0.7v0.7h-0.7zM381.1 197.2h0.7v0.7h-0.7zM393.6 195.0h0.7v0.7h-0.7zM389.6 192.5h0.7v0.7h-0.7zM399.8 188.9h0.7v0.7h-0.7zM394.1 182.8h0.7v0.7h-0.7zM393.0 193.2h0.7v0.7h-0.7zM387.6 200.5h0.7v0.7h-0.7zM393.1 188.5h0.7v0.7h-0.7zM393.0 197.1h0.7v0.7h-0.7zM394.7 191.2h0.7v0.7h-0.7zM397.6 187.8h0.7v0.7h-0.7zM395.2 186.4h0.7v0.7h-0.7zM393.2 195.3h0.7v0.7h-0.7zM398.5 188.8h0.7v0.7h-0.7zM394.3 193.1h0.7v0.7h-0.7zM396.6 190.0h0.7v0.7h-0.7zM393.0 198.7h0.7v0.7h-0.7zM404.5 187.2h0.7v0.7h-0.7zM396.3 187.0h0.7v0.7h-0.7zM392.4 191.6h0.7v0.7h-0.7zM396.3 189.6h0.7v0.7h-0.7zM393.4 192.0h0.7v0.7h-0.7zM396.8 186.5h0.7v0.7h-0.7zM398.4 189.3h0.7v0.7h-0.7zM396.2 189.8h0.7v0.7h-0.7zM391.9 187.3h0.7v0.7h-0.7zM393.2 201.8h0.7v0.7h-0.7zM390.4 190.5h0.7v0.7h-0.7zM401.8 187.5h0.7v0.7h-0.7zM397.8 193.7h0.7v0.7h-0.7zM408.6 187.4h0.7v0.7h-0.7zM397.2 185.4h0.7v0.7h-0.7zM393.4 193.8h0.7v0.7h-0.7zM399.7 191.1h0.7v0.7h-0.7zM393.3 194.0h0.7v0.7h-0.7zM397.8 181.3h0.7v0.7h-0.7zM403.4 183.7h0.7v0.7h-0.7zM392.9 189.4h0.7v0.7h-0.7zM397.2 183.6h0.7v0.7h-0.7zM389.4 186.1h0.7v0.7h-0.7zM391.2 197.2h0.7v0.7h-0.7zM394.2 195.2h0.7v0.7h-0.7zM395.2 186.8h0.7v0.7h-0.7zM389.8 186.4h0.7v0.7h-0.7zM395.0 199.1h0.7v0.7h-0.7zM392.4 183.0h0.7v0.7h-0.7zM381.9 191.6h0.7v0.7h-0.7zM395.9 180.0h0.7v0.7h-0.7zM397.8 188.0h0.7v0.7h-0.7zM400.2 198.2h0.7v0.7h-0.7zM392.1 183.1h0.7v0.7h-0.7zM397.7 196.9h0.7v0.7h-0.7zM404.8 190.3h0.7v0.7h-0.7zM403.1 188.0h0.7v0.7h-0.7zM404.2 187.3h0.7v0.7h-0.7zM394.7 189.1h0.7v0.7h-0.7zM401.2 188.1h0.7v0.7h-0.7zM392.7 188.2h0.7v0.7h-0.7zM403.0 180.9h0.7v0.7h-0.7zM390.6 198.4h0.7v0.7h-0.7zM393.9 187.7h0.7v0.7h-0.7zM404.2 184.9h0.7v0.7h-0.7zM403.9 190.6h0.7v0.7h-0.7zM395.3 202.7h0.7v0.7h-0.7zM400.9 188.8h0.7v0.7h-0.7zM397.6 190.2h0.7v0.7h-0.7zM395.4 196.0h0.7v0.7h-0.7zM391.9 200.9h0.7v0.7h-0.7zM390.7 192.5h0.7v0.7h-0.7zM398.0 190.0h0.7v0.7h-0.7zM390.7 192.8h0.7v0.7h-0.7zM406.5 185.9h0.7v0.7h-0.7zM394.7 189.0h0.7v0.7h-0.7zM396.2 184.3h0.7v0.7h-0.7zM391.4 192.4h0.7v0.7h-0.7zM403.9 188.9h0.7v0.7h-0.7zM394.0 189.3h0.7v0.7h-0.7zM399.4 181.6h0.7v0.7h-0.7zM393.1 188.6h0.7v0.7h-0.7zM386.8 202.8h0.7v0.7h-0.7zM402.4 198.7h0.7v0.7h-0.7zM391.4 192.2h0.7v0.7h-0.7zM390.4 188.3h0.7v0.7h-0.7zM386.8 191.9h0.7v0.7h-0.7zM398.2 185.3h0.7v0.7h-0.7zM396.7 194.8h0.7v0.7h-0.7zM401.9 188.0h0.7v0.7h-0.7zM400.6 193.4h0.7v0.7h-0.7zM394.7 185.8h0.7v0.7h-0.7zM383.5 200.2h0.7v0.7h-0.7zM392.7 186.2h0.7v0.7h-0.7zM385.7 199.2h0.7v0.7h-0.7zM401.5 188.6h0.7v0.7h-0.7zM393.7 183.7h0.7v0.7h-0.7zM387.8 190.6h0.7v0.7h-0.7zM398.3 194.2h0.7v0.7h-0.7zM396.2 187.3h0.7v0.7h-0.7zM397.2 188.1h0.7v0.7h-0.7zM396.5 196.4h0.7v0.7h-0.7zM397.2 185.8h0.7v0.7h-0.7zM390.3 192.4h0.7v0.7h-0.7zM395.7 198.4h0.7v0.7h-0.7zM400.2 186.1h0.7v0.7h-0.7zM401.5 186.5h0.7v0.7h-0.7zM390.4 194.7h0.7v0.7h-0.7zM396.5 184.8h0.7v0.7h-0.7zM395.3 185.9h0.7v0.7h-0.7zM390.6 201.6h0.7v0.7h-0.7zM404.2 184.9h0.7v0.7h-0.7zM386.1 201.8h0.7v0.7h-0.7zM403.4 188.9h0.7v0.7h-0.7zM392.6 193.4h0.7v0.7h-0.7zM400.3 198.5h0.7v0.7h-0.7zM397.7 188.3h0.7v0.7h-0.7zM395.6 192.5h0.7v0.7h-0.7zM388.8 196.6h0.7v0.7h-0.7zM391.0 191.5h0.7v0.7h-0.7zM398.6 198.4h0.7v0.7h-0.7zM396.2 200.7h0.7v0.7h-0.7zM394.2 201.3h0.7v0.7h-0.7zM396.2 189.1h0.7v0.7h-0.7zM401.2 190.4h0.7v0.7h-0.7zM394.1 192.5h0.7v0.7h-0.7zM394.2 192.8h0.7v0.7h-0.7zM383.6 191.9h0.7v0.7h-0.7zM394.9 191.0h0.7v0.7h-0.7zM389.8 199.1h0.7v0.7h-0.7zM396.0 195.4h0.7v0.7h-0.7zM399.2 186.6h0.7v0.7h-0.7zM388.9 196.5h0.7v0.7h-0.7zM399.1 195.2h0.7v0.7h-0.7zM392.2 192.8h0.7v0.7h-0.7zM389.8 189.2h0.7v0.7h-0.7zM390.0 189.4h0.7v0.7h-0.7zM394.7 184.7h0.7v0.7h-0.7zM391.6 197.0h0.7v0.7h-0.7zM398.6 192.6h0.7v0.7h-0.7zM389.3 196.9h0.7v0.7h-0.7zM401.0 183.3h0.7v0.7h-0.7zM415.1 178.2h0.7v0.7h-0.7zM388.5 197.5h0.7v0.7h-0.7zM392.2 193.2h0.7v0.7h-0.7zM397.1 183.0h0.7v0.7h-0.7zM404.4 188.3h0.7v0.7h-0.7zM395.3 186.4h0.7v0.7h-0.7zM391.8 192.7h0.7v0.7h-0.7zM400.8 188.5h0.7v0.7h-0.7zM392.5 192.6h0.7v0.7h-0.7zM397.6 191.7h0.7v0.7h-0.7zM395.8 190.0h0.7v0.7h-0.7zM398.1 197.3h0.7v0.7h-0.7zM394.7 198.5h0.7v0.7h-0.7zM400.4 183.9h0.7v0.7h-0.7zM393.7 197.4h0.7v0.7h-0.7zM396.1 191.8h0.7v0.7h-0.7zM395.1 198.7h0.7v0.7h-0.7zM393.8 192.0h0.7v0.7h-0.7zM401.8 195.2h0.7v0.7h-0.7zM400.7 190.6h0.7v0.7h-0.7zM398.8 183.8h0.7v0.7h-0.7zM402.9 182.1h0.7v0.7h-0.7zM394.1 181.5h0.7v0.7h-0.7zM397.4 190.1h0.7v0.7h-0.7zM403.4 190.9h0.7v0.7h-0.7zM397.4 185.6h0.7v0.7h-0.7zM393.7 190.0h0.7v0.7h-0.7zM396.3 189.7h0.7v0.7h-0.7zM383.0 196.5h0.7v0.7h-0.7zM398.8 187.5h0.7v0.7h-0.7zM396.5 193.6h0.7v0.7h-0.7zM393.5 192.4h0.7v0.7h-0.7zM394.3 186.5h0.7v0.7h-0.7zM394.5 189.9h0.7v0.7h-0.7zM395.8 193.3h0.7v0.7h-0.7zM395.9 191.8h0.7v0.7h-0.7zM387.8 189.4h0.7v0.7h-0.7zM395.6 191.9h0.7v0.7h-0.7zM395.1 197.7h0.7v0.7h-0.7zM404.9 188.7h0.7v0.7h-0.7zM389.1 197.0h0.7v0.7h-0.7zM383.0 198.1h0.7v0.7h-0.7zM389.7 197.3h0.7v0.7h-0.7zM402.5 182.4h0.7v0.7h-0.7zM391.2 193.2h0.7v0.7h-0.7zM399.4 180.8h0.7v0.7h-0.7zM400.5 181.8h0.7v0.7h-0.7zM393.6 190.6h0.7v0.7h-0.7zM394.9 185.8h0.7v0.7h-0.7zM402.2 191.8h0.7v0.7h-0.7zM396.4 190.5h0.7v0.7h-0.7zM398.1 185.7h0.7v0.7h-0.7zM390.3 195.3h0.7v0.7h-0.7zM394.4 184.6h0.7v0.7h-0.7zM389.2 193.9h0.7v0.7h-0.7zM396.7 188.0h0.7v0.7h-0.7zM402.1 191.4h0.7v0.7h-0.7zM399.2 187.4h0.7v0.7h-0.7zM398.5 192.3h0.7v0.7h-0.7zM398.0 183.3h0.7v0.7h-0.7zM398.8 176.5h0.7v0.7h-0.7zM391.9 190.8h0.7v0.7h-0.7zM395.3 184.4h0.7v0.7h-0.7zM385.5 196.2h0.7v0.7h-0.7zM395.4 195.7h0.7v0.7h-0.7zM403.0 187.4h0.7v0.7h-0.7zM392.5 190.7h0.7v0.7h-0.7zM394.3 193.8h0.7v0.7h-0.7zM402.2 183.4h0.7v0.7h-0.7zM390.1 199.4h0.7v0.7h-0.7zM392.3 188.0h0.7v0.7h-0.7zM391.8 190.7h0.7v0.7h-0.7zM400.8 192.0h0.7v0.7h-0.7zM387.8 195.1h0.7v0.7h-0.7zM394.6 186.0h0.7v0.7h-0.7zM397.3 192.2h0.7v0.7h-0.7zM393.2 189.6h0.7v0.7h-0.7zM392.0 189.3h0.7v0.7h-0.7zM397.8 185.5h0.7v0.7h-0.7zM397.6 190.0h0.7v0.7h-0.7zM391.3 194.7h0.7v0.7h-0.7zM398.7 193.3h0.7v0.7h-0.7zM383.6 196.6h0.7v0.7h-0.7zM392.5 192.0h0.7v0.7h-0.7zM385.6 206.3h0.7v0.7h-0.7zM396.0 184.9h0.7v0.7h-0.7zM382.2 198.2h0.7v0.7h-0.7zM390.2 197.7h0.7v0.7h-0.7zM397.1 193.0h0.7v0.7h-0.7zM399.4 188.4h0.7v0.7h-0.7zM397.5 184.6h0.7v0.7h-0.7zM393.5 191.0h0.7v0.7h-0.7zM391.3 193.5h0.7v0.7h-0.7zM392.4 189.1h0.7v0.7h-0.7zM396.6 190.8h0.7v0.7h-0.7zM399.8 183.5h0.7v0.7h-0.7zM400.6 185.3h0.7v0.7h-0.7zM393.8 192.7h0.7v0.7h-0.7zM396.7 192.9h0.7v0.7h-0.7zM389.8 189.0h0.7v0.7h-0.7zM396.8 191.4h0.7v0.7h-0.7zM392.8 187.2h0.7v0.7h-0.7zM396.0 195.1h0.7v0.7h-0.7zM393.9 190.2h0.7v0.7h-0.7zM400.1 185.1h0.7v0.7h-0.7zM391.5 184.6h0.7v0.7h-0.7zM392.9 196.6h0.7v0.7h-0.7zM403.7 191.7h0.7v0.7h-0.7zM393.7 195.5h0.7v0.7h-0.7zM395.1 182.0h0.7v0.7h-0.7zM391.4 190.9h0.7v0.7h-0.7zM388.4 196.9h0.7v0.7h-0.7zM397.7 190.5h0.7v0.7h-0.7zM389.4 191.3h0.7v0.7h-0.7zM400.7 184.5h0.7v0.7h-0.7zM398.2 194.4h0.7v0.7h-0.7zM399.3 189.9h0.7v0.7h-0.7zM405.5 185.8h0.7v0.7h-0.7zM393.1 195.0h0.7v0.7h-0.7zM396.2 190.0h0.7v0.7h-0.7zM401.1 187.2h0.7v0.7h-0.7zM400.3 187.1h0.7v0.7h-0.7zM393.6 195.2h0.7v0.7h-0.7zM403.7 187.8h0.7v0.7h-0.7zM399.1 186.9h0.7v0.7h-0.7zM392.5 189.5h0.7v0.7h-0.7zM391.9 188.7h0.7v0.7h-0.7zM396.4 189.0h0.7v0.7h-0.7zM396.7 192.1h0.7v0.7h-0.7zM394.1 197.6h0.7v0.7h-0.7zM398.5 187.0h0.7v0.7h-0.7zM402.7 187.0h0.7v0.7h-0.7zM401.1 190.5h0.7v0.7h-0.7zM398.5 186.5h0.7v0.7h-0.7zM394.2 188.1h0.7v0.7h-0.7zM395.3 188.7h0.7v0.7h-0.7zM394.6 187.7h0.7v0.7h-0.7zM395.1 182.7h0.7v0.7h-0.7zM399.3 191.6h0.7v0.7h-0.7zM393.6 193.2h0.7v0.7h-0.7zM400.8 192.4h0.7v0.7h-0.7zM395.2 193.4h0.7v0.7h-0.7zM400.3 193.2h0.7v0.7h-0.7zM396.1 186.4h0.7v0.7h-0.7zM400.3 193.7h0.7v0.7h-0.7zM394.9 185.9h0.7v0.7h-0.7zM395.6 188.0h0.7v0.7h-0.7zM399.2 202.8h0.7v0.7h-0.7zM398.4 193.1h0.7v0.7h-0.7zM390.1 198.6h0.7v0.7h-0.7zM395.6 194.9h0.7v0.7h-0.7zM398.4 186.9h0.7v0.7h-0.7zM394.3 192.0h0.7v0.7h-0.7zM390.6 189.6h0.7v0.7h-0.7zM393.6 197.9h0.7v0.7h-0.7zM400.9 189.0h0.7v0.7h-0.7zM395.8 188.4h0.7v0.7h-0.7zM399.2 185.2h0.7v0.7h-0.7zM394.4 186.4h0.7v0.7h-0.7zM393.9 188.7h0.7v0.7h-0.7zM393.6 189.4h0.7v0.7h-0.7zM397.9 188.1h0.7v0.7h-0.7zM403.2 186.0h0.7v0.7h-0.7zM395.2 190.8h0.7v0.7h-0.7zM391.7 192.3h0.7v0.7h-0.7zM389.3 192.0h0.7v0.7h-0.7zM389.6 190.0h0.7v0.7h-0.7zM394.2 184.3h0.7v0.7h-0.7zM402.8 181.5h0.7v0.7h-0.7zM400.9 173.1h0.7v0.7h-0.7zM395.3 192.4h0.7v0.7h-0.7zM399.2 180.4h0.7v0.7h-0.7zM390.5 195.1h0.7v0.7h-0.7zM399.0 180.6h0.7v0.7h-0.7zM397.7 191.5h0.7v0.7h-0.7zM400.8 189.5h0.7v0.7h-0.7zM395.1 195.2h0.7v0.7h-0.7zM398.0 185.2h0.7v0.7h-0.7zM396.8 193.7h0.7v0.7h-0.7zM389.5 192.4h0.7v0.7h-0.7zM399.9 199.5h0.7v0.7h-0.7zM399.1 187.4h0.7v0.7h-0.7zM402.1 180.3h0.7v0.7h-0.7zM391.2 195.2h0.7v0.7h-0.7zM399.3 190.7h0.7v0.7h-0.7zM397.2 192.0h0.7v0.7h-0.7zM393.0 199.0h0.7v0.7h-0.7zM405.8 186.9h0.7v0.7h-0.7zM403.4 185.7h0.7v0.7h-0.7zM394.0 184.2h0.7v0.7h-0.7zM397.1 184.5h0.7v0.7h-0.7zM396.9 189.3h0.7v0.7h-0.7zM402.8 178.7h0.7v0.7h-0.7zM393.6 196.2h0.7v0.7h-0.7zM391.0 199.0h0.7v0.7h-0.7zM398.4 188.0h0.7v0.7h-0.7zM393.6 197.2h0.7v0.7h-0.7zM391.8 191.9h0.7v0.7h-0.7zM387.4 194.5h0.7v0.7h-0.7zM398.4 184.1h0.7v0.7h-0.7zM398.1 190.1h0.7v0.7h-0.7zM400.5 177.9h0.7v0.7h-0.7zM398.9 192.9h0.7v0.7h-0.7zM395.4 192.7h0.7v0.7h-0.7zM401.4 188.0h0.7v0.7h-0.7zM392.6 195.8h0.7v0.7h-0.7zM394.4 189.7h0.7v0.7h-0.7zM397.7 185.9h0.7v0.7h-0.7zM399.8 196.0h0.7v0.7h-0.7zM388.4 194.2h0.7v0.7h-0.7zM402.2 186.4h0.7v0.7h-0.7zM395.0 199.2h0.7v0.7h-0.7zM390.3 182.1h0.7v0.7h-0.7zM396.6 199.3h0.7v0.7h-0.7zM396.6 193.5h0.7v0.7h-0.7zM401.9 187.1h0.7v0.7h-0.7zM392.9 198.2h0.7v0.7h-0.7zM397.8 186.2h0.7v0.7h-0.7zM393.4 193.9h0.7v0.7h-0.7zM393.7 193.5h0.7v0.7h-0.7zM397.5 189.9h0.7v0.7h-0.7zM396.7 192.6h0.7v0.7h-0.7zM390.2 195.6h0.7v0.7h-0.7zM398.4 184.4h0.7v0.7h-0.7zM401.1 182.3h0.7v0.7h-0.7zM396.2 192.3h0.7v0.7h-0.7zM401.1 184.6h0.7v0.7h-0.7zM405.2 191.4h0.7v0.7h-0.7zM390.1 191.8h0.7v0.7h-0.7zM394.5 189.3h0.7v0.7h-0.7zM382.7 198.5h0.7v0.7h-0.7zM397.5 186.6h0.7v0.7h-0.7zM392.6 189.2h0.7v0.7h-0.7zM401.0 178.2h0.7v0.7h-0.7zM397.4 195.4h0.7v0.7h-0.7zM392.8 190.5h0.7v0.7h-0.7zM393.4 191.3h0.7v0.7h-0.7zM392.3 196.0h0.7v0.7h-0.7zM402.2 186.5h0.7v0.7h-0.7zM395.4 188.7h0.7v0.7h-0.7zM388.5 194.2h0.7v0.7h-0.7zM394.7 186.2h0.7v0.7h-0.7zM397.0 187.9h0.7v0.7h-0.7zM390.0 190.9h0.7v0.7h-0.7zM395.4 197.9h0.7v0.7h-0.7zM400.1 187.7h0.7v0.7h-0.7zM397.1 189.2h0.7v0.7h-0.7zM396.5 190.2h0.7v0.7h-0.7zM394.5 191.5h0.7v0.7h-0.7zM399.4 183.1h0.7v0.7h-0.7zM403.0 188.9h0.7v0.7h-0.7zM392.4 193.7h0.7v0.7h-0.7zM395.4 194.8h0.7v0.7h-0.7zM386.8 198.6h0.7v0.7h-0.7zM389.9 198.1h0.7v0.7h-0.7zM396.9 180.7h0.7v0.7h-0.7zM396.4 197.6h0.7v0.7h-0.7zM397.5 183.8h0.7v0.7h-0.7zM399.0 184.8h0.7v0.7h-0.7zM397.1 186.9h0.7v0.7h-0.7zM394.6 191.1h0.7v0.7h-0.7zM393.8 182.6h0.7v0.7h-0.7zM398.3 186.7h0.7v0.7h-0.7zM399.2 192.4h0.7v0.7h-0.7zM390.0 184.8h0.7v0.7h-0.7zM397.7 178.2h0.7v0.7h-0.7zM402.9 192.1h0.7v0.7h-0.7zM399.8 185.7h0.7v0.7h-0.7zM394.9 190.2h0.7v0.7h-0.7zM395.0 198.3h0.7v0.7h-0.7zM398.4 185.0h0.7v0.7h-0.7zM393.5 192.2h0.7v0.7h-0.7zM388.5 191.5h0.7v0.7h-0.7zM386.8 198.2h0.7v0.7h-0.7zM402.4 189.9h0.7v0.7h-0.7zM404.9 180.1h0.7v0.7h-0.7zM397.0 196.4h0.7v0.7h-0.7zM394.1 191.7h0.7v0.7h-0.7zM395.7 191.9h0.7v0.7h-0.7zM397.0 193.7h0.7v0.7h-0.7zM391.9 184.4h0.7v0.7h-0.7zM405.2 180.0h0.7v0.7h-0.7zM402.3 191.8h0.7v0.7h-0.7zM402.0 188.4h0.7v0.7h-0.7zM396.5 189.4h0.7v0.7h-0.7zM391.8 192.8h0.7v0.7h-0.7zM395.6 190.3h0.7v0.7h-0.7zM396.0 191.4h0.7v0.7h-0.7zM396.8 190.4h0.7v0.7h-0.7zM398.4 190.9h0.7v0.7h-0.7zM395.7 190.0h0.7v0.7h-0.7zM398.9 182.1h0.7v0.7h-0.7zM394.1 186.0h0.7v0.7h-0.7zM394.3 190.1h0.7v0.7h-0.7zM401.4 193.0h0.7v0.7h-0.7zM396.8 186.5h0.7v0.7h-0.7zM394.5 192.8h0.7v0.7h-0.7zM393.0 185.4h0.7v0.7h-0.7zM395.0 193.6h0.7v0.7h-0.7zM396.8 190.6h0.7v0.7h-0.7zM404.9 188.4h0.7v0.7h-0.7zM391.8 197.2h0.7v0.7h-0.7zM392.0 203.7h0.7v0.7h-0.7zM396.7 193.4h0.7v0.7h-0.7zM396.0 192.2h0.7v0.7h-0.7zM400.2 186.5h0.7v0.7h-0.7zM393.7 193.0h0.7v0.7h-0.7zM383.8 190.8h0.7v0.7h-0.7zM397.2 184.2h0.7v0.7h-0.7zM396.1 190.1h0.7v0.7h-0.7zM389.9 194.9h0.7v0.7h-0.7zM390.5 187.0h0.7v0.7h-0.7zM387.0 198.2h0.7v0.7h-0.7zM383.6 190.1h0.7v0.7h-0.7zM392.9 192.3h0.7v0.7h-0.7zM391.7 194.2h0.7v0.7h-0.7zM388.7 195.4h0.7v0.7h-0.7zM395.9 201.4h0.7v0.7h-0.7zM392.6 187.7h0.7v0.7h-0.7zM393.9 196.8h0.7v0.7h-0.7zM389.4 195.9h0.7v0.7h-0.7zM399.9 177.2h0.7v0.7h-0.7zM409.1 184.9h0.7v0.7h-0.7zM400.9 196.3h0.7v0.7h-0.7zM396.4 196.0h0.7v0.7h-0.7zM397.7 187.8h0.7v0.7h-0.7zM389.1 198.2h0.7v0.7h-0.7zM401.8 186.7h0.7v0.7h-0.7zM397.1 191.7h0.7v0.7h-0.7zM386.9 202.8h0.7v0.7h-0.7zM400.3 189.5h0.7v0.7h-0.7zM396.3 191.8h0.7v0.7h-0.7zM395.6 188.7h0.7v0.7h-0.7zM393.1 190.8h0.7v0.7h-0.7zM398.2 187.1h0.7v0.7h-0.7zM388.8 196.3h0.7v0.7h-0.7zM394.7 184.3h0.7v0.7h-0.7zM396.1 184.3h0.7v0.7h-0.7zM386.9 196.9h0.7v0.7h-0.7zM391.8 190.5h0.7v0.7h-0.7zM388.0 191.8h0.7v0.7h-0.7zM401.8 187.4h0.7v0.7h-0.7zM390.6 185.8h0.7v0.7h-0.7zM393.0 191.1h0.7v0.7h-0.7zM401.2 192.8h0.7v0.7h-0.7zM393.2 193.5h0.7v0.7h-0.7zM392.9 186.0h0.7v0.7h-0.7zM394.8 182.9h0.7v0.7h-0.7zM387.3 189.6h0.7v0.7h-0.7zM394.3 191.8h0.7v0.7h-0.7zM391.7 189.1h0.7v0.7h-0.7zM392.9 193.8h0.7v0.7h-0.7zM387.9 192.0h0.7v0.7h-0.7zM394.0 192.3h0.7v0.7h-0.7zM395.4 186.4h0.7v0.7h-0.7zM388.7 191.9h0.7v0.7h-0.7zM395.9 187.1h0.7v0.7h-0.7zM401.5 185.3h0.7v0.7h-0.7zM388.8 192.4h0.7v0.7h-0.7zM393.9 194.9h0.7v0.7h-0.7zM396.4 192.2h0.7v0.7h-0.7zM382.7 199.8h0.7v0.7h-0.7zM400.7 182.2h0.7v0.7h-0.7zM408.1 183.1h0.7v0.7h-0.7zM395.1 193.3h0.7v0.7h-0.7zM387.2 188.5h0.7v0.7h-0.7zM389.9 193.8h0.7v0.7h-0.7zM400.2 185.0h0.7v0.7h-0.7zM403.5 173.0h0.7v0.7h-0.7zM393.0 187.6h0.7v0.7h-0.7zM396.8 186.1h0.7v0.7h-0.7zM400.1 189.5h0.7v0.7h-0.7zM383.5 189.1h0.7v0.7h-0.7zM405.5 179.0h0.7v0.7h-0.7zM391.1 198.4h0.7v0.7h-0.7zM398.7 191.8h0.7v0.7h-0.7zM388.9 194.8h0.7v0.7h-0.7zM390.4 189.2h0.7v0.7h-0.7zM401.2 190.5h0.7v0.7h-0.7zM390.7 189.8h0.7v0.7h-0.7zM401.6 192.4h0.7v0.7h-0.7zM402.7 188.8h0.7v0.7h-0.7zM387.9 193.6h0.7v0.7h-0.7zM394.8 187.7h0.7v0.7h-0.7zM396.3 186.2h0.7v0.7h-0.7zM400.3 189.7h0.7v0.7h-0.7zM385.3 197.9h0.7v0.7h-0.7zM395.3 190.6h0.7v0.7h-0.7zM400.5 183.9h0.7v0.7h-0.7zM398.0 187.1h0.7v0.7h-0.7zM390.7 191.2h0.7v0.7h-0.7zM393.1 190.7h0.7v0.7h-0.7zM397.3 195.6h0.7v0.7h-0.7zM390.6 196.4h0.7v0.7h-0.7zM397.1 186.0h0.7v0.7h-0.7zM392.4 190.7h0.7v0.7h-0.7zM403.1 174.2h0.7v0.7h-0.7zM396.9 191.2h0.7v0.7h-0.7zM394.1 189.8h0.7v0.7h-0.7zM404.4 187.0h0.7v0.7h-0.7zM393.3 198.6h0.7v0.7h-0.7zM385.4 204.5h0.7v0.7h-0.7zM392.9 195.2h0.7v0.7h-0.7zM394.5 191.4h0.7v0.7h-0.7zM389.4 188.5h0.7v0.7h-0.7zM386.6 192.3h0.7v0.7h-0.7zM400.6 192.3h0.7v0.7h-0.7zM399.0 184.8h0.7v0.7h-0.7zM401.9 189.7h0.7v0.7h-0.7zM398.0 188.5h0.7v0.7h-0.7zM391.4 193.8h0.7v0.7h-0.7zM391.5 193.4h0.7v0.7h-0.7zM396.8 188.4h0.7v0.7h-0.7zM396.3 192.7h0.7v0.7h-0.7zM392.8 199.2h0.7v0.7h-0.7zM395.8 192.0h0.7v0.7h-0.7zM394.7 189.0h0.7v0.7h-0.7zM405.3 183.3h0.7v0.7h-0.7zM399.4 190.5h0.7v0.7h-0.7zM395.6 190.4h0.7v0.7h-0.7zM398.7 187.8h0.7v0.7h-0.7zM396.8 198.2h0.7v0.7h-0.7zM397.1 176.8h0.7v0.7h-0.7zM397.2 194.9h0.7v0.7h-0.7zM391.1 191.6h0.7v0.7h-0.7zM404.4 189.2h0.7v0.7h-0.7zM399.3 180.0h0.7v0.7h-0.7zM403.1 182.0h0.7v0.7h-0.7zM386.0 198.2h0.7v0.7h-0.7zM396.4 185.1h0.7v0.7h-0.7zM397.6 183.7h0.7v0.7h-0.7zM394.3 194.8h0.7v0.7h-0.7zM404.8 180.1h0.7v0.7h-0.7zM403.5 182.3h0.7v0.7h-0.7zM392.2 196.4h0.7v0.7h-0.7zM394.7 192.1h0.7v0.7h-0.7zM387.7 194.5h0.7v0.7h-0.7zM399.2 188.1h0.7v0.7h-0.7zM398.2 193.5h0.7v0.7h-0.7zM391.0 192.2h0.7v0.7h-0.7zM395.8 195.9h0.7v0.7h-0.7zM396.6 189.7h0.7v0.7h-0.7zM393.3 189.7h0.7v0.7h-0.7zM397.4 192.3h0.7v0.7h-0.7zM396.2 193.5h0.7v0.7h-0.7zM395.7 193.9h0.7v0.7h-0.7zM391.9 200.1h0.7v0.7h-0.7zM396.3 191.0h0.7v0.7h-0.7zM398.3 188.3h0.7v0.7h-0.7zM390.7 193.2h0.7v0.7h-0.7zM395.5 194.9h0.7v0.7h-0.7zM403.7 193.0h0.7v0.7h-0.7zM393.9 201.5h0.7v0.7h-0.7zM389.7 190.5h0.7v0.7h-0.7zM400.8 181.4h0.7v0.7h-0.7zM398.7 184.7h0.7v0.7h-0.7zM392.1 190.5h0.7v0.7h-0.7zM394.1 193.5h0.7v0.7h-0.7zM388.7 195.5h0.7v0.7h-0.7zM395.1 192.8h0.7v0.7h-0.7zM398.4 188.3h0.7v0.7h-0.7zM393.7 190.3h0.7v0.7h-0.7zM396.5 185.5h0.7v0.7h-0.7zM394.4 181.8h0.7v0.7h-0.7zM400.0 186.7h0.7v0.7h-0.7zM391.4 186.3h0.7v0.7h-0.7zM399.4 191.3h0.7v0.7h-0.7zM384.7 198.1h0.7v0.7h-0.7zM398.9 187.8h0.7v0.7h-0.7zM407.5 180.4h0.7v0.7h-0.7zM396.1 186.7h0.7v0.7h-0.7zM400.4 189.8h0.7v0.7h-0.7zM405.2 186.5h0.7v0.7h-0.7zM391.6 197.8h0.7v0.7h-0.7zM394.2 188.8h0.7v0.7h-0.7zM390.7 188.8h0.7v0.7h-0.7zM399.6 187.2h0.7v0.7h-0.7zM395.1 185.6h0.7v0.7h-0.7zM396.6 183.6h0.7v0.7h-0.7zM389.0 198.2h0.7v0.7h-0.7zM401.7 179.9h0.7v0.7h-0.7zM397.4 192.6h0.7v0.7h-0.7zM402.9 187.3h0.7v0.7h-0.7zM392.3 190.5h0.7v0.7h-0.7zM390.7 196.6h0.7v0.7h-0.7zM392.0 196.8h0.7v0.7h-0.7zM394.9 193.0h0.7v0.7h-0.7zM395.9 184.8h0.7v0.7h-0.7zM406.7 189.8h0.7v0.7h-0.7zM396.6 186.7h0.7v0.7h-0.7zM397.3 186.9h0.7v0.7h-0.7zM398.6 189.4h0.7v0.7h-0.7zM390.7 183.2h0.7v0.7h-0.7zM393.5 190.1h0.7v0.7h-0.7zM402.1 183.7h0.7v0.7h-0.7zM395.3 191.2h0.7v0.7h-0.7zM392.2 179.3h0.7v0.7h-0.7zM400.6 189.6h0.7v0.7h-0.7zM389.7 194.1h0.7v0.7h-0.7zM394.9 194.3h0.7v0.7h-0.7zM401.1 176.7h0.7v0.7h-0.7zM404.1 189.8h0.7v0.7h-0.7zM398.0 190.5h0.7v0.7h-0.7zM389.4 190.8h0.7v0.7h-0.7zM393.2 187.6h0.7v0.7h-0.7zM402.1 170.5h0.7v0.7h-0.7zM401.5 180.6h0.7v0.7h-0.7zM389.1 198.5h0.7v0.7h-0.7zM394.3 186.9h0.7v0.7h-0.7zM401.6 191.9h0.7v0.7h-0.7zM391.0 185.0h0.7v0.7h-0.7zM391.4 196.3h0.7v0.7h-0.7zM394.3 187.2h0.7v0.7h-0.7zM399.6 191.6h0.7v0.7h-0.7zM395.2 185.2h0.7v0.7h-0.7zM395.6 188.4h0.7v0.7h-0.7zM387.3 194.9h0.7v0.7h-0.7zM400.3 190.8h0.7v0.7h-0.7zM399.8 189.7h0.7v0.7h-0.7zM396.6 191.5h0.7v0.7h-0.7zM398.0 194.2h0.7v0.7h-0.7zM384.8 198.0h0.7v0.7h-0.7zM384.0 199.8h0.7v0.7h-0.7zM392.2 193.0h0.7v0.7h-0.7zM407.0 179.7h0.7v0.7h-0.7zM399.6 187.6h0.7v0.7h-0.7zM393.4 196.3h0.7v0.7h-0.7zM393.2 193.0h0.7v0.7h-0.7zM403.3 178.0h0.7v0.7h-0.7zM401.3 177.1h0.7v0.7h-0.7zM395.0 188.7h0.7v0.7h-0.7zM396.0 187.6h0.7v0.7h-0.7zM393.9 199.6h0.7v0.7h-0.7zM393.5 191.7h0.7v0.7h-0.7zM394.5 192.6h0.7v0.7h-0.7zM394.2 192.1h0.7v0.7h-0.7zM386.2 201.2h0.7v0.7h-0.7zM402.9 184.6h0.7v0.7h-0.7zM401.9 180.5h0.7v0.7h-0.7zM399.4 170.7h0.7v0.7h-0.7zM398.3 185.8h0.7v0.7h-0.7zM394.6 193.1h0.7v0.7h-0.7zM389.1 198.4h0.7v0.7h-0.7zM396.4 192.7h0.7v0.7h-0.7zM399.8 187.6h0.7v0.7h-0.7zM396.6 185.6h0.7v0.7h-0.7zM394.2 191.0h0.7v0.7h-0.7zM387.7 197.5h0.7v0.7h-0.7zM393.2 192.8h0.7v0.7h-0.7zM396.1 189.6h0.7v0.7h-0.7zM397.9 192.9h0.7v0.7h-0.7zM400.0 186.3h0.7v0.7h-0.7zM400.3 191.7h0.7v0.7h-0.7zM401.0 184.9h0.7v0.7h-0.7zM388.8 189.5h0.7v0.7h-0.7zM399.1 187.8h0.7v0.7h-0.7zM399.6 196.4h0.7v0.7h-0.7zM394.4 190.9h0.7v0.7h-0.7zM396.4 186.8h0.7v0.7h-0.7zM396.1 192.0h0.7v0.7h-0.7zM393.3 189.1h0.7v0.7h-0.7zM389.7 195.1h0.7v0.7h-0.7zM403.5 182.2h0.7v0.7h-0.7zM392.7 192.4h0.7v0.7h-0.7zM386.7 192.2h0.7v0.7h-0.7zM401.0 189.4h0.7v0.7h-0.7zM395.9 189.0h0.7v0.7h-0.7zM396.8 187.3h0.7v0.7h-0.7zM391.2 188.1h0.7v0.7h-0.7zM394.8 187.8h0.7v0.7h-0.7zM386.6 195.9h0.7v0.7h-0.7zM396.2 186.4h0.7v0.7h-0.7zM387.0 193.3h0.7v0.7h-0.7zM391.6 191.5h0.7v0.7h-0.7zM405.7 185.7h0.7v0.7h-0.7zM385.5 198.1h0.7v0.7h-0.7zM397.3 187.5h0.7v0.7h-0.7zM403.0 187.3h0.7v0.7h-0.7zM390.5 193.0h0.7v0.7h-0.7zM394.8 196.8h0.7v0.7h-0.7zM394.0 198.7h0.7v0.7h-0.7zM397.3 188.8h0.7v0.7h-0.7zM398.3 180.3h0.7v0.7h-0.7zM392.2 191.2h0.7v0.7h-0.7zM397.2 189.8h0.7v0.7h-0.7zM394.3 183.0h0.7v0.7h-0.7zM404.2 194.7h0.7v0.7h-0.7zM391.4 188.8h0.7v0.7h-0.7zM400.9 186.1h0.7v0.7h-0.7zM393.4 201.1h0.7v0.7h-0.7zM405.9 182.5h0.7v0.7h-0.7zM392.8 200.5h0.7v0.7h-0.7zM404.3 187.0h0.7v0.7h-0.7zM398.4 193.1h0.7v0.7h-0.7zM390.6 191.6h0.7v0.7h-0.7zM393.9 191.9h0.7v0.7h-0.7zM393.4 179.3h0.7v0.7h-0.7zM386.0 203.5h0.7v0.7h-0.7zM398.2 198.4h0.7v0.7h-0.7zM390.4 188.7h0.7v0.7h-0.7zM390.6 198.7h0.7v0.7h-0.7zM397.9 186.2h0.7v0.7h-0.7zM399.8 181.2h0.7v0.7h-0.7zM397.8 196.0h0.7v0.7h-0.7zM403.8 186.2h0.7v0.7h-0.7zM397.0 193.2h0.7v0.7h-0.7zM400.3 189.8h0.7v0.7h-0.7zM389.2 201.0h0.7v0.7h-0.7zM392.8 188.9h0.7v0.7h-0.7zM392.9 186.2h0.7v0.7h-0.7zM392.8 195.4h0.7v0.7h-0.7zM401.3 182.4h0.7v0.7h-0.7zM398.9 187.1h0.7v0.7h-0.7zM399.3 190.1h0.7v0.7h-0.7zM399.0 180.4h0.7v0.7h-0.7zM397.9 180.3h0.7v0.7h-0.7zM401.6 191.1h0.7v0.7h-0.7zM402.2 187.6h0.7v0.7h-0.7zM395.3 184.2h0.7v0.7h-0.7zM390.0 191.3h0.7v0.7h-0.7zM387.9 193.6h0.7v0.7h-0.7zM396.7 192.4h0.7v0.7h-0.7zM388.7 188.0h0.7v0.7h-0.7zM397.1 185.6h0.7v0.7h-0.7zM390.3 193.3h0.7v0.7h-0.7zM399.3 182.2h0.7v0.7h-0.7zM395.8 198.1h0.7v0.7h-0.7zM391.3 191.9h0.7v0.7h-0.7zM397.7 189.3h0.7v0.7h-0.7zM400.9 185.4h0.7v0.7h-0.7zM391.0 191.2h0.7v0.7h-0.7zM390.0 185.5h0.7v0.7h-0.7zM398.6 176.9h0.7v0.7h-0.7zM402.3 186.0h0.7v0.7h-0.7zM386.6 185.5h0.7v0.7h-0.7zM401.4 188.1h0.7v0.7h-0.7zM393.0 186.6h0.7v0.7h-0.7zM397.8 197.8h0.7v0.7h-0.7zM387.8 200.5h0.7v0.7h-0.7zM403.9 188.5h0.7v0.7h-0.7zM388.0 192.7h0.7v0.7h-0.7zM406.5 178.3h0.7v0.7h-0.7zM408.2 194.4h0.7v0.7h-0.7zM391.2 201.3h0.7v0.7h-0.7zM391.1 195.5h0.7v0.7h-0.7zM398.5 186.1h0.7v0.7h-0.7zM384.6 199.1h0.7v0.7h-0.7zM393.6 184.7h0.7v0.7h-0.7zM410.2 179.4h0.7v0.7h-0.7zM393.9 192.8h0.7v0.7h-0.7zM408.1 179.9h0.7v0.7h-0.7zM397.1 185.2h0.7v0.7h-0.7zM395.5 190.7h0.7v0.7h-0.7zM400.8 188.1h0.7v0.7h-0.7zM394.4 191.7h0.7v0.7h-0.7zM405.2 180.2h0.7v0.7h-0.7zM395.0 183.3h0.7v0.7h-0.7zM398.3 192.2h0.7v0.7h-0.7zM400.4 179.9h0.7v0.7h-0.7zM390.5 194.1h0.7v0.7h-0.7zM394.1 190.7h0.7v0.7h-0.7zM397.8 184.0h0.7v0.7h-0.7zM393.6 188.2h0.7v0.7h-0.7zM383.6 201.1h0.7v0.7h-0.7zM391.2 191.6h0.7v0.7h-0.7zM393.1 189.5h0.7v0.7h-0.7zM401.2 189.9h0.7v0.7h-0.7zM391.2 193.7h0.7v0.7h-0.7zM394.6 189.7h0.7v0.7h-0.7zM404.4 183.5h0.7v0.7h-0.7zM392.5 188.3h0.7v0.7h-0.7zM391.5 198.2h0.7v0.7h-0.7zM405.0 184.6h0.7v0.7h-0.7zM399.5 182.2h0.7v0.7h-0.7zM410.1 174.1h0.7v0.7h-0.7zM398.1 184.6h0.7v0.7h-0.7zM405.5 191.8h0.7v0.7h-0.7zM395.3 187.6h0.7v0.7h-0.7zM400.7 181.7h0.7v0.7h-0.7zM396.8 182.7h0.7v0.7h-0.7zM393.1 197.9h0.7v0.7h-0.7zM395.3 185.6h0.7v0.7h-0.7zM399.0 186.7h0.7v0.7h-0.7zM389.7 192.9h0.7v0.7h-0.7zM399.7 196.4h0.7v0.7h-0.7zM400.8 189.9h0.7v0.7h-0.7zM403.8 185.9h0.7v0.7h-0.7zM399.5 194.7h0.7v0.7h-0.7zM397.4 186.3h0.7v0.7h-0.7zM393.3 184.4h0.7v0.7h-0.7zM393.6 193.1h0.7v0.7h-0.7zM401.0 185.0h0.7v0.7h-0.7zM392.4 200.0h0.7v0.7h-0.7zM401.6 186.3h0.7v0.7h-0.7zM396.9 182.9h0.7v0.7h-0.7zM399.7 185.8h0.7v0.7h-0.7zM388.6 196.4h0.7v0.7h-0.7zM398.2 192.5h0.7v0.7h-0.7zM385.3 193.7h0.7v0.7h-0.7zM396.4 187.9h0.7v0.7h-0.7zM399.0 182.8h0.7v0.7h-0.7zM402.5 189.3h0.7v0.7h-0.7zM400.3 190.9h0.7v0.7h-0.7zM398.2 187.6h0.7v0.7h-0.7zM397.3 183.1h0.7v0.7h-0.7zM403.3 188.0h0.7v0.7h-0.7zM396.9 191.6h0.7v0.7h-0.7zM394.7 185.2h0.7v0.7h-0.7zM397.2 187.9h0.7v0.7h-0.7zM401.4 185.7h0.7v0.7h-0.7zM390.2 193.1h0.7v0.7h-0.7zM389.7 191.8h0.7v0.7h-0.7zM396.2 187.9h0.7v0.7h-0.7zM401.2 187.8h0.7v0.7h-0.7zM400.2 187.7h0.7v0.7h-0.7zM388.1 194.1h0.7v0.7h-0.7zM392.6 186.4h0.7v0.7h-0.7zM397.4 192.7h0.7v0.7h-0.7zM395.0 194.8h0.7v0.7h-0.7zM394.0 186.0h0.7v0.7h-0.7zM395.3 187.8h0.7v0.7h-0.7zM395.7 190.5h0.7v0.7h-0.7zM393.5 191.8h0.7v0.7h-0.7zM390.2 203.4h0.7v0.7h-0.7zM397.1 184.6h0.7v0.7h-0.7zM396.4 180.9h0.7v0.7h-0.7zM402.6 177.9h0.7v0.7h-0.7zM387.5 202.4h0.7v0.7h-0.7zM390.4 188.5h0.7v0.7h-0.7zM392.3 196.1h0.7v0.7h-0.7zM395.2 192.4h0.7v0.7h-0.7zM402.1 180.3h0.7v0.7h-0.7zM405.8 184.3h0.7v0.7h-0.7zM394.1 193.0h0.7v0.7h-0.7zM393.8 191.2h0.7v0.7h-0.7zM394.0 194.4h0.7v0.7h-0.7zM395.4 183.7h0.7v0.7h-0.7zM399.4 181.9h0.7v0.7h-0.7zM391.0 200.3h0.7v0.7h-0.7zM395.9 187.8h0.7v0.7h-0.7zM394.8 186.1h0.7v0.7h-0.7zM392.5 187.5h0.7v0.7h-0.7zM388.3 190.0h0.7v0.7h-0.7zM394.2 191.5h0.7v0.7h-0.7zM403.1 186.3h0.7v0.7h-0.7zM395.0 188.9h0.7v0.7h-0.7zM397.2 196.8h0.7v0.7h-0.7zM393.9 189.1h0.7v0.7h-0.7zM391.9 194.4h0.7v0.7h-0.7zM399.7 178.9h0.7v0.7h-0.7zM398.4 195.7h0.7v0.7h-0.7zM392.8 198.8h0.7v0.7h-0.7zM400.2 186.6h0.7v0.7h-0.7zM396.0 191.1h0.7v0.7h-0.7zM398.4 193.5h0.7v0.7h-0.7zM400.4 180.5h0.7v0.7h-0.7zM399.2 191.1h0.7v0.7h-0.7zM393.9 190.2h0.7v0.7h-0.7zM389.1 199.4h0.7v0.7h-0.7zM396.5 194.9h0.7v0.7h-0.7zM395.0 200.5h0.7v0.7h-0.7zM391.2 191.9h0.7v0.7h-0.7zM393.3 200.8h0.7v0.7h-0.7zM389.4 188.8h0.7v0.7h-0.7zM401.6 186.2h0.7v0.7h-0.7zM398.9 183.7h0.7v0.7h-0.7zM392.5 195.9h0.7v0.7h-0.7zM392.8 183.0h0.7v0.7h-0.7zM390.1 199.0h0.7v0.7h-0.7zM384.2 196.7h0.7v0.7h-0.7zM395.3 194.7h0.7v0.7h-0.7zM399.1 185.6h0.7v0.7h-0.7zM393.4 185.5h0.7v0.7h-0.7zM397.9 191.2h0.7v0.7h-0.7zM395.6 189.2h0.7v0.7h-0.7zM397.0 194.8h0.7v0.7h-0.7zM395.1 184.0h0.7v0.7h-0.7zM395.9 191.2h0.7v0.7h-0.7zM395.0 192.3h0.7v0.7h-0.7zM390.8 197.8h0.7v0.7h-0.7zM387.0 201.6h0.7v0.7h-0.7zM400.2 186.7h0.7v0.7h-0.7zM399.9 180.7h0.7v0.7h-0.7zM389.5 188.3h0.7v0.7h-0.7zM392.6 190.5h0.7v0.7h-0.7zM399.7 190.2h0.7v0.7h-0.7zM392.6 196.8h0.7v0.7h-0.7zM389.8 196.5h0.7v0.7h-0.7zM392.6 198.2h0.7v0.7h-0.7zM393.7 186.2h0.7v0.7h-0.7zM410.1 182.4h0.7v0.7h-0.7zM385.6 199.4h0.7v0.7h-0.7zM402.0 188.7h0.7v0.7h-0.7zM391.6 192.8h0.7v0.7h-0.7zM391.7 189.8h0.7v0.7h-0.7zM394.9 191.2h0.7v0.7h-0.7zM397.5 185.3h0.7v0.7h-0.7zM389.1 197.8h0.7v0.7h-0.7zM390.7 186.8h0.7v0.7h-0.7zM387.3 200.1h0.7v0.7h-0.7zM408.3 174.2h0.7v0.7h-0.7zM398.0 194.7h0.7v0.7h-0.7zM388.7 187.5h0.7v0.7h-0.7zM393.7 189.1h0.7v0.7h-0.7zM385.4 200.8h0.7v0.7h-0.7zM395.7 188.0h0.7v0.7h-0.7zM385.9 198.3h0.7v0.7h-0.7zM393.7 184.2h0.7v0.7h-0.7zM400.7 183.9h0.7v0.7h-0.7zM393.3 195.1h0.7v0.7h-0.7zM387.4 209.1h0.7v0.7h-0.7zM405.6 188.5h0.7v0.7h-0.7zM392.5 195.4h0.7v0.7h-0.7zM386.1 196.0h0.7v0.7h-0.7zM396.5 187.6h0.7v0.7h-0.7zM388.4 188.7h0.7v0.7h-0.7zM401.8 180.1h0.7v0.7h-0.7zM394.4 189.2h0.7v0.7h-0.7zM412.3 182.4h0.7v0.7h-0.7zM401.2 183.8h0.7v0.7h-0.7zM394.1 192.6h0.7v0.7h-0.7zM393.1 190.5h0.7v0.7h-0.7zM390.4 198.0h0.7v0.7h-0.7zM394.6 184.8h0.7v0.7h-0.7zM394.8 189.9h0.7v0.7h-0.7zM390.5 192.4h0.7v0.7h-0.7zM396.0 182.9h0.7v0.7h-0.7zM385.9 198.0h0.7v0.7h-0.7zM396.5 188.6h0.7v0.7h-0.7zM389.9 197.8h0.7v0.7h-0.7zM392.5 195.7h0.7v0.7h-0.7zM391.7 192.0h0.7v0.7h-0.7zM402.5 180.4h0.7v0.7h-0.7zM396.4 187.8h0.7v0.7h-0.7zM390.6 186.9h0.7v0.7h-0.7zM390.2 191.2h0.7v0.7h-0.7zM392.2 183.5h0.7v0.7h-0.7zM399.4 189.8h0.7v0.7h-0.7zM391.9 196.3h0.7v0.7h-0.7zM390.0 190.8h0.7v0.7h-0.7zM406.1 184.3h0.7v0.7h-0.7zM398.9 193.3h0.7v0.7h-0.7zM396.8 191.3h0.7v0.7h-0.7zM388.3 185.7h0.7v0.7h-0.7zM396.1 183.1h0.7v0.7h-0.7zM395.7 197.5h0.7v0.7h-0.7zM393.9 189.2h0.7v0.7h-0.7zM389.6 203.5h0.7v0.7h-0.7zM404.1 181.7h0.7v0.7h-0.7zM392.0 190.9h0.7v0.7h-0.7zM386.3 201.6h0.7v0.7h-0.7zM396.1 189.9h0.7v0.7h-0.7zM398.9 193.5h0.7v0.7h-0.7zM396.8 193.5h0.7v0.7h-0.7zM398.0 181.6h0.7v0.7h-0.7zM394.2 185.5h0.7v0.7h-0.7zM397.7 187.7h0.7v0.7h-0.7zM393.6 190.5h0.7v0.7h-0.7zM397.5 199.8h0.7v0.7h-0.7zM388.0 199.7h0.7v0.7h-0.7zM402.5 192.6h0.7v0.7h-0.7zM397.1 189.8h0.7v0.7h-0.7zM393.2 193.5h0.7v0.7h-0.7zM396.2 190.6h0.7v0.7h-0.7zM400.7 182.7h0.7v0.7h-0.7zM399.6 194.1h0.7v0.7h-0.7zM395.5 187.2h0.7v0.7h-0.7zM401.0 181.8h0.7v0.7h-0.7zM402.4 181.7h0.7v0.7h-0.7zM399.5 186.5h0.7v0.7h-0.7zM388.0 195.2h0.7v0.7h-0.7zM400.6 190.4h0.7v0.7h-0.7zM406.0 185.4h0.7v0.7h-0.7zM391.0 193.3h0.7v0.7h-0.7zM396.2 192.8h0.7v0.7h-0.7zM399.2 182.7h0.7v0.7h-0.7zM394.3 185.8h0.7v0.7h-0.7zM397.2 185.9h0.7v0.7h-0.7zM388.8 192.7h0.7v0.7h-0.7zM384.1 194.7h0.7v0.7h-0.7zM394.1 190.7h0.7v0.7h-0.7zM398.7 187.1h0.7v0.7h-0.7zM397.5 201.0h0.7v0.7h-0.7zM390.3 186.8h0.7v0.7h-0.7zM403.8 184.0h0.7v0.7h-0.7zM399.5 185.1h0.7v0.7h-0.7zM393.3 187.3h0.7v0.7h-0.7zM394.0 200.0h0.7v0.7h-0.7zM404.0 182.5h0.7v0.7h-0.7zM393.8 186.6h0.7v0.7h-0.7zM385.6 198.8h0.7v0.7h-0.7zM401.9 186.9h0.7v0.7h-0.7zM397.2 194.2h0.7v0.7h-0.7zM395.3 188.0h0.7v0.7h-0.7zM401.9 186.2h0.7v0.7h-0.7zM399.4 189.2h0.7v0.7h-0.7zM402.8 180.0h0.7v0.7h-0.7zM397.0 187.9h0.7v0.7h-0.7zM398.4 189.2h0.7v0.7h-0.7zM398.5 182.1h0.7v0.7h-0.7zM400.0 187.5h0.7v0.7h-0.7zM402.1 188.6h0.7v0.7h-0.7zM390.2 198.8h0.7v0.7h-0.7zM398.5 186.5h0.7v0.7h-0.7zM399.8 185.9h0.7v0.7h-0.7zM396.0 192.6h0.7v0.7h-0.7zM391.1 189.3h0.7v0.7h-0.7zM397.2 187.4h0.7v0.7h-0.7zM403.3 184.2h0.7v0.7h-0.7zM395.9 187.4h0.7v0.7h-0.7zM403.4 183.7h0.7v0.7h-0.7zM399.0 197.8h0.7v0.7h-0.7zM400.2 182.9h0.7v0.7h-0.7zM394.4 185.9h0.7v0.7h-0.7zM394.0 190.8h0.7v0.7h-0.7zM396.7 192.2h0.7v0.7h-0.7zM391.8 190.9h0.7v0.7h-0.7zM393.8 193.0h0.7v0.7h-0.7zM393.7 191.5h0.7v0.7h-0.7zM395.9 180.2h0.7v0.7h-0.7zM399.7 182.2h0.7v0.7h-0.7zM403.8 189.6h0.7v0.7h-0.7zM383.1 202.2h0.7v0.7h-0.7zM393.5 193.7h0.7v0.7h-0.7zM394.2 198.2h0.7v0.7h-0.7zM400.4 179.7h0.7v0.7h-0.7zM403.0 178.2h0.7v0.7h-0.7zM395.3 185.9h0.7v0.7h-0.7zM389.6 196.8h0.7v0.7h-0.7zM388.8 192.3h0.7v0.7h-0.7zM401.2 185.4h0.7v0.7h-0.7zM396.6 188.8h0.7v0.7h-0.7zM398.9 188.5h0.7v0.7h-0.7zM399.7 181.5h0.7v0.7h-0.7zM399.6 183.0h0.7v0.7h-0.7zM384.3 198.9h0.7v0.7h-0.7zM398.7 190.4h0.7v0.7h-0.7zM397.9 186.8h0.7v0.7h-0.7zM397.9 186.0h0.7v0.7h-0.7zM392.8 181.4h0.7v0.7h-0.7zM397.9 188.0h0.7v0.7h-0.7zM396.6 182.7h0.7v0.7h-0.7zM402.3 185.7h0.7v0.7h-0.7zM407.2 181.5h0.7v0.7h-0.7zM386.1 185.6h0.7v0.7h-0.7zM397.8 188.0h0.7v0.7h-0.7zM381.2 189.3h0.7v0.7h-0.7zM396.7 188.9h0.7v0.7h-0.7zM389.2 196.9h0.7v0.7h-0.7zM411.5 183.5h0.7v0.7h-0.7zM400.9 186.7h0.7v0.7h-0.7zM398.9 182.5h0.7v0.7h-0.7zM404.2 193.6h0.7v0.7h-0.7zM392.6 192.9h0.7v0.7h-0.7zM386.4 193.6h0.7v0.7h-0.7zM386.9 194.9h0.7v0.7h-0.7zM401.1 183.2h0.7v0.7h-0.7zM393.9 187.6h0.7v0.7h-0.7zM391.9 193.6h0.7v0.7h-0.7zM397.5 181.3h0.7v0.7h-0.7zM398.4 186.5h0.7v0.7h-0.7zM401.0 181.1h0.7v0.7h-0.7zM397.2 196.4h0.7v0.7h-0.7zM394.9 193.2h0.7v0.7h-0.7zM394.6 189.9h0.7v0.7h-0.7zM398.0 186.1h0.7v0.7h-0.7zM403.7 184.9h0.7v0.7h-0.7zM396.6 198.3h0.7v0.7h-0.7zM400.3 186.9h0.7v0.7h-0.7zM398.9 191.6h0.7v0.7h-0.7zM402.0 185.7h0.7v0.7h-0.7zM398.2 188.8h0.7v0.7h-0.7zM389.7 192.4h0.7v0.7h-0.7zM396.3 195.3h0.7v0.7h-0.7zM395.3 188.4h0.7v0.7h-0.7zM395.7 188.1h0.7v0.7h-0.7zM395.6 189.4h0.7v0.7h-0.7zM382.1 198.3h0.7v0.7h-0.7zM390.8 179.8h0.7v0.7h-0.7zM391.2 189.1h0.7v0.7h-0.7zM403.7 182.7h0.7v0.7h-0.7zM404.2 190.3h0.7v0.7h-0.7zM390.4 194.6h0.7v0.7h-0.7zM402.2 185.0h0.7v0.7h-0.7zM404.7 184.3h0.7v0.7h-0.7zM395.2 178.6h0.7v0.7h-0.7zM387.9 193.3h0.7v0.7h-0.7zM388.3 192.7h0.7v0.7h-0.7zM397.4 175.8h0.7v0.7h-0.7zM390.8 201.0h0.7v0.7h-0.7zM398.6 185.5h0.7v0.7h-0.7zM398.6 188.5h0.7v0.7h-0.7zM393.1 194.6h0.7v0.7h-0.7zM399.1 193.6h0.7v0.7h-0.7zM391.2 196.2h0.7v0.7h-0.7zM389.3 188.6h0.7v0.7h-0.7zM391.2 187.3h0.7v0.7h-0.7zM401.1 185.4h0.7v0.7h-0.7zM396.9 191.3h0.7v0.7h-0.7zM398.6 184.7h0.7v0.7h-0.7zM392.5 197.2h0.7v0.7h-0.7zM403.9 190.6h0.7v0.7h-0.7zM392.6 186.5h0.7v0.7h-0.7zM398.7 186.5h0.7v0.7h-0.7zM396.2 187.3h0.7v0.7h-0.7zM386.8 195.5h0.7v0.7h-0.7zM389.3 198.7h0.7v0.7h-0.7zM395.7 192.1h0.7v0.7h-0.7zM394.7 185.8h0.7v0.7h-0.7zM398.6 187.0h0.7v0.7h-0.7zM395.8 189.9h0.7v0.7h-0.7zM393.5 192.4h0.7v0.7h-0.7zM397.7 191.4h0.7v0.7h-0.7zM399.9 187.4h0.7v0.7h-0.7zM402.1 186.5h0.7v0.7h-0.7zM397.9 186.8h0.7v0.7h-0.7zM401.2 182.9h0.7v0.7h-0.7zM391.9 188.5h0.7v0.7h-0.7zM399.8 191.0h0.7v0.7h-0.7zM390.4 199.6h0.7v0.7h-0.7zM397.3 195.6h0.7v0.7h-0.7zM397.5 185.8h0.7v0.7h-0.7zM391.2 187.6h0.7v0.7h-0.7zM404.5 183.8h0.7v0.7h-0.7zM393.7 197.7h0.7v0.7h-0.7zM400.5 182.3h0.7v0.7h-0.7zM392.3 194.5h0.7v0.7h-0.7zM387.4 195.1h0.7v0.7h-0.7zM404.3 186.4h0.7v0.7h-0.7zM394.5 191.9h0.7v0.7h-0.7zM398.6 186.3h0.7v0.7h-0.7zM385.5 197.0h0.7v0.7h-0.7zM398.8 194.6h0.7v0.7h-0.7zM391.2 193.8h0.7v0.7h-0.7zM395.0 184.5h0.7v0.7h-0.7zM387.9 195.5h0.7v0.7h-0.7zM387.8 202.8h0.7v0.7h-0.7zM398.5 187.9h0.7v0.7h-0.7zM401.9 192.2h0.7v0.7h-0.7zM406.4 188.4h0.7v0.7h-0.7zM394.3 186.0h0.7v0.7h-0.7zM403.5 178.6h0.7v0.7h-0.7zM392.7 191.0h0.7v0.7h-0.7zM388.1 192.4h0.7v0.7h-0.7zM398.3 188.4h0.7v0.7h-0.7zM389.7 194.2h0.7v0.7h-0.7zM395.8 184.2h0.7v0.7h-0.7zM393.0 201.0h0.7v0.7h-0.7zM402.5 182.6h0.7v0.7h-0.7zM391.1 191.9h0.7v0.7h-0.7zM393.6 189.6h0.7v0.7h-0.7zM400.6 187.4h0.7v0.7h-0.7zM394.4 190.0h0.7v0.7h-0.7zM395.8 191.9h0.7v0.7h-0.7zM394.6 194.2h0.7v0.7h-0.7zM401.6 187.2h0.7v0.7h-0.7zM397.0 182.4h0.7v0.7h-0.7zM384.0 193.2h0.7v0.7h-0.7zM393.9 188.3h0.7v0.7h-0.7zM398.7 196.1h0.7v0.7h-0.7zM385.2 198.4h0.7v0.7h-0.7zM399.8 185.0h0.7v0.7h-0.7zM394.2 189.6h0.7v0.7h-0.7zM392.7 191.2h0.7v0.7h-0.7zM397.4 199.3h0.7v0.7h-0.7zM397.0 188.9h0.7v0.7h-0.7zM393.5 192.6h0.7v0.7h-0.7zM398.5 189.5h0.7v0.7h-0.7zM406.9 186.0h0.7v0.7h-0.7zM405.8 181.1h0.7v0.7h-0.7zM397.7 188.5h0.7v0.7h-0.7zM394.3 184.8h0.7v0.7h-0.7zM401.2 187.0h0.7v0.7h-0.7zM389.8 193.5h0.7v0.7h-0.7zM385.6 197.5h0.7v0.7h-0.7zM400.8 190.0h0.7v0.7h-0.7zM400.2 194.4h0.7v0.7h-0.7zM390.2 198.0h0.7v0.7h-0.7zM398.9 195.0h0.7v0.7h-0.7zM403.0 180.2h0.7v0.7h-0.7zM393.8 193.8h0.7v0.7h-0.7zM394.0 188.7h0.7v0.7h-0.7zM404.6 185.6h0.7v0.7h-0.7zM402.9 190.5h0.7v0.7h-0.7zM390.6 199.8h0.7v0.7h-0.7zM397.9 186.9h0.7v0.7h-0.7zM399.2 187.0h0.7v0.7h-0.7zM398.5 194.1h0.7v0.7h-0.7zM398.9 197.4h0.7v0.7h-0.7zM395.0 187.3h0.7v0.7h-0.7zM392.0 185.8h0.7v0.7h-0.7zM395.5 194.9h0.7v0.7h-0.7zM388.2 193.1h0.7v0.7h-0.7zM395.0 186.3h0.7v0.7h-0.7zM404.4 192.5h0.7v0.7h-0.7z"/>
<path fill="#333" fill-opacity="0.3" d="M399.7 165.3h0.7v0.7h-0.7zM395.5 182.3h0.7v0.7h-0.7zM391.9 163.9h0.7v0.7h-0.7zM388.4 191.6h0.7v0.7h-0.7zM406.1 173.8h0.7v0.7h-0.7zM401.0 184.1h0.7v0.7h-0.7zM389.9 173.9h0.7v0.7h-0.7zM386.9 183.7h0.7v0.7h-0.7zM397.4 181.7h0.7v0.7h-0.7zM389.6 186.7h0.7v0.7h-0.7zM398.5 175.3h0.7v0.7h-0.7zM398.9 182.9h0.7v0.7h-0.7zM387.2 188.6h0.7v0.7h-0.7zM398.7 179.5h0.7v0.7h-0.7zM408.6 160.3h0.7v0.7h-0.7zM399.1 174.7h0.7v0.7h-0.7zM398.6 182.0h0.7v0.7h-0.7zM401.6 173.0h0.7v0.7h-0.7zM401.8 178.7h0.7v0.7h-0.7zM399.9 171.2h0.7v0.7h-0.7zM404.0 172.5h0.7v0.7h-0.7zM396.6 174.6h0.7v0.7h-0.7zM395.8 194.4h0.7v0.7h-0.7zM403.4 173.6h0.7v0.7h-0.7zM397.7 180.1h0.7v0.7h-0.7zM400.9 182.7h0.7v0.7h-0.7zM391.1 181.5h0.7v0.7h-0.7zM396.8 182.3h0.7v0.7h-0.7zM393.7 178.4h0.7v0.7h-0.7zM389.8 201.1h0.7v0.7h-0.7zM398.0 177.0h0.7v0.7h-0.7zM414.2 160.0h0.7v0.7h-0.7zM386.0 200.5h0.7v0.7h-0.7zM409.5 179.7h0.7v0.7h-0.7zM404.7 186.2h0.7v0.7h-0.7zM392.2 164.4h0.7v0.7h-0.7zM396.1 189.9h0.7v0.7h-0.7zM401.8 173.3h0.7v0.7h-0.7zM401.9 183.9h0.7v0.7h-0.7zM400.2 177.9h0.7v0.7h-0.7zM404.4 173.6h0.7v0.7h-0.7zM394.9 172.9h0.7v0.7h-0.7zM397.8 176.7h0.7v0.7h-0.7zM405.1 178.3h0.7v0.7h-0.7zM399.4 177.6h0.7v0.7h-0.7zM407.0 175.2h0.7v0.7h-0.7zM405.7 169.6h0.7v0.7h-0.7zM402.8 174.2h0.7v0.7h-0.7zM394.4 167.8h0.7v0.7h-0.7zM400.7 184.0h0.7v0.7h-0.7zM406.2 173.7h0.7v0.7h-0.7zM399.2 167.6h0.7v0.7h-0.7zM399.9 170.7h0.7v0.7h-0.7zM395.5 172.0h0.7v0.7h-0.7zM397.0 176.6h0.7v0.7h-0.7zM390.9 186.1h0.7v0.7h-0.7zM399.7 186.3h0.7v0.7h-0.7zM405.1 173.4h0.7v0.7h-0.7zM407.0 166.9h0.7v0.7h-0.7zM386.8 185.5h0.7v0.7h-0.7zM396.4 170.1h0.7v0.7h-0.7zM390.3 194.7h0.7v0.7h-0.7zM392.5 178.2h0.7v0.7h-0.7zM396.5 182.0h0.7v0.7h-0.7zM401.9 184.6h0.7v0.7h-0.7zM388.8 181.4h0.7v0.7h-0.7zM393.3 183.6h0.7v0.7h-0.7zM394.6 178.2h0.7v0.7h-0.7zM407.2 168.1h0.7v0.7h-0.7zM396.7 187.3h0.7v0.7h-0.7zM406.9 154.9h0.7v0.7h-0.7zM395.1 164.7h0.7v0.7h-0.7zM400.9 168.5h0.7v0.7h-0.7zM393.1 185.7h0.7v0.7h-0.7zM406.5 174.6h0.7v0.7h-0.7zM388.9 180.1h0.7v0.7h-0.7zM390.1 201.7h0.7v0.7h-0.7zM398.3 167.2h0.7v0.7h-0.7zM400.9 193.5h0.7v0.7h-0.7zM395.4 169.5h0.7v0.7h-0.7zM400.3 180.8h0.7v0.7h-0.7zM403.3 190.1h0.7v0.7h-0.7zM390.2 187.8h0.7v0.7h-0.7zM395.0 166.6h0.7v0.7h-0.7zM397.9 182.8h0.7v0.7h-0.7zM402.1 173.6h0.7v0.7h-0.7zM404.9 172.5h0.7v0.7h-0.7zM403.9 174.1h0.7v0.7h-0.7zM399.5 168.6h0.7v0.7h-0.7zM400.4 178.2h0.7v0.7h-0.7zM406.3 174.5h0.7v0.7h-0.7zM392.9 190.3h0.7v0.7h-0.7zM402.4 178.9h0.7v0.7h-0.7zM393.9 178.5h0.7v0.7h-0.7zM397.3 172.5h0.7v0.7h-0.7zM398.9 165.5h0.7v0.7h-0.7zM390.9 189.3h0.7v0.7h-0.7zM391.2 197.2h0.7v0.7h-0.7zM398.6 170.8h0.7v0.7h-0.7zM403.9 164.4h0.7v0.7h-0.7zM405.1 163.1h0.7v0.7h-0.7zM405.3 167.1h0.7v0.7h-0.7zM393.4 191.6h0.7v0.7h-0.7zM405.5 167.8h0.7v0.7h-0.7zM397.2 167.9h0.7v0.7h-0.7zM396.9 183.0h0.7v0.7h-0.7zM396.3 175.7h0.7v0.7h-0.7zM389.1 188.7h0.7v0.7h-0.7zM394.2 186.2h0.7v0.7h-0.7zM406.7 168.9h0.7v0.7h-0.7zM395.1 178.6h0.7v0.7h-0.7zM398.9 169.6h0.7v0.7h-0.7zM395.8 160.5h0.7v0.7h-0.7zM401.0 170.6h0.7v0.7h-0.7zM406.9 166.0h0.7v0.7h-0.7zM399.7 178.5h0.7v0.7h-0.7zM399.0 187.2h0.7v0.7h-0.7zM398.3 177.5h0.7v0.7h-0.7zM401.0 174.5h0.7v0.7h-0.7zM402.6 166.5h0.7v0.7h-0.7zM402.2 161.0h0.7v0.7h-0.7zM397.0 171.3h0.7v0.7h-0.7zM394.9 179.4h0.7v0.7h-0.7zM398.8 178.7h0.7v0.7h-0.7zM390.4 196.0h0.7v0.7h-0.7zM398.5 174.6h0.7v0.7h-0.7zM395.4 186.6h0.7v0.7h-0.7zM391.8 181.0h0.7v0.7h-0.7zM401.0 171.1h0.7v0.7h-0.7zM393.4 172.4h0.7v0.7h-0.7zM402.3 174.9h0.7v0.7h-0.7zM405.0 179.7h0.7v0.7h-0.7zM406.7 158.6h0.7v0.7h-0.7zM402.9 165.7h0.7v0.7h-0.7zM392.4 174.0h0.7v0.7h-0.7zM396.8 187.1h0.7v0.7h-0.7zM402.5 179.6h0.7v0.7h-0.7zM388.9 199.1h0.7v0.7h-0.7zM400.7 184.4h0.7v0.7h-0.7zM400.9 176.5h0.7v0.7h-0.7zM390.9 181.9h0.7v0.7h-0.7zM381.2 186.7h0.7v0.7h-0.7zM390.6 184.9h0.7v0.7h-0.7zM401.1 172.5h0.7v0.7h-0.7zM399.3 172.6h0.7v0.7h-0.7zM406.3 162.5h0.7v0.7h-0.7zM401.2 160.1h0.7v0.7h-0.7zM401.3 176.1h0.7v0.7h-0.7zM397.0 179.9h0.7v0.7h-0.7zM402.1 172.0h0.7v0.7h-0.7zM400.0 188.6h0.7v0.7h-0.7zM408.2 179.8h0.7v0.7h-0.7zM394.5 188.1h0.7v0.7h-0.7zM400.1 173.5h0.7v0.7h-0.7zM398.7 184.8h0.7v0.7h-0.7zM397.6 171.7h0.7v0.7h-0.7zM395.3 182.2h0.7v0.7h-0.7zM393.6 176.7h0.7v0.7h-0.7zM398.5 176.6h0.7v0.7h-0.7zM385.4 180.4h0.7v0.7h-0.7zM399.2 182.5h0.7v0.7h-0.7zM399.4 172.3h0.7v0.7h-0.7zM392.8 181.1h0.7v0.7h-0.7zM401.5 181.1h0.7v0.7h-0.7zM401.4 164.6h0.7v0.7h-0.7zM398.9 187.4h0.7v0.7h-0.7zM402.4 174.2h0.7v0.7h-0.7zM398.5 173.2h0.7v0.7h-0.7zM398.7 181.1h0.7v0.7h-0.7zM391.2 177.3h0.7v0.7h-0.7zM397.0 168.3h0.7v0.7h-0.7zM395.8 176.3h0.7v0.7h-0.7zM398.6 181.4h0.7v0.7h-0.7zM401.5 174.6h0.7v0.7h-0.7zM402.3 168.2h0.7v0.7h-0.7zM402.9 167.4h0.7v0.7h-0.7zM408.1 165.6h0.7v0.7h-0.7zM399.2 174.3h0.7v0.7h-0.7zM398.2 175.8h0.7v0.7h-0.7zM394.3 175.6h0.7v0.7h-0.7zM403.0 180.9h0.7v0.7h-0.7zM396.4 187.1h0.7v0.7h-0.7zM396.7 176.1h0.7v0.7h-0.7zM392.7 183.2h0.7v0.7h-0.7zM410.9 158.3h0.7v0.7h-0.7zM398.1 184.9h0.7v0.7h-0.7zM393.8 182.6h0.7v0.7h-0.7zM410.1 163.4h0.7v0.7h-0.7zM403.9 186.5h0.7v0.7h-0.7zM405.3 159.0h0.7v0.7h-0.7zM398.0 178.4h0.7v0.7h-0.7zM397.6 173.2h0.7v0.7h-0.7zM398.3 173.6h0.7v0.7h-0.7zM396.5 177.4h0.7v0.7h-0.7zM395.2 176.7h0.7v0.7h-0.7zM409.8 174.3h0.7v0.7h-0.7zM399.0 165.7h0.7v0.7h-0.7zM395.4 186.1h0.7v0.7h-0.7zM395.0 177.7h0.7v0.7h-0.7zM397.7 174.5h0.7v0.7h-0.7zM401.6 180.6h0.7v0.7h-0.7zM390.8 182.6h0.7v0.7h-0.7zM397.0 168.6h0.7v0.7h-0.7zM388.0 191.9h0.7v0.7h-0.7zM392.1 180.5h0.7v0.7h-0.7zM400.9 188.1h0.7v0.7h-0.7zM409.2 173.7h0.7v0.7h-0.7zM388.3 161.3h0.7v0.7h-0.7zM403.1 166.3h0.7v0.7h-0.7zM396.7 171.5h0.7v0.7h-0.7zM394.7 197.2h0.7v0.7h-0.7zM391.2 190.2h0.7v0.7h-0.7zM401.6 175.2h0.7v0.7h-0.7zM403.5 164.1h0.7v0.7h-0.7zM398.7 166.5h0.7v0.7h-0.7zM402.7 181.7h0.7v0.7h-0.7zM391.1 181.8h0.7v0.7h-0.7zM405.4 171.3h0.7v0.7h-0.7zM396.3 168.1h0.7v0.7h-0.7zM411.6 179.7h0.7v0.7h-0.7zM385.8 196.9h0.7v0.7h-0.7zM402.4 169.6h0.7v0.7h-0.7zM391.8 175.7h0.7v0.7h-0.7zM397.7 171.9h0.7v0.7h-0.7zM400.4 180.8h0.7v0.7h-0.7zM388.9 199.4h0.7v0.7h-0.7zM391.2 188.2h0.7v0.7h-0.7zM402.4 174.2h0.7v0.7h-0.7zM387.4 197.2h0.7v0.7h-0.7zM392.2 192.2h0.7v0.7h-0.7zM401.8 153.5h0.7v0.7h-0.7zM403.5 177.7h0.7v0.7h-0.7zM402.8 169.2h0.7v0.7h-0.7zM402.9 186.4h0.7v0.7h-0.7zM401.3 186.3h0.7v0.7h-0.7zM402.5 161.8h0.7v0.7h-0.7zM397.8 171.6h0.7v0.7h-0.7zM391.7 177.6h0.7v0.7h-0.7zM397.4 191.5h0.7v0.7h-0.7zM409.7 157.9h0.7v0.7h-0.7zM389.6 182.9h0.7v0.7h-0.7zM406.3 169.2h0.7v0.7h-0.7zM394.4 183.6h0.7v0.7h-0.7zM409.9 174.9h0.7v0.7h-0.7zM406.4 171.2h0.7v0.7h-0.7zM402.8 158.1h0.7v0.7h-0.7zM404.5 175.1h0.7v0.7h-0.7zM390.9 180.4h0.7v0.7h-0.7zM402.6 181.4h0.7v0.7h-0.7zM397.8 180.0h0.7v0.7h-0.7zM397.5 164.8h0.7v0.7h-0.7zM407.4 167.2h0.7v0.7h-0.7zM401.6 164.0h0.7v0.7h-0.7zM400.0 182.9h0.7v0.7h-0.7zM401.4 183.9h0.7v0.7h-0.7zM401.4 165.7h0.7v0.7h-0.7zM401.3 175.8h0.7v0.7h-0.7zM395.0 170.5h0.7v0.7h-0.7zM394.9 176.7h0.7v0.7h-0.7zM401.8 186.4h0.7v0.7h-0.7zM399.0 185.2h0.7v0.7h-0.7zM398.6 173.7h0.7v0.7h-0.7zM399.5 171.0h0.7v0.7h-0.7zM405.3 161.3h0.7v0.7h-0.7zM397.4 160.7h0.7v0.7h-0.7zM409.4 164.8h0.7v0.7h-0.7zM403.3 186.8h0.7v0.7h-0.7zM401.9 178.1h0.7v0.7h-0.7zM402.2 168.2h0.7v0.7h-0.7zM399.6 170.9h0.7v0.7h-0.7zM400.3 177.6h0.7v0.7h-0.7zM407.9 159.9h0.7v0.7h-0.7zM405.8 169.4h0.7v0.7h-0.7zM399.5 168.9h0.7v0.7h-0.7zM401.6 179.7h0.7v0.7h-0.7zM392.0 179.0h0.7v0.7h-0.7zM405.4 175.5h0.7v0.7h-0.7zM398.1 178.9h0.7v0.7h-0.7zM404.3 175.3h0.7v0.7h-0.7zM408.8 168.6h0.7v0.7h-0.7z"/>
<path fill="#777" fill-opacity="0.35" d="M412.1 160.1h0.7v0.7h-0.7zM390.3 155.8h0.7v0.7h-0.7zM398.4 153.0h0.7v0.7h-0.7zM402.4 153.4h0.7v0.7h-0.7zM393.0 151.9h0.7v0.7h-0.7zM393.4 158.1h0.7v0.7h-0.7zM399.9 156.1h0.7v0.7h-0.7zM391.3 158.9h0.7v0.7h-0.7zM390.9 158.4h0.7v0.7h-0.7zM395.9 154.5h0.7v0.7h-0.7zM408.0 158.8h0.7v0.7h-0.7zM395.5 158.9h0.7v0.7h-0.7zM414.9 157.6h0.7v0.7h-0.7zM386.2 159.8h0.7v0.7h-0.7zM375.9 157.7h0.7v0.7h-0.7zM408.8 158.7h0.7v0.7h-0.7zM399.8 154.9h0.7v0.7h-0.7zM387.6 158.1h0.7v0.7h-0.7zM385.1 163.5h0.7v0.7h-0.7zM398.1 161.9h0.7v0.7h-0.7zM412.7 158.4h0.7v0.7h-0.7zM411.3 159.6h0.7v0.7h-0.7zM402.3 157.8h0.7v0.7h-0.7zM395.2 159.4h0.7v0.7h-0.7zM397.9 153.5h0.7v0.7h-0.7zM402.0 157.5h0.7v0.7h-0.7zM382.1 159.3h0.7v0.7h-0.7zM388.6 154.3h0.7v0.7h-0.7zM404.5 150.2h0.7v0.7h-0.7zM425.2 154.1h0.7v0.7h-0.7zM421.5 152.7h0.7v0.7h-0.7zM392.7 152.5h0.7v0.7h-0.7zM387.3 155.5h0.7v0.7h-0.7zM401.0 154.5h0.7v0.7h-0.7zM404.9 155.2h0.7v0.7h-0.7zM415.1 157.8h0.7v0.7h-0.7zM394.9 157.0h0.7v0.7h-0.7zM403.3 152.1h0.7v0.7h-0.7zM403.9 154.7h0.7v0.7h-0.7z"/>
<rect x="376.90" y="148.40" width="31.80" height="16.00" fill="none" stroke="#888" stroke-width="0.8" />
<rect x="373.90" y="146.10" width="66.60" height="64.90" fill="none" stroke="#111" stroke-width="1.3" />
<text class="p" x="366.90" y="154.10" font-size="5.4" text-anchor="middle" fill="#333">10<tspan font-size="2.97" dy="-2.43">5</tspan></text>
<text class="p" x="366.90" y="169.00" font-size="5.4" text-anchor="middle" fill="#333">10<tspan font-size="2.97" dy="-2.43">4</tspan></text>
<text class="p" x="366.90" y="183.80" font-size="5.4" text-anchor="middle" fill="#333">10<tspan font-size="2.97" dy="-2.43">3</tspan></text>
<text class="p" x="366.90" y="198.70" font-size="5.4" text-anchor="middle" fill="#333">10<tspan font-size="2.97" dy="-2.43">2</tspan></text>
<text x="369.70" y="205.80" font-size="5.4" text-anchor="end" font-weight="normal" fill="#333" class="t">0</text>
<text class="p" x="387.50" y="221.10" font-size="5.4" text-anchor="middle" fill="#333">10<tspan font-size="2.97" dy="-2.43">2</tspan></text>
<text class="p" x="403.50" y="221.10" font-size="5.4" text-anchor="middle" fill="#333">10<tspan font-size="2.97" dy="-2.43">3</tspan></text>
<text class="p" x="419.10" y="221.10" font-size="5.4" text-anchor="middle" fill="#333">10<tspan font-size="2.97" dy="-2.43">4</tspan></text>
<text class="p" x="434.10" y="221.10" font-size="5.4" text-anchor="middle" fill="#333">10<tspan font-size="2.97" dy="-2.43">5</tspan></text>
<text x="380.50" y="221.10" font-size="5.4" text-anchor="middle" font-weight="normal" fill="#333" class="t">0</text>
<text x="407.20" y="141.80" font-size="6.6" text-anchor="middle" font-weight="bold" fill="#111" >CD7 CAR</text>
<text x="336.40" y="158.60" font-size="6.2" text-anchor="middle" font-weight="normal" fill="#222" class="t">51</text>
<text x="422.70" y="157.60" font-size="6.2" text-anchor="middle" font-weight="normal" fill="#222" class="t">0.7</text>
<text x="241.00" y="264.00" font-size="11.2" text-anchor="start" font-weight="bold" fill="#111" >E</text>
<line x1="281.40" y1="275.50" x2="281.40" y2="371.90" stroke="#111" stroke-width="1.3" />
<line x1="277.70" y1="371.30" x2="281.40" y2="371.30" stroke="#111" stroke-width="1.1" />
<text x="275.40" y="374.10" font-size="8.2" text-anchor="end" font-weight="normal" fill="#222" >0</text>
<line x1="277.70" y1="355.78" x2="281.40" y2="355.78" stroke="#111" stroke-width="1.1" />
<text x="275.40" y="358.58" font-size="8.2" text-anchor="end" font-weight="normal" fill="#222" >10000</text>
<line x1="277.70" y1="340.27" x2="281.40" y2="340.27" stroke="#111" stroke-width="1.1" />
<text x="275.40" y="343.07" font-size="8.2" text-anchor="end" font-weight="normal" fill="#222" >20000</text>
<line x1="277.70" y1="324.75" x2="281.40" y2="324.75" stroke="#111" stroke-width="1.1" />
<text x="275.40" y="327.55" font-size="8.2" text-anchor="end" font-weight="normal" fill="#222" >30000</text>
<line x1="277.70" y1="309.23" x2="281.40" y2="309.23" stroke="#111" stroke-width="1.1" />
<text x="275.40" y="312.03" font-size="8.2" text-anchor="end" font-weight="normal" fill="#222" >40000</text>
<line x1="277.70" y1="293.72" x2="281.40" y2="293.72" stroke="#111" stroke-width="1.1" />
<text x="275.40" y="296.52" font-size="8.2" text-anchor="end" font-weight="normal" fill="#222" >50000</text>
<line x1="277.70" y1="278.20" x2="281.40" y2="278.20" stroke="#111" stroke-width="1.1" />
<text x="275.40" y="281.00" font-size="8.2" text-anchor="end" font-weight="normal" fill="#222" >60000</text>
<text transform="translate(247.8,319.2) rotate(-90)" font-size="8.1" text-anchor="middle" fill="#222">Live T-ALL cells / well</text>
<rect x="287.30" y="313.89" width="30.40" height="57.41" fill="#cd8f81" stroke="none" stroke-width="1" />
<rect x="329.60" y="369.44" width="30.00" height="1.86" fill="#8f99bb" stroke="none" stroke-width="1" />
<line x1="280.80" y1="371.30" x2="366.00" y2="371.30" stroke="#111" stroke-width="1.3" />
<line x1="302.40" y1="371.30" x2="302.40" y2="374.30" stroke="#111" stroke-width="1.1" />
<line x1="344.60" y1="371.30" x2="344.60" y2="374.30" stroke="#111" stroke-width="1.1" />
<circle cx="302.30" cy="291.90" r="1.78" fill="#8e1230"/>
<circle cx="302.30" cy="299.50" r="1.78" fill="#8e1230"/>
<circle cx="302.50" cy="353.70" r="1.78" fill="#8e1230"/>
<rect x="337.30" y="367.80" width="3.20" height="3.20" fill="#26357a"/>
<rect x="342.70" y="367.70" width="3.20" height="3.20" fill="#26357a"/>
<rect x="348.10" y="367.80" width="3.20" height="3.20" fill="#26357a"/>
<line x1="305.50" y1="284.90" x2="354.30" y2="284.90" stroke="#111" stroke-width="1.2" />
<circle cx="329.70" cy="280.50" r="1.25" fill="#111"/>
<text x="302.40" y="387.20" font-size="8.2" text-anchor="middle" fill="#222">CD7<tspan font-size="5.41" dy="-3.12">KO</tspan></text>
<text x="302.40" y="397.30" font-size="8.2" text-anchor="middle" font-weight="normal" fill="#333" >Ctrl CAR</text>
<text x="344.60" y="387.20" font-size="8.2" text-anchor="middle" fill="#222">CD7<tspan font-size="5.41" dy="-3.12">KO</tspan></text>
<text x="344.60" y="397.30" font-size="8.2" text-anchor="middle" font-weight="normal" fill="#333" >CD7 CAR</text>
<line x1="428.60" y1="274.00" x2="428.60" y2="371.50" stroke="#111" stroke-width="1.3" />
<line x1="424.90" y1="370.90" x2="428.60" y2="370.90" stroke="#111" stroke-width="1.1" />
<text x="421.90" y="373.70" font-size="7.9" text-anchor="end" font-weight="normal" fill="#222" >0</text>
<line x1="424.90" y1="352.26" x2="428.60" y2="352.26" stroke="#111" stroke-width="1.1" />
<text x="421.90" y="355.06" font-size="7.9" text-anchor="end" font-weight="normal" fill="#222" >20000</text>
<line x1="424.90" y1="333.62" x2="428.60" y2="333.62" stroke="#111" stroke-width="1.1" />
<text x="421.90" y="336.42" font-size="7.9" text-anchor="end" font-weight="normal" fill="#222" >40000</text>
<line x1="424.90" y1="314.98" x2="428.60" y2="314.98" stroke="#111" stroke-width="1.1" />
<text x="421.90" y="317.78" font-size="7.9" text-anchor="end" font-weight="normal" fill="#222" >60000</text>
<line x1="424.90" y1="296.34" x2="428.60" y2="296.34" stroke="#111" stroke-width="1.1" />
<text x="421.90" y="299.14" font-size="7.9" text-anchor="end" font-weight="normal" fill="#222" >80000</text>
<line x1="424.90" y1="277.70" x2="428.60" y2="277.70" stroke="#111" stroke-width="1.1" />
<text x="421.90" y="280.50" font-size="7.9" text-anchor="end" font-weight="normal" fill="#222" >100000</text>
<text transform="translate(390.0,322.0) rotate(-90)" font-size="8.6" text-anchor="middle" fill="#222">CAR T cells per well</text>
<rect x="434.40" y="335.00" width="30.40" height="35.90" fill="#cd8f81" stroke="none" stroke-width="1" />
<rect x="476.80" y="300.50" width="30.30" height="70.40" fill="#8f99bb" stroke="none" stroke-width="1" />
<line x1="428.00" y1="370.90" x2="512.40" y2="370.90" stroke="#111" stroke-width="1.3" />
<line x1="449.80" y1="370.90" x2="449.80" y2="373.90" stroke="#111" stroke-width="1.1" />
<line x1="491.80" y1="370.90" x2="491.80" y2="373.90" stroke="#111" stroke-width="1.1" />
<circle cx="449.80" cy="326.60" r="1.78" fill="#8e1230"/>
<circle cx="447.00" cy="341.60" r="1.78" fill="#8e1230"/>
<circle cx="452.90" cy="340.20" r="1.78" fill="#8e1230"/>
<rect x="490.20" y="283.30" width="3.20" height="3.20" fill="#26357a"/>
<rect x="490.20" y="300.30" width="3.20" height="3.20" fill="#26357a"/>
<rect x="490.20" y="315.00" width="3.20" height="3.20" fill="#26357a"/>
<line x1="443.30" y1="276.90" x2="492.30" y2="276.90" stroke="#111" stroke-width="1.2" />
<circle cx="467.70" cy="272.50" r="1.25" fill="#111"/>
<text x="449.80" y="387.20" font-size="8.2" text-anchor="middle" fill="#222">CD7<tspan font-size="5.41" dy="-3.12">KO</tspan></text>
<text x="449.80" y="397.30" font-size="8.2" text-anchor="middle" font-weight="normal" fill="#333" >Ctrl CAR</text>
<text x="491.80" y="387.20" font-size="8.2" text-anchor="middle" fill="#222">CD7<tspan font-size="5.41" dy="-3.12">KO</tspan></text>
<text x="491.80" y="397.30" font-size="8.2" text-anchor="middle" font-weight="normal" fill="#333" >CD7 CAR</text><path fill="none" stroke="#111" stroke-width="0.7" d="M147.1 80.1L149.3 80.1M148.0 75.6L149.3 75.6M148.0 72.9L149.3 72.9M148.0 71.1L149.3 71.1M148.0 69.6L149.3 69.6M148.0 68.4L149.3 68.4M148.0 67.4L149.3 67.4M148.0 66.6L149.3 66.6M148.0 65.8L149.3 65.8M147.1 65.1L149.3 65.1M148.0 60.6L149.3 60.6M148.0 57.9L149.3 57.9M148.0 56.1L149.3 56.1M148.0 54.6L149.3 54.6M148.0 53.4L149.3 53.4M148.0 52.4L149.3 52.4M148.0 51.6L149.3 51.6M148.0 50.8L149.3 50.8M147.1 50.1L149.3 50.1M148.0 45.6L149.3 45.6M148.0 42.9L149.3 42.9M148.0 41.1L149.3 41.1M148.0 39.6L149.3 39.6M148.0 38.4L149.3 38.4M148.0 37.4L149.3 37.4M148.0 36.6L149.3 36.6M148.0 35.8L149.3 35.8M147.1 35.1L149.3 35.1M148.0 86.4L149.3 86.4M148.0 84.8L149.3 84.8M148.0 83.7L149.3 83.7M157.5 87.9L157.5 90.1M162.0 87.9L162.0 89.2M164.7 87.9L164.7 89.2M166.6 87.9L166.6 89.2M168.1 87.9L168.1 89.2M169.3 87.9L169.3 89.2M170.3 87.9L170.3 89.2M171.1 87.9L171.1 89.2M171.9 87.9L171.9 89.2M172.6 87.9L172.6 90.1M177.1 87.9L177.1 89.2M179.8 87.9L179.8 89.2M181.7 87.9L181.7 89.2M183.2 87.9L183.2 89.2M184.4 87.9L184.4 89.2M185.4 87.9L185.4 89.2M186.2 87.9L186.2 89.2M187.0 87.9L187.0 89.2M187.7 87.9L187.7 90.1M192.2 87.9L192.2 89.2M194.9 87.9L194.9 89.2M196.8 87.9L196.8 89.2M198.3 87.9L198.3 89.2M199.5 87.9L199.5 89.2M200.5 87.9L200.5 89.2M201.3 87.9L201.3 89.2M202.1 87.9L202.1 89.2M202.8 87.9L202.8 90.1M149.6 87.9L149.6 89.2M151.5 87.9L151.5 89.2M153.0 87.9L153.0 89.2M154.2 87.9L154.2 89.2M155.2 87.9L155.2 89.2M156.0 87.9L156.0 89.2M156.8 87.9L156.8 89.2M207.3 87.9L207.3 89.2M222.6 80.1L224.8 80.1M223.5 75.6L224.8 75.6M223.5 72.9L224.8 72.9M223.5 71.1L224.8 71.1M223.5 69.6L224.8 69.6M223.5 68.4L224.8 68.4M223.5 67.4L224.8 67.4M223.5 66.6L224.8 66.6M223.5 65.8L224.8 65.8M222.6 65.1L224.8 65.1M223.5 60.6L224.8 60.6M223.5 57.9L224.8 57.9M223.5 56.1L224.8 56.1M223.5 54.6L224.8 54.6M223.5 53.4L224.8 53.4M223.5 52.4L224.8 52.4M223.5 51.6L224.8 51.6M223.5 50.8L224.8 50.8M222.6 50.1L224.8 50.1M223.5 45.6L224.8 45.6M223.5 42.9L224.8 42.9M223.5 41.1L224.8 41.1M223.5 39.6L224.8 39.6M223.5 38.4L224.8 38.4M223.5 37.4L224.8 37.4M223.5 36.6L224.8 36.6M223.5 35.8L224.8 35.8M222.6 35.1L224.8 35.1M223.5 86.4L224.8 86.4M223.5 84.8L224.8 84.8M223.5 83.7L224.8 83.7M233.0 87.9L233.0 90.1M237.5 87.9L237.5 89.2M240.2 87.9L240.2 89.2M242.1 87.9L242.1 89.2M243.6 87.9L243.6 89.2M244.8 87.9L244.8 89.2M245.8 87.9L245.8 89.2M246.6 87.9L246.6 89.2M247.4 87.9L247.4 89.2M248.1 87.9L248.1 90.1M252.6 87.9L252.6 89.2M255.3 87.9L255.3 89.2M257.2 87.9L257.2 89.2M258.7 87.9L258.7 89.2M259.9 87.9L259.9 89.2M260.9 87.9L260.9 89.2M261.7 87.9L261.7 89.2M262.5 87.9L262.5 89.2M263.2 87.9L263.2 90.1M267.7 87.9L267.7 89.2M270.4 87.9L270.4 89.2M272.3 87.9L272.3 89.2M273.8 87.9L273.8 89.2M275.0 87.9L275.0 89.2M276.0 87.9L276.0 89.2M276.8 87.9L276.8 89.2M277.6 87.9L277.6 89.2M278.3 87.9L278.3 90.1M225.1 87.9L225.1 89.2M227.0 87.9L227.0 89.2M228.5 87.9L228.5 89.2M229.7 87.9L229.7 89.2M230.7 87.9L230.7 89.2M231.5 87.9L231.5 89.2M232.3 87.9L232.3 89.2M282.8 87.9L282.8 89.2M298.3 80.1L300.5 80.1M299.2 75.6L300.5 75.6M299.2 72.9L300.5 72.9M299.2 71.1L300.5 71.1M299.2 69.6L300.5 69.6M299.2 68.4L300.5 68.4M299.2 67.4L300.5 67.4M299.2 66.6L300.5 66.6M299.2 65.8L300.5 65.8M298.3 65.1L300.5 65.1M299.2 60.6L300.5 60.6M299.2 57.9L300.5 57.9M299.2 56.1L300.5 56.1M299.2 54.6L300.5 54.6M299.2 53.4L300.5 53.4M299.2 52.4L300.5 52.4M299.2 51.6L300.5 51.6M299.2 50.8L300.5 50.8M298.3 50.1L300.5 50.1M299.2 45.6L300.5 45.6M299.2 42.9L300.5 42.9M299.2 41.1L300.5 41.1M299.2 39.6L300.5 39.6M299.2 38.4L300.5 38.4M299.2 37.4L300.5 37.4M299.2 36.6L300.5 36.6M299.2 35.8L300.5 35.8M298.3 35.1L300.5 35.1M299.2 86.4L300.5 86.4M299.2 84.8L300.5 84.8M299.2 83.7L300.5 83.7M308.7 87.9L308.7 90.1M313.2 87.9L313.2 89.2M315.9 87.9L315.9 89.2M317.8 87.9L317.8 89.2M319.3 87.9L319.3 89.2M320.5 87.9L320.5 89.2M321.5 87.9L321.5 89.2M322.3 87.9L322.3 89.2M323.1 87.9L323.1 89.2M323.8 87.9L323.8 90.1M328.3 87.9L328.3 89.2M331.0 87.9L331.0 89.2M332.9 87.9L332.9 89.2M334.4 87.9L334.4 89.2M335.6 87.9L335.6 89.2M336.6 87.9L336.6 89.2M337.4 87.9L337.4 89.2M338.2 87.9L338.2 89.2M338.9 87.9L338.9 90.1M343.4 87.9L343.4 89.2M346.1 87.9L346.1 89.2M348.0 87.9L348.0 89.2M349.5 87.9L349.5 89.2M350.7 87.9L350.7 89.2M351.7 87.9L351.7 89.2M352.5 87.9L352.5 89.2M353.3 87.9L353.3 89.2M354.0 87.9L354.0 90.1M300.8 87.9L300.8 89.2M302.7 87.9L302.7 89.2M304.2 87.9L304.2 89.2M305.4 87.9L305.4 89.2M306.4 87.9L306.4 89.2M307.2 87.9L307.2 89.2M308.0 87.9L308.0 89.2M358.5 87.9L358.5 89.2M373.4 80.1L375.6 80.1M374.3 75.6L375.6 75.6M374.3 72.9L375.6 72.9M374.3 71.1L375.6 71.1M374.3 69.6L375.6 69.6M374.3 68.4L375.6 68.4M374.3 67.4L375.6 67.4M374.3 66.6L375.6 66.6M374.3 65.8L375.6 65.8M373.4 65.1L375.6 65.1M374.3 60.6L375.6 60.6M374.3 57.9L375.6 57.9M374.3 56.1L375.6 56.1M374.3 54.6L375.6 54.6M374.3 53.4L375.6 53.4M374.3 52.4L375.6 52.4M374.3 51.6L375.6 51.6M374.3 50.8L375.6 50.8M373.4 50.1L375.6 50.1M374.3 45.6L375.6 45.6M374.3 42.9L375.6 42.9M374.3 41.1L375.6 41.1M374.3 39.6L375.6 39.6M374.3 38.4L375.6 38.4M374.3 37.4L375.6 37.4M374.3 36.6L375.6 36.6M374.3 35.8L375.6 35.8M373.4 35.1L375.6 35.1M374.3 86.4L375.6 86.4M374.3 84.8L375.6 84.8M374.3 83.7L375.6 83.7M383.8 87.9L383.8 90.1M388.3 87.9L388.3 89.2M391.0 87.9L391.0 89.2M392.9 87.9L392.9 89.2M394.4 87.9L394.4 89.2M395.6 87.9L395.6 89.2M396.6 87.9L396.6 89.2M397.4 87.9L397.4 89.2M398.2 87.9L398.2 89.2M398.9 87.9L398.9 90.1M403.4 87.9L403.4 89.2M406.1 87.9L406.1 89.2M408.0 87.9L408.0 89.2M409.5 87.9L409.5 89.2M410.7 87.9L410.7 89.2M411.7 87.9L411.7 89.2M412.5 87.9L412.5 89.2M413.3 87.9L413.3 89.2M414.0 87.9L414.0 90.1M418.5 87.9L418.5 89.2M421.2 87.9L421.2 89.2M423.1 87.9L423.1 89.2M424.6 87.9L424.6 89.2M425.8 87.9L425.8 89.2M426.8 87.9L426.8 89.2M427.6 87.9L427.6 89.2M428.4 87.9L428.4 89.2M429.1 87.9L429.1 90.1M375.9 87.9L375.9 89.2M377.8 87.9L377.8 89.2M379.3 87.9L379.3 89.2M380.5 87.9L380.5 89.2M381.5 87.9L381.5 89.2M382.3 87.9L382.3 89.2M383.1 87.9L383.1 89.2M433.6 87.9L433.6 89.2M449.1 80.1L451.3 80.1M450.0 75.6L451.3 75.6M450.0 72.9L451.3 72.9M450.0 71.1L451.3 71.1M450.0 69.6L451.3 69.6M450.0 68.4L451.3 68.4M450.0 67.4L451.3 67.4M450.0 66.6L451.3 66.6M450.0 65.8L451.3 65.8M449.1 65.1L451.3 65.1M450.0 60.6L451.3 60.6M450.0 57.9L451.3 57.9M450.0 56.1L451.3 56.1M450.0 54.6L451.3 54.6M450.0 53.4L451.3 53.4M450.0 52.4L451.3 52.4M450.0 51.6L451.3 51.6M450.0 50.8L451.3 50.8M449.1 50.1L451.3 50.1M450.0 45.6L451.3 45.6M450.0 42.9L451.3 42.9M450.0 41.1L451.3 41.1M450.0 39.6L451.3 39.6M450.0 38.4L451.3 38.4M450.0 37.4L451.3 37.4M450.0 36.6L451.3 36.6M450.0 35.8L451.3 35.8M449.1 35.1L451.3 35.1M450.0 86.4L451.3 86.4M450.0 84.8L451.3 84.8M450.0 83.7L451.3 83.7M459.5 87.9L459.5 90.1M464.0 87.9L464.0 89.2M466.7 87.9L466.7 89.2M468.6 87.9L468.6 89.2M470.1 87.9L470.1 89.2M471.3 87.9L471.3 89.2M472.3 87.9L472.3 89.2M473.1 87.9L473.1 89.2M473.9 87.9L473.9 89.2M474.6 87.9L474.6 90.1M479.1 87.9L479.1 89.2M481.8 87.9L481.8 89.2M483.7 87.9L483.7 89.2M485.2 87.9L485.2 89.2M486.4 87.9L486.4 89.2M487.4 87.9L487.4 89.2M488.2 87.9L488.2 89.2M489.0 87.9L489.0 89.2M489.7 87.9L489.7 90.1M494.2 87.9L494.2 89.2M496.9 87.9L496.9 89.2M498.8 87.9L498.8 89.2M500.3 87.9L500.3 89.2M501.5 87.9L501.5 89.2M502.5 87.9L502.5 89.2M503.3 87.9L503.3 89.2M504.1 87.9L504.1 89.2M504.8 87.9L504.8 90.1M451.6 87.9L451.6 89.2M453.5 87.9L453.5 89.2M455.0 87.9L455.0 89.2M456.2 87.9L456.2 89.2M457.2 87.9L457.2 89.2M458.0 87.9L458.0 89.2M458.8 87.9L458.8 89.2M509.3 87.9L509.3 89.2M287.4 166.9L289.6 166.9M288.3 162.4L289.6 162.4M288.3 159.8L289.6 159.8M288.3 157.9L289.6 157.9M288.3 156.5L289.6 156.5M288.3 155.3L289.6 155.3M288.3 154.3L289.6 154.3M288.3 153.4L289.6 153.4M288.3 152.7L289.6 152.7M287.4 181.7L289.6 181.7M288.3 177.2L289.6 177.2M288.3 174.6L289.6 174.6M288.3 172.8L289.6 172.8M288.3 171.4L289.6 171.4M288.3 170.2L289.6 170.2M288.3 169.2L289.6 169.2M288.3 168.3L289.6 168.3M288.3 167.6L289.6 167.6M287.4 196.6L289.6 196.6M288.3 192.1L289.6 192.1M288.3 189.5L289.6 189.5M288.3 187.6L289.6 187.6M288.3 186.2L289.6 186.2M288.3 185.0L289.6 185.0M288.3 184.0L289.6 184.0M288.3 183.1L289.6 183.1M288.3 182.4L289.6 182.4M287.4 152.0L289.6 152.0M287.4 203.8L289.6 203.8M288.3 199.5L289.6 199.5M288.3 201.5L289.6 201.5M288.3 206.0L289.6 206.0M288.3 208.0L289.6 208.0M303.2 211.0L303.2 213.2M308.0 211.0L308.0 212.3M310.8 211.0L310.8 212.3M312.8 211.0L312.8 212.3M314.4 211.0L314.4 212.3M315.7 211.0L315.7 212.3M316.7 211.0L316.7 212.3M317.6 211.0L317.6 212.3M318.5 211.0L318.5 212.3M319.2 211.0L319.2 213.2M323.9 211.0L323.9 212.3M326.6 211.0L326.6 212.3M328.6 211.0L328.6 212.3M330.1 211.0L330.1 212.3M331.3 211.0L331.3 212.3M332.4 211.0L332.4 212.3M333.3 211.0L333.3 212.3M334.1 211.0L334.1 212.3M334.8 211.0L334.8 213.2M339.3 211.0L339.3 212.3M342.0 211.0L342.0 212.3M343.8 211.0L343.8 212.3M345.3 211.0L345.3 212.3M346.5 211.0L346.5 212.3M347.5 211.0L347.5 212.3M348.3 211.0L348.3 212.3M349.1 211.0L349.1 212.3M349.8 211.0L349.8 213.2M296.2 211.0L296.2 213.2M292.1 211.0L292.1 212.3M294.1 211.0L294.1 212.3M298.6 211.0L298.6 212.3M300.6 211.0L300.6 212.3M371.7 166.9L373.9 166.9M372.6 162.4L373.9 162.4M372.6 159.8L373.9 159.8M372.6 157.9L373.9 157.9M372.6 156.5L373.9 156.5M372.6 155.3L373.9 155.3M372.6 154.3L373.9 154.3M372.6 153.4L373.9 153.4M372.6 152.7L373.9 152.7M371.7 181.7L373.9 181.7M372.6 177.2L373.9 177.2M372.6 174.6L373.9 174.6M372.6 172.8L373.9 172.8M372.6 171.4L373.9 171.4M372.6 170.2L373.9 170.2M372.6 169.2L373.9 169.2M372.6 168.3L373.9 168.3M372.6 167.6L373.9 167.6M371.7 196.6L373.9 196.6M372.6 192.1L373.9 192.1M372.6 189.5L373.9 189.5M372.6 187.6L373.9 187.6M372.6 186.2L373.9 186.2M372.6 185.0L373.9 185.0M372.6 184.0L373.9 184.0M372.6 183.1L373.9 183.1M372.6 182.4L373.9 182.4M371.7 152.0L373.9 152.0M371.7 203.8L373.9 203.8M372.6 199.5L373.9 199.5M372.6 201.5L373.9 201.5M372.6 206.0L373.9 206.0M372.6 208.0L373.9 208.0M387.5 211.0L387.5 213.2M392.3 211.0L392.3 212.3M395.1 211.0L395.1 212.3M397.1 211.0L397.1 212.3M398.7 211.0L398.7 212.3M400.0 211.0L400.0 212.3M401.0 211.0L401.0 212.3M401.9 211.0L401.9 212.3M402.8 211.0L402.8 212.3M403.5 211.0L403.5 213.2M408.2 211.0L408.2 212.3M410.9 211.0L410.9 212.3M412.9 211.0L412.9 212.3M414.4 211.0L414.4 212.3M415.6 211.0L415.6 212.3M416.7 211.0L416.7 212.3M417.6 211.0L417.6 212.3M418.4 211.0L418.4 212.3M419.1 211.0L419.1 213.2M423.6 211.0L423.6 212.3M426.3 211.0L426.3 212.3M428.1 211.0L428.1 212.3M429.6 211.0L429.6 212.3M430.8 211.0L430.8 212.3M431.8 211.0L431.8 212.3M432.6 211.0L432.6 212.3M433.4 211.0L433.4 212.3M434.1 211.0L434.1 213.2M380.5 211.0L380.5 213.2M376.4 211.0L376.4 212.3M378.4 211.0L378.4 212.3M382.9 211.0L382.9 212.3M384.9 211.0L384.9 212.3"/></svg>
</body></html>
